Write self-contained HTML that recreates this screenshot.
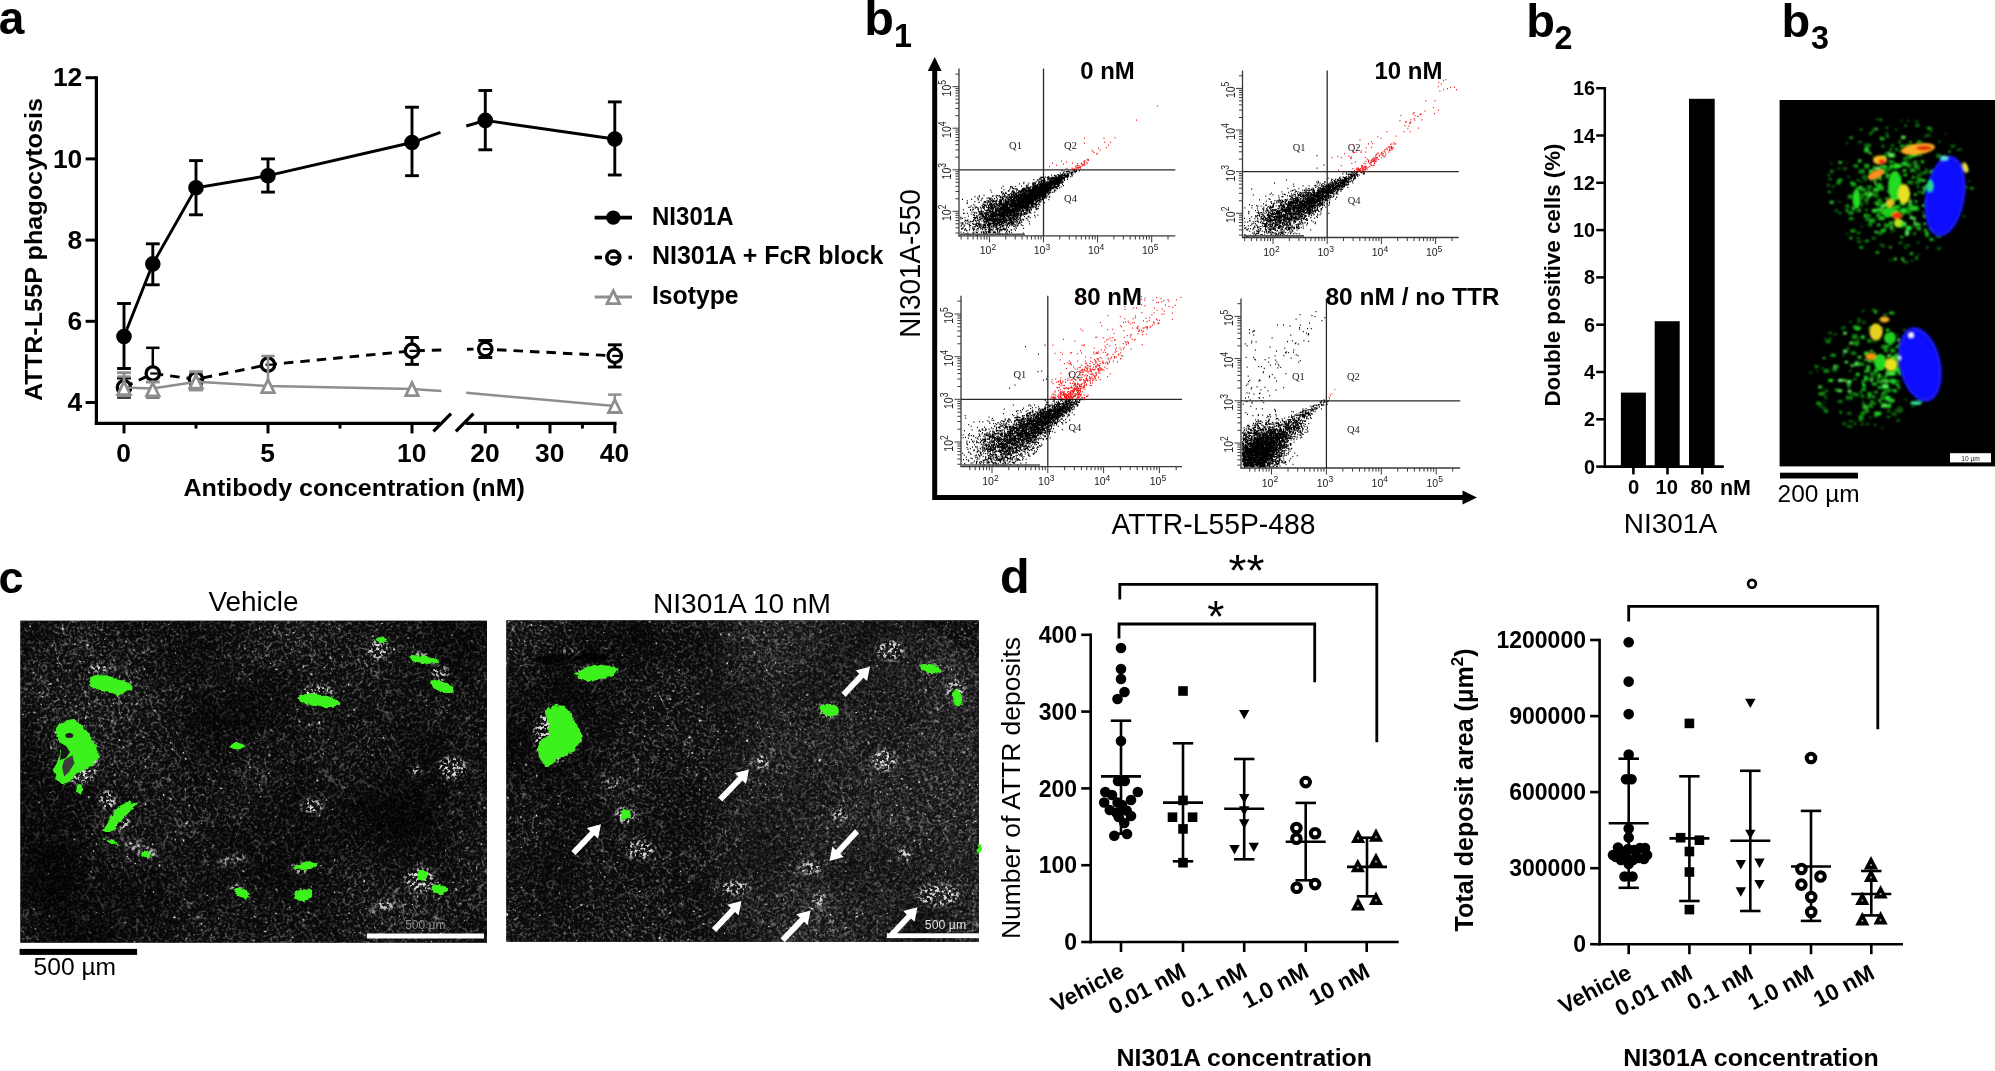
<!DOCTYPE html>
<html><head><meta charset="utf-8"><title>Figure</title>
<style>
html,body{margin:0;padding:0;background:#fff;}
body{width:1995px;height:1071px;overflow:hidden;}
svg{display:block;font-family:"Liberation Sans",sans-serif;}
</style></head><body>
<svg width="1995" height="1071" viewBox="0 0 1995 1071">
<rect width="1995" height="1071" fill="#fff"/>
<g id="panel-a">
<text x="-1.2" y="33.6" font-size="46" text-anchor="start" fill="#000" font-weight="bold" >a</text>
<line x1="96.4" y1="76.2" x2="96.4" y2="425" stroke="#000" stroke-width="3.2" />
<line x1="94.8" y1="423.4" x2="440" y2="423.4" stroke="#000" stroke-width="3.2" />
<line x1="465.6" y1="423.4" x2="616.5" y2="423.4" stroke="#000" stroke-width="3.2" />
<line x1="433.4" y1="431.3" x2="451" y2="413.7" stroke="#000" stroke-width="3.3" />
<line x1="455.9" y1="431.3" x2="473.4" y2="413.7" stroke="#000" stroke-width="3.3" />
<line x1="85.6" y1="402.5" x2="96.4" y2="402.5" stroke="#000" stroke-width="3" />
<text x="82.3" y="411.1" font-size="26.4" text-anchor="end" fill="#000" font-weight="bold" >4</text>
<line x1="85.6" y1="321.3" x2="96.4" y2="321.3" stroke="#000" stroke-width="3" />
<text x="82.3" y="329.9" font-size="26.4" text-anchor="end" fill="#000" font-weight="bold" >6</text>
<line x1="85.6" y1="240.1" x2="96.4" y2="240.1" stroke="#000" stroke-width="3" />
<text x="82.3" y="248.7" font-size="26.4" text-anchor="end" fill="#000" font-weight="bold" >8</text>
<line x1="85.6" y1="158.9" x2="96.4" y2="158.9" stroke="#000" stroke-width="3" />
<text x="82.3" y="167.5" font-size="26.4" text-anchor="end" fill="#000" font-weight="bold" >10</text>
<line x1="85.6" y1="77.7" x2="96.4" y2="77.7" stroke="#000" stroke-width="3" />
<text x="82.3" y="86.3" font-size="26.4" text-anchor="end" fill="#000" font-weight="bold" >12</text>
<line x1="124" y1="423.4" x2="124" y2="433.4" stroke="#000" stroke-width="3" />
<text x="123.7" y="461.9" font-size="26.4" text-anchor="middle" fill="#000" font-weight="bold" >0</text>
<line x1="268" y1="423.4" x2="268" y2="433.4" stroke="#000" stroke-width="3" />
<text x="267.7" y="461.9" font-size="26.4" text-anchor="middle" fill="#000" font-weight="bold" >5</text>
<line x1="412" y1="423.4" x2="412" y2="433.4" stroke="#000" stroke-width="3" />
<text x="411.7" y="461.9" font-size="26.4" text-anchor="middle" fill="#000" font-weight="bold" >10</text>
<line x1="485.3" y1="423.4" x2="485.3" y2="433.4" stroke="#000" stroke-width="3" />
<text x="485" y="461.9" font-size="26.4" text-anchor="middle" fill="#000" font-weight="bold" >20</text>
<line x1="550" y1="423.4" x2="550" y2="433.4" stroke="#000" stroke-width="3" />
<text x="549.8" y="461.9" font-size="26.4" text-anchor="middle" fill="#000" font-weight="bold" >30</text>
<line x1="614.8" y1="423.4" x2="614.8" y2="433.4" stroke="#000" stroke-width="3" />
<text x="614.5" y="461.9" font-size="26.4" text-anchor="middle" fill="#000" font-weight="bold" >40</text>
<line x1="196" y1="423.4" x2="196" y2="428.6" stroke="#000" stroke-width="3" />
<line x1="340" y1="423.4" x2="340" y2="428.6" stroke="#000" stroke-width="3" />
<line x1="517.7" y1="423.4" x2="517.7" y2="428.6" stroke="#000" stroke-width="3" />
<line x1="582.4" y1="423.4" x2="582.4" y2="428.6" stroke="#000" stroke-width="3" />
<text x="354.2" y="496.3" font-size="24.8" text-anchor="middle" fill="#000" font-weight="bold" textLength="341.5" lengthAdjust="spacingAndGlyphs" >Antibody concentration (nM)</text>
<text x="42" y="249.5" font-size="24.5" text-anchor="middle" fill="#000" font-weight="bold" transform="rotate(-90 42 249.5)" textLength="303" lengthAdjust="spacingAndGlyphs" >ATTR-L55P phagocytosis</text>
<polyline fill="none" stroke="#000" stroke-width="2.9" stroke-dasharray="9.5 7" points="124,387.4 152.8,373.5 196,379.3 268,364.7 412,350.9 447,349.8"/>
<polyline fill="none" stroke="#000" stroke-width="2.9" stroke-dasharray="9.5 7" stroke-dashoffset="3" points="467,349.2 485.4,349.1 614.3,355.9"/>
<line x1="124" y1="378" x2="124" y2="397.3" stroke="#000" stroke-width="2.9" />
<line x1="117.1" y1="378" x2="130.9" y2="378" stroke="#000" stroke-width="2.9" />
<line x1="117.1" y1="397.3" x2="130.9" y2="397.3" stroke="#000" stroke-width="2.9" />
<line x1="152.8" y1="347.8" x2="152.8" y2="366" stroke="#000" stroke-width="2.5" />
<line x1="146.1" y1="347.8" x2="159.5" y2="347.8" stroke="#000" stroke-width="2.5" />
<line x1="146.1" y1="397.3" x2="159.5" y2="397.3" stroke="#000" stroke-width="2.5" />
<line x1="196" y1="375" x2="196" y2="384" stroke="#333" stroke-width="2.9" />
<line x1="189.1" y1="375" x2="202.9" y2="375" stroke="#333" stroke-width="2.9" />
<line x1="189.1" y1="384" x2="202.9" y2="384" stroke="#333" stroke-width="2.9" />
<line x1="412" y1="337.5" x2="412" y2="364.4" stroke="#000" stroke-width="2.9" />
<line x1="405.1" y1="337.5" x2="418.9" y2="337.5" stroke="#000" stroke-width="2.9" />
<line x1="405.1" y1="364.4" x2="418.9" y2="364.4" stroke="#000" stroke-width="2.9" />
<line x1="485.3" y1="340.5" x2="485.3" y2="357.5" stroke="#000" stroke-width="2.9" />
<line x1="478.4" y1="340.5" x2="492.2" y2="340.5" stroke="#000" stroke-width="2.9" />
<line x1="478.4" y1="357.5" x2="492.2" y2="357.5" stroke="#000" stroke-width="2.9" />
<line x1="614.8" y1="344.8" x2="614.8" y2="367" stroke="#000" stroke-width="2.9" />
<line x1="607.9" y1="344.8" x2="621.7" y2="344.8" stroke="#000" stroke-width="2.9" />
<line x1="607.9" y1="367" x2="621.7" y2="367" stroke="#000" stroke-width="2.9" />
<circle cx="124" cy="387.4" r="6.7" fill="#fff" stroke="#000" stroke-width="3.3"/>
<line x1="121.5" y1="387.4" x2="129" y2="387.4" stroke="#000" stroke-width="2.2" />
<circle cx="152.8" cy="373.5" r="6.7" fill="#fff" stroke="#000" stroke-width="3.3"/>
<line x1="150.3" y1="373.5" x2="157.8" y2="373.5" stroke="#000" stroke-width="2.2" />
<circle cx="196" cy="379.3" r="6.7" fill="#fff" stroke="#000" stroke-width="3.3"/>
<line x1="193.5" y1="379.3" x2="201" y2="379.3" stroke="#000" stroke-width="2.2" />
<circle cx="268" cy="364.7" r="6.7" fill="#fff" stroke="#000" stroke-width="3.3"/>
<line x1="265.5" y1="364.7" x2="273" y2="364.7" stroke="#000" stroke-width="2.2" />
<circle cx="412" cy="350.9" r="6.7" fill="#fff" stroke="#000" stroke-width="3.3"/>
<line x1="409.5" y1="350.9" x2="417" y2="350.9" stroke="#000" stroke-width="2.2" />
<circle cx="485.3" cy="349.1" r="6.7" fill="#fff" stroke="#000" stroke-width="3.3"/>
<line x1="482.8" y1="349.1" x2="490.3" y2="349.1" stroke="#000" stroke-width="2.2" />
<circle cx="614.8" cy="355.9" r="6.7" fill="#fff" stroke="#000" stroke-width="3.3"/>
<line x1="612.3" y1="355.9" x2="619.8" y2="355.9" stroke="#000" stroke-width="2.2" />
<polyline fill="none" stroke="#8e8e8e" stroke-width="2.5" points="123.5,387.5 152.3,388.5 196.7,381.8 268.5,386 411.9,389 441.5,391"/>
<line x1="466.2" y1="392.8" x2="614.6" y2="405.9" stroke="#8e8e8e" stroke-width="2.5" />
<line x1="124" y1="372.7" x2="124" y2="396" stroke="#8e8e8e" stroke-width="2.9" />
<line x1="117.1" y1="372.7" x2="130.9" y2="372.7" stroke="#8e8e8e" stroke-width="2.9" />
<line x1="117.1" y1="396" x2="130.9" y2="396" stroke="#8e8e8e" stroke-width="2.9" />
<line x1="117.3" y1="376.6" x2="130.7" y2="376.6" stroke="#8e8e8e" stroke-width="2.5" />
<line x1="152.8" y1="382" x2="152.8" y2="396.5" stroke="#8e8e8e" stroke-width="2.9" />
<line x1="145.9" y1="382" x2="159.7" y2="382" stroke="#8e8e8e" stroke-width="2.9" />
<line x1="145.9" y1="396.5" x2="159.7" y2="396.5" stroke="#8e8e8e" stroke-width="2.9" />
<line x1="196" y1="371.7" x2="196" y2="390" stroke="#8e8e8e" stroke-width="2.9" />
<line x1="189.1" y1="371.7" x2="202.9" y2="371.7" stroke="#8e8e8e" stroke-width="2.9" />
<line x1="189.1" y1="390" x2="202.9" y2="390" stroke="#8e8e8e" stroke-width="2.9" />
<line x1="268" y1="356" x2="268" y2="388" stroke="#8e8e8e" stroke-width="2.5" />
<line x1="261.3" y1="356" x2="274.7" y2="356" stroke="#8e8e8e" stroke-width="2.5" />
<line x1="614.8" y1="394.6" x2="614.8" y2="400" stroke="#8e8e8e" stroke-width="2.5" />
<line x1="608.1" y1="394.6" x2="621.5" y2="394.6" stroke="#8e8e8e" stroke-width="2.5" />
<path d="M124 381.7L130.3 394.6L117.7 394.6Z" fill="#fff" stroke="#8e8e8e" stroke-width="2.8" stroke-linejoin="miter"/>
<path d="M152.8 383L159.1 395.9L146.5 395.9Z" fill="#fff" stroke="#8e8e8e" stroke-width="2.8" stroke-linejoin="miter"/>
<path d="M196 375.2L202.3 388.1L189.7 388.1Z" fill="#fff" stroke="#8e8e8e" stroke-width="2.8" stroke-linejoin="miter"/>
<path d="M268 379.7L274.3 392.6L261.7 392.6Z" fill="#fff" stroke="#8e8e8e" stroke-width="2.8" stroke-linejoin="miter"/>
<path d="M412 382.7L418.3 395.6L405.7 395.6Z" fill="#fff" stroke="#8e8e8e" stroke-width="2.8" stroke-linejoin="miter"/>
<path d="M614.8 399.6L621.1 412.5L608.5 412.5Z" fill="#fff" stroke="#8e8e8e" stroke-width="2.8" stroke-linejoin="miter"/>
<polyline fill="none" stroke="#000" stroke-width="2.9" points="124,336.5 152.8,263.9 196,187.8 268,175.7 412,142.5 440.5,132.4"/>
<polyline fill="none" stroke="#000" stroke-width="2.9" points="466.3,126 485.4,120.4 614.3,139"/>
<line x1="124" y1="303.5" x2="124" y2="368.5" stroke="#000" stroke-width="2.9" />
<line x1="117.1" y1="303.5" x2="130.9" y2="303.5" stroke="#000" stroke-width="2.9" />
<line x1="117.1" y1="368.5" x2="130.9" y2="368.5" stroke="#000" stroke-width="2.9" />
<circle cx="124" cy="336.5" r="7.8" fill="#000"/>
<line x1="152.8" y1="243.8" x2="152.8" y2="284.8" stroke="#000" stroke-width="2.9" />
<line x1="145.9" y1="243.8" x2="159.7" y2="243.8" stroke="#000" stroke-width="2.9" />
<line x1="145.9" y1="284.8" x2="159.7" y2="284.8" stroke="#000" stroke-width="2.9" />
<circle cx="152.8" cy="263.9" r="7.8" fill="#000"/>
<line x1="196" y1="160.6" x2="196" y2="214.8" stroke="#000" stroke-width="2.9" />
<line x1="189.1" y1="160.6" x2="202.9" y2="160.6" stroke="#000" stroke-width="2.9" />
<line x1="189.1" y1="214.8" x2="202.9" y2="214.8" stroke="#000" stroke-width="2.9" />
<circle cx="196" cy="187.8" r="7.8" fill="#000"/>
<line x1="268" y1="158.9" x2="268" y2="192.1" stroke="#000" stroke-width="2.9" />
<line x1="261.1" y1="158.9" x2="274.9" y2="158.9" stroke="#000" stroke-width="2.9" />
<line x1="261.1" y1="192.1" x2="274.9" y2="192.1" stroke="#000" stroke-width="2.9" />
<circle cx="268" cy="175.7" r="7.8" fill="#000"/>
<line x1="412" y1="107.2" x2="412" y2="175.7" stroke="#000" stroke-width="2.9" />
<line x1="405.1" y1="107.2" x2="418.9" y2="107.2" stroke="#000" stroke-width="2.9" />
<line x1="405.1" y1="175.7" x2="418.9" y2="175.7" stroke="#000" stroke-width="2.9" />
<circle cx="412" cy="142.5" r="7.8" fill="#000"/>
<line x1="485.3" y1="90.5" x2="485.3" y2="149.8" stroke="#000" stroke-width="2.9" />
<line x1="478.4" y1="90.5" x2="492.2" y2="90.5" stroke="#000" stroke-width="2.9" />
<line x1="478.4" y1="149.8" x2="492.2" y2="149.8" stroke="#000" stroke-width="2.9" />
<circle cx="485.3" cy="120.4" r="7.8" fill="#000"/>
<line x1="614.8" y1="101.9" x2="614.8" y2="175" stroke="#000" stroke-width="2.9" />
<line x1="607.9" y1="101.9" x2="621.7" y2="101.9" stroke="#000" stroke-width="2.9" />
<line x1="607.9" y1="175" x2="621.7" y2="175" stroke="#000" stroke-width="2.9" />
<circle cx="614.8" cy="139" r="7.8" fill="#000"/>
<line x1="594.6" y1="217.6" x2="632" y2="217.6" stroke="#000" stroke-width="3.6" />
<circle cx="613.3" cy="217.6" r="7.2" fill="#000"/>
<text x="652" y="224.6" font-size="25.7" text-anchor="start" fill="#000" font-weight="bold" textLength="81.5" lengthAdjust="spacingAndGlyphs" >NI301A</text>
<line x1="594.6" y1="257.5" x2="602" y2="257.5" stroke="#000" stroke-width="3.6" />
<line x1="628.5" y1="257.5" x2="632" y2="257.5" stroke="#000" stroke-width="3.6" />
<circle cx="613.3" cy="257.5" r="6.5" fill="#fff" stroke="#000" stroke-width="3.6"/>
<line x1="610.3" y1="257.5" x2="618.3" y2="257.5" stroke="#000" stroke-width="2.6" />
<text x="652" y="264.2" font-size="25.7" text-anchor="start" fill="#000" font-weight="bold" textLength="231.5" lengthAdjust="spacingAndGlyphs" >NI301A + FcR block</text>
<line x1="594.6" y1="297" x2="632" y2="297" stroke="#8e8e8e" stroke-width="3.2" />
<path d="M613.3 290.7L619.6 303.6L607 303.6Z" fill="#fff" stroke="#8e8e8e" stroke-width="2.8" stroke-linejoin="miter"/>
<text x="652" y="304.2" font-size="25.7" text-anchor="start" fill="#000" font-weight="bold" textLength="86.5" lengthAdjust="spacingAndGlyphs" >Isotype</text>
</g>
<g id="panel-b1">
<text x="864.3" y="35.3" font-size="48.5" text-anchor="start" fill="#000" font-weight="bold" >b</text>
<text x="894" y="47" font-size="32.3" text-anchor="start" fill="#000" font-weight="bold" >1</text>
<path d="M934.7 69V497.5H1464" fill="none" stroke="#000" stroke-width="5"/>
<path d="M934.7 57L941.6 71H927.8Z" fill="#000"/>
<path d="M1477 497.5L1462.5 490.6V504.4Z" fill="#000"/>
<text x="920" y="263.5" font-size="29.5" text-anchor="middle" fill="#000" transform="rotate(-90 920 263.5)" textLength="148.5" lengthAdjust="spacingAndGlyphs" >NI301A-550</text>
<text x="1213.5" y="534.2" font-size="28.6" text-anchor="middle" fill="#000" textLength="204" lengthAdjust="spacingAndGlyphs" >ATTR-L55P-488</text>
<line x1="959" y1="68.5" x2="959" y2="236.4" stroke="#3a3a3a" stroke-width="1.3" />
<line x1="958.5" y1="235.9" x2="1175.3" y2="235.9" stroke="#3a3a3a" stroke-width="1.3" />
<path d="M961.1 235.9v3.6M959 233h-3.6M967.9 235.9v3.6M959 227.8h-3.6M973.1 235.9v3.6M959 223.8h-3.6M977.4 235.9v3.6M959 220.5h-3.6M981 235.9v3.6M959 217.7h-3.6M984.2 235.9v3.6M959 215.3h-3.6M986.9 235.9v3.6M959 213.2h-3.6M989.4 235.9v6.5M959 211.3h-6.5M1005.7 235.9v3.6M959 198.8h-3.6M1015.2 235.9v3.6M959 191.5h-3.6M1022 235.9v3.6M959 186.3h-3.6M1027.2 235.9v3.6M959 182.3h-3.6M1031.5 235.9v3.6M959 179h-3.6M1035.1 235.9v3.6M959 176.2h-3.6M1038.3 235.9v3.6M959 173.8h-3.6M1041 235.9v3.6M959 171.7h-3.6M1043.5 235.9v6.5M959 169.8h-6.5M1059.8 235.9v3.6M959 157.2h-3.6M1069.3 235.9v3.6M959 149.9h-3.6M1076.1 235.9v3.6M959 144.7h-3.6M1081.3 235.9v3.6M959 140.7h-3.6M1085.6 235.9v3.6M959 137.4h-3.6M1089.2 235.9v3.6M959 134.6h-3.6M1092.4 235.9v3.6M959 132.2h-3.6M1095.1 235.9v3.6M959 130.1h-3.6M1097.6 235.9v6.5M959 128.2h-6.5M1113.9 235.9v3.6M959 115.7h-3.6M1123.4 235.9v3.6M959 108.4h-3.6M1130.2 235.9v3.6M959 103.2h-3.6M1135.4 235.9v3.6M959 99.2h-3.6M1139.7 235.9v3.6M959 95.9h-3.6M1143.3 235.9v3.6M959 93.1h-3.6M1146.5 235.9v3.6M959 90.7h-3.6M1149.2 235.9v3.6M959 88.6h-3.6M1151.7 235.9v6.5M959 86.7h-6.5M1168 235.9v3.6M959 74.1h-3.6" stroke="#3a3a3a" stroke-width="1" fill="none"/>
<text x="987.9" y="254.4" font-size="10.5" text-anchor="middle" fill="#222">10<tspan dy="-4.5" font-size="8.5">2</tspan></text>
<text font-size="10.5" text-anchor="middle" fill="#222" transform="translate(951.2 212.8) rotate(-90) scale(1 1.25)">10<tspan dy="-4.5" font-size="8.5">2</tspan></text>
<text x="1042" y="254.4" font-size="10.5" text-anchor="middle" fill="#222">10<tspan dy="-4.5" font-size="8.5">3</tspan></text>
<text font-size="10.5" text-anchor="middle" fill="#222" transform="translate(951.2 171.2) rotate(-90) scale(1 1.25)">10<tspan dy="-4.5" font-size="8.5">3</tspan></text>
<text x="1096.1" y="254.4" font-size="10.5" text-anchor="middle" fill="#222">10<tspan dy="-4.5" font-size="8.5">4</tspan></text>
<text font-size="10.5" text-anchor="middle" fill="#222" transform="translate(951.2 129.7) rotate(-90) scale(1 1.25)">10<tspan dy="-4.5" font-size="8.5">4</tspan></text>
<text x="1150.2" y="254.4" font-size="10.5" text-anchor="middle" fill="#222">10<tspan dy="-4.5" font-size="8.5">5</tspan></text>
<text font-size="10.5" text-anchor="middle" fill="#222" transform="translate(951.2 88.2) rotate(-90) scale(1 1.25)">10<tspan dy="-4.5" font-size="8.5">5</tspan></text>
<line x1="1043.5" y1="68.5" x2="1043.5" y2="235.9" stroke="#2a2a2a" stroke-width="1.3" />
<line x1="959" y1="169.8" x2="1175.3" y2="169.8" stroke="#2a2a2a" stroke-width="1.3" />
<text x="1015.5" y="148.8" font-size="10.5" text-anchor="middle" fill="#222" font-family="Liberation Serif,serif">Q1</text>
<text x="1070.5" y="148.8" font-size="10.5" text-anchor="middle" fill="#222" font-family="Liberation Serif,serif">Q2</text>
<text x="1070.5" y="201.8" font-size="10.5" text-anchor="middle" fill="#222" font-family="Liberation Serif,serif">Q4</text>
<g transform="translate(959 68.5)" fill="none" stroke-width="1.25">
<path stroke="#000" d="M70 129.7h1M67.8 134.1h1M39.2 140h1M67.3 141.3h1M76.9 117.9h1M30.5 154h1M28.6 145.8h1M67.7 126.6h1M24.3 164.1h1M33.7 160.3h1M51.1 138.1h1M77.7 124.1h1M60.9 134.9h1M71.2 129.5h1M46.2 131.6h1M84.9 122.3h1M37.9 140.1h1M69.4 135.2h1M38.5 137.1h1M83 120.6h1M59.9 135.9h1M30.5 147.4h1M105.8 107h1M56 136.4h1M90 118.4h1M46.6 141h1M77.2 127.1h1M67.1 118.8h1M55.3 139.3h1M91.1 114.9h1M59.3 145.1h1M41 151.9h1M87.1 121.6h1M88.3 122.2h1M60.6 138.8h1M57.3 132.3h1M33.6 157.6h1M88.4 116.9h1M29.4 129.1h1M91.8 115.6h1M75.4 136.1h1M57.4 148.5h1M28.7 155.7h1M50.3 120.6h1M66.7 136.1h1M65.4 119.7h1M58.7 133.9h1M56.4 144.4h1M37.7 148.4h1M52.1 150h1M68.8 148.1h1M67 141.5h1M67.3 125h1M44.3 156.8h1M84.4 125.8h1M95.3 115.7h1M91.5 114.1h1M92.2 109h1M41.8 142.9h1M58.2 129.4h1M96.1 112h1M69.3 130h1M76.9 133.1h1M102.6 108.4h1M83.8 128.7h1M61.1 128.9h1M95.3 118h1M55.3 134.6h1M84 123.1h1M33 148.4h1M98.1 111.9h1M70.3 123.1h1M64.7 132.6h1M60.3 141.4h1M55 145.3h1M30.8 162.7h1M71.8 121.4h1M86 125.2h1M85.7 121.2h1M99.8 116.7h1M80.2 122.2h1M99.6 110.2h1M95.8 109h1M39.2 140.4h1M56.9 130.3h1M46.6 134.7h1M38.1 137.7h1M65.7 134.9h1M105.3 107.4h1M83 120.9h1M47.2 153.1h1M82.6 120.1h1M34.9 135h1M46.3 164.6h1M84.8 109.7h1M51.3 140.7h1M52.1 135.5h1M24.8 155.5h1M43.6 117.8h1M65.2 129.9h1M49.8 136.1h1M66.6 133.8h1M34.6 150.1h1M82.8 125h1M72 140.6h1M44.5 150.5h1M81.6 108.6h1M89.5 119.9h1M82 114.6h1M45.9 141.5h1M54.4 132.7h1M28.6 139.2h1M40.1 154.2h1M84.5 124.7h1M49.6 131h1M75.9 129.2h1M40 156.5h1M115.3 103.4h1M12.1 130.8h1M47.2 139.1h1M41.6 160.6h1M28.1 156.1h1M62 135.9h1M49.1 128.6h1M33.4 154.1h1M81.5 120.3h1M65.7 131.3h1M29.2 144.6h1M76.3 117.6h1M33 127.5h1M65.8 128.6h1M57.7 127.4h1M61.4 128.1h1M79.2 123.8h1M91.4 122.1h1M42.9 141.4h1M81.5 121.9h1M27.4 147.9h1M85.2 123.8h1M36.6 147.6h1M30.6 165.8h1M28.7 140.2h1M55.2 141.3h1M53.2 126.2h1M68.9 132.5h1M59.9 129h1M37.7 142.7h1M70.3 142.8h1M70.7 130.6h1M45.5 135.3h1M75.7 124.1h1M39.7 151.9h1M87.2 120.1h1M62.3 128.9h1M70.7 124.7h1M30.5 130h1M44.9 146.7h1M95.6 112.8h1M20.8 150.3h1M75.7 126.1h1M67.4 116.8h1M79 126.4h1M72.1 137.9h1M41.9 151h1M75.5 124.7h1M31.3 156.4h1M57 122.4h1M76.3 130.9h1M92.1 115.8h1M69.4 114.5h1M68 141.2h1M57.1 138.6h1M60.7 137.6h1M46.6 142.1h1M68.3 122.7h1M87.2 122.6h1M59 142.3h1M94.9 117.9h1M69.6 133.3h1M64.6 130h1M60.5 129.7h1M60.4 142.3h1M91.4 118.7h1M68.6 122.8h1M58.9 137.4h1M35 137.8h1M53 135.9h1M68.7 135.1h1M32.3 137.6h1M48.2 138.6h1M44.3 133.8h1M60.9 134.7h1M98.2 109.6h1M48.1 143.7h1M54.2 142.7h1M103.2 114h1M23.4 135.5h1M50 130.8h1M79.4 120.3h1M42.3 161.7h1M47.2 164.6h1M79.2 121.6h1M72.3 123.1h1M68.6 133.6h1M85.7 125.1h1M67 130.3h1M47.9 148.2h1M73.5 130.5h1M71.1 124.6h1M83.6 122.1h1M43.9 140.6h1M52.6 126.1h1M67.8 130.8h1M43.8 147.2h1M35.5 151.7h1M58.5 137h1M88.4 117.9h1M53.3 155.6h1M46.5 143.3h1M34 149.4h1M41.6 146.5h1M52.2 125.5h1M67.5 134.6h1M35 154.3h1M55.5 143.6h1M52.7 135h1M88.4 120.8h1M100.1 114.2h1M81.9 125.8h1M27.3 146h1M98 111.4h1M82.1 127.2h1M79.7 123.1h1M98.3 108.9h1M32.9 130.5h1M101.5 109.1h1M97.5 114.7h1M51.2 130.2h1M80.6 125.3h1M58 129.3h1M58.1 140.7h1M78.3 116.1h1M50.1 151h1M31.3 131.5h1M31.2 164h1M47.2 136h1M91.5 117.3h1M74.4 126.6h1M44.9 147.2h1M109.4 104.6h1M21.7 163.3h1M67 131.9h1M65.2 120.1h1M54.8 133.3h1M61.3 148.2h1M81.1 126.9h1M96 118.2h1M60.1 128.6h1M58.1 141.4h1M100 108h1M83.7 120.9h1M43.3 147.8h1M90.3 117.1h1M85.3 125.7h1M83.6 124.2h1M95.1 112.1h1M57 144.4h1M46.5 137.6h1M80.7 130h1M114.6 102h1M98.7 112.9h1M46.4 142.3h1M84.1 118.6h1M42.8 143h1M37.4 150.2h1M38.6 154.1h1M21 145h1M77.9 120.3h1M68 131.9h1M57.1 137.6h1M50.1 141.1h1M93.9 112.5h1M45.1 141h1M104.1 109.2h1M56.3 132.1h1M49 158.9h1M63 121.9h1M53.3 133h1M78.1 123.5h1M99 109.9h1M67.3 135.6h1M88.6 115.7h1M67.9 126.6h1M64.5 141.8h1M41.6 139h1M43.2 146h1M67.8 126h1M76.1 138.5h1M45.3 138.2h1M43.7 134.5h1M42.1 151.3h1M63.9 130.9h1M77.1 127.5h1M35.8 148.2h1M42.2 141h1M17.9 139.4h1M57 135.9h1M37 128.8h1M47.5 144.2h1M52.8 139.9h1M53.9 149.8h1M66.4 136.2h1M61.3 151.2h1M100.3 112.2h1M29.9 149.7h1M67.9 119.2h1M84.7 119.3h1M69.1 134.6h1M88.3 110.9h1M60.9 123.9h1M78.8 118.4h1M52.9 134.8h1M46.5 133.2h1M91 112.5h1M52.2 134.3h1M68.6 121.8h1M39 146.7h1M84.9 116.9h1M89.3 115.5h1M70.9 125.8h1M52.2 156h1M44.1 141.1h1M108.4 106.7h1M65.7 135.1h1M97.8 114.8h1M83.7 116.7h1M34 145h1M76.2 123.1h1M73.5 121h1M79.6 125.9h1M72.8 131.7h1M59.8 137.2h1M76.6 123.8h1M86.5 125.3h1M30.6 142.9h1M83.3 124h1M103.9 104.4h1M51.9 146.7h1M70.6 130.2h1M100.4 111.1h1M54.7 150.4h1M25.7 145h1M42 135.1h1M64.1 159.8h1M55.7 136.6h1M90.2 116.5h1M59.6 137.2h1M53.7 149.6h1M58.2 136.3h1M80.8 117.4h1M55.1 146.2h1M55.7 129.3h1M46 131.9h1M76.9 121.2h1M90 117.5h1M28.9 133.7h1M64.7 133.3h1M94.9 106.9h1M42.4 147.1h1M50.3 155.1h1M45 143.5h1M88.3 116.4h1M50.3 144.5h1M47.8 143.9h1M54.7 133.3h1M77.5 128.4h1M69.2 135.4h1M90.2 119h1M36.5 133.1h1M49.6 135.4h1M67.6 132.5h1M86 114.9h1M67.2 134.8h1M82.1 120.6h1M50.6 149.8h1M67.6 121.6h1M27.4 138.8h1M63.8 126.6h1M63.1 132.5h1M19.9 158.4h1M35.4 156.6h1M38.7 151.7h1M73.5 116.5h1M99 110.4h1M60.7 133.6h1M40.2 134.6h1M73 133.3h1M89.2 118.5h1M47.9 130.3h1M69.7 122h1M97.9 113.2h1M82.5 119.9h1M61 128.2h1M74.9 120.9h1M36.1 137.9h1M41.9 133.9h1M59.7 145.2h1M47.1 153.3h1M76.7 130.1h1M48.2 143.3h1M37.4 152.9h1M51.1 143h1M57 124.8h1M37.9 139.7h1M42.5 156.4h1M77.7 123.9h1M79.8 118.2h1M72.8 128.5h1M35.1 145.8h1M91.2 121.3h1M51.8 134.4h1M52.9 123.2h1M60.5 139.5h1M27.6 152.7h1M48.9 155.2h1M27.6 131.9h1M65.8 131h1M97.2 113.9h1M46.7 142.3h1M53 137.1h1M62.2 134.4h1M41.5 161.1h1M42.8 139.3h1M26.2 133.9h1M24.5 126.8h1M40.4 136.4h1M60 138.5h1M67.2 137.1h1M37.5 153.7h1M22.7 137.2h1M21.4 145.9h1M59.5 132.2h1M7.8 144.9h1M65.8 130.2h1M43.3 136h1M94.5 112.9h1M37.8 147.4h1M91.9 113.4h1M75.6 130.4h1M113.6 101.2h1M69.3 126.7h1M74.2 114.9h1M74.6 125.1h1M65.1 120.6h1M75.7 123.9h1M40.3 158.8h1M61.2 127.1h1M108.9 108.1h1M91.1 113.5h1M51.9 137.1h1M103.2 108.3h1M37.9 140.5h1M62.6 141.5h1M44.3 152.2h1M52.9 155.1h1M66.5 141.3h1M54.7 131.7h1M88.6 118.3h1M72.6 129.7h1M63.4 157.1h1M76.8 117.9h1M35.8 149.4h1M84.1 113.1h1M40.5 131.3h1M63.6 130.1h1M64.5 122.8h1M65.2 129.5h1M25.4 155.6h1M68.7 131.4h1M66.3 127.7h1M31.6 140.9h1M70.8 120.6h1M96.9 111h1M65.1 131.3h1M53.6 123.5h1M102.5 114.5h1M68 129.8h1M41.7 154.3h1M47 146.2h1M83.4 121.3h1M31.3 139.7h1M25.5 159.9h1M56.9 150.3h1M38.7 142.4h1M43 129.9h1M75.8 135.4h1M84.4 120.6h1M60.3 140.9h1M78.6 125.5h1M94.8 115.4h1M45.1 145h1M73.1 119.8h1M32.1 147.9h1M88.1 117.5h1M87.9 114h1M51.5 143.2h1M43.2 145.3h1M72.2 132h1M66.5 138.2h1M33.3 140.4h1M46.9 136.3h1M57.9 128.2h1M51.4 142.1h1M82.5 122.4h1M67 138.2h1M78.4 127.7h1M65.2 126.8h1M27.6 146h1M18.2 148.3h1M46.9 128.5h1M84.6 122h1M49.3 134.1h1M51.8 147.7h1M74 133.1h1M57.5 127.7h1M41.6 132.1h1M45.4 145.4h1M88.2 115.3h1M61 147.3h1M50.1 138.8h1M25.9 160.6h1M55.8 141.1h1M50.3 149.1h1M103.1 107.2h1M11.7 137.4h1M60.7 130.6h1M76 123.1h1M79.2 135.2h1M48.3 134.9h1M93.6 113.4h1M63.6 128.3h1M108 109h1M94.3 111.3h1M89.2 121.4h1M34.2 158h1M74.7 118.2h1M63 120h1M64.2 137.2h1M75 123.9h1M50 136.2h1M41.4 146.6h1M87 113.7h1M88.5 122.7h1M86.8 119.8h1M37.2 132h1M54.2 145.7h1M113.3 101h1M46.4 160.5h1M20.2 156.3h1M29.8 157.9h1M42.8 144.8h1M38.3 146h1M53.9 126.7h1M68.9 125.2h1M43.9 131.9h1M72.5 122.7h1M18.3 150.1h1M27.9 149.3h1M58.9 137.8h1M98.9 115.8h1M83.9 119.5h1M52.1 163.9h1M54.3 120.4h1M37.9 140.2h1M61.3 138.1h1M58.3 156.2h1M32.5 141.8h1M80.4 122.1h1M33.2 139.1h1M108 110.8h1M47.7 140.9h1M79.3 112.6h1M59.2 135.3h1M54.5 131.1h1M42.9 144.8h1M106.6 107.1h1M50.7 141.2h1M62.4 143.2h1M65.3 133.4h1M93.8 112.4h1M42.6 148.5h1M47.2 134.8h1M47.7 147.8h1M74.3 126.8h1M93.4 112.2h1M58.8 132.7h1M33.3 149h1M67.4 140.6h1M88.9 116.1h1M77 125.5h1M69.7 130.3h1M81.7 116.1h1M47.9 137.8h1M56.1 136.2h1M34.5 138.3h1M67.8 129.8h1M46.4 123.9h1M33.6 145.8h1M73.9 115.9h1M78.6 118.6h1M91.8 114.7h1M99.4 112.8h1M25 153.1h1M70.6 143.9h1M89.8 124.5h1M18.4 140.8h1M50.1 152.4h1M69.5 147.5h1M34.9 163.4h1M39.6 155.3h1M55.8 138h1M79.9 124.2h1M71.2 125.9h1M58.5 127.3h1M54.4 141.8h1M65.1 128.4h1M29 138.7h1M58.8 135.5h1M41.8 143.9h1M29.2 137h1M103.8 110h1M20.7 144.6h1M47.9 142.5h1M60.6 131.8h1M32 135h1M42.1 136.3h1M52.8 136.1h1M50.6 152.3h1M32.7 151.5h1M54.5 151.9h1M90.1 116.6h1M81.8 120.9h1M68 142.7h1M34 155.3h1M103.4 110.9h1M56.3 147.5h1M58.6 134.3h1M23.8 163h1M63.7 125.6h1M47.1 141.9h1M84.7 127.2h1M16 152.3h1M36.3 148.4h1M78.8 131.9h1M87.4 119h1M34 136.2h1M74.8 128.7h1M97.9 112.9h1M47.4 136.8h1M44.7 127.4h1M80 126.7h1M65.8 125.8h1M107.5 103.4h1M55.2 136.6h1M66.7 138h1M31.7 138.8h1M51.1 153.7h1M64 143.1h1M25.9 145.7h1M71.3 125.8h1M59.6 150h1M83.3 126.2h1M70.3 134.1h1M101.9 106.3h1M82.6 118.4h1M27.9 156.4h1M68.6 122h1M55.2 155.7h1M95.8 107.8h1M51.8 152.4h1M25.7 146.9h1M67.2 127.6h1M34.5 137.8h1M32.5 138.3h1M84.1 113.9h1M80.8 121.1h1M59.3 144.7h1M79.6 125.7h1M56.1 137.1h1M51.9 127.3h1M35.7 144.7h1M35.6 152.1h1M60.7 141.2h1M30.9 155.2h1M66.4 133.2h1M62.3 123.3h1M68.6 127.5h1M47.3 146h1M107.6 105.2h1M76.8 119.3h1M35.7 158.4h1M58 135.4h1M51.8 133.1h1M101.2 111.4h1M27.8 156.6h1M60.5 152h1M60.9 142.5h1M52.4 142.7h1M69.9 131.3h1M53.1 136.1h1M34.5 153.5h1M40.3 135.1h1M40.2 143.8h1M44.6 148.9h1M86.6 123.7h1M83.3 121.5h1M81.5 122.1h1M24 152h1M39.9 150.6h1M90.4 116.7h1M64 127.4h1M58.8 140.2h1M107.3 106.5h1M86.9 128.5h1M85.9 116.6h1M50 136.3h1M19.7 128.4h1M94.2 114.1h1M75.5 116.9h1M111.6 105.1h1M26.3 142.1h1M58.3 153.3h1M76.6 128h1M71.7 130.2h1M89.2 119.7h1M59.1 141.3h1M67.3 118.7h1M64 137.4h1M62.4 128.2h1M73.6 130.4h1M74.3 131.7h1M103 116.2h1M44.1 144.9h1M61.6 124.2h1M22.1 150.1h1M76.8 121.3h1M80.1 122h1M60.5 132.3h1M88.4 118.1h1M85 112.1h1M86.5 117.3h1M57.5 153.2h1M48.9 148.1h1M35.3 155.6h1M79.1 125.2h1M60.7 148.6h1M77.2 120.7h1M50.6 156.3h1M80.6 124.1h1M75 123.3h1M75.9 119.1h1M41.1 136.5h1M75.2 127h1M51.8 136.7h1M61.3 128.2h1M80.7 117.9h1M72.9 132.3h1M41.5 144.9h1M78.2 117.7h1M52.9 132.3h1M71 133h1M51.2 144.2h1M85.3 115.9h1M59.5 139.8h1M79.4 125.6h1M83 124.7h1M68.7 129.6h1M78 123.5h1M77.7 117h1M19.9 150.9h1M88.2 124.5h1M99.4 111.6h1M97.9 111.4h1M72.7 120.9h1M72.6 127.3h1M87.5 118.4h1M90.3 118.1h1M81.3 126.2h1M79.8 128.5h1M89.5 110.2h1M97.1 115.2h1M39.2 139.9h1M72 132.9h1M60 125.8h1M32.5 146.2h1M77.2 117h1M57.8 143h1M95.4 111.7h1M59.4 131.8h1M57.5 140.8h1M18.4 151.7h1M72 121.7h1M96.3 121.8h1M99.6 116.8h1M49 154.4h1M41.6 153.4h1M66.1 139.1h1M57.6 128.3h1M53.1 136.4h1M66.8 128.5h1M88.6 118.7h1M80.2 130.3h1M30 161.9h1M56.5 131.9h1M76.8 118.5h1M59.7 123.2h1M44.7 143.3h1M45.1 139.4h1M90.4 119.2h1M47.1 141.6h1M49 130.3h1M48.9 144.7h1M68.5 139.2h1M42.2 124.4h1M95.3 115.8h1M45.5 138.9h1M73.8 127.6h1M68.3 126.3h1M51.4 137.5h1M64.4 135.1h1M69.8 127.4h1M63.2 132.5h1M89.8 128.9h1M27.8 142.4h1M105.5 105.5h1M71.4 128.5h1M26.8 151.9h1M60.9 131.9h1M19.6 143.1h1M74 135.4h1M69.4 131.1h1M108 103.4h1M67.3 130.9h1M56.6 134.6h1M55.4 149.8h1M43.4 157h1M86 124h1M18.9 141.4h1M62.3 136.5h1M41.2 147.6h1M42.9 146.7h1M65.7 130.3h1M44.6 159.7h1M67 122.8h1M64.8 130.1h1M67.8 122.3h1M89.4 131.2h1M69.6 121.3h1M35.5 143.4h1M26.4 147.2h1M90 119.3h1M43.4 137.5h1M97.5 115.2h1M19.2 139.6h1M106.4 107.1h1M38 151.3h1M55.9 136h1M108.1 105.7h1M61.4 131.3h1M85.1 122.4h1M54.6 122.9h1M63.6 146.5h1M76.9 136.2h1M36.3 153.7h1M51.1 118.1h1M36 148.6h1M32.7 139.5h1M42.6 143.7h1M31.9 137.4h1M53.7 142.3h1M57.5 152.2h1M81.2 119.2h1M67 135.4h1M26.4 151.1h1M71.2 127h1M73.7 126.9h1M40 151.2h1M80.9 120.4h1M38.3 151.6h1M94.5 113.9h1M31.6 143.5h1M62.6 151.4h1M85.3 120.2h1M61.8 135.1h1M66.8 130.5h1M79.9 124.9h1M35.8 138.5h1M62.5 134.8h1M74.4 123.1h1M63.9 122.3h1M73.4 116.3h1M50.8 142.9h1M68.9 126.4h1M35.8 155.3h1M49.9 131.4h1M57.5 141.5h1M48.7 133.4h1M54.8 134.9h1M70.7 130.9h1M83.7 119h1M71.2 130.5h1M20.1 165.5h1M45.5 144.8h1M92.8 110.3h1M51.9 145.4h1M49.3 126.5h1M52.1 151.5h1M63.4 126.9h1M31.6 138.4h1M51.3 143.9h1M85 116.5h1M61.6 134.9h1M68.6 132h1M77.5 120h1M77.9 111.5h1M58.8 134h1M87.6 116.3h1M24 138.2h1M30 152.3h1M97 119.6h1M58.8 139.7h1M83.1 122.5h1M69.8 133.5h1M71 129.2h1M103.1 106.9h1M77 120h1M47.5 148.2h1M60.2 137.2h1M69.5 139.1h1M18.1 129.5h1M29.6 141.3h1M55.1 138.5h1M43.9 128.2h1M90.8 119h1M43.9 155h1M43.9 125.2h1M46.9 138.9h1M77 140.7h1M44.8 143.2h1M72.7 122h1M56 128.6h1M47.2 139h1M49.8 127.8h1M90.5 123h1M57.9 127.6h1M62.8 127h1M85.6 120.5h1M85.2 121.1h1M40.5 143.1h1M84.6 124.6h1M32.1 147.6h1M112 104.2h1M31.4 149.7h1M62.7 127.1h1M58.5 130.9h1M68.8 126.9h1M87.8 118.2h1M47.8 164.6h1M46.9 125h1M84.5 117.4h1M46.5 152.1h1M47.2 153.3h1M71.5 118.1h1M84.6 121.1h1M22.7 143h1M95.4 107.3h1M46.7 144.3h1M107.7 107.9h1M52.8 132.8h1M75.5 123.9h1M90.1 116.8h1M79.8 132.8h1M38.9 160h1M63.9 131.3h1M53.3 118.7h1M90.2 124.1h1M85.8 123.7h1M27.4 149h1M23.6 136.1h1M72.8 119.7h1M63.5 131.8h1M66 123h1M43 130.1h1M32.8 152.1h1M72.6 125h1M40.4 146.1h1M45.8 134.5h1M82.2 113.4h1M99.2 108.6h1M84.9 110.8h1M65.7 132.2h1M58.9 141.7h1M45 143.7h1M93.7 119.9h1M80.4 117.8h1M46.5 149.9h1M71 128.3h1M99.9 113.6h1M58.4 129.1h1M91.6 118h1M96.6 110.8h1M33.9 157.1h1M73.9 136.3h1M45.7 127.5h1M52 152.9h1M68.8 132.2h1M84.6 112.2h1M59.6 130.7h1M74.4 122.5h1M66 143.8h1M98.2 116.6h1M75.5 115.7h1M38.4 146.4h1M75.8 127.7h1M41.8 138.4h1M45.2 152.3h1M86.5 118.8h1M43.9 136.8h1M98.1 120.2h1M49.9 139.3h1M61.3 123.1h1M67.2 131h1M92.1 116.4h1M76.3 134.2h1M50.9 137.3h1M70.4 130.7h1M56 134.2h1M81.2 128h1M31 140h1M44.4 152.1h1M70.3 125.7h1M29 138h1M66.8 136.7h1M83.3 121.9h1M25.6 136h1M62.3 134.1h1M39.2 154.6h1M46.6 139h1M105.4 108.9h1M48.2 133.5h1M37 151.5h1M32.7 149.6h1M65.2 132.2h1M62.1 133.4h1M98.5 110.2h1M70.6 135h1M70.1 127h1M34.5 152.1h1M24 152.2h1M74.9 134.9h1M16.4 144.2h1M83.4 122.5h1M67.7 132h1M95.3 122.3h1M95.9 117.6h1M41.3 133.6h1M88.4 122.1h1M77.1 122.2h1M42.5 138.6h1M32.6 148.3h1M87.6 120.7h1M75.7 132.4h1M51.4 140.8h1M67.2 139h1M60.9 136.3h1M40.7 140.6h1M27.8 135.5h1M60.6 137h1M45.8 161.4h1M77.3 123h1M84.1 120.8h1M70.8 122.5h1M55 138.2h1M95.8 110.3h1M49 141h1M80.4 136.5h1M31 136.2h1M63.5 130.5h1M25.9 147.7h1M83.1 117.1h1M72.9 129.7h1M59 137.1h1M50.9 136h1M51.3 149.2h1M91.2 115.2h1M68.1 122.2h1M107.3 107.9h1M71.3 124.7h1M25.1 149.4h1M54.6 144.5h1M89.7 116.1h1M41.9 132.5h1M67.9 134.7h1M50.3 147.1h1M85.7 125.5h1M67.6 131.2h1M48.7 152h1M50.4 145.9h1M46.9 152.4h1M37.8 161.6h1M79.6 124.2h1M32.2 123.5h1M68.8 126.8h1M15.5 149.2h1M56.4 129.4h1M35.7 147.7h1M95.8 109.5h1M53.2 155.4h1M40.9 127.8h1M75.5 123h1M54.5 130.1h1M45.9 130.5h1M37.4 144.9h1M51.7 149.9h1M100.6 109.1h1M90.3 114.7h1M65.1 133.1h1M83.8 121.5h1M37.2 155.2h1M41.1 153.5h1M74.1 120.6h1M29.8 159.4h1M36.8 158.3h1M77.7 125.9h1M84.5 119.4h1M100.1 108.8h1M67.9 126.5h1M36.4 142.6h1M69.9 126h1M87.4 119h1M92.1 110.9h1M65.1 134.4h1M94.3 115.4h1M69.1 127h1M57.9 139.3h1M51.9 136.9h1M66.2 130.8h1M78.9 114.7h1M44.6 140.8h1M43.6 137.2h1M70.9 135.2h1M24.3 158.7h1M79.3 121.5h1M33.1 144h1M83.4 114.3h1M98.6 112.1h1M43 129.7h1M41 158.8h1M85.2 114h1M66.4 140.4h1M84.8 120.6h1M77.5 131.5h1M73.7 135.5h1M52.1 132.1h1M54.5 137.6h1M50.1 141.5h1M75.4 121.7h1M61.3 135.1h1M68.1 142.1h1M75.8 126.4h1M36 140.8h1M80.2 110.4h1M87.3 121.4h1M99.6 117.2h1M81.8 124.2h1M40.6 150.4h1M70.1 127.9h1M91.3 113.1h1M60.2 149.2h1M72.4 122.9h1M80.9 128.6h1M91 113.9h1M52.1 137.2h1M81.7 128.7h1M44.6 144.9h1M31.5 143.2h1M71.5 135.6h1M34.3 133h1M71.2 128h1M62.6 139.4h1M47.3 140.6h1M63.2 145.5h1M63 133.4h1M36.5 145.3h1M35.5 145.2h1M73.2 133.4h1M91.5 116.7h1M53.6 144h1M64.7 135.7h1M48.6 142.8h1M70.3 123h1M32.2 150.8h1M53.4 146.4h1M49.1 149.7h1M39.3 150.3h1M65 139.8h1M51.9 125.6h1M29.9 136.7h1M81.1 117.8h1M83.8 121.3h1M57.6 136.7h1M39.1 141.5h1M65.2 128.1h1M70.3 125.5h1M46.5 147.2h1M57.9 131.3h1M24 147h1M98.9 107.6h1M26 137.2h1M59.6 132.1h1M63.7 126.1h1M50.6 130.7h1M80.2 126.3h1M90.4 118.9h1M64.1 125.2h1M32.3 137.1h1M71.7 121.5h1M37.4 156.8h1M21.1 138.7h1M42.7 151.2h1M41 145.6h1M41.6 153.9h1M77 122.1h1M43.6 142.1h1M77.9 132.1h1M49.8 142.4h1M79.4 121.5h1M52.4 132.6h1M75.9 122.6h1M24.1 164.8h1M72.7 126.8h1M53.5 135.8h1M85.9 126.3h1M54.2 124.9h1M49 151.8h1M25.8 144.3h1M75.5 129.3h1M79.7 128h1M78.9 119.5h1M61.1 131h1M63.7 127.2h1M45 144.7h1M65.8 138.6h1M75.6 119.2h1M59.6 134.9h1M61.8 122.7h1M65.5 140.1h1M75.3 143.8h1M62.2 156.3h1M58.5 139.2h1M69 133h1M72.9 135.3h1M76.1 130.1h1M41.2 149.9h1M57.8 135.6h1M101.6 112.1h1M63.3 138.6h1M70.2 132.1h1M78.1 136.1h1M61.5 127.3h1M91.5 120h1M59.6 140.7h1M92.9 116.1h1M38.5 159.7h1M71.4 124.9h1M26.9 138.4h1M84.9 117h1M99 114h1M39.7 136.9h1M63.4 141.7h1M108.7 106.7h1M94.9 109.7h1M58.5 138.3h1M111.8 104.7h1M27.8 141.8h1M84.5 124.1h1M102.9 109.6h1M72.1 134.5h1M28.4 157.4h1M63.3 130.4h1M64.3 131.7h1M63.6 137.2h1M90.6 120.2h1M97.6 114.1h1M54.3 140.8h1M64 120.9h1M39.5 147.2h1M61.9 153.3h1M75.6 119.1h1M81.3 116.8h1M61.8 140.4h1M26.6 165h1M60.4 133.2h1M54.1 140.4h1M62.2 133.4h1M70.2 122.3h1M68.9 122.7h1M39.9 154.1h1M77.2 123.9h1M54.4 132.1h1M69.5 141.8h1M62.3 133.5h1M55.4 136.5h1M43.6 130.4h1M71.6 135.1h1M96.4 111.5h1M67.1 130.7h1M93.2 123.8h1M26.5 158.5h1M51.3 137.1h1M79.6 119.7h1M47.5 133.3h1M94.8 119.1h1M82.4 117.2h1M50.5 128.6h1M37.7 129.8h1M73 133.9h1M71 127.7h1M58 150.7h1M78.8 127.2h1M33.9 154.4h1M84.2 115h1M43.6 143.7h1M89.5 115.2h1M38.4 153.9h1M29.6 151.7h1M103.9 109.7h1M59.1 129.8h1M93 109.7h1M98.4 110.5h1M23.3 146.4h1M59.1 145.7h1M64.8 123.6h1M50.5 150.3h1M38.2 151.4h1M99.9 111.8h1M84.2 127.8h1M75.9 132.4h1M99.2 112.7h1M88.4 122.8h1M54.3 127.3h1M52 133.2h1M29 157.9h1M105.1 111.9h1M43.5 140h1M58.1 139.8h1M59.1 128.3h1M55.6 150.7h1M94.6 119.3h1M25.9 162.5h1M75.1 124.5h1M37.7 156.6h1M36.5 132.1h1M54 147.3h1M30.7 147.2h1M63.2 120h1M83 121.1h1M66.6 120.8h1M38.9 142.5h1M96.7 112.6h1M74.1 126.7h1M41 141.9h1M50.5 137.1h1M44 145.2h1M74.3 126.1h1M65.5 146h1M43.4 150.5h1M56.4 142.3h1M41.7 144.1h1M91.3 113.6h1M62.7 134.6h1M48.5 135.7h1M65.3 135.3h1M80.7 118h1M34.5 137.5h1M46.1 142.6h1M34.6 157.2h1M59.3 146.6h1M31.9 154.9h1M53.6 124.6h1M55.5 140.1h1M103.6 113.4h1M88.4 122.9h1M82 126.1h1M85.7 124.7h1M10.6 138.6h1M30.6 150.2h1M63.3 136h1M104 117.2h1M16.1 149.1h1M89.4 125.7h1M45.9 136.6h1M21.6 145.7h1M77.4 129.9h1M46.6 137.1h1M23.2 137.7h1M68.5 124.4h1M32.7 149.4h1M100.4 107.9h1M88.5 117.6h1M72.8 135.9h1M67.9 128.4h1M45.1 154.4h1M56.9 130.5h1M52.3 144h1M51.9 136h1M48.4 141.4h1M27 154.7h1M76.1 127.6h1M51.3 147.1h1M77 129.5h1M103.3 105.4h1M61.3 134.6h1M90.8 117.9h1M79 119h1M92.6 110.3h1M66.6 134.9h1M35.1 152.5h1M63.3 122.7h1M70.5 123h1M47.4 145.4h1M61.4 128.1h1M72.2 121.9h1M34.9 147.1h1M67.4 125.8h1M50.9 137h1M58.5 141h1M83.2 124.8h1M36.9 135h1M57.8 137.4h1M23.9 157.3h1M93.1 119.1h1M51.3 127.9h1M66.7 117.3h1M84.2 120.4h1M40.5 160.7h1M80.9 125.5h1M74.3 131.1h1M50.5 152.8h1M40.5 150.7h1M43.5 142.1h1M54.8 139.3h1M72 123.1h1M58.8 131.3h1M15.1 148.5h1M98.1 115.6h1M35.2 153.2h1M73.6 125h1M54.9 129.7h1M63 137.2h1M85.8 123.2h1M94.5 113.4h1M92.3 116.1h1M63.1 138h1M43 158.1h1M37.4 143.8h1M64.2 129.1h1M102 112.6h1M32.3 136.1h1M50.5 129.2h1M59.2 133h1M61.1 128.4h1M80.1 126.5h1M72.8 123.4h1M68 140.6h1M50 139.9h1M29.1 143.5h1M84.9 115.7h1M71.7 130.1h1M49.6 145.1h1M50.8 150.4h1M63.2 137.5h1M24.8 148.8h1M69.6 129.4h1M69.9 121.6h1M29.4 147.3h1M76.4 122.8h1M63.2 140.1h1M64.2 129.7h1M61.3 134.1h1M46.7 142.6h1M86.9 118h1M36.3 165.1h1M86.1 117.8h1M76 128.8h1M69.9 126h1M66.2 140.1h1M24.1 143.1h1M48.7 139.6h1M33.6 150.8h1M53 140.7h1M36.2 142.8h1M81.9 119.1h1M22.8 148.2h1M60.8 141.7h1M67.5 140.2h1M26.9 143.5h1M27.9 134.6h1M47.5 143.4h1M55.1 141.1h1M49.6 150.8h1M58.9 142h1M60.3 122.9h1M36.3 151.6h1M40.6 147.9h1M59.4 137.6h1M65.9 127.9h1M58.6 131.8h1M27.3 141.9h1M61.8 139.1h1M75.6 131.8h1M37 144.6h1M49.5 131.8h1M63.7 133.4h1M55.6 134.1h1M79.9 118.7h1M57.6 137.5h1M51.8 126.8h1M69.6 133.9h1M76.8 128.6h1M51.9 131.9h1M89.1 119h1M52.5 149.7h1M78.3 120.7h1M66.3 121h1M45.5 149h1M26.3 151h1M36.3 141.6h1M57.6 144.4h1M59 133.2h1M41.8 155.2h1M45.7 142.4h1M45.9 133.3h1M99 117.3h1M69.1 139.2h1M63 134.4h1M46.3 139.2h1M81.2 116.7h1M103.4 110.5h1M53.5 156.2h1M59.6 135.6h1M63.7 139.2h1M67.6 134.7h1M45.2 144.1h1M48.8 134.6h1M81.2 116.6h1M38.1 154.3h1M62 139h1M47.9 151.7h1M51.6 145.6h1M40.2 131.3h1M42 155.3h1M72.1 128.1h1M87.1 119.3h1M27 164h1M39.3 140.4h1M43.3 142.9h1M76.2 121.4h1M37.8 155.8h1M60.8 127.2h1M66.6 124.4h1M64.7 125.3h1M54.1 135.3h1M39.1 164.8h1M72.8 133.2h1M70 143.7h1M54.2 131.3h1M90 109.8h1M34 148.8h1M74.6 123.5h1M66.1 128.8h1M29.5 140.3h1M30.7 141.8h1M41.6 141.9h1M52.8 136.5h1M70 128.8h1M55.3 134.1h1M40.2 153.5h1M62.4 135h1M34.1 143.6h1M75.7 127.4h1M84.1 120.7h1M40.1 137.8h1M46.2 164.6h1M53.5 136.5h1M48.3 142h1M39.8 155.5h1M85.3 127.8h1M66.6 145.3h1M41.4 165.6h1M74.6 126.8h1M49.5 144.6h1M74.7 122.9h1M54.8 152.5h1M83.5 119.3h1M91.8 116.9h1M54.6 129.8h1M95.3 114.4h1M41.2 144.7h1M61 138.7h1M42.9 157.5h1M57.9 145.4h1M78.7 111.1h1M70.7 125.6h1M26.3 152.2h1M80.4 131.8h1M89.1 123.3h1M54.7 143.6h1M101.7 111.5h1M70.7 137.8h1M19.7 154.1h1M68.7 129.1h1M85.1 110.2h1M61.7 135h1M19.3 143.1h1M69.3 122.6h1M14 140.8h1M69.5 134.1h1M77.1 129.4h1M58.7 154.8h1M104.3 104.4h1M87.1 117.5h1M34.2 150.7h1M71.9 123.4h1M83.6 116.8h1M89.4 120.3h1M51.5 140.7h1M55.3 145.9h1M47.2 142.4h1M28.8 132.9h1M72.7 133.8h1M80.8 121.9h1M69.2 138.2h1M44.5 121h1M69.5 125.6h1M73.3 121.9h1M97.2 115.1h1M75.8 119.9h1M46.1 149.6h1M68.7 136.9h1M86.7 129.5h1M60.4 137.1h1M31.6 147.9h1M86.3 121h1M80.7 123.8h1M73.8 133.2h1M54.7 160.3h1M90.8 112.6h1M72.2 122.3h1M40.4 161.8h1M86.5 122.4h1M32.7 133.5h1M54.1 141h1M56.6 130.5h1M87 120.9h1M53.7 139.5h1M76 134.8h1M68.7 129.9h1M78.5 124.7h1M34.9 148.2h1M39.4 149.7h1M36.3 140.7h1M83.4 116.7h1M58 137.7h1M41.6 156.4h1M30.1 142.9h1M29.3 147.5h1M34.9 156.4h1M41.6 140.3h1M70.5 134.1h1M50.7 134.9h1M53.4 133h1M45.1 141.3h1M58.2 132.7h1M52.8 146.4h1M59.9 115.3h1M44.1 146.4h1M74.1 122h1M51.2 137.8h1M49.7 141.5h1M34 147.3h1M59.5 134.5h1M59.2 132.2h1M90.5 120.1h1M85.7 114h1M76.3 125.3h1M76.9 126.2h1M58.7 145.2h1M91.6 109.8h1M56.8 140.9h1M95.2 112.9h1M57.5 138.4h1M71.5 132.4h1M104.6 103.2h1M97.2 113.6h1M68.4 136.3h1M58.2 132.1h1M80.4 118h1M56.8 159.9h1M23.6 146.2h1M78.4 127.6h1M21.8 143.8h1M64.9 134.4h1M73.8 123.3h1M73.6 120.1h1M47.2 143.3h1M59.5 132.6h1M95.2 113h1M100 109h1M75.7 125.4h1M76.2 123.8h1M57 146.3h1M101.9 110.9h1M31.6 145.9h1M104.3 109.4h1M73.6 124.6h1M78 128.1h1M27.8 159.3h1M34.6 156.4h1M45.5 131.3h1M76.3 126.8h1M15.2 146.8h1M85.5 123.5h1M82.1 120.3h1M50.5 136.4h1M65.3 119.5h1M80.8 125.8h1M105.7 108h1M42.8 141.2h1M55.3 158.1h1M73.7 117.3h1M77.4 126.2h1M47.1 143.5h1M99 111.5h1M38.3 154.5h1M23.5 147.8h1M38.3 142.7h1M61.5 130.9h1M52.8 149h1M68.7 116.3h1M56.9 134.4h1M69.4 132.6h1M72.8 129.9h1M44.2 157.7h1M96.9 113h1M34.6 138.9h1M107.9 107h1M66.5 135.6h1M76.8 133.1h1M33.8 166.2h1M95.9 113.7h1M69.1 118.7h1M60.6 129.3h1M62.4 145.7h1M86.5 129.5h1M47 137.2h1M57.2 154.4h1M60.7 135.7h1M70.4 132.1h1M31.3 134.6h1M80.3 113.3h1M103.7 106.7h1M59.9 133.3h1M78.9 140.1h1M57.4 145.9h1M40.2 136.3h1M79 126.1h1M41.5 134.2h1M30.6 155.1h1M45.6 137h1M74.4 130.2h1M84 125.3h1M49.3 154.3h1M96.2 114.4h1M49.1 149.3h1M42.6 123.3h1M69.5 143.3h1M43.1 136.5h1M87.7 118.8h1M59.3 131.9h1M40.5 140.1h1M86.4 119h1M73.1 121.3h1M38.2 146h1M37.1 142.5h1M82.7 119.9h1M45.2 125.5h1M73.2 125.7h1M90.9 109.6h1M51.5 145.2h1M90.8 113.2h1M81 122.8h1M89.4 108.6h1M40.2 154.4h1M51.5 125h1M47.3 154.4h1M60.7 138.6h1M29.3 132.2h1M97.6 119.9h1M74.9 127.4h1M66 133.4h1M81.3 123.8h1M76.8 133.9h1M52.2 123.5h1M56.6 125.6h1M105.1 111.6h1M77.7 118.4h1M61.9 137.6h1M85.1 118.5h1M75.1 146.9h1M56.6 138.6h1M44.5 147.8h1M30.3 136h1M69.4 123.4h1M95.4 107.1h1M79.4 119.6h1M33.9 131.8h1M85.6 126.8h1M56.2 133.6h1M42.4 143.7h1M46.7 156.8h1M60.9 126h1M70.1 133.4h1M101.7 118.4h1M72.9 137.9h1M70.1 120.6h1M58.6 134.3h1M45.2 138.1h1M93.1 119.6h1M47.1 139.4h1M56.2 139.1h1M93 115.9h1M50.3 143.1h1M72.5 131.9h1M41.7 142.2h1M61.3 136.7h1M69.8 120.7h1M74.3 132.6h1M55.5 132.4h1M53.3 131h1M56.7 142.1h1M82.3 116.7h1M94.8 111.6h1M47.5 140.3h1M60.5 124.4h1M49.2 139.3h1M64.7 135.3h1M40.2 148.2h1M83.4 127h1M80.9 113.4h1M46.8 139.9h1M68.4 151.7h1M41.4 136.4h1M72.2 130.5h1M99.4 109.5h1M28.6 141.3h1M66 134h1M67.8 127.7h1M55.1 126.7h1M60.5 135.6h1M84.7 113.2h1M57.9 136.3h1M45.6 131.4h1M62.1 146.6h1M93.9 118.5h1M78 125.9h1M57.4 137.2h1M35.3 146.9h1M82.4 131.2h1M72 133.4h1M70.8 134.5h1M111.2 108.1h1M61.9 140.4h1M57.9 131.4h1M70 144h1M47 137.3h1M64.1 124.6h1M72.2 138.9h1M40.3 155.8h1M63.2 130.1h1M83 130.2h1M52.8 133.9h1M75.6 138.5h1M73.3 125.7h1M87.3 118.6h1M67.2 130.4h1M56.3 141.5h1M40.7 132.5h1M47.2 147.4h1M96 118.6h1M100 109.6h1M56.4 137.4h1M71 122.2h1M58.7 136.5h1M65 148.2h1M61.5 130.3h1M81.3 122.2h1M32.4 132.1h1M44.9 148.2h1M19.8 127.3h1M60.7 137.3h1M95 116.7h1M82 125.5h1M108 107.3h1M25 156.7h1M84.4 118.3h1M16.8 161.7h1M57.7 142.8h1M72.6 123.6h1M62 129.4h1M36.4 143.3h1M65.3 122.1h1M64.2 141.9h1M83.8 120h1M54.4 153.9h1M91.7 112.1h1M77.7 119.6h1M52.9 128.4h1M14.3 136.1h1M67.6 128.4h1M19.9 145.6h1M40.2 141.6h1M81.1 122.1h1M84.7 129h1M100.4 109.9h1M77.7 139.8h1M78.6 120.5h1M46.9 145.7h1M88.9 110.9h1M39.9 146.3h1M50.1 157.3h1M77.8 130h1M57.5 136.5h1M71.4 132.1h1M36.2 164.4h1M87.1 120.2h1M98.2 114.7h1M54.6 140.5h1M57.3 139.8h1M64.6 138h1M72.9 126.9h1M19.2 142.8h1M49.5 145.7h1M67.8 126.8h1M55.2 128.7h1M39.4 151.1h1M44.4 141h1M78.2 123h1M60.2 135.9h1M44.1 152.7h1M67.9 128.9h1M85.2 127h1M82 121.9h1M51.7 138.7h1M38.8 145.1h1M85.2 111.3h1M82.8 116.9h1M104.5 109h1M17.8 160.2h1M63 125.2h1M72.7 131.6h1M19.8 143.9h1M60.5 135h1M23.2 145.6h1M61.8 140h1M43.3 138.9h1M95.3 110.9h1M96.4 112.1h1M58.9 143.2h1M85.3 120.5h1M82.8 122.1h1M101.6 110.2h1M80.5 111.2h1M41.6 148h1M77.5 125.3h1M15.7 139.7h1M73.5 134.2h1M98.4 112.9h1M31.7 145h1M80.6 116.6h1M83.5 126.4h1M33.3 142.1h1M86.1 114.4h1M81.8 122.6h1M69.7 136.3h1M82.6 120.5h1M32.5 142.8h1M38.5 149.2h1M25.2 150.1h1M33.5 151.8h1M27.9 144h1M45.7 137.5h1M64.7 130.4h1M87.6 123.3h1M53.9 144.2h1M62.2 136h1M87 116h1M64.1 128.6h1M100.4 107h1M32.3 132.2h1M27.8 149.6h1M76.3 116.8h1M62.8 131.3h1M63.9 131.6h1M44.6 150.4h1M40 136h1M45.7 134.9h1M101.3 114.6h1M15 144.7h1M55.6 129h1M73.1 128.8h1M79.8 114.1h1M99.4 112.8h1M87.8 121.2h1M34.8 146.6h1M63.6 150.5h1M40.3 151.6h1M73 136.7h1M82.3 119.8h1M83.9 116.6h1M74.4 121.7h1M70.8 119.2h1M82.8 121.4h1M36.3 149.9h1M84.3 122.7h1M74.9 125.3h1M76.1 123h1M61.7 129.8h1M58.7 135.8h1M65.7 120.7h1M82.9 127.3h1M88.8 117.1h1M61.1 131.2h1M91.1 114.5h1M93.6 110.5h1M74.9 121.8h1M74.3 130.9h1M62.7 123.7h1M42.9 126.4h1M103.5 110.9h1M99.3 106.4h1M33.5 134.7h1M71.9 128.5h1M57 127.9h1M71 121.9h1M70.7 124.6h1M73.9 127.6h1M82 116.6h1M67.1 133.4h1M61.6 135.2h1M51 141.3h1M84.6 115.8h1M99.9 106.8h1M44.7 138.3h1M73.2 131.6h1M28.9 146.4h1M86.7 120.5h1M85.2 124.3h1M100.2 112.6h1M17.2 156.7h1M50.9 136h1M102.9 109.3h1M83.5 127.4h1M57 138.2h1M55 150.7h1M74.9 121.9h1M105.1 110.6h1M92.9 115.4h1M76.7 123.3h1M85.4 118.1h1M58.7 130.8h1M86.8 120.6h1M47.4 138.5h1M94.9 118.1h1M88.2 124.2h1M40.2 136.1h1M20.7 145h1M94.8 118.9h1M64.2 129.4h1M56.2 146.2h1M86.5 123.4h1M28.3 141.6h1M20.2 148.6h1M44.5 139.8h1M47.3 129.5h1M48 152h1M100 119.4h1M73.8 127.1h1M46.3 142.2h1M52.2 161.5h1M91.9 117.2h1M55.8 132.7h1M56.7 130.8h1M66.7 150h1M77.1 126.9h1M76.8 126.5h1M59.1 132.6h1M67.2 135.1h1M106.4 108.3h1M39.8 153.2h1M47.7 136.7h1M50.5 147h1M59.8 135.7h1M108.8 106.2h1M26.2 144.6h1M86.9 115.9h1M50 140.2h1M69.6 131.8h1M82.7 115h1M15.4 149.2h1M91.1 116.6h1M25.9 133.1h1M57.5 129.7h1M66 125.4h1M60.3 127.4h1M58.1 138.9h1M53.6 126.2h1M86.8 119.1h1M71.9 122.7h1M37.6 131.3h1M29.8 155.2h1M38.5 137.6h1M56.6 132.1h1M53.6 131.6h1M61.3 128h1M67.1 140.7h1M82.8 120.8h1M48.8 154.2h1M66.4 136.8h1M56.9 144.5h1M41.9 123.4h1M59.8 125.6h1M64.8 126.8h1M16.9 163.8h1M34.2 156h1M31.9 136.3h1M87.2 116.1h1M90.5 113.4h1M80.9 130.2h1M47.9 132.7h1M27.7 149.8h1M86.5 118.3h1M65.4 129.3h1M52.8 154.8h1M105.8 106.3h1M48.9 142.5h1M68.7 131.9h1M37.2 132.9h1M40.3 142.8h1M69.9 133.7h1M26.7 137h1M53.8 151.7h1M48.2 144.4h1M44.4 140.2h1M62.4 132.6h1M27.6 153.1h1M29.8 155.9h1M33.2 140.8h1M66.1 145.7h1M47.2 133.7h1M44.6 137.1h1M49.9 138.8h1M53.6 140.4h1M45.6 156.1h1M82.7 127.7h1M71.2 129.9h1M75.7 135.6h1M58.5 148.4h1M53.2 129.1h1M68.2 140.1h1M63.2 138.2h1M47 143.3h1M35.5 143.9h1M60.5 133.5h1M80 121.5h1M30.9 138h1M75.2 121.9h1M39.1 143.3h1M99.5 114.9h1M64.3 121.8h1M61.8 128.5h1M46.1 141.6h1M94.1 110.8h1M97.7 115.8h1M64.8 130.3h1M64.4 139.7h1M106.8 103.1h1M40.3 138.2h1M71.7 128.9h1M90.9 114h1M86.2 126.3h1M72.4 136.7h1M74.7 127.1h1M53.5 122h1M67.3 130h1M66.8 122.2h1M93.8 115.6h1M43.9 157.6h1M41.5 148h1M60.4 137.2h1M92.9 114.6h1M69.6 127.1h1M54.3 128.4h1M81.1 123h1M67.9 142.6h1M93.8 117.3h1M76.1 131.5h1M72 122.5h1M58.7 136.7h1M74.8 130.4h1M60 141h1M82.3 113.1h1M47.5 136.6h1M95.6 110.3h1M40.6 162h1M13.4 139h1M49.2 131h1M57.6 131h1M36.7 147h1M64.3 137.6h1M67 145.4h1M82 125.3h1M67.5 138.1h1M83.8 121.5h1M70 124.7h1M89 116.3h1M64 124.9h1M92.5 116.2h1M42.4 141.1h1M85.6 127h1M36.7 151.4h1M70 127.1h1M35.6 136h1M43.5 138.3h1M53.4 144.5h1M70.7 139.4h1M53.3 153.1h1M40.4 134.8h1M71.3 121.6h1M42.2 151h1M57.1 127.2h1M62 144.2h1M39.9 153.7h1M56.8 128.9h1M90.2 127.8h1M29.9 162.4h1M85.3 129.3h1M86.4 117.8h1M85.9 119.5h1M55.6 156.6h1M66.2 130.4h1M72.9 118.3h1M50.2 139.7h1M87.8 116.7h1M42.2 148.8h1M47.1 128.8h1M61.8 134.4h1M80.5 125h1M55.3 142.8h1M82.7 125h1M51.2 129.5h1M39.5 155h1M48.9 155.2h1M83.6 123h1M35.2 156.1h1M72.4 129.7h1M83.4 123.2h1M43.4 137.6h1M83 121.6h1M71.4 122.3h1M41.6 135.7h1M58.8 136.4h1M62.2 127.8h1M35.9 151.3h1M102.4 106.6h1M89.4 117.4h1M87.9 114.3h1M49.1 141.3h1M94.7 121h1M45.2 153.1h1M16.9 152.6h1M72.4 129.3h1M92.8 112.8h1M81 122.4h1M46.3 150.8h1M14.4 143.5h1M47.7 127.5h1M33.1 146.1h1M80.2 127.8h1M20.7 146.7h1M36.9 155.7h1M74.4 126.7h1M72.9 125.8h1M49.9 146.8h1M79.9 131.5h1M41.4 146.3h1M66.2 126.5h1M61.6 125.1h1M66 137h1M78.9 115.1h1M79.8 133.3h1M72.7 124.1h1M60.6 134.7h1M84.3 129.9h1M52.6 140h1M71.1 118.9h1M69.6 132.8h1M24.5 148.2h1M94.9 109.3h1M49.7 144.2h1M39.5 142.3h1M35.3 135.2h1M81.6 109.7h1M85.8 108.3h1M76.8 122.9h1M59.2 132.1h1M84.1 115.6h1M72.1 131.9h1M48.9 155.7h1M54.6 120.2h1M59.6 122.4h1M55.7 124.6h1M54 132.9h1M101.5 111h1M70.5 127.9h1M45.2 143h1M62.7 138.4h1M65.4 130.4h1M65.5 134.8h1M62.1 143.2h1M69.6 126.2h1M82.6 124.4h1M51.4 142.2h1M56.9 149.1h1M73.1 124.8h1M52.5 129.1h1M54.4 137.7h1M57.7 136.3h1M71.6 130.4h1M74.9 126.5h1M50.7 134.5h1M67.9 137.8h1M74.1 125h1M35 163.8h1M40.8 132h1M84.4 129.2h1M91 110.9h1M63.8 131.4h1M54.9 138.5h1M62 138h1M93.3 116.9h1M61.4 131.4h1M25.2 156.5h1M41.1 158.3h1M98.5 111.4h1M90.5 121.8h1M59 133.2h1M39.3 156.8h1M45.7 148.3h1M81.6 122.6h1M56.8 138.3h1M54.2 128.6h1M75.7 119.4h1M64.4 141.4h1M24.8 133.4h1M36.1 139.4h1M90.6 109.7h1M51.2 128.9h1M60.3 129.4h1M44.7 149.5h1M53.8 124.3h1M52 135.7h1M54.7 135h1M75.8 116.5h1M40.3 145.4h1M15.4 137.7h1M56 128.1h1M97.2 109.6h1M73.8 128h1M85.8 115.2h1M68 134.9h1M34 132.2h1M64.1 127.7h1M70.6 149h1M72.4 135.7h1M57 142.9h1M89.5 116.7h1M77.8 125.4h1M60.8 139.1h1M37.1 145h1M58.9 142.9h1M56.2 140.4h1M71.8 131h1M104.5 107.2h1M43.7 145.7h1M89.4 117.6h1M57.6 135h1M43.4 151.1h1M92.6 112.7h1M84.5 119.4h1M38 146.9h1M82.6 122.3h1M46.2 140.6h1M91.4 118.8h1M45.8 153.2h1M58.3 127.1h1M64.8 132.2h1M56.2 125.4h1M88.4 113.4h1M27.1 152.8h1M67.9 139h1M41.2 152.9h1M67.5 127.7h1M38 162h1M80.4 124.1h1M101.5 106.1h1M34.2 153h1M53.5 146.5h1M68.7 127h1M40.8 156.2h1M72.8 125.3h1M46 146.8h1M89.8 113.1h1M64.4 137.1h1M47.9 157.2h1M32.2 146.4h1M66.7 143.6h1M55.6 129.1h1M55.7 127.6h1M75.3 120.9h1M42.2 136.5h1M70.1 124.9h1M30.9 138h1M86.3 119.3h1M27.8 144.7h1M82.6 108.8h1M64.1 128.2h1M55 144h1M81.4 132.8h1M62.5 133.5h1M85.6 123.6h1M39.1 142.2h1M73.7 128.6h1M44.1 157.5h1M62.4 132.7h1M84.9 113.3h1M49.7 145.6h1M91.3 124.1h1M86.5 121.7h1M95.8 108.5h1M66.8 134.9h1M65.5 135.6h1M62.4 131.2h1M47 133.2h1M98.7 113.8h1M31.7 146.8h1M92.2 111.2h1M60.4 141.2h1M41.7 131.8h1M29.6 133h1M84.1 121.5h1M63.7 129.7h1M44 147.2h1M46 149.6h1M33.2 145.3h1M68.8 130.6h1M74.7 135h1M98.3 116.3h1M39.4 149.5h1M73 125.5h1M37 136.2h1M85.9 123.4h1M46.1 138.7h1M57.4 135.7h1M85.8 121.4h1M61.1 132.8h1M63.4 127.3h1M43.4 139.7h1M90 115h1M81.2 116.4h1M61.1 135.5h1M62.3 129h1M27.6 129.7h1M91.5 118.1h1M59.7 132.3h1M76.2 123.3h1M74.3 111.1h1M78.1 131.3h1M75.5 118.2h1M65.9 132.7h1M27.4 141.8h1M65 127.2h1M57.1 134.3h1M39.4 133h1M57.4 139.7h1M69.6 121.5h1M54.6 137.8h1M54.8 130.2h1M52.1 130.7h1M64.1 122.5h1M64.3 115.1h1M52 143.5h1M86.4 119.3h1M63.1 121.5h1M64.5 128.7h1M66.6 137.2h1M47.8 161.2h1M76.4 125.5h1M73.5 139.4h1M93.8 109.4h1M68.3 131.4h1M47.3 134h1M58.9 127.1h1M74.7 123.1h1M28.8 153h1M77.5 123.6h1M31.6 135h1M65.2 138.8h1M80.7 128.5h1M77.5 125.3h1M57.9 133.2h1M96.7 118.1h1M94.3 109.1h1M40.3 132.4h1M77.5 117.9h1M51.5 151.9h1M87 125.3h1M15.7 152.1h1M55.1 146.5h1M43.6 149.3h1M82.5 126.3h1M40.2 165.4h1M51.7 135.7h1M43.5 146.6h1M75.7 148.7h1M77.5 125.9h1M81.4 121.4h1M41.5 146.6h1M34.7 152.3h1M29 148.3h1M18 151.8h1M55.5 125.8h1M70.6 122.7h1M77.8 116h1M98.8 115.7h1M105 111.2h1M82.8 115.2h1M57.5 121.9h1M42.7 140h1M19.2 152.6h1M18.8 146.6h1M23.6 158.8h1M75.7 126.8h1M37.4 155.2h1M62.6 136.2h1M98.9 115.1h1M64.9 129.7h1M76.6 127.3h1M51.9 140.6h1M68.4 125.8h1M30.6 143.2h1M60.9 144.8h1M102.3 111.6h1M88.6 119.1h1M31.6 140.7h1M48.2 149.6h1M26.1 155.4h1M73.5 114.2h1M24.8 151h1M63.8 164.7h1M57.3 120.4h1M91.9 112.8h1M58.9 139.8h1M100.2 111.9h1M78.1 123.7h1M69.3 128.6h1M51.4 128.6h1M66.9 128.7h1M62.4 132.2h1M64 143h1M96.4 115h1M39.1 145.9h1M35.5 143.5h1M62.1 134h1M40.1 142.1h1M62.8 137h1M53 140.1h1M101.5 108.4h1M56.6 156.7h1M62.3 139.1h1M71.2 131.3h1M35.4 153.5h1M53.2 148.5h1M38.5 152.5h1M113.5 103.3h1M31.2 121.5h1M93.9 111.9h1M59.7 137.3h1M59.9 132.4h1M26.7 153.1h1M111.9 105.7h1M99 111.3h1M59.2 145.5h1M98 112.7h1M40.3 145.2h1M37.1 142.4h1M76.6 133.8h1M23 150.2h1M69.4 130.4h1M86.2 117.5h1M50 126.2h1M75.9 126.2h1M88.8 118.9h1M42 119.7h1M113.4 103.8h1M75.4 128.6h1M50.2 140.4h1M79.3 121.9h1M100.3 110.5h1M77.8 117.6h1M62.9 136.5h1M54.8 135.5h1M62.7 134.6h1M81.9 119.8h1M39 154h1M105 110.1h1M57.1 139.9h1M58 136.1h1M54.6 123.8h1M62.3 136.6h1M42.9 130.8h1M33.3 153.8h1M48.1 156.4h1M39.5 150.4h1M52.3 136.9h1M63.4 129.8h1M101.1 112.4h1M68.5 130.6h1M31.5 137.5h1M53.9 136.2h1M24 151.6h1M27.3 152h1M50.5 137.7h1M55.2 124.2h1M36.1 153h1M78.5 117.3h1M81.7 111.6h1M80.9 119h1M84.9 122h1M55.1 126.7h1M69.6 122.1h1M70.3 139.3h1M46.7 131.6h1M66.9 135.6h1M38.2 152.6h1M83.6 120.7h1M91.2 121.3h1M45.2 149.3h1M24.9 139.2h1M54.2 146.9h1M60.7 137.2h1M96.8 118h1M72.8 137.9h1M112.8 107.4h1M75.2 128.3h1M46.5 144.9h1M97.5 113.3h1M58.9 131.5h1M58.8 129.9h1M89 115.5h1M25.3 133h1M43.6 146.3h1M39.9 135.2h1M48.3 144.7h1M78.4 129.6h1M38.1 163h1M46.8 149.5h1M69.3 125.7h1M27.4 153.8h1M73.1 123.8h1M69.8 119.4h1M30.8 130.9h1M42.5 134.9h1M24.4 151.5h1M60.5 127.4h1M66.9 133.3h1M62.1 145.2h1M46.9 137.2h1M74.7 121.6h1M90.2 120.3h1M66.6 138.2h1M38 155.4h1M83.1 128.3h1M56.9 132.1h1M42.6 135.8h1M78.2 129.9h1M62.2 142.9h1M58.6 136.2h1M61.8 121.4h1M43.7 154.7h1M29.6 144h1M58.7 139.8h1M73.4 132.9h1M99.5 111.9h1M22.9 144.6h1M109.1 102.6h1M60.7 128h1M42.1 143.4h1M91.5 114.6h1M80.5 116.2h1M86.2 120.4h1M38.6 147.1h1M51.4 119.3h1M94.8 116.2h1M53.8 133.7h1M34.6 147.9h1M47.3 142h1M67.6 126.7h1M50.4 143.2h1M63.3 141.1h1M87.7 115.5h1M49.9 143h1M41.3 129.5h1M58.3 148.9h1M108.5 103.2h1M80.4 123.8h1M64.4 113.8h1M64.2 134.6h1M10.4 154.3h1M59.5 147.2h1M80.4 116.1h1M53.4 151.4h1M32.3 149.6h1M41.7 151.4h1M69.6 127.1h1M48.5 133.1h1M47.1 140.8h1M75.6 125.5h1M52.7 153.6h1M30.8 133h1M84 120.3h1M30.8 147h1M40 145.6h1M68.3 144.6h1M52.2 128h1M30.1 159.5h1M83.9 119.9h1M76.5 123h1M47.3 151.3h1M59.2 151.1h1M75.2 130.5h1M113.5 105.5h1M27.1 146.3h1M82.4 125.9h1M61.6 134.3h1M78.4 117.2h1M96 115.2h1M75.7 121.6h1M39.5 146.5h1M57.4 135.3h1M40.9 133.3h1M67.4 130.4h1M61.1 150.2h1M41.2 132h1M79.7 135.8h1M83.5 116.6h1M80.7 115.2h1M40.6 128.8h1M61.4 138h1M72.5 121.2h1M56 153.4h1M71.6 136.4h1M59.7 139.2h1M67 126.8h1M89.4 114.2h1M102.4 109.5h1M53.5 137.3h1M63 125.8h1M23.9 148.5h1M48.3 138.8h1M32.5 138.4h1M82.8 118.8h1M51 152.1h1M66.9 130.2h1M84.3 125.4h1M95.4 116h1M44.2 148.2h1M41 148.3h1M79.3 115.6h1M44.9 144.8h1M84.3 118.9h1M67.9 129.6h1M29.9 149.4h1M52.3 137.4h1M81 124h1M48.8 122.6h1M54.2 128h1M29.6 144.5h1M85.4 123.9h1M74.4 124.4h1M50.3 147.8h1M55.3 131.2h1M102.6 102.1h1M74 130.1h1M61 134h1M49.6 132.4h1M47.3 129.2h1M69.6 128.3h1M102.2 106.5h1M81.5 121.8h1M58.1 157.7h1M61.8 125.6h1M32.9 139.5h1M40.8 148.9h1M60.9 131.5h1M56.9 126.6h1M71.7 134.1h1M54.8 139.4h1M56.7 130.6h1M55.2 130.7h1M46.6 147.2h1M63.9 135.6h1M70.1 128.4h1M78.1 130h1M30.1 158.5h1M78.7 122.5h1M89.1 122.8h1M64.6 127.6h1M71.8 122.9h1M112.9 103.5h1M63.2 145.6h1M53.3 122.9h1M45.9 144.4h1M70.1 142h1M63.9 135.5h1M64.3 136.7h1M42.8 139.3h1M58.3 133h1M88.4 121.1h1M61.8 133.7h1M44 124.5h1M36.2 133.7h1M49.6 140.4h1M74.1 126.9h1M89.1 120.9h1M52 141.7h1M32.8 132.7h1M22.3 152.6h1M71.5 127.1h1M68.9 130.8h1M53.3 141.4h1M88.4 112.4h1M55.6 144.3h1M88.3 125.1h1M32.2 152.1h1M65.5 126.1h1M36.9 139.5h1M34.1 150.7h1M78.3 126.5h1M76.6 126.3h1M71.1 133.4h1M66.9 134.3h1M66.3 131.7h1M55.3 137.3h1M87.4 116h1M44.3 159.6h1M31.3 151.4h1M26.8 133.7h1M114.7 101.9h1M74.7 116.7h1M68.6 138.2h1M71.9 137.2h1M54.3 140.5h1M62.4 143h1M36 145.4h1M36.7 157.2h1M75.7 124.6h1M71.2 140h1M40.4 147.6h1M43 145.5h1M49.9 147.1h1M81 117.8h1M22.5 147.2h1M55.3 129.5h1M85.9 112.5h1M62.1 132.2h1M89.5 117.3h1M76.3 127.7h1M31.9 137.7h1M61.8 124.4h1M65.3 144.4h1M88.4 116.9h1M34.6 138.2h1M40.6 141.8h1M27.7 150h1M83.7 131.2h1M29.7 154.7h1M72.1 131.6h1M69.2 130.9h1M33.8 141.1h1M64.7 144.2h1M53.4 142.6h1M30.1 163.3h1M59.1 123.8h1M36.4 146.5h1M55 141h1M48.4 144.9h1M115 101.1h1M55.5 132.6h1M72.8 119.2h1M68.3 129.3h1M49.4 139.1h1M69.1 129.7h1M83.7 118.3h1M72.7 125.5h1M54.1 142h1M30.4 150h1M45.8 144.8h1M51.5 161.1h1M42.4 155h1M55.1 147.8h1M58.2 131.3h1M60.3 129.5h1M46.5 152.2h1M107.4 108.5h1M68.9 120.1h1M96 114.4h1M44.3 143.4h1M60.9 134.7h1M42.5 149.8h1M27.1 143.5h1M36.3 146.3h1M36.1 153.1h1M74.2 129.9h1M18.9 130.5h1M56.9 140.6h1M43.4 149.3h1M84.8 120.3h1M90.3 117.2h1M63.6 138.4h1M37.6 147.8h1M73.4 128.5h1M98.1 112.4h1M40.9 144.8h1M69.8 129.2h1M88.1 122.1h1M60 128.4h1M70.8 127.7h1M44.6 134.3h1M61.2 146.3h1M68.1 123.9h1M23.7 155.9h1M54.2 151.2h1M76.4 121h1M83.3 120.2h1M55.5 143.8h1M67.9 133.9h1M63.8 133.6h1M58.8 130h1M89.1 110.7h1M97.3 111.9h1M103.6 110.5h1M88.6 116.1h1M57.8 124.1h1M55.6 135.3h1M51 138.5h1M40.4 148.9h1M72.7 125.4h1M20.6 148.3h1M45.1 126.5h1M101.5 107.1h1M45.1 161.3h1M37.6 158.3h1M48.9 145h1M67.8 127.9h1M55.1 143.2h1M87.1 121.4h1M48.5 130.5h1M81.5 118.2h1M63.7 122.7h1M28.3 150.3h1M75.9 119.1h1M70.7 130.6h1M59.1 122.4h1M58.1 147.9h1M58.9 144.5h1M49.3 122.2h1M66.5 136.1h1M63.1 136h1M98.2 115.1h1M58.8 125.5h1M43 154.2h1M42.2 128.7h1M56 141.2h1M100.3 113.5h1M72.2 125.1h1M63.5 125.4h1M56.9 145.9h1M23.2 157.4h1M100.9 104.6h1M46.9 151.6h1M21.6 139.8h1M49.9 130.5h1M88.2 113.8h1M39.8 133.3h1M23.8 135.9h1M29.4 150.3h1M42 131.7h1M61 133h1M72.1 121.7h1M67.6 139.2h1M59.2 126.2h1M76.6 122.8h1M45.2 141.5h1M30.3 156.1h1M51.4 153.5h1M63.1 139.4h1M75.8 115h1M62.7 122.8h1M61.6 127.2h1M64.3 144.6h1M64.9 138.1h1M30.7 148.2h1M39.7 145.1h1M91.9 116.7h1M34.7 146.5h1M34.8 143.8h1M62.4 126.1h1M30 141.8h1M90 115h1M76.2 130.5h1M42.3 152.3h1M40.8 153.8h1M77.3 120.8h1M53.2 137.8h1M45.3 127.1h1M32.6 158.9h1M82.3 120.4h1M36.8 134.6h1M40.8 140.7h1M50.9 151.2h1M66.6 132.5h1M43.9 139.8h1M38.1 152.8h1M45.2 153.9h1M60.8 139.2h1M95.4 110.8h1M66.9 132.3h1M55.3 140.1h1M62.4 153.8h1M26.9 151.3h1M112.2 105.1h1M63.4 124.8h1M48 147h1M47.4 152h1M80 125.1h1M46.9 142.5h1M46.7 142.1h1M62.7 130.4h1M54.7 139.6h1M83 120.8h1M61.6 137.6h1M59.8 154.6h1M95.2 116h1M83.8 118.9h1M74.1 119.1h1M53.5 120h1M37.6 146h1M63 130.8h1M29 156.3h1M38.4 142.4h1M47.6 146.9h1M82.2 120h1M70.1 127.3h1M45.1 146.3h1M40.9 133.4h1M80.3 118.1h1M76.7 121.1h1M68.9 139.6h1M96.1 119.4h1M26.7 164.5h1M46.1 141h1M100.3 109.9h1M80.8 123.5h1M57.2 129.4h1M30.9 161.2h1M44.9 127.4h1M95.3 110.2h1M58.1 128.4h1M56.2 117.8h1M76.4 127.5h1M72.9 115.4h1M74.6 119.4h1M44.5 136.5h1M61.4 151.5h1M69.9 129.4h1M24.3 158.9h1M90.5 115.5h1M76.2 116.8h1M81.4 123.9h1M62.5 141.6h1M80.5 126.6h1M103.3 113.7h1M58.2 142.8h1M29.7 150.6h1M50.3 137.6h1M42.2 162.2h1M39.4 140.2h1M101.3 109.5h1M97.7 109.9h1M65.2 132.7h1M57.2 134.9h1M39.8 135.1h1M44.3 136.1h1M68 125.9h1M61.3 139.5h1M79.1 121h1M45.4 139.8h1M35.9 150.8h1M47.9 144.1h1M38.8 139.1h1M81.6 131.4h1M65.1 145.3h1M41.2 147.1h1M33.6 132.8h1M59.7 141.3h1M83.4 123.1h1M46.4 135.8h1M52.2 155.5h1M84.4 119.8h1M82.9 122h1M93.1 115.4h1M41.1 152.3h1M102.7 112.1h1M76.9 133.3h1M74.5 125.9h1M85.9 125.3h1M61.8 138.4h1M75.4 127.1h1M62.9 133h1M58.6 156.9h1M42.9 137.2h1M76 123.4h1M71.7 121.6h1M76 123.6h1M79.1 121.2h1M63.1 139.6h1M59.1 135.7h1M32.7 152.7h1M66.1 128.4h1M88.4 109h1M81.7 123.8h1M64.3 129.1h1M98.3 106h1M62.4 138.3h1M47.8 147.6h1M50.1 138.6h1M83.4 112h1M64.5 138.8h1M80.1 126.7h1M83.9 118.4h1M65.2 134.5h1M46.6 144.9h1M16.4 138.8h1M80.4 118.1h1M20.5 150.5h1M70 155.3h1M103.5 112.8h1M56.2 146.7h1M73.2 127.1h1M41.1 134.3h1M36.5 141.5h1M46.8 139.7h1M57.7 135.9h1M56.7 127.2h1M115.6 104.2h1M70.9 123.4h1M56.7 132.2h1M37.6 142.8h1M95.5 113.8h1M94 112.3h1M78.1 121.5h1M89.5 118.2h1M92.7 120h1M52.4 150.5h1M46 136.7h1M39.7 142.1h1M49.2 134.2h1M53.5 146.6h1M42.6 143.4h1M36.2 149.6h1M71.2 126.3h1M56.8 135.5h1M77.2 113.3h1M47.7 162h1M94.3 115.1h1M74.1 136.3h1M25.8 145.6h1M31.2 137.1h1M86.5 118.1h1M65.2 126.2h1M60 133.6h1M96.4 107.6h1M65.9 136h1M115 102.7h1M62.3 121.9h1M90.1 111.9h1M49 154.1h1M29.4 149.8h1M80.4 123.7h1M89.6 118.4h1M95.1 111.4h1M54.4 144.2h1M75 128.6h1M64.7 120.9h1M27.2 150.1h1M95.3 110.8h1M59.2 126.7h1M77.4 141h1M63.8 134.2h1M62 143.9h1M54.5 146.4h1M68.6 124.9h1M97.5 115.2h1M82.2 119.9h1M69.5 127h1M80.9 119.5h1M41.2 146.4h1M66.8 124.8h1M71.1 128.2h1M43.8 141.8h1M74.6 125.2h1M36.2 140h1M80 125.4h1M54.1 135.7h1M101.9 106.2h1M119.9 102.1h1M94.2 113.9h1M70.1 120.9h1M80.5 123.3h1M54 136.9h1M33.1 147h1M86.1 116.1h1M63.9 131.4h1M58.1 135.5h1M62.1 117.7h1M64.2 129.8h1M50 164.3h1M92.1 114.5h1M87.2 118.4h1M91.9 116h1M72.4 121.2h1M42.5 144.6h1M39.7 140h1M84 123.8h1M57.4 126.1h1M96 113.5h1M67.3 133.1h1M39 135.3h1M48.5 141.5h1M69.8 135.4h1M62 129.4h1M53.5 134.5h1M83.4 122.2h1M84.3 115.2h1M68 134.9h1M103 106.9h1M81.4 115.4h1M37.5 160.2h1M39.7 143.8h1M77.4 119.4h1M99.5 116.7h1M101.6 106.5h1M34.2 150.8h1M39 145.6h1M73.2 130.4h1M80.7 125.2h1M76.9 127.4h1M41.8 131.4h1M69.4 130h1M69.9 129.8h1M72 130.3h1M37.2 147.5h1M77.4 118.5h1M41.3 145.4h1M56.5 151.8h1M102.3 108.8h1M63.2 131h1M80.1 130.3h1M94.6 112.9h1M94.1 119.2h1M83.9 116.4h1M60.4 135.3h1M24.9 136.6h1M92.6 119.5h1M79.3 125.9h1M53.5 154.3h1M56.2 120.4h1M84.1 121.6h1M56.6 134.7h1M45.5 132h1M33.8 164.6h1M77.1 140.8h1M91.5 120.6h1M83.9 123.7h1M82 123.1h1M47.8 128.7h1M64.3 135.8h1M53.5 133.2h1M39.6 145.4h1M78 128h1M52.7 127.5h1M41.5 131.4h1M72.5 123.3h1M96.4 112h1M76.2 127.5h1M85.5 116.7h1M58.7 129.1h1M75.4 123.7h1M77.3 124.5h1M89.5 117.8h1M45.4 152.1h1M74.3 125.5h1M97.4 113.8h1M98.8 117.9h1M34.9 150h1M78.4 146.7h1M48.3 132.9h1M61.3 139.1h1M56.7 135h1M45 140.6h1M70.6 128.5h1M26.6 148.3h1M80 120.1h1M45.5 136.7h1M79.8 122.1h1M68.2 129h1M57.6 138.9h1M21.1 159.2h1M66.7 123.8h1M96.9 109.3h1M82.6 112.3h1M74 123.5h1M79.3 123.1h1M53.5 148.5h1M69.6 126.6h1M50.7 142.1h1M19.2 156.1h1M58.8 132.6h1M28.9 141.9h1M53.7 145.6h1M55 127.9h1M79 127.2h1M88.8 120.7h1M32.8 143.4h1M76.5 123.1h1M72.9 131h1M50.4 145.5h1M67.1 141.9h1M83.8 122.6h1M60.5 123h1M60.6 133.7h1M67.6 136.7h1M82.9 123.3h1M57.9 139.8h1M48.6 139.2h1M55.8 137.1h1M72.3 123.4h1M55.1 130.6h1M65.5 130.7h1M91.6 114.6h1M62.3 136.3h1M54.9 141.9h1M60.8 133.8h1M97.8 112.4h1M102.2 111.3h1M50.8 146h1M38 139.3h1M56.3 147.5h1M64.6 128.4h1M41 138.8h1M61.6 136.3h1M23.5 149.6h1M60.4 132.9h1M18.8 160.3h1M46.7 132.4h1M76.9 136.9h1M45.4 145.7h1M108.9 105.5h1M50.7 131.9h1M73.9 127h1M65.3 133.9h1M80.6 118h1M63.1 125.7h1M43.9 130.1h1M83.8 114.7h1M94.4 118.2h1M38 160.6h1M88.9 125.9h1M53.1 141.1h1M90.1 116.6h1M61.3 147.7h1M47.5 144.5h1M72.9 135.1h1M47.9 147.1h1M63.8 132.3h1M49.8 145.8h1M102.9 107.4h1M57.7 146.2h1M57.6 135.6h1M20.9 158.8h1M100.1 109.8h1M28.4 141.4h1M58.1 132.7h1M24.4 158.8h1M57.4 135.8h1M44.6 145.3h1M30.5 148h1M39 145.2h1M90.9 111.9h1M65.1 124.2h1M93.3 114.1h1M57.8 134.4h1M22.6 159.4h1M48.1 146.6h1M92 114.2h1M57.2 138.4h1M54.2 150.3h1M68.7 135h1M72.1 126.7h1M75.9 123.5h1M96.6 116.1h1M36.4 155.2h1M61.8 135.7h1M30.1 156.8h1M58.7 132.3h1M36.5 150.4h1M42.9 138h1M26.1 149.4h1M98 117.5h1M41.8 146.2h1M45.7 133h1M85 125.7h1M80.6 109.7h1M62.8 135.1h1M112.4 106.3h1M95.7 113.1h1M33.1 149.3h1M67.7 139.9h1M94.5 114.3h1M63.2 131.1h1M82.8 126.8h1M72.5 122.5h1M58.5 142h1M45.8 140.6h1M88.3 117.7h1M71.8 123.5h1M69.4 123.1h1M73.4 126.2h1M92.5 108.7h1M91.2 116h1M4 144.9h1M36.8 152h1M67.1 127.1h1M53.7 135h1M37 139.6h1M64.3 119.7h1M95.6 118.1h1M92.3 114.2h1M29.1 143.7h1M40.5 152.1h1M28.9 154.7h1M62.1 133.4h1M82.1 115.9h1M86.7 114.9h1M44.6 141.1h1M77 131.5h1M73.2 135.5h1M116.5 103.1h1M46.8 128.8h1M108.8 107.7h1M82.4 119.5h1M25.3 144.8h1M72.4 122.6h1M52.4 136.4h1M67.7 117.8h1M79.9 122.4h1M50.3 130.5h1M71 128.1h1M59.6 137.5h1M62.5 128.5h1M110.6 104h1M79.3 125.9h1M72.7 130.7h1M61.9 156.3h1M71.7 126.1h1M31.1 151.1h1M78.3 129.7h1M83.5 119.8h1M52 129.8h1M93.9 114.9h1M69.5 136.9h1M85.7 123.6h1M90.7 116.3h1M69.6 139h1M63.4 137.4h1M66.6 130.9h1M30.5 146.1h1M65.4 130.4h1M71.7 126.2h1M88.9 116.9h1M43.3 140.1h1M41 148.1h1M41.6 140.3h1M73.3 138h1M82.4 119.2h1M77.4 120.5h1M95.7 115.9h1M79.3 130.1h1M57.1 135.2h1M88.6 117.7h1M66.9 128.5h1M81.3 133.7h1M30.9 144.4h1M54.8 139.2h1M20.5 156.2h1M20 152.6h1M66.9 131.5h1M85.2 127.9h1M86.1 128h1M71.1 125.8h1M21.5 132.2h1M46.2 134.5h1M75.5 131.3h1M63.4 134h1M64.2 151.7h1M83.1 116.1h1M86.5 117h1M78.2 120.8h1M105.6 105.1h1M52.8 128.3h1M67.5 133.6h1M68.3 126.7h1M56.2 133.9h1M81.5 113.6h1M79.4 134.3h1M50.4 136.9h1M50.7 135.6h1M57.8 124h1M82.3 111.3h1M74.7 122.5h1M80.9 130.9h1M60.9 129h1M52.7 134.4h1M29.2 148h1M63.1 131.6h1M86.1 122.9h1M30.4 162.8h1M55 136.7h1M89.5 118.9h1M79.1 138h1M58.4 147h1M67.4 149.5h1M63.3 142.7h1M58 145.7h1M60.1 153.4h1M66.3 132.8h1M54.2 131.7h1M55.9 134.5h1M60.6 139.7h1M72.4 124.9h1M46.6 142.4h1M55.2 144.8h1M44.9 144.3h1M49.4 142.4h1M86.3 118.4h1M75.6 124.5h1M30.9 135h1M32.1 158.1h1M51.5 137.3h1M53 131.8h1M54.8 126.5h1M47.5 155.6h1M112.3 104.5h1M29.9 160.3h1M109.3 106.7h1M69.7 124h1M23.2 129.6h1M83.2 119.3h1M62.2 137.4h1M74.7 123.9h1M47.8 140.3h1M89.2 114.8h1M64.9 134.6h1M92.2 116.6h1M70.4 128.1h1M54.8 141h1M72.6 136.8h1M44.1 144.7h1M85.8 118.9h1M57.4 142.6h1M54.2 131.7h1M92.1 106.6h1M47.8 134.9h1M48.6 139.1h1M57.2 152.3h1M49.3 132.4h1M75.9 129.5h1M104.4 108.9h1M82.8 120.8h1M68.7 148.4h1M92.3 115h1M43.6 147.7h1M84.5 126h1M43 153.1h1M52.5 157h1M66.6 120.6h1M61.4 127.9h1M51.7 133.1h1M57.5 149.5h1M22.1 146.2h1M72 134.6h1M69 122.6h1M65.4 127.7h1M28.7 146h1M49 154.2h1M40.7 139h1M44 145.6h1M57.3 124.5h1M48.6 147.1h1M92.8 116.2h1M45.2 152h1M96.6 110.8h1M74.1 123.2h1M70.9 129.5h1M54.1 129.9h1M66.6 137.6h1M83.6 123h1M36.5 127.6h1M38.7 145.7h1M88.5 109.9h1M68.9 133.4h1M57.5 134.5h1M71 127h1M64.1 135.2h1M68.4 130.5h1M71.4 144.7h1M70.5 131.9h1M39.1 143.3h1M64 128.1h1M37 151.4h1M35.6 135.6h1M36.7 157h1M77.8 133.1h1M63.6 122.9h1M26.3 149.4h1M36.7 152h1M78.3 123.5h1M80.2 129.7h1M62.9 132.9h1M76.5 122h1M77.2 128.3h1M24.5 144.5h1M69.3 134.3h1M42.3 147.7h1M39 137h1M49.6 122.4h1M87.6 109h1M55.2 135.2h1M84.7 122.7h1M90.5 114.6h1M88.4 111.4h1M102.4 114h1M40.9 150.6h1M51.2 143.1h1M85.5 117.2h1M27.5 145.4h1M49.6 128.9h1M25 137.7h1M49.2 147.4h1M65.2 127.9h1M32.5 143.1h1M43.6 155h1M17.6 157.3h1M53.6 134.9h1M54.9 143.8h1M60.3 143.1h1M89.4 116h1M72.5 127.4h1M83.5 115.6h1M57.5 127.8h1M28.5 133.5h1M88.1 120.1h1M75.4 127.2h1M75.7 125.5h1M19.6 133.8h1M25.1 141h1M74.4 130.7h1M68.8 133.4h1M74 124.2h1M26 150.6h1M52.2 138.1h1M83.2 115.9h1M38.4 147.6h1M94.8 116h1M88.1 113.8h1M78.1 117.9h1M35.2 132.5h1M72.7 132.6h1M14.2 146.5h1M83.2 119h1M49.3 131.9h1M88.3 117.9h1M72.2 133.4h1M72.9 128.3h1M77.1 121.7h1M61.8 127.3h1M73.2 131.8h1M72.1 126.5h1M34.2 148h1M52.9 139.1h1M44 155h1M82.6 124.2h1M55.1 128.3h1M40.8 128.7h1M83 131h1M58.6 136.4h1M67.2 145.4h1M91.7 117.6h1M46.7 159.8h1M81.9 127.1h1M112.5 107.4h1M60.1 137.4h1M31.6 149.9h1M49.6 126h1M30.2 149.2h1M84.9 117.5h1M91.9 120.3h1M90.1 114.2h1M47 162.9h1M44.1 141.4h1M56.8 131.7h1M115.7 102.5h1M59.8 142.1h1M56 128.2h1M101.2 111.1h1M63.2 131.8h1M71.9 125h1M15.1 160.3h1M77.1 122.1h1M30.3 151.3h1M82.9 129.1h1M56.7 141.8h1M75.6 118.4h1M35.7 147.6h1M69.3 128h1M47.1 141.6h1M26.4 149.3h1M45.2 148.6h1M60.8 146.6h1M69.8 130.3h1M61.9 135.8h1M56.7 145.3h1M73.3 131.1h1M49.1 144.9h1M65.8 129.2h1M42.3 147.5h1M78.4 124.1h1M67.9 119.8h1M58.9 124.2h1M72.2 126.5h1M21.9 144.1h1M67.2 131.7h1M51.7 143.1h1M47.3 158.7h1M67.2 132.7h1M83.6 120h1M78.1 121.2h1M37.2 147.7h1M101.3 113.3h1M48.3 139.1h1M89.7 121.7h1M67.7 131.4h1M25.4 145.7h1M80.5 119.1h1M60.4 122.3h1M32.6 151h1M55.9 148.1h1M51 142.8h1M56 161.8h1M68 128.4h1M59.5 140.3h1M44.1 138h1M35 151.1h1M67.3 138.6h1M89.6 118.9h1M71 127.4h1M41.8 154.8h1M42.9 145.2h1M84.8 120.4h1M104.9 106.2h1M40.4 145.4h1M49.5 139.3h1M84 120.7h1M95 113.9h1M93.4 112.5h1M65 135.2h1M64.2 131.2h1M57.7 139.7h1M56.5 126.1h1M50 146.1h1M63.8 128.5h1M74.7 117.7h1M69.8 132.8h1M59.6 130.3h1M97.6 110.7h1M77.8 125.3h1M64.4 133.7h1M89.6 120h1M77.6 127.2h1M32.2 131.9h1M38.2 150.7h1M66.9 138.1h1M49.6 143.1h1M40.6 147.1h1M31.6 152.6h1M67 131.7h1M58.8 136.3h1M27.6 150h1M33.1 137.3h1M62.4 137.4h1M56.3 139.5h1M43.5 128.1h1M46 124.7h1M45.8 146.7h1M59.3 126.1h1M43.2 154.7h1M86.8 123.8h1M29.8 137.1h1M50.2 128.5h1M63.1 121.1h1M48.1 145.8h1M48.6 139.7h1M76.1 122h1M29.7 157h1M61.1 128.3h1M44.2 147.6h1M66.9 130.8h1M84.9 134.1h1M52.8 131h1M83 119.9h1M50.8 132.8h1M76.5 129.4h1M46.5 140.7h1M33.6 127.3h1M69.1 119.1h1M60.2 137.9h1M21.7 157.5h1M67.3 144.5h1M50.1 154h1M53.7 136.8h1M89.7 113.4h1M42.6 143.8h1M100.9 109.9h1M41 148.5h1M110.3 103.1h1M93.2 115.6h1M47.4 141.3h1M94.7 114.4h1M67.5 136.3h1M67.1 127.9h1M55 149.5h1M76.4 139.4h1M72 128h1M69.1 121h1M77.6 119.9h1M52.5 147.7h1M46.1 140.3h1M33.5 151.3h1M20.1 148.8h1M37.6 148.6h1M103.8 110.4h1M62 132.2h1M71.5 129.3h1M38.3 152.1h1M30.4 147.2h1M75.2 114.8h1M82.4 125.1h1M49.6 133.5h1M40 133.9h1M73 121.8h1M48.5 136.4h1M41.6 153.2h1M50.9 149.8h1M64.8 126.7h1M78.9 129.7h1M88.6 118.7h1M73.5 120.1h1M86.7 127.7h1M34.5 155.5h1M42.9 157.1h1M61.6 137.5h1M35.8 141.3h1M43.7 132.4h1M73.1 129.5h1M88.7 108h1M65.2 125.1h1M22.1 164.1h1M43.8 160.9h1M48.1 134.9h1M57.5 126.5h1M73.4 120.8h1M108.1 106.8h1M51.2 125.1h1M43.3 152.9h1M97.8 114h1M63.6 129.4h1M56.7 136h1M23.9 146.6h1M67.6 140.3h1M64.1 123.9h1M25.7 146.9h1M44.9 136.3h1M65.1 137h1M49.9 141.7h1M49.3 154.1h1M75.5 137.1h1M51.7 118.2h1M62.6 130.9h1M54.1 135.5h1M21 151h1M69.4 132.4h1M76.8 129.4h1M80.2 118.5h1M34.4 146h1M64.3 125.7h1M59.9 140.4h1M54.5 139.5h1M70.3 125.2h1M73 122.5h1M67.6 135.6h1M48.7 143.9h1M80.5 120.9h1M66.2 124.1h1M86.9 125.3h1M53.4 140.7h1M35.6 141.9h1M19.9 145.4h1M69.8 129.6h1M93.7 114h1M69.2 122.1h1M83.7 124.9h1M40.7 146.6h1M77.9 118.8h1M91.5 115.7h1M45 149.6h1M40.3 145.1h1M75.1 120.7h1M65 135.4h1M53.7 142.5h1M29.1 161.5h1M61.4 130.4h1M75.7 124.3h1M65.6 134.4h1M62.4 139.9h1M39.3 153.9h1M50.4 141.4h1M58.8 136.6h1M103.1 105.3h1M47.2 154.5h1M66.4 133.2h1M98.3 109.9h1M37 147.2h1M68.4 127.4h1M15.2 150.7h1M44.5 138.6h1M64 132.9h1M37.2 146.5h1M66.8 142h1M70.9 140h1M49.8 150.2h1M19.4 134h1M94.3 110.5h1M76.5 120.1h1M91.9 112.7h1M31 151.5h1M47.7 136.1h1M65.1 128.7h1M49.3 135.1h1M61.8 156.3h1M76.9 117h1M40 137.4h1M21.5 148.7h1M69 141.3h1M29.6 129.8h1M85.2 111.2h1M81.9 117h1M28.7 155.2h1M79.4 126h1M60.6 154.7h1M65.9 138.2h1M75.6 113.7h1M79.3 127.8h1M78.2 125.9h1M79.7 113.1h1M71.6 132.5h1M47.6 141.8h1M41.8 131.4h1M75.5 136h1M65.9 137.3h1M61.1 135.5h1M85.3 123.9h1M73.8 134.4h1M71.3 131.6h1M83.6 118h1M65 145.9h1M70 141.1h1M52.8 146.4h1M53.8 141.6h1M60.4 130.2h1M66.2 130.5h1M57.9 120.6h1M72.3 125.2h1M71.4 127.9h1M60.8 139.7h1M66.1 128h1M41.4 144.5h1M48.5 137.3h1M47 151h1M82.4 126.1h1M52.9 143.7h1M81.2 117.3h1M43.9 159.9h1M62.7 139.5h1M59.9 140.2h1M64 127.8h1M37 137.6h1M73.8 133.6h1M40.2 163.6h1M60.5 129.5h1M61.8 140.3h1M69.2 133.9h1M33.6 140.6h1M61.3 137.3h1M58.7 145.6h1M25.3 135.9h1M52.7 138.8h1M59.6 141h1M33.3 143.1h1M72.5 127.3h1M35.9 133.7h1M47.1 142h1M37.8 141.3h1M69.1 128.5h1M96.8 107.3h1M70.3 135.1h1M48.2 144.7h1M65.2 126.5h1M32.7 145h1M53.5 153.3h1M48.7 140.1h1M74.4 131.4h1M76.8 138.2h1M112.2 103.7h1M94 109.8h1M67.7 134.2h1M64.3 127.6h1M47.2 147.9h1M74.3 118.3h1M41.3 156.4h1M30.2 155.8h1M76.7 134.5h1M66 122.5h1M71.4 132.1h1M74.2 138.2h1M88.2 127.3h1M97.7 109.1h1M49.5 155.2h1M68.5 126.8h1M79.9 116.5h1M75.5 122.8h1M57.3 129.2h1M96.5 114.2h1M47.7 134.2h1M68.8 130.5h1M116.9 102.8h1M89.2 123.7h1M70.9 127.1h1M77.9 125.9h1M71.6 132.3h1M82.5 129.6h1M71 138.8h1M62.2 122.1h1M69.1 128.9h1M50.8 146.6h1M87 120.8h1M53 119.2h1M51.7 146.3h1M61.1 123.5h1M53.8 131.5h1M74.4 122.8h1M96.4 110.1h1M69.2 125.4h1M46.6 143.5h1M29.2 161.1h1M50.5 144.9h1M16.4 155.3h1M64.9 129.2h1M20.4 155.1h1M75 129.3h1M50.6 151.7h1M28.9 163.8h1M64 135h1M101.2 110.1h1M85.3 120h1M80.4 120h1M68.7 132.2h1M54.3 137.8h1M66.8 129h1M48 136.9h1M94.6 123.3h1M36.4 155.4h1M34.4 136.6h1M20.2 158h1M48.4 143.1h1M77 129.4h1M89 118.7h1M67.9 128.6h1M37.8 142.4h1M56.5 158.3h1M41.5 158.4h1M26.4 145h1M38.4 145.7h1M79.4 129.6h1M71.7 141.8h1M83.8 117.3h1M84.8 123.2h1M58.7 129h1M88.1 120h1M94.1 111.6h1M83 117.3h1M64.6 132.3h1M56.6 129.9h1M63.5 122.6h1M78.4 133.2h1M79.8 119.2h1M55.8 141.9h1M79.2 128.9h1M37.9 135.7h1M70.9 130.6h1M51.5 147h1M30.1 134.6h1M56.9 129h1M69.4 131.8h1M77.2 116.8h1M92 116.8h1M87.4 118.1h1M63.1 131.8h1M65.1 125.5h1M63.3 137.7h1M82.1 115.8h1M75.6 136.1h1M117 101.8h1M55.7 142.9h1M79.7 124.4h1M34.7 146h1M80.9 124.8h1M32.3 154.9h1M82.4 123.4h1M53.2 122.8h1M61.2 126h1M71.8 130.6h1M91.9 112.8h1M63.5 134.3h1M61.8 129.1h1M61.3 144.3h1M48.5 126.1h1M101.7 112.1h1M21.8 141.6h1M49.8 140.2h1M35.9 147.2h1M24.5 134.1h1M77.1 134.3h1M99.9 110.5h1M81.2 121.4h1M36.2 148.4h1M68 128.4h1M64.5 131.6h1M94.8 114.5h1M41.7 140.5h1M61.4 146.2h1M52.6 141.7h1M67.9 133.1h1M34.1 153.1h1M91.9 113.3h1M53.9 126.3h1M24 139.5h1M35.2 137.1h1M43.8 142.9h1M49.9 154.5h1M97.7 114.9h1M54.4 143.8h1M40.7 142.6h1M83.3 121.8h1M81.3 133.3h1M34.2 140h1M89.5 115.8h1M40 127.1h1M62.3 133.5h1M60.7 126.5h1M55.5 135.4h1M100.9 112.8h1M72.4 132.5h1M44.8 160.5h1M63.9 146.3h1M43.2 129.1h1M37.5 126.8h1M70.3 125.3h1M35.1 155.8h1M69.2 130h1M105.2 107.2h1M83.4 108.9h1M47.3 139.5h1M60.7 128.9h1M66.9 124.9h1M57.2 132.5h1M93.6 108.9h1M45.8 154.4h1M66.8 120.3h1M54 157.5h1M92.5 118.5h1M46 137.5h1M24.6 140.2h1M42.3 156.7h1M35.8 156.7h1M90.8 113.7h1M37.9 136.1h1M57.8 145.2h1M33.4 152.2h1M54.6 149.5h1M21.6 155.9h1M75.4 126.4h1M30.1 150.3h1M47.7 128.7h1M44.5 145h1M29.1 151.6h1M85.7 121.4h1M35 153h1M26.9 149.1h1M76.3 136h1M69 128.3h1M86.9 116.9h1M76.5 140.6h1M65.1 145h1M45.4 128.9h1M80 120.4h1M11 141.2h1M41.1 142h1M34.3 162.8h1M55 139.8h1M103.3 108.6h1M69.6 153.1h1M50.5 145.6h1M93.7 118.4h1M28.2 136.1h1M54.7 134h1M49.8 144.8h1M55.4 148.6h1M78.2 121h1M63.9 135.8h1M97.3 108.7h1M65.4 133.1h1M83 118h1M94.8 112.4h1M82.3 120.6h1M31.8 129.6h1M42.1 143.9h1M111.7 105.1h1M76.1 114.8h1M53.7 134.9h1M33.1 137.4h1M42.6 154h1M73.6 125.8h1M84.4 121.2h1M59.5 131.1h1M53.8 137.6h1M68.5 135.7h1M32.2 137h1M90.2 114h1M53.6 136.2h1M66.2 141.8h1M73.9 124.7h1M22.2 130.5h1M60.3 136.5h1M30.4 157.4h1M48.4 131h1M78.9 125h1M44.1 136.4h1M75.3 120.5h1M45.4 151.4h1M87.8 119.5h1M67.4 137.6h1M24.8 153.8h1M35.8 138.2h1M60.9 125.8h1M43.6 139.9h1M98.9 113.1h1M68.2 130.1h1M71 121.5h1M22.8 147.3h1M100.1 115.1h1M32.1 160.8h1M30.2 131.2h1M97.4 118.4h1M64.8 125h1M21.3 160.7h1M33.1 136.3h1M66.4 138.9h1M51.8 155.1h1M51.8 154.2h1M82.2 118h1M82 113h1M70.7 133.3h1M55.1 146.8h1M40.6 134.6h1M93.2 113.1h1M43.5 125.4h1M88.7 120.3h1M48.2 155.7h1M94.7 114.8h1M93.6 114.1h1M18.1 157.9h1M4.4 157.7h1M33.4 139h1M23.1 161.2h1M29.5 159.1h1M30 139.2h1M2.7 154.5h1M18.6 141.4h1M7.9 132.3h1M42.3 155.4h1M38.3 153.6h1M18.8 131.3h1M45.1 142.7h1M32.1 145.5h1M13.6 153h1M6.5 152.2h1M29.2 159.3h1M39.4 143.7h1M20 156h1M2 160.5h1M36.7 150.6h1M30.6 147.5h1M17 138.7h1M1.4 150.4h1M25 150.4h1M17.4 154.1h1M34.7 144.4h1M7.7 152.3h1M37.9 155h1M5.3 156.6h1M11.2 157.1h1M14 160.4h1M34.7 152.2h1M4.7 157.5h1M45.4 160.9h1M8.6 155.6h1M25.2 164.7h1M22.7 159.7h1M13 160.1h1M33.9 152.6h1M3.7 159.1h1M7.5 162.4h1M2.5 160.6h1M14.7 161h1M42.2 148h1M17.3 155.1h1M42 145.3h1M19.3 156.7h1M1.5 163.6h1M29.9 151.4h1M1.6 149.4h1M35.5 155.3h1M36.6 161.2h1M6 151.8h1M32.4 162h1M32.5 141.8h1M14.4 163.7h1M34.7 139h1M14.6 158.2h1M26.6 163.1h1M11.1 152.8h1M6.2 161.2h1M14.2 151.8h1M24.7 157.1h1M38.7 127.3h1M42.7 143.3h1M32.3 146.3h1M19.9 128.1h1M8.5 151.4h1M11 141.9h1M49.1 154.5h1M44.1 151.3h1M43 165.3h1M31.9 151.8h1M17.1 165.9h1M40.2 161.1h1M38.5 164.2h1M17.4 148.6h1M10.2 160.8h1M27.5 165.4h1M29.4 162.5h1M15.4 133.2h1M49.6 162.8h1M17.3 144.6h1M1.7 157.5h1M39.2 150.6h1M33.7 164.2h1M10.2 157.2h1M12.9 141.4h1M3.9 141.4h1M22.1 142.7h1M18.1 166.4h1M25.6 162.3h1M30.8 142.5h1M38.3 161.2h1M28.9 145.9h1M46.1 142.3h1M4.6 144.8h1M35.8 163.6h1M14.4 146.3h1M17.9 164.1h1M23.5 160.4h1M39.4 149.6h1M3 149.9h1M15.3 158.7h1M54.1 155.1h1M53.5 143.6h1M13.3 164.3h1M37.3 141.1h1M20.4 157.9h1M36.4 159.1h1M26.1 158.8h1M28.6 153.4h1M19.6 166h1M24.6 156.9h1M54 148.7h1M13.7 152.5h1M7.7 154.6h1M50.1 147.1h1M24 163.8h1M28.7 150.6h1M18.6 162.4h1M50.7 154.1h1M25.7 158.3h1M16 150.1h1M35.1 150.3h1M31.3 156.3h1M5.5 149.1h1M26.2 156.9h1M34.1 153.1h1M17.2 147h1M27.2 141.9h1M13.2 155.1h1M1.9 156.7h1M18 157.4h1M33.3 161.4h1M46.4 135.6h1M27.4 146.9h1M29.8 160.5h1M28.3 141h1M2.4 160.2h1M3.3 154.1h1M28.9 153.4h1M2.3 165.9h1M3.3 159.9h1M1.4 154.4h1M8 151.9h1M18.3 166.4h1M38.6 142.2h1M23.7 158.4h1M19.7 158h1M34.4 158.7h1M31.8 140h1M34.3 153.5h1M17.9 160.4h1M16.9 157.2h1M40.7 157.8h1M24.4 153.2h1M19.7 156.6h1M9.9 156.2h1M7.3 162.4h1M50.2 147.2h1M44.3 143.4h1M10.2 158.7h1M35 130h1M42 143.2h1M29.6 164h1M1.3 148.9h1M47.7 137.2h1M34.7 153.8h1M7.4 134.4h1M26.8 144.7h1M3 130.9h1M18.9 159.7h1M13.5 155.2h1M17.6 149.8h1M23.1 139.1h1M28.3 151.9h1M33.7 149.5h1M18.5 155.1h1M25.1 148.3h1M39.5 151.1h1M25.5 159.1h1M32.5 156.5h1M20.4 158.7h1M40 150.9h1M22.4 159.4h1M10 161.3h1M11.7 145.7h1M9 165.9h1M39.8 155.1h1M6.7 165.2h1M19.4 154.7h1M33.7 146.7h1M31 159.6h1M21.8 144.9h1M20.7 142.8h1M43.5 135.9h1M26.7 161h1M21.5 156.7h1M4.3 164.1h1M9.3 153.3h1M9.3 138.8h1M12.5 143.6h1M16.6 156.1h1M7.9 134.9h1M25.4 160.4h1M16.9 148.6h1M33.9 153h1M39.7 162.6h1M14.4 165.1h1M3.6 155.6h1M5.8 160h1M16.6 163.5h1M56.3 150.9h1M44.6 151.7h1M50.8 150.2h1M57.1 147.1h1M20.9 144.6h1M10.6 166.3h1M29.5 156.8h1M32.6 147.3h1M29.8 159.5h1M26.5 166h1M33.4 143.5h1M47.3 158.1h1M33.6 154.4h1M44.4 141.5h1M36 152.8h1M53.7 144.8h1M50 162.9h1M6.9 162.2h1M33.1 137.4h1M5.2 152.5h1M14 151.3h1M30 163.7h1M32.9 145.5h1M8.5 165.3h1M34.6 154.1h1M37.6 165.5h1M8.4 164.7h1M31.1 159.6h1M14 161.8h1M40 165.7h1M35.4 155.6h1M32 149h1M13.3 158.7h1M33.2 154.8h1M44.8 149.4h1M35.9 151.3h1M42.3 139.4h1M39.1 151.9h1M40.8 139.9h1M30.3 152.4h1M26.1 157h1M28 150.8h1M33.1 138.1h1M36.3 145.2h1M43.9 141.9h1M39.4 141.7h1M34.6 132.6h1M28.5 163.2h1M44.3 153.6h1M49.4 140h1M53.2 141.7h1M12.5 153.1h1M15.3 155.9h1M19.9 143.8h1M25.5 165.6h1M15 149h1M13.7 146.3h1M16 157.7h1M31.8 166.1h1M27.7 151.5h1M14.1 155.8h1M16.8 166.3h1M18.7 141.2h1M45.6 151.4h1M8.9 147.7h1M41.2 153.3h1M44.7 144.8h1M33.7 155.2h1M43.3 160.7h1M38.6 151.1h1M6.1 154.7h1M33.6 144.3h1M5 161.7h1M36.7 159.4h1M15.5 128.1h1M40.6 148.8h1M25.8 153.7h1M40.8 145h1M23.7 163.2h1M2.8 155.4h1M14.1 149.1h1M32.9 149.3h1M117 102.4h1M119.9 102.3h1"/>
<path stroke="#f21616" d="M119.5 97.1h1M113.9 100.6h1M117.6 99.7h1M120.1 98.8h1M108.1 100.7h1M115.5 100.6h1M119.1 99.5h1M115.8 100.4h1M120.8 99.6h1M106.5 99.8h1M112.6 100.8h1M118.4 99.1h1M121.6 97.8h1M126.5 93.4h1M127.7 90.8h1M117.7 98.9h1M118.2 96.8h1M123.3 97.1h1M121.9 95.5h1M134.6 84.1h1M120.7 99.9h1M125.1 96.6h1M119.8 98.7h1M118.1 95.1h1M132.6 81.9h1M116.4 98h1M116.9 100.6h1M122.4 95h1M112.6 99.5h1M123.1 96.7h1M125.2 92.1h1M116.7 97.4h1M125.2 95.9h1M124.6 95.8h1M140.7 81.7h1M127.7 94.5h1M124.6 92.9h1M119.7 98.7h1M137.4 85.8h1M137.7 84.9h1M120.8 99.1h1M129 91.9h1M121.2 98.1h1M128.5 91.8h1M146.8 79.1h1M133.6 83.2h1M116.3 98.7h1M124 96.2h1M129.1 91h1M125 94.3h1M121.9 94.5h1M127.6 95.2h1M139.1 79.9h1M124.6 93.8h1M145.2 73.9h1M90 98h1M93 94.5h1M97 96.5h1M102 92.5h1M107 93.5h1M113 94.5h1M104 95.5h1M125 69.5h1M125 74.5h1M144.5 69.5h1M155.5 69h1M177 51.5h1M197.8 37.3h1M149 76.5h1M151 73.5h1"/>
</g>
<line x1="960" y1="234.3" x2="1025" y2="234.3" stroke="#555" stroke-width="1.6" />
<text x="1107.5" y="78.6" font-size="24.5" text-anchor="middle" fill="#000" font-weight="bold" textLength="54.5" lengthAdjust="spacingAndGlyphs" >0 nM</text>
<line x1="1242.5" y1="70.5" x2="1242.5" y2="238" stroke="#3a3a3a" stroke-width="1.3" />
<line x1="1242" y1="237.5" x2="1458.8" y2="237.5" stroke="#3a3a3a" stroke-width="1.3" />
<path d="M1244.7 237.5v3.6M1242.5 235.1h-3.6M1251.4 237.5v3.6M1242.5 229.9h-3.6M1256.7 237.5v3.6M1242.5 225.8h-3.6M1261 237.5v3.6M1242.5 222.5h-3.6M1264.6 237.5v3.6M1242.5 219.8h-3.6M1267.7 237.5v3.6M1242.5 217.3h-3.6M1270.5 237.5v3.6M1242.5 215.2h-3.6M1273 237.5v6.5M1242.5 213.3h-6.5M1289.3 237.5v3.6M1242.5 200.8h-3.6M1298.9 237.5v3.6M1242.5 193.4h-3.6M1305.6 237.5v3.6M1242.5 188.2h-3.6M1310.9 237.5v3.6M1242.5 184.2h-3.6M1315.2 237.5v3.6M1242.5 180.9h-3.6M1318.8 237.5v3.6M1242.5 178.1h-3.6M1321.9 237.5v3.6M1242.5 175.7h-3.6M1324.7 237.5v3.6M1242.5 173.6h-3.6M1327.2 237.5v6.5M1242.5 171.7h-6.5M1343.5 237.5v3.6M1242.5 159.1h-3.6M1353.1 237.5v3.6M1242.5 151.8h-3.6M1359.8 237.5v3.6M1242.5 146.6h-3.6M1365.1 237.5v3.6M1242.5 142.5h-3.6M1369.4 237.5v3.6M1242.5 139.2h-3.6M1373 237.5v3.6M1242.5 136.5h-3.6M1376.1 237.5v3.6M1242.5 134h-3.6M1378.9 237.5v3.6M1242.5 131.9h-3.6M1381.4 237.5v6.5M1242.5 130h-6.5M1397.7 237.5v3.6M1242.5 117.5h-3.6M1407.3 237.5v3.6M1242.5 110.1h-3.6M1414 237.5v3.6M1242.5 104.9h-3.6M1419.3 237.5v3.6M1242.5 100.9h-3.6M1423.6 237.5v3.6M1242.5 97.6h-3.6M1427.2 237.5v3.6M1242.5 94.8h-3.6M1430.3 237.5v3.6M1242.5 92.4h-3.6M1433.1 237.5v3.6M1242.5 90.3h-3.6M1435.6 237.5v6.5M1242.5 88.4h-6.5M1451.9 237.5v3.6M1242.5 75.8h-3.6" stroke="#3a3a3a" stroke-width="1" fill="none"/>
<text x="1271.5" y="256" font-size="10.5" text-anchor="middle" fill="#222">10<tspan dy="-4.5" font-size="8.5">2</tspan></text>
<text font-size="10.5" text-anchor="middle" fill="#222" transform="translate(1234.7 214.8) rotate(-90) scale(1 1.25)">10<tspan dy="-4.5" font-size="8.5">2</tspan></text>
<text x="1325.7" y="256" font-size="10.5" text-anchor="middle" fill="#222">10<tspan dy="-4.5" font-size="8.5">3</tspan></text>
<text font-size="10.5" text-anchor="middle" fill="#222" transform="translate(1234.7 173.2) rotate(-90) scale(1 1.25)">10<tspan dy="-4.5" font-size="8.5">3</tspan></text>
<text x="1379.9" y="256" font-size="10.5" text-anchor="middle" fill="#222">10<tspan dy="-4.5" font-size="8.5">4</tspan></text>
<text font-size="10.5" text-anchor="middle" fill="#222" transform="translate(1234.7 131.5) rotate(-90) scale(1 1.25)">10<tspan dy="-4.5" font-size="8.5">4</tspan></text>
<text x="1434.1" y="256" font-size="10.5" text-anchor="middle" fill="#222">10<tspan dy="-4.5" font-size="8.5">5</tspan></text>
<text font-size="10.5" text-anchor="middle" fill="#222" transform="translate(1234.7 89.9) rotate(-90) scale(1 1.25)">10<tspan dy="-4.5" font-size="8.5">5</tspan></text>
<line x1="1327.2" y1="70.5" x2="1327.2" y2="237.5" stroke="#2a2a2a" stroke-width="1.3" />
<line x1="1242.5" y1="171.7" x2="1458.8" y2="171.7" stroke="#2a2a2a" stroke-width="1.3" />
<text x="1299.2" y="150.7" font-size="10.5" text-anchor="middle" fill="#222" font-family="Liberation Serif,serif">Q1</text>
<text x="1354.2" y="150.7" font-size="10.5" text-anchor="middle" fill="#222" font-family="Liberation Serif,serif">Q2</text>
<text x="1354.2" y="203.7" font-size="10.5" text-anchor="middle" fill="#222" font-family="Liberation Serif,serif">Q4</text>
<g transform="translate(1242.5 70.5)" fill="none" stroke-width="1.25">
<path stroke="#000" d="M55.2 131.4h1M99.9 108.9h1M99 116.7h1M79.9 124.5h1M37.7 148.3h1M50.9 132h1M35.5 138.3h1M45.7 121.8h1M35.8 135h1M66.7 140.5h1M88.5 121.4h1M54.4 140.1h1M52.9 135.2h1M39.9 145.4h1M61.7 136.9h1M82.6 119.5h1M18.4 150.5h1M68.6 132.9h1M98.5 114.7h1M45.6 140.5h1M103 108.9h1M75.3 120.7h1M38.8 162.9h1M53.9 135.1h1M63.5 135.4h1M44.9 151.9h1M88 115.7h1M103.7 109.8h1M29.9 124.4h1M28.7 137.1h1M34.5 140h1M95 118.9h1M90.5 114.1h1M85 119.6h1M76.8 133h1M91.6 115.4h1M90.2 121.6h1M35.4 146.6h1M80.4 125h1M27.7 154.6h1M43.3 159h1M54 135.2h1M67.7 140h1M70.3 133.2h1M67.5 139.3h1M60.1 155.5h1M66.8 132.9h1M74.2 120.7h1M67 127.5h1M102.5 109h1M57.3 121.9h1M99.5 109.8h1M62.6 122.9h1M29.6 142.9h1M74.1 138.6h1M97.4 110.3h1M60.4 157.5h1M66.2 139h1M16.7 145.6h1M60 153.3h1M86.4 119.2h1M39.9 160.7h1M80.2 125.1h1M58.1 135.6h1M105.5 105.6h1M88.1 111.8h1M54.6 138.2h1M15.5 141.4h1M57.4 135.9h1M72.2 153h1M81.3 135h1M83 119.8h1M55.9 118.1h1M72.4 125.7h1M41.6 146.4h1M90.7 118.6h1M80.5 119.9h1M93.1 115.2h1M46.1 138h1M70.6 126.6h1M67.6 132.5h1M52.2 125.5h1M59.4 125h1M57.5 138.7h1M75.5 128.4h1M62.5 124.7h1M66.4 137.8h1M58 132.8h1M20.8 136.7h1M14 145.8h1M30.3 144.2h1M92.8 109.1h1M70.8 121.3h1M76.9 128.2h1M30.6 135.1h1M43.6 138.8h1M63.9 128.2h1M28.5 132.8h1M24.4 143.9h1M68.4 145h1M86 121.8h1M86.6 120.1h1M72.3 133.6h1M35.7 151.7h1M93.2 112.3h1M31.6 158.8h1M53 148.4h1M37.4 156.3h1M73.6 134.7h1M74 123.9h1M40.2 155.4h1M10.3 124.4h1M71.5 130.4h1M51.3 131.9h1M30.3 134.4h1M105.2 108.1h1M35.5 147h1M66.5 133.2h1M85.8 120.7h1M48 157h1M74.3 130.4h1M63.9 122.2h1M47.4 154.1h1M41.2 136.6h1M40.9 154.8h1M48.5 136.3h1M66.3 130.7h1M52.6 148.9h1M55.1 139h1M98 111.1h1M46.8 134.9h1M40.3 156.1h1M44.1 154.4h1M32 159.4h1M57.5 145.2h1M90.5 115.7h1M65.3 123h1M78.6 138h1M60.9 139.7h1M48.4 136.4h1M53.8 143.8h1M74.8 143.7h1M36.4 136.5h1M50.5 136.1h1M50.4 147.2h1M56.6 124.7h1M67.2 124.7h1M75.5 116.5h1M18.1 147.2h1M88.3 120.3h1M101.8 107.4h1M52.1 141.2h1M69.9 117.7h1M67.9 132.6h1M86.1 127.5h1M81.7 132.2h1M73.7 146.2h1M79.7 129.1h1M74.3 126h1M17.5 158.3h1M87.4 119.5h1M57.9 141.7h1M70.8 125.4h1M54.4 138.2h1M49.2 135.2h1M72 137.7h1M71.2 132h1M37.6 130.2h1M96.9 117.3h1M39.4 153h1M104.9 110.5h1M81.9 127.2h1M37.7 143.6h1M68.5 123.4h1M92.7 108.6h1M49.8 131.9h1M74.9 118.1h1M111.1 108.2h1M69.7 132.2h1M42.5 129.2h1M59.6 131.6h1M42 132.1h1M83.2 117.6h1M65.3 127.2h1M87.6 116.3h1M30.4 151.9h1M43.6 141.1h1M63.4 148h1M59.7 119.6h1M102.2 108.1h1M66.6 142.2h1M81 127.1h1M31.8 162.5h1M63.7 154.5h1M57.9 140.4h1M68.2 124.9h1M57.3 153.1h1M35.9 143.6h1M75.3 110.8h1M62.9 144.8h1M29.9 140.2h1M94.3 122h1M54.8 141.5h1M106.1 108.9h1M67 129h1M99.7 112.9h1M30.7 164.7h1M76.4 128.3h1M93.3 117.8h1M71.3 136.6h1M75.9 135.3h1M39.3 140.5h1M44.6 144.2h1M49.8 130.6h1M111 104.1h1M24.7 136.6h1M26.9 151.5h1M34.1 130.2h1M64.2 124.1h1M78.8 120.9h1M70.2 151.3h1M91.8 110.4h1M23.4 142.4h1M48.3 129h1M29.5 154.1h1M45.5 155h1M92.4 111.1h1M92.6 128.5h1M45.1 132.7h1M17.1 158.7h1M49.3 136.5h1M70.7 122.4h1M87.6 123h1M59.9 139h1M44.4 153.3h1M76.9 133.8h1M37.5 134.8h1M67.6 132.5h1M90.1 116.6h1M40.6 150.8h1M66.2 141.4h1M24.2 145.2h1M47.6 128.1h1M46 134.6h1M61.4 130.8h1M74.7 123.8h1M66.1 121.9h1M65.8 136.7h1M52.2 129.8h1M27.5 143.1h1M77.6 131.6h1M42.4 149.1h1M73.6 134.5h1M37.3 152.8h1M96.4 117.1h1M83.6 124.4h1M87.7 119.1h1M46.2 138.8h1M42.1 137.4h1M106.7 108.2h1M30.4 135.9h1M45.8 137.5h1M29.2 144.1h1M67.9 128.5h1M59.4 143.6h1M58.5 133.4h1M71.9 137h1M68.9 128.6h1M33.7 151.6h1M26.9 160.9h1M21.1 147.2h1M46.8 142.1h1M61.5 131.7h1M89.2 126.6h1M29.2 158.5h1M52.6 151.3h1M52.4 145.8h1M49.9 146h1M44.6 142.9h1M52.7 146.2h1M69.3 130.4h1M29.9 146.1h1M46.8 135.3h1M87.5 122.7h1M77.1 112.6h1M79.1 119.1h1M47.5 132.8h1M28.5 145.8h1M84.8 130h1M78.8 119.3h1M89.7 122.4h1M85.1 114h1M49.5 148.3h1M67.9 135.7h1M25.9 144.5h1M27.8 151.7h1M48.4 142.7h1M95.3 118.6h1M91.1 112h1M59.5 145.6h1M75.6 133.1h1M108.7 110.3h1M48.4 161.6h1M95.6 113.8h1M56.1 139.4h1M37.6 151.3h1M63.8 137.4h1M77.4 117.2h1M52.9 132.1h1M85.3 114.8h1M68.7 144.5h1M46 132.2h1M62.6 124.7h1M31.9 139.1h1M83.8 122.2h1M67.1 127.8h1M66.1 130.6h1M67.8 131.6h1M42.2 158.2h1M36.1 129h1M81.1 121.1h1M90 117.6h1M53.1 134.5h1M26.4 144.7h1M83.5 116.5h1M97.8 113.3h1M114.8 105.8h1M85.3 119.2h1M71.4 120.9h1M56.8 144.4h1M88.9 122.5h1M77.1 126.6h1M78.7 138.4h1M79.5 127.6h1M70.9 131.9h1M41.9 138.9h1M56.4 141.7h1M31.7 158.1h1M41.8 149.9h1M87.9 116.7h1M66.9 131.1h1M84.9 119.7h1M47.2 139.8h1M47.2 132.8h1M54.7 129.3h1M50.7 136.1h1M26.1 148.2h1M26.8 154.3h1M83.8 123.3h1M67.8 141.6h1M75 127.4h1M64.1 149.4h1M51.5 149.5h1M68.9 129.1h1M27.5 136.2h1M96.1 114.3h1M72.1 134h1M68.2 133.8h1M43.2 146.7h1M15.6 142.5h1M96.1 110.1h1M88.6 119.7h1M65.4 124.7h1M85.7 122.5h1M74.7 133.8h1M64.9 131.8h1M85 126.4h1M72.6 114.8h1M47.7 136.2h1M41.9 154h1M66.8 143h1M90.3 115.9h1M71.1 121.4h1M64 131.4h1M86.9 117.7h1M79.7 125.6h1M57.7 136.2h1M39.1 146.3h1M40.7 150h1M107.4 103.5h1M67.9 133.8h1M47.2 133.6h1M50.9 137.2h1M24.6 149.4h1M27.1 158.9h1M42.3 148.1h1M90.4 120.1h1M36.3 148.5h1M71.5 135.3h1M28.3 163.6h1M87.4 121h1M93.7 113.5h1M86.1 121.3h1M79.9 123.2h1M91.1 119.1h1M39.9 123.6h1M70.1 131.7h1M86.7 120.2h1M93.7 122.9h1M55.9 136.4h1M90.1 122h1M100.1 112.8h1M50.1 119.7h1M57.4 128.1h1M76.8 129.6h1M79.2 123.3h1M60.4 125.9h1M48 126.1h1M71.7 128.5h1M105.3 108.2h1M64.7 142.7h1M52.5 136.1h1M57.8 142.6h1M62.1 127.4h1M79 127.8h1M70.2 131h1M23.4 149.9h1M49.8 128.9h1M33.2 147.2h1M62.7 139.4h1M21 153.1h1M99.1 112.8h1M65.3 126.1h1M104.8 108.1h1M71.9 130h1M59.2 125.7h1M88.5 121.6h1M62.5 131.5h1M17.8 158.4h1M83.4 128.2h1M63.9 130.5h1M97.9 115.8h1M82.3 120h1M68.7 131.1h1M55.1 138.8h1M40.7 149.8h1M75.8 123.9h1M57.9 132h1M29.3 152.7h1M60.6 134.8h1M65.7 139.4h1M79.1 119.8h1M83.9 125.5h1M83.5 126.4h1M33.2 149.5h1M74.8 120h1M91.2 110.2h1M84.6 124h1M43.1 138.1h1M74.1 126.3h1M54.9 140.2h1M100.2 113.1h1M71.1 125.9h1M71.1 131.9h1M63 129.4h1M29.5 149.3h1M15.4 151.6h1M55.3 156.6h1M50.6 135h1M25.9 159h1M111.7 105.9h1M29 143.7h1M65 136.7h1M59.6 133.7h1M77.1 121h1M77.7 123h1M105.8 113.5h1M50.4 139.7h1M88.4 108.6h1M40.1 156.8h1M47.2 155h1M35 146.8h1M71.1 123.7h1M56.7 124.4h1M75.1 121.7h1M40.4 143.3h1M48.2 138h1M55.2 143h1M47.9 153.7h1M50.6 113.7h1M113 104.5h1M16.3 142.5h1M46.8 149.4h1M79.1 134.2h1M82.4 116.4h1M76.7 125.1h1M82.8 115.9h1M49.8 156.3h1M36.5 148.4h1M81.4 118.1h1M68.3 119.7h1M48.9 133.9h1M87.2 117.7h1M50.5 148.2h1M35.8 131.9h1M44.1 138.9h1M58.4 144.1h1M59 136h1M92.1 119.7h1M75.2 131h1M40 163.1h1M105.4 109.6h1M80.4 118.7h1M44.7 147.3h1M69.7 137.8h1M94.1 120.7h1M61.7 134.8h1M55.4 140h1M87.6 118.1h1M74.1 130.5h1M39.5 158.9h1M64 130.6h1M69.8 120.2h1M31.9 143.8h1M78.8 133.7h1M77.1 144.3h1M63.2 136.3h1M82.5 122h1M81 119.6h1M22.8 156.2h1M56.4 143.8h1M69.8 119h1M54.1 143.1h1M45.7 133.4h1M35.5 130.4h1M23.4 153.6h1M109.4 106.1h1M83.3 119.5h1M82.3 120h1M52.2 138.4h1M28.1 151.5h1M55.1 141.1h1M52.5 151.6h1M101.6 107.2h1M70.3 129.4h1M71.5 131.3h1M64.4 140h1M36.8 135.7h1M97.5 114.1h1M42.6 144.9h1M79.2 127.1h1M48.1 141h1M33.7 147.4h1M90.8 117.8h1M58.4 131.9h1M84.3 119.8h1M92 113.9h1M100.1 117.2h1M109 106.9h1M32.5 150.5h1M56 141.1h1M69 127h1M94.7 119.8h1M78.2 139.5h1M55.3 125.5h1M79.3 127.2h1M54.4 137.7h1M54.4 128.8h1M50.7 130.7h1M64.9 131.2h1M26.6 156.1h1M56.3 151.5h1M89.1 122.6h1M76.9 127.5h1M77.1 129.5h1M68.1 122.5h1M25.2 149.2h1M35.4 149.2h1M43.6 133.5h1M47.1 141.9h1M46.7 141.5h1M79.7 115.3h1M79.6 136.9h1M83.7 121h1M58.8 141h1M25.4 145.3h1M59.6 132.3h1M57.7 123.8h1M24.6 155.6h1M67.2 127.7h1M85.2 117.6h1M71.1 126.6h1M15.5 160.9h1M75.8 127.6h1M60.1 130.6h1M95.8 108.7h1M43.1 141.2h1M18.5 148.2h1M35.6 164.7h1M90.3 113.9h1M50.7 151.5h1M68.4 127.6h1M95.8 109h1M34.6 142.4h1M53 135.9h1M32.8 164.2h1M83.2 116.8h1M74.6 146.9h1M53.5 137h1M38.3 144.6h1M47.3 155.1h1M64.2 127.5h1M47.2 162.4h1M108.5 104.1h1M67.6 132.4h1M101.6 112.4h1M28.3 122.7h1M31 143.7h1M104.1 107.9h1M61.7 143.7h1M97.2 113h1M96.6 115.2h1M98.9 116.8h1M31.6 132.7h1M50 157.3h1M65.6 129.9h1M71.4 125h1M94.3 113.5h1M36 142.2h1M29.2 136.5h1M54.6 156.7h1M72.9 116.6h1M89.9 113.4h1M51 157.8h1M81.6 111.2h1M63.4 131.7h1M94.8 116.6h1M59.9 122.6h1M50.3 139h1M54.9 138.7h1M41.7 136.3h1M67 125.5h1M85.9 116.9h1M56.4 138.2h1M106.9 106.1h1M65.2 139.2h1M78.1 127.4h1M18.5 146.2h1M84.7 121.2h1M59.6 144h1M75.8 134.4h1M62.8 135.1h1M37.1 145.9h1M74 127.4h1M66.3 132.7h1M29.8 136.3h1M14.9 135.6h1M56.3 140.9h1M79.8 133.4h1M85.4 119.8h1M64.4 119.9h1M37.2 129.9h1M31.2 148.3h1M60.1 135.2h1M87.8 121.4h1M101.5 116.2h1M92.4 115.8h1M64.5 133.3h1M63.6 133.1h1M84.7 118.6h1M48.5 123.4h1M111.5 103.9h1M87 119.7h1M54.1 145h1M66.4 133.7h1M75.2 129.5h1M73.5 126.5h1M60.3 128h1M98 110.7h1M77.5 135.2h1M91.5 121h1M53.9 149.4h1M40.5 134h1M29.2 139.2h1M80.2 122.6h1M79.5 130h1M57.7 124h1M66.3 132.8h1M94.5 109.1h1M79.4 126.7h1M76 123.3h1M70.4 128.4h1M53 134.2h1M60 129.6h1M64.7 125.4h1M79.1 121h1M48.3 127.3h1M79.5 122.8h1M27.7 147h1M100.1 114.2h1M58.8 136.2h1M57.7 148.7h1M83.4 129.4h1M94.8 109.9h1M55.2 137h1M39 158.3h1M70.2 142.9h1M86.5 115.1h1M24 138.5h1M58.4 126.2h1M85.8 114.4h1M87.4 118.3h1M64 139.5h1M38.8 147.6h1M62 132.1h1M34.9 143.9h1M80.6 128.1h1M69.8 128.8h1M94.2 116.5h1M71.5 135.3h1M62.5 139.3h1M45.1 133.2h1M37.5 150.9h1M90.6 116.9h1M97.1 106.7h1M90 119.4h1M33.5 142.9h1M56.7 136.8h1M48.9 146.2h1M32.4 150.7h1M74.2 113.3h1M80.6 128.2h1M93.1 115.2h1M72.8 123.5h1M68.9 127.7h1M61.8 133.3h1M51.3 156.6h1M44.7 146.4h1M60.7 137h1M82.1 120.5h1M89.2 115.1h1M98.4 118.3h1M39.5 144.6h1M59.4 135.2h1M54.8 131h1M39.7 163.1h1M46.8 133.5h1M71.5 138h1M70.8 119.7h1M46.1 151.3h1M44.4 136h1M47.7 154.1h1M74.9 125.2h1M37.9 155h1M75.7 118.9h1M88.4 113.5h1M45.7 147.8h1M101.5 107.5h1M71.8 129.8h1M46.9 140.4h1M50.5 142.5h1M48.7 144h1M94.9 117.8h1M85.6 116.7h1M67.8 140.9h1M36.3 130.6h1M101.5 115.2h1M65.9 143.1h1M48.9 159.3h1M37.5 150.2h1M60 115.3h1M110.1 105h1M25.2 143.8h1M40.9 135.3h1M74.1 138.3h1M81 133.8h1M84.8 120.4h1M64.4 130h1M111.5 107.9h1M32.5 139.9h1M62.1 148.9h1M108.2 106.7h1M66.5 118.4h1M94.3 113.7h1M86.5 121.8h1M38.6 143.4h1M93.2 115.3h1M50.9 133.4h1M74.5 123.7h1M43.8 145.3h1M46.5 152.8h1M80.3 116.8h1M19.4 148.3h1M65.3 134.4h1M66.5 132.4h1M72.6 125.7h1M83 116.3h1M52.7 136.4h1M44.5 125.4h1M63.8 148h1M62.1 127.2h1M37.6 146.7h1M45.2 149h1M89.8 116.7h1M73.7 130.5h1M39.8 131.3h1M75.9 124h1M60.4 138.1h1M27.9 160.2h1M89.4 112.4h1M36.2 141.3h1M94.8 119.9h1M91.7 112.6h1M33.1 138.9h1M31 147.2h1M91.5 110.8h1M45.7 142.8h1M65.7 126.7h1M57.3 132.4h1M102.3 107.8h1M79.7 130.2h1M97.8 108.6h1M58.4 131.1h1M51.3 130.3h1M56.5 141.8h1M46.2 153.4h1M87.9 119.4h1M36.7 154.6h1M76.6 127.8h1M60.3 129.6h1M63.6 124.1h1M76.2 134.5h1M81.4 125.8h1M67.7 147.4h1M47 156.9h1M55.8 143.7h1M97.1 118.6h1M82.6 129.5h1M27.1 128.8h1M70.9 120.4h1M48.9 133.1h1M62.8 121.9h1M75 121.7h1M63.3 138.1h1M75.2 126.4h1M84 133.2h1M104 107.8h1M83.3 126.6h1M67.4 137h1M50.8 144.6h1M40.9 148.3h1M54.5 140.7h1M82.8 136.7h1M56.8 132.9h1M52.4 128h1M76.9 117h1M101.6 111.5h1M70.8 125h1M78.4 126h1M32.2 154.9h1M49.4 120h1M22.4 157.9h1M48.7 147.9h1M76.7 127.4h1M72 132.1h1M105 114.1h1M107.8 107.2h1M61.9 152.4h1M63.3 129h1M100.8 112h1M100.9 111.8h1M70 127.2h1M69 128.2h1M102 114.3h1M51.5 139.3h1M71.7 129h1M88 114.6h1M69.8 129.5h1M66.2 129.3h1M44.5 139.4h1M97.7 111.9h1M63.7 149.8h1M67.2 129.3h1M41.9 149.5h1M40.8 145.3h1M103.1 114.7h1M51.6 141.6h1M60.1 124.9h1M51.6 141h1M102.6 106.8h1M75.3 140.2h1M82.2 122.6h1M66.9 136.8h1M38.8 136.1h1M105.6 109.1h1M84.5 118h1M57.6 135.6h1M71.4 123.7h1M108.6 105.4h1M63.4 119.4h1M55.9 140.5h1M85.1 113.5h1M43.6 140.8h1M36.3 148.7h1M93.6 112h1M37.3 145h1M100.2 113.3h1M77.3 126.5h1M58.9 127.6h1M111.3 101.9h1M59.4 129.5h1M28.6 150.1h1M61.6 135.4h1M45 148.6h1M71.2 132.3h1M43 154.7h1M85.6 123.7h1M72 124.7h1M91.5 117.8h1M95.5 113.4h1M83 119.5h1M79.6 121.1h1M68.5 125.1h1M32 155.7h1M52.7 128.8h1M27.6 149.9h1M75.7 130.4h1M26.8 156h1M60.5 133.1h1M44.7 138.7h1M76.1 128.7h1M76.1 123.5h1M41.3 143.8h1M43.6 140.4h1M93.6 126.6h1M64.5 140.4h1M32.4 158.5h1M91.6 117.4h1M57.2 144.6h1M30.2 157.4h1M72.2 133.7h1M69.9 138.1h1M47.7 143.4h1M90.6 118.6h1M43.1 142.8h1M82.7 126.4h1M53.6 147.6h1M35.8 156.8h1M50.9 132.3h1M61.5 124.5h1M35.5 156.2h1M65.8 133.8h1M85.9 134.9h1M69.4 123.9h1M74.2 126h1M57 132.6h1M94.8 116.2h1M44.5 134.3h1M57.5 139.1h1M54 146.7h1M42.9 157h1M27.4 137h1M92.5 111h1M44.2 143.2h1M56.6 124.9h1M65.6 128.5h1M64.3 138.2h1M74.2 122.1h1M63.5 131.2h1M54.7 129.5h1M99.7 111.7h1M75.4 112h1M68.2 133.6h1M41.8 149.3h1M68.2 128.7h1M35 149.5h1M85.6 123.3h1M86.1 115.4h1M35.7 156.3h1M52.8 137.4h1M102 111.4h1M31.8 149.7h1M46.2 137.4h1M64.3 136.1h1M33.9 145.9h1M74.5 126.5h1M60 134.6h1M34.7 141.5h1M77.4 126.4h1M110.1 105.4h1M72.7 127.2h1M59.7 135.3h1M68.2 129.3h1M64.8 130.6h1M50.4 140.9h1M53.6 155.9h1M39 149.1h1M105.1 103.9h1M40.3 135.7h1M54.6 122.9h1M27.2 152.7h1M76.7 114.6h1M79.3 119.8h1M23.4 134.5h1M63.2 136.2h1M59.6 133.5h1M102.3 112.6h1M64.7 139.2h1M64.5 127.1h1M50.1 146.2h1M43.5 137h1M41.2 152.3h1M85.1 114h1M78.9 115.6h1M59 144.6h1M29.7 153.6h1M40.3 145h1M96.4 114.5h1M74.8 129.6h1M70.4 131.6h1M65.9 124.4h1M50.4 146.9h1M92.9 116.3h1M44.8 137.4h1M71.6 147.7h1M55.8 148.8h1M42.2 124h1M88.3 114.4h1M53.3 140.4h1M29.4 141.3h1M54.8 140.9h1M105 111.2h1M80 118.9h1M65.9 135.3h1M90.1 122.8h1M43 146.8h1M28 131.7h1M101.6 108.1h1M77.5 127.1h1M56.5 135.7h1M67.7 159.3h1M58.8 134.6h1M83.8 115.3h1M63.9 128h1M99.9 111.6h1M76.4 126.1h1M60.4 133.4h1M66.4 134.1h1M61.7 131.4h1M52.9 146.8h1M69.3 137.1h1M91 117.3h1M63.4 132.5h1M62 131.7h1M40.7 144.7h1M40.9 150.4h1M99.7 113.4h1M114.1 101.6h1M53.3 133h1M100.3 111h1M48.5 132.7h1M65.2 121.9h1M52.3 133.8h1M77.2 132.8h1M83.8 116.9h1M81.6 125.1h1M70.3 136h1M45.2 134.7h1M31.8 153.6h1M34.2 146.6h1M100.2 111.4h1M72.9 126.4h1M62.6 132.7h1M99 112.3h1M47 153.9h1M96 114.9h1M61.3 130.3h1M40.8 144.1h1M64.3 128.9h1M47.2 148.3h1M75.9 126.9h1M89.5 122.4h1M83.9 115.2h1M27.6 150.7h1M35.9 146.5h1M80 131.1h1M111.3 107.3h1M95.3 119h1M53.1 128.4h1M26.3 148.3h1M71.6 139.8h1M49.8 146.6h1M111.5 104.2h1M61.5 137.9h1M63.2 127.9h1M99.7 118.9h1M113.5 101.5h1M14.8 150.4h1M95.2 119h1M37.8 163.4h1M75.1 128.2h1M44 140.2h1M38.1 145.2h1M28.7 143.8h1M53.1 126.5h1M68.6 135.8h1M19.3 160.7h1M44.2 140.8h1M47.2 138.6h1M27.1 123.8h1M62.1 134h1M24.2 152.8h1M98.5 110.1h1M79.4 113.3h1M40.3 136.4h1M33.2 163h1M46.2 159.7h1M64.2 130.6h1M62.7 125h1M46.7 146.8h1M105.9 101.7h1M70.9 144.3h1M79.2 129.7h1M53.7 138.9h1M68.2 133.6h1M93.4 112.8h1M83.7 117h1M38.3 134.1h1M36.7 145.1h1M71.1 125.8h1M78.4 134.3h1M56 134.4h1M49.3 146.3h1M32.4 159.6h1M35 138.1h1M77.3 121.1h1M41.2 151.4h1M36.4 144.3h1M92.2 112.5h1M109.8 112.4h1M70.4 129.3h1M50.6 129.1h1M61 138.1h1M39 137.8h1M41.6 164.3h1M85.7 123.5h1M76.4 125.8h1M102.2 107.6h1M79.5 132.9h1M34.5 153.4h1M90 117.1h1M82.1 111.9h1M98 109.3h1M70.2 126h1M57.6 139.7h1M70.3 126.8h1M94 113.7h1M76 134.8h1M63.6 135.2h1M40.3 144.7h1M91.6 118.1h1M36.9 147.6h1M81.5 127.2h1M54.6 134.2h1M84.6 120h1M43.9 140.5h1M42.8 140h1M66.2 137.7h1M59.6 136.6h1M55.7 137.7h1M74.6 138.9h1M74.3 132.6h1M99.9 112h1M57.5 132.2h1M53.3 129.1h1M60.8 141.1h1M39.7 131.8h1M85.1 126.4h1M83.3 129.1h1M82 126.9h1M62.5 129.2h1M97 108h1M104.4 107.8h1M99.9 109.6h1M28.8 148.4h1M53.2 137.4h1M64 137.9h1M71.4 128.9h1M36.2 142.8h1M114.1 101.8h1M90.3 114.8h1M92.4 113.9h1M69.3 135.8h1M87.3 122h1M25.2 146.8h1M84 120.9h1M77.1 141h1M82.2 127h1M88 115.3h1M42.4 140.1h1M59.8 129.8h1M81.8 117.3h1M72.1 135.1h1M45.4 136.7h1M40.1 155.6h1M79.5 123.8h1M46.5 144.4h1M76.4 126.8h1M32.8 165.5h1M25.6 151.4h1M45.5 139.1h1M42.7 140.6h1M32.2 145.8h1M74.7 119.6h1M57.4 146.3h1M73.7 132.7h1M90.6 115.9h1M45.4 132.4h1M23.5 138.6h1M65.2 131.6h1M76.9 127.5h1M87.9 123.2h1M79.4 119.6h1M84.8 119.7h1M101.3 110.7h1M87.2 117.2h1M39.7 139.6h1M71.4 122.6h1M58.3 157h1M76.8 119.5h1M76.4 122.9h1M75 129.5h1M61.1 136.9h1M67.4 125.6h1M65.4 129.8h1M66.1 135.9h1M55.6 125.2h1M53.5 156.8h1M33.9 132.5h1M60.6 133.1h1M52.5 120.6h1M85.7 126.3h1M70.4 121.9h1M66 145.8h1M86.6 122.4h1M76.7 136h1M58.2 139.5h1M39.6 154.1h1M58.2 150.8h1M64.7 139.1h1M27.1 151h1M20.7 139.9h1M28.6 137.3h1M86.1 117.7h1M29.6 139h1M67.9 143h1M71.8 136.2h1M86.7 133.2h1M96.6 115.9h1M45.7 150.8h1M71.5 129.5h1M26.3 142.2h1M48.2 148.7h1M39 129.6h1M94.1 119.2h1M87.8 116.7h1M63.8 141.1h1M38.2 139.1h1M68.1 137.4h1M90.3 116h1M78.4 133.2h1M86.6 117.7h1M74.8 127.5h1M46.1 149h1M22.6 154.8h1M58.3 145.9h1M88.9 119.2h1M46.5 125.3h1M52 137.5h1M46.7 133.2h1M90.1 117.4h1M95.7 118h1M56.3 137.2h1M58.6 136.4h1M29.3 162.3h1M58.1 148.5h1M51.4 151.5h1M45.9 135.4h1M54.5 128.1h1M25.1 140.2h1M62.6 136h1M71.1 143.8h1M60.3 129.2h1M58.5 138.5h1M64.2 135h1M61.4 132.8h1M57.5 133.5h1M31.8 158.4h1M70.6 134.9h1M67.2 131.6h1M70.1 134.9h1M82.4 126.7h1M66.1 115.3h1M77.3 128.2h1M42.6 149h1M62.2 146.7h1M38 137.6h1M65.9 132.7h1M83.3 115h1M26 128.3h1M98 108.9h1M60.7 124.2h1M68.4 127.5h1M51.2 150.7h1M59.5 131.8h1M73.3 135.3h1M76.4 128.4h1M54.9 138.8h1M95.4 119.3h1M45.6 158.2h1M47 139.4h1M24 138.2h1M47.8 143.8h1M110.7 105h1M104.4 112.1h1M32.9 162.7h1M38.3 149.8h1M31.4 149.7h1M76 124.9h1M90.8 119.4h1M49.8 160.9h1M55.6 129.8h1M82.5 125h1M46.9 132.2h1M25.2 144.2h1M114.2 101.4h1M86.5 117.5h1M58.8 146h1M83.9 119.2h1M65.6 137.4h1M46.8 154.1h1M37.2 145.8h1M47.6 131.9h1M49.2 155.2h1M54.8 148.2h1M62.9 124h1M80.2 120.7h1M51.6 135.9h1M62.7 121.3h1M113.4 103.7h1M64.1 139.7h1M67.6 119.6h1M36.3 144.6h1M67.8 128.3h1M47.2 139.9h1M49.4 127.6h1M56.8 141.1h1M77.2 118.4h1M86.7 116h1M73.9 111.3h1M49.1 137h1M65 138.7h1M87.1 120.3h1M71.2 128.2h1M55.9 137.8h1M64.6 152.3h1M44.1 155h1M79.6 123.1h1M44.6 159.6h1M64.9 131.5h1M90.9 117.9h1M38.9 140.5h1M78.9 128.6h1M78.9 122h1M44.7 137h1M62.3 138.5h1M97.9 113h1M108.4 105.3h1M70.6 131h1M86.7 120.3h1M84.8 123.3h1M45.2 156.6h1M47.4 153.3h1M55.4 129.2h1M26 141.7h1M67.7 125.8h1M98.5 115.1h1M65.6 123.2h1M48.6 134.8h1M15.4 159.1h1M92.6 116.6h1M43.1 140h1M67.1 123.2h1M86.1 120.1h1M66 128.5h1M85.3 117.8h1M87.6 118.2h1M41 154.9h1M33 154.8h1M71 126.1h1M71 122h1M71.2 128.2h1M57.1 145.9h1M41.2 145.7h1M75.7 129.7h1M54.3 140.6h1M42.5 150.9h1M38.3 143.1h1M100.1 115.3h1M100.3 109.8h1M84.6 121.1h1M30.1 136h1M68.5 118.7h1M63.8 125.2h1M12.3 150.9h1M51.9 147.4h1M53.9 131.2h1M87.1 120.8h1M83.2 124.2h1M51.9 131.4h1M53.9 157.7h1M28.4 136.5h1M83.3 119.4h1M36.5 140.1h1M98.9 111.8h1M55.1 149.3h1M90.6 116.7h1M41.5 139.8h1M63.8 137.7h1M24.6 139.7h1M51.7 140.6h1M92.4 118.7h1M103.8 111.7h1M55.7 140.4h1M105.6 109.7h1M54.2 130.9h1M52.1 122.2h1M47.3 149.4h1M45.7 135.8h1M84 125.2h1M59.1 124.2h1M85.1 120.5h1M53.4 120.9h1M65.9 131.3h1M34.6 151.6h1M88.2 121.6h1M107.8 107.8h1M33.6 149.4h1M50.7 151.1h1M29.1 146.1h1M101.8 114.7h1M31.8 150h1M70.2 125.6h1M8.7 118.6h1M40.2 161.8h1M89.8 114.5h1M82.3 120.3h1M47.6 133.5h1M72.3 134.8h1M39.1 136h1M51.4 135.5h1M69.9 139.9h1M27.9 153.8h1M45.3 135.9h1M85.8 142.9h1M37.6 143.5h1M92.1 117h1M83.2 121.6h1M49.2 126.8h1M62.6 145.4h1M96.8 116.7h1M36.8 150.6h1M89.7 118.8h1M55.8 145.1h1M56.2 143.3h1M104.9 116.9h1M63.1 142.2h1M85.4 125.4h1M47.2 142.5h1M49.2 132h1M65.8 141.5h1M45.7 143.3h1M50.1 140.7h1M80.6 118.8h1M61.4 147.6h1M69.3 126.8h1M90.3 114.3h1M49.2 142.8h1M75.7 126.6h1M35.2 147.4h1M54.9 157.4h1M54.8 143.6h1M71.4 120.1h1M101.8 112.1h1M53.1 154.2h1M46.6 158.2h1M65.8 123.1h1M50.1 149.7h1M83.2 126.6h1M103 111.2h1M79.6 121.8h1M99.7 108.8h1M70 125h1M67.9 140.4h1M65.4 138.4h1M46.5 148.9h1M98.8 116.7h1M71.5 124.1h1M58.9 143.2h1M71.9 140.1h1M70.4 123.3h1M52.9 133h1M77.3 129.8h1M65.7 137.7h1M81.4 119.3h1M53.1 130.3h1M77.6 124.8h1M100.9 101.3h1M77.3 123.5h1M45.3 151.5h1M97.2 109.5h1M79.5 133.1h1M47.2 152.5h1M59.5 129.7h1M87.6 117.3h1M82.9 122.4h1M61.1 142h1M71 137h1M89.8 109h1M74.5 128.7h1M21.5 146h1M27.3 155.4h1M63.1 134.5h1M37.2 141.9h1M72.9 140.7h1M33.8 154.9h1M78.9 125.4h1M75.5 122.8h1M64.5 149.9h1M66.5 137.8h1M85.8 115.4h1M56 157.8h1M55.6 153.7h1M58.2 143.3h1M92.1 120.2h1M44.5 148.6h1M19.8 145.5h1M68.7 150h1M28.8 158.7h1M37.6 134.3h1M51.7 136.1h1M79.5 119.2h1M18.4 142.1h1M43.1 130.3h1M93.2 116.5h1M80.6 119.9h1M38.5 147.3h1M41 144.9h1M54.1 141.4h1M68.1 134.5h1M77.1 120.2h1M63 149.2h1M114.8 103.8h1M44.6 149.2h1M66.8 143.3h1M47.6 146.2h1M85.7 123.2h1M67.4 140h1M43.1 144h1M46.9 129.2h1M106.6 106.8h1M20.5 148.2h1M86.4 119.7h1M111.4 100.9h1M25.1 157.1h1M74 125.4h1M66.7 126h1M56.3 132h1M57.8 128.5h1M50 125.7h1M69.5 127.9h1M58.4 148.9h1M69.4 132.9h1M67.7 135.8h1M39.5 130.8h1M76.5 131.4h1M61.1 139.9h1M49.8 144.8h1M61.4 121.8h1M85.2 107.7h1M62.6 136.1h1M50 140.5h1M97.3 113.4h1M44.2 148.2h1M60.9 133.9h1M68.2 132.5h1M73.2 130.7h1M84.1 129.8h1M69.8 135.6h1M32.6 159.8h1M81.9 114.1h1M61 121.5h1M85.5 127.6h1M77.7 130.9h1M76.3 132.6h1M89.5 121.8h1M47.9 131.3h1M39.9 126.1h1M75.2 123.3h1M78.4 114.4h1M58.6 147.7h1M42.3 132.3h1M85.1 121.1h1M75.7 124.5h1M38.5 150.4h1M58.9 137.9h1M93.5 118.6h1M103.6 106.1h1M87.4 126.9h1M39 139.6h1M42.7 133.3h1M55.2 130.7h1M99.8 111.5h1M102 107.9h1M92.9 115.3h1M80.4 118.3h1M57.5 131.9h1M93.7 112.4h1M45 147.7h1M55.8 124h1M59.7 129.8h1M60.4 143.8h1M62.3 119.6h1M90.2 116.8h1M53.1 136h1M105 111.7h1M91.3 121.2h1M81.9 122.6h1M71.1 125.1h1M67.1 131.5h1M56 156h1M75.3 123.2h1M81 122.4h1M113.2 104.1h1M34.1 145.9h1M86.1 113.6h1M75.4 130h1M39.5 144.9h1M59.6 140.6h1M64.2 123.8h1M53.5 140.5h1M44.7 135.3h1M94.7 113.3h1M53.9 135.5h1M66.5 120h1M33.4 149.2h1M57.5 146h1M100.2 111.1h1M54.4 135.1h1M109.5 104.7h1M77 122.4h1M55.4 138h1M54.5 133.4h1M89.1 121.2h1M67.3 139.3h1M76.7 131.2h1M76.8 117.9h1M58.8 143.7h1M87 112.9h1M61.2 146.8h1M76.4 130.8h1M55.4 158.1h1M57.5 139.5h1M83.7 124.7h1M25.3 136h1M74.7 139.3h1M25.6 144.7h1M54.4 148.7h1M56.6 136.1h1M30.6 139.8h1M86.5 121h1M62.9 134.6h1M92.5 117.3h1M47.5 135.2h1M33 146.6h1M97.1 118.7h1M14.8 139.7h1M49.7 145.9h1M83.2 129.5h1M81.7 132h1M64.9 122.5h1M81.7 121.2h1M97.9 120.8h1M21.1 150.7h1M77.7 121h1M63.8 130.8h1M49.9 134.5h1M61.7 135.6h1M100.8 112.4h1M78.7 115.9h1M102.8 110.6h1M97.7 115.2h1M34.6 140.6h1M100.7 111.9h1M31.5 146.5h1M69 130.5h1M78.1 128.6h1M66 140h1M51.6 157.8h1M34.9 143.4h1M64.6 149.6h1M65.5 129h1M34.1 139.9h1M62.2 142.8h1M96.9 119.1h1M71.6 122.2h1M55.4 146.7h1M73.2 129.4h1M78.1 130.3h1M39.9 137.6h1M85.9 127.7h1M73.9 129.3h1M54.2 137.1h1M59.7 152.3h1M68.7 125.2h1M60.4 136.4h1M89.3 120.5h1M56.9 134.6h1M72.9 125.8h1M71.7 133h1M42.7 143h1M67.9 130.7h1M51 136h1M8.9 137.4h1M60.2 140.3h1M65.4 138.3h1M43.5 130.5h1M38.3 146h1M69.2 142.6h1M27.2 148.7h1M57.7 138.9h1M87.7 116.8h1M40.6 150.8h1M100.1 113.1h1M16.4 144.9h1M32.5 151.7h1M61.7 128.3h1M56.2 130.7h1M45.1 134.5h1M45.7 122.2h1M49.7 145.8h1M70.4 135h1M59.3 134h1M88.3 121.1h1M36.6 155.4h1M85.1 128.2h1M47.9 120.7h1M31.6 139.7h1M71.6 131.9h1M61.6 126.1h1M101.3 114.9h1M67.8 132.9h1M73.7 122.9h1M93.1 111.2h1M57.5 126.2h1M57.3 133.4h1M48.2 158.3h1M45 145.4h1M119 102.4h1M24.9 144.9h1M47.5 139.4h1M28 156h1M25.3 141h1M49 144.2h1M102.4 109.2h1M42.4 131.3h1M90.7 118.2h1M14.4 137.7h1M82.5 128.9h1M42.4 145h1M38 146.7h1M81.2 118.6h1M83.1 119.7h1M45.5 134.9h1M107.4 111h1M54.8 137.1h1M108.1 103.3h1M58.9 130.5h1M64.8 125.8h1M70.8 124.2h1M63.2 125.8h1M39.2 146h1M92 113h1M54.7 127.6h1M85.8 120h1M68.2 124.4h1M63.1 123.7h1M22 149.2h1M80.1 116.3h1M66.1 134h1M50.8 136.5h1M72.6 116.9h1M55.1 128.1h1M99.8 103.4h1M63.3 145.5h1M72.5 131.5h1M46.4 138.3h1M70.1 120h1M94.4 115.2h1M47 125.5h1M59 138.5h1M49.7 160h1M33.3 153.2h1M73 122.2h1M82.4 119.5h1M47.3 137.3h1M98.2 111.2h1M53 137.3h1M70.1 127.4h1M71.1 122.3h1M83.1 115.3h1M70.4 122.1h1M40.2 139.8h1M69.4 140.3h1M24.7 150.7h1M98.1 110.8h1M77.6 127.3h1M46.8 138.6h1M41.9 147.2h1M68.9 136.7h1M61.7 134.2h1M37.2 132.3h1M79.8 131.1h1M41.9 129.7h1M78.6 132.3h1M56.9 131h1M23.4 154.7h1M57.7 128.9h1M39.8 135.4h1M45.2 140.5h1M64.1 134.1h1M37 150.8h1M46.1 142.5h1M58.9 149.8h1M67.6 124.4h1M80.2 117.9h1M25.2 157.4h1M28.3 131.2h1M61.1 124.7h1M62.4 136.1h1M30.2 133.7h1M87.8 119.7h1M109.4 110.5h1M33.8 131.3h1M59.5 139.4h1M107.6 103.8h1M70.4 131.5h1M52.2 133.2h1M69.7 124.5h1M35.1 165.8h1M98.1 116.1h1M72.2 124h1M102.2 113.3h1M30.5 142.8h1M84 115.8h1M60.5 131h1M70.8 131.6h1M74.3 123.3h1M75.6 130.7h1M74.3 135.4h1M41.4 137.2h1M39.1 141.6h1M56.4 143.2h1M79.9 130.7h1M37.1 164.3h1M95.6 110.2h1M84.5 124.1h1M37.8 150.4h1M53.5 141.4h1M68.9 129.3h1M48 138.2h1M85.6 124.8h1M56.7 153.6h1M60.4 141.9h1M85.2 126.8h1M63 117.7h1M95.5 110h1M83.1 120.3h1M82.2 123.3h1M63.3 134.8h1M65.8 131.6h1M49.9 137.8h1M98.6 112.4h1M71 137h1M36.1 162.5h1M51.5 138.5h1M101 109.6h1M112.4 107.1h1M82 115.9h1M32.2 148.8h1M83.3 121h1M69.7 125h1M97.7 112.1h1M62.7 138.7h1M55.5 135.1h1M59.3 141.4h1M60.5 127.6h1M65.4 118.1h1M70.7 140.8h1M22.5 153.5h1M41.4 123.9h1M36.5 142.6h1M24.1 162.8h1M93.5 117.9h1M93.2 117h1M72.9 131.1h1M74.7 125.3h1M43.6 133.3h1M65.7 124.6h1M18.2 146.3h1M75.7 122.6h1M69.2 135.2h1M55.5 139.1h1M47.5 141.6h1M62.8 131h1M71.1 131.9h1M43.2 130.3h1M39 146.5h1M56.8 122.6h1M65.4 133.7h1M69.5 121.5h1M56 138h1M57.2 132.7h1M55.6 142.1h1M75.4 120.3h1M51.6 132.2h1M40.7 131.1h1M72.7 126.7h1M44 128.5h1M54.6 143.5h1M46.2 131.9h1M28.4 149.4h1M95.1 116.4h1M88 121.7h1M66.1 138.3h1M51.2 138.6h1M57.8 132.8h1M81.1 129.1h1M61 122.3h1M68.4 130.7h1M36.9 145.1h1M112.3 108.2h1M30.3 162h1M56.8 136.5h1M61.4 119.9h1M69.4 124.4h1M62.6 142.2h1M22.3 153.2h1M45.7 135.7h1M79 128.6h1M44.9 146.7h1M62 151.9h1M79.6 135.1h1M70 131.8h1M57.8 136.2h1M67.2 141.6h1M41.8 147.3h1M22.9 140.8h1M71.8 115.2h1M23.6 148.3h1M92.5 113.9h1M54 143.7h1M42.5 141.4h1M79.4 117.7h1M74.2 124h1M28.3 145.6h1M55.3 139h1M93.1 123.4h1M44.4 151.7h1M50.3 134.6h1M58.3 139.9h1M71.8 128.6h1M53.7 127.7h1M63.7 130h1M47.8 157.5h1M89.3 111.3h1M55.9 138.9h1M20.5 148h1M80.1 121.5h1M64.9 129.1h1M77.7 120.5h1M79.3 132h1M66.5 132.8h1M19.7 138.4h1M67.6 136.7h1M110.7 108.3h1M99.2 112.6h1M36.2 147h1M63.2 138.5h1M56.2 147.8h1M95.8 116.2h1M63.7 131.8h1M37.6 164.1h1M46.2 149.7h1M69.3 133h1M101.3 109.7h1M35.2 151.3h1M90.8 117.5h1M89.2 120.9h1M23.6 161.6h1M56 133.6h1M63.1 139.1h1M14.1 150.6h1M33.3 148.6h1M67.9 147h1M65.7 132.6h1M93.7 122.9h1M77.4 122.9h1M69.4 137.9h1M65.7 120.1h1M48.4 145h1M66.5 144.2h1M90.1 112.5h1M69.1 134.1h1M84 125.7h1M75.2 127h1M76.6 127.2h1M78.8 118.8h1M40.9 146.8h1M58.3 138.4h1M47.6 163.1h1M58.7 135.4h1M89.9 118.9h1M78.6 118.9h1M85.3 119.4h1M80.6 115.4h1M36.2 127.3h1M23.6 159.3h1M31.6 142h1M88.9 122.3h1M70.6 125.8h1M25.7 142.8h1M86.9 125.8h1M94.1 121.6h1M101.2 112.6h1M95.2 120.4h1M57.8 131.9h1M70.3 130.3h1M52.1 146.8h1M81.7 116.6h1M37.1 155.9h1M66.3 139.4h1M91 117.8h1M61.2 129.8h1M108.7 101.9h1M41.6 161.3h1M26 146.8h1M39.3 135.1h1M74.9 134.5h1M94.4 112.9h1M84.4 121.2h1M29.7 135.4h1M70.4 132.6h1M79.7 122.2h1M43 151.5h1M34.8 150.4h1M50.5 130.2h1M31.2 141.6h1M68.4 132.3h1M63.9 136.4h1M89 117.1h1M104.2 114.5h1M56.3 148.3h1M53.6 137.1h1M51 140h1M110.5 109.1h1M56.1 127.1h1M28 159.3h1M43.5 130.2h1M112.6 102.6h1M80.4 123.7h1M46.9 137.4h1M60.2 135.1h1M52.4 128.6h1M65.4 139.8h1M67.1 131h1M30.6 149.4h1M70.1 141.3h1M40.4 139.5h1M47.2 145.5h1M89.2 113.2h1M70.6 118.3h1M69.1 131.5h1M50.4 143.9h1M51 153.1h1M77.9 138.3h1M59.6 138.8h1M65.1 139.8h1M47.1 146h1M67 135.6h1M98.5 111.9h1M77.2 124.7h1M100.1 106.4h1M65.5 124.4h1M91.9 110.2h1M40 140.9h1M99.1 115.8h1M88.4 110.2h1M30.3 149.9h1M57.7 130.1h1M73 128.5h1M66.9 130.3h1M65.2 128.4h1M100.5 113.8h1M80.2 126h1M68.3 141.7h1M67.2 128.9h1M73.2 131.2h1M60.7 131.2h1M58 142.4h1M20.3 141.6h1M72 126.4h1M77.1 128.1h1M87 128.5h1M74.2 123.6h1M50.1 141.3h1M82.2 118.7h1M44.9 117.9h1M49.5 142.5h1M55.9 142.9h1M69.6 129h1M67.1 141.9h1M88.1 125.4h1M58.5 133h1M34.5 159.8h1M64.7 139.5h1M23.3 130.6h1M56.9 133h1M65.2 134h1M83.2 116.5h1M22 153.4h1M79.8 125.4h1M40.7 151.3h1M80.4 119.6h1M49.7 132.9h1M35.8 135.8h1M50.2 142.2h1M62.6 122.9h1M23.5 152.1h1M51.9 132.1h1M51.5 123.9h1M69.4 136.6h1M83.2 116.6h1M74.9 137.1h1M62.1 124.7h1M48.4 145.7h1M38.7 143.8h1M70.8 134.7h1M23 160.1h1M72.5 129.3h1M64 128.8h1M94.8 112.9h1M42.4 148.5h1M46.5 144.4h1M47.1 130.9h1M43.5 130.3h1M45.9 142.6h1M5.7 140.8h1M61.6 141.1h1M25 151h1M87 112.7h1M75.2 131h1M44.8 129.5h1M79.7 123h1M70.6 125.7h1M75.9 121.4h1M59.6 135.6h1M45.8 139.8h1M70.7 131.9h1M64.6 140.7h1M72.8 122.9h1M100.2 113.3h1M61.3 132.2h1M29.7 135.5h1M91 120.9h1M42.2 139.7h1M70.9 135.9h1M88.5 119.4h1M65.8 122.9h1M64.1 142.6h1M50 127.9h1M29.2 156.5h1M60.1 133.8h1M55 134.4h1M52.2 134.7h1M111.2 106.9h1M23.7 156.1h1M34.9 147.4h1M51.4 144.2h1M36.4 143.5h1M68.5 127.9h1M78.3 118.1h1M51.9 137.8h1M64.4 153h1M62.7 134.4h1M91.9 109.9h1M54.9 124.4h1M50.9 115.8h1M97.4 113.2h1M22.3 146.9h1M22.5 134.6h1M85 122.3h1M96 114.9h1M49.5 131.5h1M77.5 129.6h1M104.8 108.1h1M76.6 120.7h1M64.2 136.3h1M66.5 131.5h1M55.2 121.3h1M86.6 121h1M39.7 149.4h1M84.9 115.5h1M93.7 115h1M63.7 141.8h1M103.5 113.7h1M83.2 122.6h1M109.6 102.4h1M33.3 153.8h1M79.4 128.1h1M112.3 105.8h1M91 114.9h1M62.5 127.3h1M39 156.5h1M70.7 121.4h1M54.4 126.9h1M58.2 122.5h1M89.1 116.7h1M44.2 165.3h1M54.4 131.2h1M76 125.3h1M46 136.8h1M48.2 138.4h1M79.3 130.1h1M74.8 122.8h1M92.4 120.2h1M98.2 112.6h1M101.4 110.3h1M63.8 136.5h1M78.1 118.6h1M92.2 117.3h1M45.1 149h1M40.6 147h1M86.2 118.7h1M70.7 130h1M61.7 135.2h1M44.8 140h1M99.3 114.5h1M67.7 127.9h1M56.1 129.3h1M80.7 123.8h1M39.5 152.1h1M35.3 150.7h1M36.6 145.5h1M72.7 139.7h1M73.3 132h1M48 141.2h1M51.5 157.2h1M44.4 136.5h1M53.8 154.7h1M58.3 136.8h1M21.4 155.9h1M48.3 135.9h1M69.2 129.5h1M68.4 123.9h1M53.8 163h1M59.9 131.1h1M47.2 140.4h1M79.8 132.2h1M47.3 139h1M44.5 136.6h1M39.9 138.5h1M74.6 144.6h1M92.1 119.2h1M108.5 107.7h1M21.3 161h1M105.6 109.1h1M19.9 144h1M54.6 137.9h1M58.1 138h1M40.5 135h1M47.9 144h1M94.5 109.3h1M52.4 142.3h1M87.9 126.5h1M38.4 142h1M36.1 138.2h1M54.1 129.8h1M63 129.6h1M39.2 149.3h1M77.5 133h1M100.5 115.8h1M36.2 135.5h1M80 129.1h1M45.5 131h1M56.7 146.4h1M57.8 123.5h1M79.4 127.5h1M75.7 120.2h1M84.7 121.8h1M58.3 149.6h1M76.7 120.7h1M51.4 136.1h1M43.5 141.4h1M53.7 148h1M80.2 122.8h1M66.7 137.6h1M35.9 151.6h1M43.7 147.9h1M67.9 130.4h1M52 137.1h1M69 128.8h1M60.5 133.7h1M50.6 128.6h1M101.7 108.5h1M55.1 136.4h1M102.4 108.8h1M43.6 147.4h1M100.7 113.5h1M60.9 130.2h1M59.7 140.1h1M53.9 131.9h1M54 159.6h1M74.7 134.3h1M57.5 125.2h1M110.5 109.5h1M64.1 141.7h1M35.3 141.9h1M103.9 111.6h1M52.8 150.7h1M78.9 122h1M72.1 141h1M47.7 140.4h1M97.6 109h1M37 154.6h1M41.6 145.5h1M88.7 113.7h1M51.9 146.4h1M27.3 145.6h1M86.9 121.2h1M65.9 132.5h1M62.5 128.9h1M85.1 126.9h1M41 159.4h1M81.1 129.1h1M47.3 138.6h1M44.8 143.3h1M66.3 138.4h1M85.6 121.7h1M61.8 132h1M55.3 141h1M95.6 110h1M43.5 150.4h1M80 121.3h1M53.5 140.3h1M39 126.1h1M38.8 151.8h1M68.4 139.4h1M84.9 120h1M58.3 134.1h1M51.6 150.2h1M57.7 135.7h1M20.8 138.3h1M60.1 135.9h1M42.7 129h1M53.3 129.2h1M33.1 143.1h1M80.5 128.4h1M71.9 133.6h1M103.7 109h1M37.5 152.5h1M51.9 119.2h1M55.7 130h1M49 130.6h1M64 135.2h1M35.4 145.3h1M45.1 142.8h1M78.1 121.4h1M72.4 141.8h1M50.8 135.2h1M105.9 104.2h1M57.8 124.1h1M70.6 126.6h1M85.1 123.8h1M88.8 121.6h1M36.2 158h1M36.8 140.2h1M47.1 160.9h1M56.5 133.2h1M52 162.6h1M45.2 162.4h1M103.8 108.9h1M101.2 109.7h1M51.4 143.2h1M55.5 154.4h1M62.8 129.6h1M101.9 110.5h1M91.6 115.3h1M50.3 163.3h1M90.9 125.4h1M33.1 140.6h1M67 138.6h1M65.5 141.5h1M82.3 129.1h1M31.5 112.6h1M113 103.8h1M69.4 139.6h1M58.5 143.9h1M92.7 112.5h1M85.7 122.6h1M31.4 143.9h1M43.6 134.1h1M99.5 112.2h1M51.6 132h1M64.2 132.5h1M68 125.6h1M82.6 128.1h1M72.6 151.8h1M45.2 141.2h1M99.2 116.5h1M56.4 136.1h1M51.3 137.8h1M48.1 134.4h1M74.3 131.2h1M57.3 140h1M41 150.4h1M38.7 134.8h1M53.9 146.3h1M53.1 131.5h1M86.8 118.7h1M54.8 127.9h1M87.3 113.6h1M53.6 143.4h1M46.9 141.9h1M76.7 131h1M40.7 146.6h1M31.4 155.7h1M24.4 149.4h1M40.1 153.1h1M44.8 138.4h1M72.8 129h1M59 135.4h1M75.1 124h1M74 135.9h1M53.1 128.7h1M51 158.3h1M58.9 138.9h1M48.5 143.7h1M91 117h1M83.8 121.9h1M36.1 152.8h1M94.4 119.3h1M40.6 140.7h1M34.5 154.8h1M29.5 142.5h1M116.2 104.5h1M73.4 131.6h1M51.4 128.2h1M67.5 130.2h1M74.1 115.6h1M95.7 110.2h1M95.5 115.1h1M56.1 138.5h1M65.9 127.3h1M49.7 124.7h1M37.7 133.2h1M70.1 128.6h1M55.7 137.6h1M107.9 108.6h1M81.7 118.5h1M50.6 137.4h1M71.9 128.1h1M39.3 139.2h1M71 128.5h1M98.6 118.6h1M108.6 108.1h1M37.1 148.7h1M49.8 139.2h1M101.1 113.7h1M63.7 136.5h1M86.7 130.5h1M54.3 140.4h1M35.5 147.4h1M35.7 125.4h1M102 109.4h1M79.9 122.8h1M52.4 148.7h1M87.4 114h1M82.4 120.8h1M90.5 126.2h1M30.2 137.1h1M66.3 136.2h1M77.6 127.7h1M67.8 139.9h1M50.9 130.2h1M45.3 154.9h1M65.9 126.6h1M83.9 118.1h1M98.1 119.4h1M80.4 125.5h1M91.1 114.9h1M39.7 130.2h1M44.2 139.4h1M65.8 135.8h1M64.4 138.2h1M84 123.6h1M62.1 139.7h1M94.1 115.6h1M74.3 132.1h1M80.5 125.3h1M61.1 133.2h1M76.6 125h1M62.2 145.1h1M59.1 131.2h1M78.2 128.3h1M44.1 145h1M65.8 144.1h1M71.6 131.9h1M28.3 153.8h1M48.5 131.9h1M27.3 155.5h1M98.9 110.2h1M84.3 120.4h1M51.3 147h1M78.5 126.9h1M69.2 135.8h1M31.9 130h1M71.7 137.8h1M50.1 139.7h1M22.5 148h1M43.9 142.7h1M77.6 123.4h1M95.5 114.7h1M63.6 148.4h1M60.5 148.5h1M66.7 134.6h1M47.5 143.7h1M76.2 121.5h1M46.3 143.6h1M79.7 122.2h1M57.3 137h1M74.2 137.3h1M37.4 139.7h1M31.4 147.6h1M89.4 122.5h1M62.5 134.7h1M61.1 140.2h1M70 128.7h1M40.1 152.3h1M72.4 132.4h1M90 114.4h1M88.8 122.9h1M77.3 134.5h1M74.3 137.5h1M82.9 128.1h1M93.1 121.7h1M60.1 126.7h1M23.5 160.9h1M81.8 125h1M96.7 111.9h1M34.9 141h1M86.3 120.1h1M85 118.2h1M96.2 114.8h1M83.2 122.3h1M99.8 110.9h1M22.4 157.9h1M41.4 147.1h1M102.7 108.5h1M51.5 137.4h1M86.3 121.8h1M62 136.3h1M83.3 114.5h1M41.1 138.5h1M78 127.6h1M59.6 134.6h1M36.5 140.9h1M60.5 131.1h1M42.9 139.1h1M45.8 142.1h1M66.5 133.8h1M63.7 142.4h1M20.1 151.9h1M80.4 121.8h1M62.4 127.1h1M47.1 134.2h1M45.7 139.5h1M90.6 115.8h1M63.2 121h1M65.7 141.8h1M25.4 144.8h1M38.4 131.5h1M37 157.1h1M36.5 148.8h1M49.7 135.2h1M28.1 153.9h1M100.3 107.1h1M39.7 156.6h1M111.7 104.7h1M41.6 153.1h1M78.3 122h1M82.3 126.3h1M85.4 120.2h1M59.7 135.2h1M41.7 153.5h1M82 130.7h1M56.4 134.8h1M54.3 132.4h1M81.9 119.1h1M65.2 142.6h1M52.3 148h1M62.7 125.5h1M31.2 147.3h1M86.4 132.2h1M47.1 150.6h1M79.9 118.5h1M60.8 138.2h1M91.2 119.2h1M94.3 110.8h1M56.2 146.6h1M52.5 124.4h1M37 152.2h1M33.5 141.9h1M75.4 122.5h1M58.2 139.7h1M56.2 132.4h1M67.9 138.1h1M50.8 132.8h1M46.4 139h1M25.4 160.9h1M87.3 125.2h1M78.8 124.3h1M41.8 153.9h1M74.4 126.4h1M105.2 112.3h1M78.6 127.4h1M78.5 139h1M14.3 156.2h1M57.1 137.6h1M64.5 128.6h1M48.6 146.6h1M46.8 131.7h1M47.8 165.6h1M40.7 145.9h1M75.8 129.8h1M73.9 135.7h1M50.1 132.8h1M51.2 136.2h1M69.6 140.5h1M59.3 124.8h1M42.9 148.6h1M82.6 121.1h1M70.9 133.5h1M33.7 140.8h1M50.5 132h1M22.8 125.7h1M45.2 147.4h1M25.7 161.4h1M89.6 116.2h1M41.8 150h1M62.4 136.8h1M39.8 134.9h1M52.1 140.8h1M44.4 138.7h1M58.2 138h1M64.8 124.3h1M53.9 143.8h1M105.9 111.5h1M75.4 121.5h1M84.8 117.3h1M57.1 136.7h1M103.5 103.7h1M50.6 143.9h1M65.6 122.1h1M73.3 125h1M94.6 116.2h1M21.6 154.4h1M24.5 144.9h1M33 146.9h1M73.1 132.2h1M63.9 125.3h1M99.7 112.9h1M103 107.6h1M50.9 132.3h1M58.9 132.9h1M61.7 126.6h1M77.5 127.4h1M74.7 139.9h1M35.3 137.9h1M61.7 133.2h1M58 137.6h1M93.6 116.9h1M47.7 144.3h1M86.8 124.9h1M90.6 114.7h1M42.9 142.3h1M57.2 135.2h1M67.3 122.2h1M32.9 156h1M78.1 142.9h1M58.3 136.7h1M30.4 158.9h1M28.2 144.2h1M37.3 148.5h1M43.2 152.5h1M57.5 125.2h1M28.4 149h1M61.7 133.5h1M38.2 137.1h1M33.1 135.4h1M85.3 118.4h1M78.5 124.2h1M95.2 114.7h1M27.1 135.3h1M57.2 142.1h1M67 134.9h1M47.7 140h1M47.5 148.7h1M43.7 154.7h1M80.2 120.9h1M56.6 147.1h1M89.2 117.5h1M90.2 124.2h1M62.6 124.7h1M35.1 140.7h1M71.9 129.4h1M99.9 109.8h1M49 138.8h1M65.7 132.5h1M61.3 126.2h1M72 124.6h1M25.7 142.2h1M57.7 129.6h1M69.2 139h1M41.1 154.4h1M46.5 140.6h1M84.8 119.3h1M64 139.9h1M79.3 133.8h1M93.8 126.8h1M55.6 144.1h1M26.6 147.9h1M88.2 115.8h1M40.1 136.7h1M65.9 145.6h1M43.7 141h1M39.1 138.3h1M78.6 119.6h1M103.7 102.4h1M56.9 136.6h1M53.2 142.3h1M53.6 138.2h1M67 127h1M63.9 130.1h1M36.5 145.4h1M32.8 147.6h1M46.6 137.2h1M63 142.2h1M78.4 118.6h1M32.6 151h1M41 149.1h1M52.2 139.1h1M52.8 126.8h1M95.7 112.3h1M48.2 125.3h1M83.4 119.5h1M107 110.7h1M64 130.7h1M51.2 144.1h1M56.1 147.9h1M42.6 144.6h1M21 144.7h1M38.9 121.3h1M106.7 103.6h1M52 141.4h1M64.2 132.9h1M48.9 143.9h1M107.8 105.1h1M81 113.1h1M58.8 122.3h1M37.6 146h1M84 133.3h1M71.7 130.1h1M58.9 151.5h1M59.3 147.6h1M33.7 147.4h1M52.3 147.5h1M52.1 143.5h1M50.7 129.3h1M47.2 151.3h1M37.5 130.6h1M39.9 161.5h1M60.6 130.3h1M73.3 139.7h1M104.2 111h1M91.3 123.4h1M39.6 138.3h1M33 156.9h1M55.8 136.9h1M68.3 126.6h1M90.6 116.4h1M103 110.1h1M59.6 140.9h1M75.7 140.8h1M89.9 116.4h1M18.8 164.2h1M58.1 131.3h1M81.4 122.4h1M66.2 133.6h1M87.7 114h1M110.2 103.6h1M43.2 157.4h1M72.7 124.8h1M51 143.1h1M60.6 137.6h1M95.8 111.6h1M66.8 129h1M70.8 126.6h1M69.8 135.9h1M98 112h1M35.1 142.5h1M51 123.8h1M52.4 143.1h1M61.2 145.4h1M41.6 140.9h1M104 110.1h1M96.6 107.1h1M55.4 154.9h1M53.8 154.6h1M72.5 137.1h1M70.6 133.2h1M82.1 129.8h1M42.1 141.9h1M56.3 163.3h1M33.9 143.4h1M30 146.8h1M22.3 155.9h1M39 133.1h1M58.1 153.7h1M105.3 107h1M62.1 131.7h1M95.7 113.5h1M33.4 145.9h1M40.5 146h1M94.9 123.9h1M7.3 164.9h1M38.5 131.9h1M31 139.1h1M5.9 141.6h1M11.7 156h1M29.5 158.6h1M24.2 147.3h1M32.3 142.8h1M6.7 150.4h1M35.8 147.9h1M38 159h1M14.2 163.1h1M35.6 157.8h1M46.4 148.5h1M38.1 156h1M16.2 143.4h1M27.4 145h1M26.8 158.1h1M32.1 149.2h1M45.5 157.3h1M32.4 158.9h1M1.2 165.7h1M8.6 153.7h1M37.5 141.9h1M25 157.7h1M34.1 149.4h1M19.6 154.5h1M36 153.5h1M44.5 153.6h1M50.6 137.8h1M34.2 130.1h1M48.1 146.2h1M15.4 163h1M36.2 156.7h1M56.5 151.3h1M32.3 146h1M23.7 165.9h1M17.6 152.1h1M5.7 143h1M28.6 140h1M14.2 142h1M4.8 151.5h1M12.6 153.3h1M28.8 149.4h1M38 142.9h1M2.5 164.5h1M27.3 139.7h1M56.3 157.8h1M13.7 154.8h1M16 157.3h1M42.2 141.8h1M25.7 144.8h1M33.7 165.1h1M32.7 153.9h1M32.9 144.5h1M8.7 146.3h1M12.5 145.3h1M29.8 145.2h1M13.6 135h1M13.9 154.7h1M11 165.8h1M60 147.5h1M47.4 153.5h1M26.6 146.8h1M28 149.1h1M43.8 153.1h1M35.5 157.8h1M20.1 147.7h1M22.9 155.8h1M42.6 162.2h1M14.7 160.9h1M31 158.1h1M1.8 158.2h1M10.8 165.4h1M25.9 145.5h1M44.2 156.6h1M35.6 162.9h1M20 138.6h1M35.1 164.1h1M11.8 148.1h1M22 142.5h1M38.8 161.6h1M21.6 164.3h1M17.8 158h1M31.9 165.7h1M33.6 151.6h1M30.7 133.9h1M43.1 152.5h1M25.7 162.1h1M26.9 160.4h1M24.1 151.2h1M31.4 157.4h1M14.1 145h1M20.7 148.2h1M50.7 165.3h1M21.9 149.7h1M5 165.9h1M10.4 157.4h1M34.3 154.7h1M44.1 156.6h1M14.7 150.9h1M34.2 141.8h1M11.7 155.3h1M34.3 147.6h1M48.7 150.3h1M27.5 148.3h1M45.6 158.8h1M13.5 160.3h1M41.4 144.4h1M46.3 159.6h1M11.4 165.9h1M11.3 163h1M27.9 163.5h1M1.6 147.9h1M48.2 147.4h1M27 156.4h1M9.7 162.6h1M28 157.7h1M26.5 150.4h1M19.4 148.8h1M15.9 156h1M48.6 130.6h1M19.6 152.8h1M19.5 164.6h1M46.3 159.6h1M12.9 146.6h1M41.6 134.5h1M19.1 152.7h1M16.6 144.7h1M28 141.1h1M40.7 148.3h1M28.2 143.1h1M26.4 153.5h1M18.3 148.1h1M30.4 133.2h1M26.2 162.1h1M44.7 145.4h1M31.9 150.1h1M9.3 153.4h1M9.1 135.1h1M46.8 147.7h1M23.8 153.2h1M16.5 129.3h1M40.2 164h1M51.6 139h1M43.6 152.9h1M42.2 133h1M17.9 156.2h1M20.9 145.3h1M19.9 152.9h1M4.7 159.6h1M5.3 158.1h1M3.8 166h1M3.8 159h1M15 144.9h1M10.8 152.6h1M18.1 135.6h1M42.1 146.2h1M6.7 160.8h1M25.5 154.6h1M2.1 151.5h1M37.1 146.7h1M23.2 159.3h1M50.8 157.7h1M57.7 137.3h1M21.4 155.9h1M35.1 147.5h1M7.8 155.2h1M1.5 164.4h1M43.7 156.5h1M3.1 157.4h1M27.4 142.5h1M26.6 137.2h1M61.3 147.5h1M32 152.5h1M36.7 146.6h1M28.8 164.4h1M19.9 142.5h1M18.8 144.1h1M11.2 161.5h1M44.6 151.5h1M30.7 152.9h1M30.1 158.3h1M14.5 160.6h1M51.7 148.2h1M34.9 157.3h1M17.6 142.3h1M33.6 163.9h1M60.5 148h1M48.4 143.1h1M17.8 148.7h1M39.1 153.2h1M26.4 150.5h1M24 148h1M31 148.9h1M44.3 164.6h1M14.5 157.3h1M7.5 158h1M15.2 162.7h1M20.5 149.6h1M12.6 153.1h1M33 152h1M36.9 141.1h1M38.4 142.5h1M27.5 150.9h1M37.8 161.9h1M20.4 133.3h1M29.6 155.2h1M42.5 144.2h1M46.5 156.8h1M1.6 155h1M22.1 154.6h1M35.9 141h1M12.5 140.2h1M26.6 149.8h1M17.1 160.2h1M56.4 137.7h1M32.3 150.1h1M38.4 147.3h1M22.4 159h1M27 145.2h1M47.6 149.6h1M29.8 139.8h1M43.7 148.7h1M31.2 146h1M36.2 150.1h1M38 160.3h1M51.7 140.8h1M41.6 136h1M35.3 154.3h1M27.7 162h1M22.7 154.4h1M26.5 137.6h1M31 156.7h1M9.9 159.2h1M39.8 164.8h1M53.9 165.5h1M36.4 157.9h1M13.5 162.9h1M15.2 161.2h1M36 140.4h1M11.9 156.9h1M14.7 147.5h1M20.1 156h1M12.6 163.8h1M32.9 163h1M25.6 150.5h1M24.4 140h1M27.4 145.2h1M24.9 147.2h1M25.2 153.9h1M26.4 145.3h1M34.7 144.5h1M58 151.5h1M6.7 148h1M52.7 144.5h1M28.8 155.5h1M10.3 164.6h1M26.7 145.5h1M15.8 162h1M7.2 150.2h1M48.6 148.8h1M45 149.4h1M23.1 140.1h1M26.3 150.1h1M59.2 146h1M14.8 148.7h1M35.2 145.6h1M22.4 156.9h1M29.4 153h1M36.5 156.4h1M50.2 137.2h1M1.9 137.4h1M6.5 134h1M51.8 150.6h1M21.7 162.2h1M17.3 151.6h1M45.2 158h1M27.6 138.7h1M13.5 163.2h1M29.1 161.4h1M26.1 158.8h1M28.1 145.6h1M17.6 164.4h1M49.8 161.1h1M44 156.7h1M5.3 155.3h1M10.2 151.2h1M23 149.6h1M10.7 158h1M29.4 150.5h1M38.1 158.3h1M43.3 158.3h1M33.9 160.5h1M42.2 154.1h1M27.4 159.5h1M48.5 146.3h1M36.1 161.6h1M54.7 153.6h1M16.2 160.5h1M46.9 144.1h1M46.5 158.8h1M2.1 157.5h1M48.5 156.4h1M116.5 100.9h1M114.2 103.8h1M119.6 100.9h1M121.1 101.9h1M113.8 103.3h1M120.6 103.7h1M110.9 102.8h1M120.7 102.4h1M114.3 105.2h1M118.4 101.7h1M121.4 103.2h1M117.9 101.9h1M74 85h1M74 97.5h1M81 94.5h1M43.5 109.5h1"/>
<path stroke="#f21616" d="M118.8 100.5h1M117.4 100.2h1M117.6 98.2h1M119.4 100.6h1M117.3 100.8h1M114.6 99.9h1M115.3 100.6h1M118.4 100.7h1M136.2 84.5h1M109.8 98h1M135.7 88.8h1M124 100.8h1M130.7 89.9h1M119.2 95.3h1M127.9 92.4h1M128.5 90.7h1M139 83.3h1M138.1 84.1h1M115.8 98.6h1M140.3 83.4h1M141.1 86.6h1M138.5 87.4h1M131.7 89.2h1M142.7 85.3h1M136.4 85.6h1M121.4 98.9h1M125.8 89.6h1M122.7 97h1M113.8 97.7h1M131.6 92.4h1M148.9 77.3h1M120 97.1h1M139.8 85.1h1M133.8 87.2h1M149.7 78.3h1M142.8 83.3h1M146.5 78.9h1M115.3 97.5h1M131 90.5h1M134 88.6h1M148.5 76.5h1M126.8 96.2h1M116.7 98.8h1M111.5 100.1h1M135 82.4h1M130 88.3h1M128.7 89.9h1M132.5 91.1h1M118.7 94.9h1M123.5 96.4h1M128.8 90.7h1M131 86.9h1M121.9 95.5h1M141.4 80.3h1M125.5 90.3h1M120.9 99.8h1M122.3 98h1M138.1 83.5h1M119.1 95.9h1M134.4 87.1h1M115.4 99.5h1M119.4 98.8h1M125.7 91h1M127.8 92h1M117.5 99.9h1M143.9 77.7h1M123 90.8h1M129.9 95.1h1M116.8 100h1M145.7 81.5h1M132.6 88h1M128.6 94.8h1M138.7 82.2h1M122.7 99.3h1M148.5 77.9h1M120.7 99.5h1M131 88.3h1M118.3 96.5h1M132.5 88h1M131.2 89.7h1M133.1 84.1h1M150.4 76.9h1M128.4 92.2h1M149 78.5h1M135.1 82.6h1M147.8 79.7h1M120.4 98.5h1M124.3 98.7h1M117.6 100.2h1M132.7 86.6h1M122.8 96.4h1M125.7 91.7h1M115.9 99.6h1M132.1 90h1M133.9 83.3h1M122.7 93.1h1M131.5 93.2h1M113.5 99.1h1M132.9 85.2h1M128 90.5h1M114.7 97.8h1M148.6 76.1h1M146.7 80.2h1M126.8 93.1h1M130.9 94.5h1M129 88.9h1M121.2 96.6h1M131.6 90.4h1M133.6 90.7h1M147.9 76.4h1M114.7 98.4h1M119.4 97.9h1M139.9 81.4h1M123 97.9h1M124.3 88.7h1M133.8 88.6h1M129.8 90.8h1M119.4 96.1h1M121 92.9h1M122.3 96.6h1M119.6 95.7h1M125.5 91.6h1M130.2 90.6h1M132.9 86.5h1M127.8 94h1M125.1 96.9h1M142.1 81.5h1M148.8 77h1M167.8 51.7h1M172 45.1h1M151.2 73.6h1M196.9 20.6h1M182 40.7h1M163.5 51.4h1M162.6 51.7h1M190.3 37.2h1M200.5 19.2h1M175 45.8h1M200.6 9.9h1M195.2 16.2h1M202.9 9.1h1M147.7 73.8h1M171 48.2h1M166.6 52.3h1M166 55.6h1M146.3 76.2h1M174.5 45.8h1M148.9 73.3h1M171.9 49.7h1M161.1 61.1h1M152.8 73.3h1M177.8 43.4h1M178.9 49.4h1M171 42h1M170.8 42.3h1M151.1 72.1h1M178.1 43.9h1M164.9 58.3h1M198.2 13.6h1M144.2 79.1h1M167.2 52.9h1M145.4 76.7h1M167.1 61.1h1M182.8 30.3h1M153.2 65.5h1M147.1 77.3h1M195.7 11.8h1M167.7 49.3h1M177.1 44h1M141 85.5h1M161.8 55.2h1M144.1 78.9h1M142.2 78.8h1M122.9 81.7h1M89.1 86.9h1M113.2 81.7h1M125.5 73.3h1M117 69h1M129.8 73.1h1M98.3 87.1h1M123.1 77.3h1M118 81.8h1M108.2 88.1h1M128.4 71h1M109.8 74h1M111.2 82.2h1M134.7 66.2h1M138.1 67.9h1M112.4 91.6h1M107.5 87.2h1M101.4 83.2h1M118.3 80.4h1M108.4 86.3h1M128.7 76.9h1M122.3 86.8h1M110.1 81.5h1M94.7 85.8h1M108.8 92.8h1M114.6 77.4h1M143.9 61.1h1M95.5 99.7h1M105.9 85.6h1M98.3 95.1h1M204.5 18h1M207.5 17h1M211.5 16.5h1M213.5 19h1M192 30h1M191.5 43h1M195.5 39.5h1M158 45h1M157 50h1M170 43.5h1M175.5 57.5h1"/>
</g>
<line x1="1244" y1="235.9" x2="1304" y2="235.9" stroke="#555" stroke-width="1.6" />
<text x="1408.5" y="78.6" font-size="24.5" text-anchor="middle" fill="#000" font-weight="bold" textLength="68" lengthAdjust="spacingAndGlyphs" >10 nM</text>
<line x1="961" y1="295.7" x2="961" y2="467.1" stroke="#3a3a3a" stroke-width="1.3" />
<line x1="960.5" y1="466.6" x2="1182" y2="466.6" stroke="#3a3a3a" stroke-width="1.3" />
<path d="M961 464.3h-3.6M969.8 466.6v3.6M961 459h-3.6M975.2 466.6v3.6M961 454.8h-3.6M979.6 466.6v3.6M961 451.5h-3.6M983.4 466.6v3.6M961 448.6h-3.6M986.6 466.6v3.6M961 446.1h-3.6M989.4 466.6v3.6M961 444h-3.6M992 466.6v6.5M961 442h-6.5M1008.8 466.6v3.6M961 429.2h-3.6M1018.6 466.6v3.6M961 421.6h-3.6M1025.6 466.6v3.6M961 416.3h-3.6M1031 466.6v3.6M961 412.2h-3.6M1035.4 466.6v3.6M961 408.8h-3.6M1039.2 466.6v3.6M961 405.9h-3.6M1042.4 466.6v3.6M961 403.5h-3.6M1045.2 466.6v3.6M961 401.3h-3.6M1047.8 466.6v6.5M961 399.3h-6.5M1064.6 466.6v3.6M961 386.5h-3.6M1074.4 466.6v3.6M961 379h-3.6M1081.4 466.6v3.6M961 373.6h-3.6M1086.8 466.6v3.6M961 369.5h-3.6M1091.2 466.6v3.6M961 366.1h-3.6M1095 466.6v3.6M961 363.3h-3.6M1098.2 466.6v3.6M961 360.8h-3.6M1101 466.6v3.6M961 358.6h-3.6M1103.6 466.6v6.5M961 356.7h-6.5M1120.4 466.6v3.6M961 343.8h-3.6M1130.2 466.6v3.6M961 336.3h-3.6M1137.2 466.6v3.6M961 331h-3.6M1142.6 466.6v3.6M961 326.8h-3.6M1147 466.6v3.6M961 323.5h-3.6M1150.8 466.6v3.6M961 320.6h-3.6M1154 466.6v3.6M961 318.1h-3.6M1156.8 466.6v3.6M961 315.9h-3.6M1159.4 466.6v6.5M961 314h-6.5M1176.2 466.6v3.6M961 301.1h-3.6" stroke="#3a3a3a" stroke-width="1" fill="none"/>
<text x="990.5" y="485.1" font-size="10.5" text-anchor="middle" fill="#222">10<tspan dy="-4.5" font-size="8.5">2</tspan></text>
<text font-size="10.5" text-anchor="middle" fill="#222" transform="translate(953.2 443.5) rotate(-90) scale(1 1.25)">10<tspan dy="-4.5" font-size="8.5">2</tspan></text>
<text x="1046.3" y="485.1" font-size="10.5" text-anchor="middle" fill="#222">10<tspan dy="-4.5" font-size="8.5">3</tspan></text>
<text font-size="10.5" text-anchor="middle" fill="#222" transform="translate(953.2 400.8) rotate(-90) scale(1 1.25)">10<tspan dy="-4.5" font-size="8.5">3</tspan></text>
<text x="1102.1" y="485.1" font-size="10.5" text-anchor="middle" fill="#222">10<tspan dy="-4.5" font-size="8.5">4</tspan></text>
<text font-size="10.5" text-anchor="middle" fill="#222" transform="translate(953.2 358.2) rotate(-90) scale(1 1.25)">10<tspan dy="-4.5" font-size="8.5">4</tspan></text>
<text x="1157.9" y="485.1" font-size="10.5" text-anchor="middle" fill="#222">10<tspan dy="-4.5" font-size="8.5">5</tspan></text>
<text font-size="10.5" text-anchor="middle" fill="#222" transform="translate(953.2 315.5) rotate(-90) scale(1 1.25)">10<tspan dy="-4.5" font-size="8.5">5</tspan></text>
<line x1="1047.8" y1="295.7" x2="1047.8" y2="466.6" stroke="#2a2a2a" stroke-width="1.3" />
<line x1="961" y1="399.3" x2="1182" y2="399.3" stroke="#2a2a2a" stroke-width="1.3" />
<text x="1019.8" y="378.3" font-size="10.5" text-anchor="middle" fill="#222" font-family="Liberation Serif,serif">Q1</text>
<text x="1074.8" y="378.3" font-size="10.5" text-anchor="middle" fill="#222" font-family="Liberation Serif,serif">Q2</text>
<text x="1074.8" y="431.3" font-size="10.5" text-anchor="middle" fill="#222" font-family="Liberation Serif,serif">Q4</text>
<g transform="translate(961 295.7)" fill="none" stroke-width="1.25">
<path stroke="#000" d="M94.2 115.2h1M92.1 119.4h1M79.8 129.6h1M79.3 114.9h1M43.4 138h1M74.4 144.2h1M84.5 128.2h1M44.9 161.6h1M52.7 128.9h1M70.2 142h1M33.5 156.4h1M78.5 122.1h1M54.9 115.3h1M77 128.8h1M81.3 123.4h1M21.6 149.4h1M87.2 115.4h1M63.3 149.3h1M93.4 118.7h1M71.8 119.1h1M22.2 165.7h1M79.2 126.5h1M40.7 137.2h1M35.1 147.9h1M51.2 156.7h1M93.6 115.1h1M47.7 143.2h1M78.6 134h1M43.7 130.4h1M60.8 143.8h1M68.5 147.9h1M67.5 132.2h1M34 166.6h1M86.6 116.5h1M62.8 131.6h1M96.6 110.5h1M74.1 128.4h1M97.7 108.8h1M92.6 118.6h1M50.9 166.6h1M23.9 145.5h1M108.1 114.7h1M71.6 125.4h1M60.4 134.3h1M60.5 129.5h1M62.7 142.4h1M104.3 108.5h1M47.7 166.3h1M79.8 115.6h1M68 140.8h1M105.3 104.9h1M51.7 148.8h1M45.8 165h1M85.3 118.9h1M62.1 135.9h1M70.8 154.3h1M66.9 130.3h1M81.6 142.8h1M57.2 138h1M113.3 106.4h1M46 143h1M100.4 119.3h1M73 137.5h1M61.2 146.4h1M95.5 119.7h1M84.2 117.8h1M41.6 148.9h1M42.9 145.1h1M98.6 115.7h1M80.6 121h1M82 143.9h1M31.2 160.1h1M93.9 116.7h1M79.6 136.3h1M27.3 138.8h1M92.5 120.6h1M92.1 132.8h1M88.9 117.3h1M88.8 118.3h1M65.9 120.2h1M53.1 140.9h1M96.4 119.6h1M84.1 122h1M82.3 123h1M56.6 134.4h1M99.8 114h1M66.8 159.3h1M70.1 137.5h1M87.4 121.7h1M76.8 133.1h1M106 113.1h1M65.2 121.1h1M82.1 121.8h1M42.2 168.2h1M49.5 140.2h1M61.6 155.4h1M48.2 147.5h1M74.3 129.2h1M34.9 162h1M53.9 147.9h1M101.2 112h1M69.7 119.6h1M115.4 107.7h1M51.8 166.9h1M67.2 109.8h1M102 112.1h1M88.3 121.9h1M41.3 160.7h1M72.4 137.3h1M24.9 152.9h1M24.1 133h1M92.4 116.4h1M60.2 140.8h1M61.2 131.3h1M31.4 135.5h1M47.6 145.6h1M32.3 158.6h1M69.3 125.4h1M46.5 167.7h1M36.8 140.3h1M61.7 131.5h1M35.6 150.1h1M80.5 138.5h1M77.6 136.1h1M60.8 131.4h1M63.3 125.6h1M92.6 115.2h1M71.4 133.6h1M47.9 137.9h1M69.9 129.1h1M31.9 138.6h1M77.1 123.8h1M44.1 155.9h1M60.1 132.1h1M76 117.8h1M36 143.8h1M96.8 111.9h1M41.5 154.5h1M60.9 149.7h1M83.2 129.9h1M74.3 130.3h1M74.9 148.9h1M63.5 137h1M95 128.3h1M45.3 149.9h1M112 107h1M53.6 136.3h1M49.2 135.6h1M105.1 106.1h1M47.8 140.9h1M49.3 147.6h1M32.9 143.5h1M72.9 125.1h1M52.7 143.6h1M62.1 135.8h1M42.5 156h1M68.2 118h1M40.6 161.9h1M74 122.2h1M86.5 124.1h1M30.8 145.5h1M95 110.7h1M83 134.2h1M82.2 127.9h1M86 128.9h1M52.9 145.3h1M36 163.1h1M53.4 145.4h1M92.6 122.3h1M51.9 154.9h1M48.5 142.4h1M59.5 132.2h1M115.8 110.5h1M104.3 111.5h1M50.5 152.1h1M88.8 123.3h1M66.7 117.5h1M71.9 132h1M27.5 139h1M89 114.6h1M54 131.7h1M74.1 147h1M41.6 133.8h1M107.6 113.6h1M17.5 155.2h1M61.7 123h1M75.5 119.3h1M75.3 140.3h1M94.1 116.7h1M84.5 127h1M72.2 134.6h1M57.8 146.8h1M38.2 163.3h1M93.9 111.2h1M108.7 107.1h1M64.4 135.1h1M82 125.7h1M95.9 110.8h1M65.7 141.1h1M47.8 149.3h1M74.5 118.1h1M100.9 119h1M38.5 164.4h1M85.8 142.6h1M58.7 149.9h1M65 128.8h1M74.1 130.8h1M20.6 138.1h1M38.8 149h1M43.5 142.9h1M58.3 129.6h1M48.8 147.7h1M104.1 116.1h1M45.9 140.1h1M40.4 150.1h1M104.3 126.4h1M31.2 135.5h1M107.7 107.4h1M76.7 130h1M43.1 148.5h1M66.2 127.3h1M95.7 120.9h1M48.1 140.5h1M22.3 140.4h1M100.9 107.6h1M81.5 125.7h1M51 118.9h1M78.8 121.9h1M85.3 121.7h1M41.6 152.1h1M83.3 112.5h1M88 114.8h1M95.8 108.1h1M18.1 125.8h1M93.3 124.8h1M33.5 142.4h1M65.1 136.3h1M27.6 126.2h1M87.3 127h1M57.8 151.5h1M48.3 154.2h1M76.9 131.8h1M59.5 149.2h1M83.9 122.7h1M93.7 124.1h1M103.7 117.4h1M110.6 111.6h1M70.8 140.9h1M72.9 133.7h1M84.7 120.9h1M95.8 120.8h1M38.9 126.5h1M49 151.1h1M64.5 167h1M37.4 151.5h1M39.9 137.4h1M103.9 114.2h1M83.2 122.7h1M27.6 137.1h1M70.1 122.4h1M74.2 127.8h1M111.5 108h1M103.4 110.5h1M84.9 122.7h1M104.2 115.8h1M47.6 126.4h1M104.3 107.9h1M47.2 135.7h1M54.6 133.3h1M71.4 122.8h1M74.5 132.5h1M54 140.9h1M83.8 126.4h1M55.8 154.5h1M31.3 155.8h1M71.2 152.7h1M87.1 140.5h1M43.3 141h1M90.7 111.8h1M44.7 127.2h1M50.8 147h1M70.6 132.3h1M104.9 112.2h1M92.5 111h1M115.5 109.1h1M83.3 116h1M46.9 152.6h1M100.1 108.1h1M34.6 142.2h1M68.9 141.9h1M80.8 116.6h1M21.9 157.5h1M108.1 115.4h1M77.5 136.6h1M55.2 134.4h1M78.1 137.8h1M65.2 140h1M67.5 126.5h1M28.1 140.8h1M92.9 116.6h1M44.5 151.2h1M70.2 131.5h1M68.1 140.1h1M76.8 147h1M57.1 146.1h1M66.2 119.7h1M46.9 154.1h1M77.5 127.2h1M54.4 152.6h1M87.3 127.5h1M38.5 155.7h1M67.3 137.8h1M118.4 104.1h1M48.1 143.1h1M100.6 117.5h1M78 133.6h1M97.8 119.3h1M90.7 127.1h1M37.4 134.7h1M10 139.9h1M41.5 146.3h1M47.9 142.3h1M67.3 149.4h1M95.5 123.3h1M40.5 150.6h1M30.4 146.4h1M74 125.1h1M67.9 145.5h1M50.3 141.6h1M83.8 124.7h1M50.8 142.2h1M23 131.4h1M56.3 138.8h1M88.3 129.1h1M33 141.4h1M87.6 122.2h1M67.3 135.3h1M54.5 133.5h1M81.5 114.9h1M60.8 136.6h1M85.7 126.5h1M47.7 123.7h1M100 114.8h1M33.5 142.2h1M72.1 146.5h1M97.4 120.4h1M76 133.8h1M111.4 106.7h1M66.9 146.5h1M81.6 122.4h1M81.7 120.7h1M65.8 151.3h1M79 129.6h1M85.1 118.9h1M73.3 131.3h1M83.3 130h1M83.5 136.6h1M29.8 146.2h1M62 142.8h1M106 113h1M91.1 114.9h1M46.4 154.1h1M113.3 107.2h1M76.9 122.9h1M104.8 108.7h1M86.5 125.3h1M90.5 122h1M62.8 150.9h1M72.7 127.7h1M46.7 146.3h1M84 132.1h1M77.5 127.4h1M96.6 115.8h1M38.8 166.1h1M86.6 115.9h1M64 136.3h1M58.2 142.6h1M32.7 137.8h1M65.6 132.8h1M70.9 111.8h1M81.3 120.8h1M46.2 137.5h1M34 144.2h1M64.3 131.3h1M85.2 128.1h1M65.9 125.8h1M102.2 125h1M28.3 150.9h1M70.8 152.4h1M46.5 145.7h1M101.8 108.1h1M40 147.1h1M83.6 119.6h1M65.7 140.5h1M61.3 123.9h1M59.2 153.3h1M101.7 111.6h1M40.8 143.6h1M31 160h1M83.2 120.9h1M23.9 148.5h1M77 124.5h1M81.7 120.6h1M56.7 140.8h1M94.3 116.7h1M53.8 149.6h1M91.1 115.3h1M87.7 131.5h1M87.1 115.5h1M62.4 143.7h1M59.6 151.2h1M82.8 137.1h1M82.4 117.4h1M79.4 126.8h1M69.4 154.1h1M80.3 119h1M37.7 149.6h1M29.1 151.8h1M52.4 119.8h1M30.8 143.1h1M41.9 118h1M66.3 144.7h1M60.3 127.3h1M76.8 123h1M75.6 125.6h1M74.4 142h1M76.2 134h1M97.8 113.7h1M59.3 151.5h1M93.4 118.1h1M36.9 163.7h1M22.8 143.9h1M118 104.9h1M93.4 112.5h1M41 138.4h1M63.2 155.7h1M30.7 166.7h1M88.5 112.9h1M36.3 126.8h1M63.5 143.1h1M103 111.7h1M73.5 123.5h1M27.9 149.2h1M46.1 157.6h1M68.8 131.4h1M67 127.4h1M48.5 130.7h1M42.3 150.3h1M38.8 156.8h1M45.9 150.1h1M55 139.7h1M40.4 149.8h1M57.5 131.7h1M28.5 140.6h1M36.5 149.8h1M54.9 161.5h1M56 149h1M46.7 157.8h1M60.5 139.3h1M62.4 122.2h1M80.2 124.7h1M83.7 136.9h1M69.9 144.8h1M74.5 133.7h1M60.8 130.5h1M43.7 166.9h1M85.3 122.8h1M79.4 128.6h1M44.2 152.7h1M67.1 127.6h1M62.7 133.7h1M82.3 114.4h1M83.2 122h1M53.2 144.2h1M33 146.7h1M77.9 132.5h1M24.6 163.8h1M75.9 122.8h1M47.7 138.8h1M59.9 160.4h1M107.8 112.4h1M89.8 117.2h1M73.1 136.3h1M48.6 124.3h1M66.7 153.7h1M55 155.5h1M93.8 117.9h1M112.3 113.7h1M40.8 135.1h1M52.9 131.8h1M72.6 147.1h1M78.1 136.2h1M89.8 132.8h1M59.1 127.1h1M69 139.8h1M57.5 132.7h1M65.5 145.9h1M98.5 115.2h1M85.3 127.3h1M64.8 133.8h1M30.4 153.5h1M116.2 109.1h1M64.9 145.5h1M54.3 122.1h1M43.6 157.7h1M31.8 139.1h1M95.2 129.1h1M72.4 123.6h1M99.4 114h1M51.8 161.3h1M82.8 116.2h1M70.5 119.8h1M38.7 163.5h1M100.1 110.2h1M72.7 135.1h1M107.3 120h1M64 138h1M45.5 133.3h1M17.3 147.1h1M35.2 134.6h1M112.3 106.6h1M57.5 134h1M86.3 127.7h1M94 113.7h1M60.5 158.5h1M45.2 139.8h1M39.6 156.1h1M88 136.3h1M41.9 125.8h1M62.5 134.8h1M91.3 120.4h1M88.8 116.3h1M26.9 162h1M89.8 121h1M47.2 140.3h1M63.3 141.6h1M96.9 117.8h1M74.3 139.3h1M89.1 124.8h1M63.6 134.5h1M73 128.9h1M53.9 146.8h1M60.7 141.8h1M96.8 107.4h1M113.6 108.4h1M62.9 125.9h1M59.9 154.7h1M99.2 105.4h1M72.9 141.3h1M42.6 141h1M96.9 113.7h1M45.2 138.8h1M72.7 130.2h1M40 146.9h1M30.8 138.2h1M91 120.8h1M98.9 111.7h1M63.3 132.4h1M27.6 137.3h1M102.1 119.1h1M65.7 140.6h1M53.3 142.5h1M77.9 116.9h1M76.3 137.9h1M53.4 135.7h1M87.9 113.6h1M100.8 134h1M63.7 138h1M72.6 124.3h1M63.8 141.2h1M52.8 146.2h1M81.6 131.4h1M70.5 136.7h1M88.7 127.5h1M104.5 114.6h1M75.9 153.9h1M79.5 128.4h1M57.2 137.9h1M24 163.1h1M73.8 124.1h1M84.4 132.3h1M52.7 147.3h1M91.5 122.8h1M54.6 154.3h1M59 138.6h1M78.5 118.6h1M72.6 139.2h1M83.4 124.3h1M88.4 124.2h1M56.3 131.2h1M97.5 118.1h1M106.7 111.6h1M114.3 108.9h1M91 127.3h1M31.6 132.9h1M96.5 113.7h1M58.6 128.5h1M86.5 120h1M18 139.3h1M84.2 127.5h1M38.6 161.4h1M84.7 122.2h1M42.3 151.2h1M82 121.1h1M65.6 140.6h1M94.4 112.1h1M61.8 148.3h1M115.7 105.1h1M49.3 159.5h1M73.4 131.8h1M76 116.5h1M66.5 157.1h1M71.3 118.3h1M66.4 114.6h1M76.9 111h1M59.5 144.7h1M62.3 124.2h1M105.1 116.4h1M33.1 152.7h1M59.1 140.1h1M72 124.9h1M95.6 116.5h1M88.1 127h1M92.2 125h1M61 140.1h1M54.6 157.1h1M68.9 134.9h1M24.2 160.9h1M55.7 133.6h1M87.1 120.6h1M52.3 160.9h1M96.9 130.6h1M102.4 110.9h1M109.8 108.7h1M59.4 135.9h1M72 139.8h1M96.4 117.4h1M51.8 143.9h1M103.1 116.6h1M63.1 151.2h1M67.7 133.3h1M99.8 104.6h1M42 144.8h1M86.9 130.4h1M57.5 131.1h1M73.5 128.7h1M47.1 157.1h1M61.3 149h1M19.6 145.5h1M31.8 169.1h1M59.5 135.7h1M60.3 139.1h1M74.9 146.2h1M81.6 122.3h1M55.5 122.2h1M59.8 130.7h1M47.4 152.2h1M107.7 111.4h1M70.4 130.8h1M96.1 119.4h1M26.1 152.1h1M90.8 128.6h1M55.4 125h1M70.8 146.3h1M85.4 117.8h1M98.9 108.4h1M47.2 156.9h1M75.1 121.5h1M92 122.4h1M64.3 132.7h1M41.8 150.5h1M37.1 147.4h1M33.4 155.9h1M84.1 123.9h1M83 133.2h1M71.9 126.3h1M84.2 121h1M66.7 141.1h1M63.4 130.8h1M69.2 112.9h1M81.2 113.7h1M44.2 167.6h1M67.7 139.5h1M87.1 128h1M98.6 116h1M81.2 136.2h1M92.1 120.6h1M68.3 135.7h1M87.8 120.4h1M53.2 127.4h1M58.7 147.4h1M83.4 139.9h1M88.8 114.6h1M96.7 116.4h1M61.7 135.1h1M45.2 169.1h1M73.8 135.8h1M52.6 148.5h1M79.6 128.9h1M96.9 106.3h1M44.7 152.2h1M77.9 113.1h1M96.3 117.8h1M42.3 142.5h1M55.2 115.9h1M62 133.7h1M103.1 112.9h1M75.6 127.6h1M38.1 151.5h1M50.8 135.7h1M80.8 113.5h1M77.1 139.3h1M44.5 161h1M52.5 161.1h1M90.6 122.2h1M88.4 114.2h1M64.9 127.3h1M77.7 124h1M50.6 145.1h1M82.8 132.4h1M79.6 127.4h1M61.3 142.5h1M100.3 123h1M43.6 124.4h1M62.8 132.2h1M106.5 109.4h1M64 153.9h1M107.3 112h1M67.4 128.3h1M79.5 137.5h1M56.2 163.2h1M50.2 143.6h1M58.6 130h1M92.5 117.1h1M44.7 144.1h1M41.1 149.9h1M71.1 141.7h1M65.4 129.1h1M26.3 125h1M61.8 146.4h1M61.2 128.7h1M68.9 145.5h1M75.6 123.7h1M71 116.5h1M76 139.2h1M84.4 122.3h1M87.4 123.5h1M44.8 140.7h1M75.4 123.2h1M89.7 123.6h1M94.6 116h1M93 118.8h1M80 125.7h1M98.5 114.9h1M102.9 119.9h1M58.4 159.1h1M48.8 144h1M75.9 119.1h1M77.5 119.6h1M73.6 148h1M56.9 144.9h1M75.6 126.1h1M89.3 127.5h1M99.8 112.8h1M25.1 150.6h1M105.7 113.9h1M92.2 119.7h1M90.3 130.2h1M32.3 167.6h1M41.5 149.9h1M32.2 146.4h1M69.9 137.8h1M69 131.8h1M68 131.7h1M96.9 115.9h1M46.9 158.9h1M49.3 144.1h1M80.4 123.5h1M103.4 110.9h1M60.4 158.6h1M43.7 140.2h1M48.5 133.2h1M60.8 137.8h1M74.6 136h1M87.5 118.2h1M78 129.5h1M50.3 159.5h1M43 151.8h1M70.9 128.9h1M64.6 168.6h1M61 150.3h1M87.7 121.5h1M86.3 127.7h1M61.6 163h1M58.3 151.9h1M60.8 134.9h1M56.3 151.2h1M73 125.4h1M63.8 125.6h1M75.4 116.7h1M102.8 116.1h1M55.5 150.4h1M66.5 140.4h1M64.6 132.7h1M59 143.7h1M94.9 122.4h1M54.3 136.1h1M71.7 128.9h1M66.9 144.9h1M72.4 144.9h1M93.8 116.4h1M78.8 138.6h1M93.1 116.2h1M64.1 149.8h1M78.5 134.9h1M77.1 151.4h1M58.9 136.8h1M59.1 149.7h1M58.8 150.1h1M77.1 120h1M21.4 150.3h1M83.8 119.3h1M89 116.8h1M88.3 126.5h1M77.9 128.5h1M54.9 152h1M29.4 161.4h1M105.8 116.4h1M43.6 123.2h1M60.2 140.7h1M79.6 135.8h1M54.6 145.2h1M75.9 146.6h1M56.6 141.2h1M83.7 118.9h1M53.8 125.3h1M45.8 163.4h1M78.6 123.3h1M64 138.4h1M108.9 107.1h1M25.8 158h1M52.1 141.1h1M40.3 160.5h1M85.1 122.5h1M87.5 125.8h1M64.4 133.2h1M80.5 131.4h1M61.2 121.1h1M63.1 134.8h1M67.3 136.7h1M66.9 159.3h1M43.6 147.4h1M49.3 152.8h1M76.7 125h1M37.5 155h1M61.7 121.5h1M72.6 124.5h1M79 115.6h1M64.2 129.9h1M40.4 148h1M89.5 122.2h1M69.8 134.9h1M101.2 111.5h1M81.9 121.5h1M48.4 155.8h1M21.9 144h1M59.1 115h1M49.3 131.8h1M96.2 121h1M46.1 124.8h1M32.2 142h1M73.5 146.6h1M65.3 124.9h1M77.6 112.6h1M59.7 129.7h1M38.6 156.5h1M53.6 137.8h1M84.5 117.8h1M79 125h1M86 125h1M51.8 155.8h1M92.2 116.9h1M46.3 152.9h1M40.2 130.3h1M70.2 144.4h1M33.4 159.4h1M82.5 127.6h1M33.3 130.1h1M71.2 130.8h1M38.7 151h1M77.1 146.9h1M33.6 153.8h1M74.8 131.5h1M102.5 111.1h1M105.3 107.9h1M35.7 155.5h1M85 131.4h1M86.8 132h1M102.4 114.8h1M75.6 127.4h1M101.5 104.1h1M83.6 141h1M98.1 109.2h1M94.5 114.6h1M49.6 135.5h1M61.3 141.9h1M69.3 110.3h1M37.8 145.6h1M46.3 135.9h1M91.1 124.7h1M81.8 116.2h1M83.8 123.3h1M83.6 117.5h1M68.4 138h1M70.7 138h1M64.2 123.4h1M100.3 115.7h1M77 128.6h1M92.2 114.3h1M75 132.5h1M84.6 115.6h1M102.9 120.1h1M35.2 135.8h1M72.7 132.3h1M59.1 131.3h1M80.5 126h1M32.8 154h1M102.6 119.3h1M83.7 127.5h1M50.9 152h1M95.8 107.7h1M55 152.6h1M86.1 126.9h1M41.9 164.1h1M101.1 107.6h1M81 136.4h1M74.3 122.5h1M70.5 143.7h1M100.4 118.2h1M60.8 122.9h1M67.2 136.7h1M104.6 127h1M29.3 140h1M49 137.1h1M73.2 131.3h1M44.3 140.2h1M81.8 122.6h1M72.7 152.2h1M73.4 118h1M51.6 129.9h1M29.5 154.5h1M52.5 142.2h1M65.4 143.6h1M56.5 138.1h1M38.4 130.9h1M79.6 116.3h1M56 146.9h1M68.8 117.8h1M64.2 132.5h1M59.9 130.2h1M56.4 120.8h1M101.1 105.7h1M72.8 120.3h1M58.9 137.3h1M82.3 116.9h1M61 131h1M79.6 131h1M52.1 132.3h1M83.6 125h1M71.3 130.1h1M97.5 116.1h1M70.1 126.5h1M73.5 138h1M94.6 120.9h1M74.8 122.5h1M48.3 145.5h1M52.8 135.5h1M55.4 149.5h1M104.1 123.7h1M64.5 131.2h1M36.2 141.9h1M75.8 120.2h1M52.3 157.4h1M42.6 162.3h1M24.4 133.5h1M96.9 117.6h1M51.1 149.4h1M92.2 121.6h1M59.7 132.1h1M83.9 134.8h1M69.5 121.3h1M94.2 127.6h1M76.6 127.5h1M79.4 131.9h1M74.3 136.2h1M53.4 121.8h1M55.3 131.1h1M58.7 140.9h1M61 138.6h1M50.1 132.8h1M59.1 142.7h1M72.8 124.4h1M19.1 135.7h1M97.6 107.7h1M58.5 164.7h1M112.8 112.2h1M103.5 105.7h1M92 117.4h1M74.2 129.3h1M57.4 143.4h1M105.3 115.2h1M85.4 115.8h1M50.6 147.7h1M85.4 122.9h1M68 154.6h1M44.6 147.2h1M37.9 141.9h1M59.7 136.9h1M97.1 115.9h1M92.7 121.3h1M85.6 108.7h1M58.9 131.3h1M25.3 153.7h1M78.3 129.6h1M79 114.6h1M54.2 145.4h1M72.2 122.5h1M70.8 129.1h1M87.5 110.2h1M82.4 128.2h1M33.5 139.4h1M49.2 138.9h1M110 113.1h1M43.2 145.6h1M72.2 134.1h1M46.7 147h1M84.6 121.5h1M56.3 145.4h1M69.9 144.4h1M51.5 139.1h1M46.4 155.6h1M74 130.6h1M31.8 148.4h1M73.3 130.3h1M77.6 122.1h1M75 130.5h1M93.9 108.6h1M55.8 140.5h1M83.8 104.6h1M82.9 128.2h1M55.8 142.3h1M42.3 127.9h1M77.8 122.7h1M73 140h1M57.2 138.4h1M111.7 109.9h1M66.4 140.1h1M76.3 139h1M39.8 138.9h1M54.1 131.8h1M67.5 135.1h1M73 130.6h1M41.3 154h1M68 140.1h1M82.3 133.1h1M42.8 163.9h1M72.4 130.7h1M65.5 136.7h1M52.4 145.4h1M68.6 118.4h1M64.9 138.2h1M24.4 140h1M49.7 163.3h1M56.5 138.6h1M80.2 129.2h1M31.4 148.6h1M80 120.7h1M84.4 126h1M22.6 153.1h1M103.5 109.2h1M92.8 117.9h1M89.4 119.2h1M52.8 133.6h1M73.3 137.9h1M85.8 130.9h1M64.8 141.1h1M61 130.1h1M83.3 119.9h1M59.4 134.4h1M84.8 143.4h1M51.8 128.5h1M85 119.7h1M71.1 115.5h1M84.5 125.8h1M48.9 157.2h1M59.7 137.9h1M53.1 149.3h1M115.3 108.1h1M70.4 128.4h1M21 155.5h1M110.4 109.7h1M98.1 112.3h1M53.7 136.3h1M47.7 146.5h1M64.4 137.7h1M50.2 151.9h1M94.2 122.3h1M68.6 127.4h1M52.9 143.4h1M85.7 128h1M34.5 160.7h1M56.8 143.1h1M33.8 151h1M87.2 123.2h1M76.7 131.5h1M33.7 164.6h1M89.1 126.7h1M106 108.4h1M102 109.6h1M87.8 116.6h1M91.6 121.9h1M100.9 127.2h1M85.5 132.5h1M68.2 137.6h1M75.1 121.2h1M88.5 110.7h1M100.6 119.6h1M57 163.4h1M76.9 133.4h1M72.3 131.4h1M50.9 155.4h1M54.1 144h1M71.2 127.9h1M85.4 120.3h1M79.2 129.6h1M79.8 136.5h1M100.7 112h1M31.2 141.6h1M82.5 115.4h1M103 115.8h1M35.4 149.1h1M57.6 152.6h1M50.6 134.7h1M68.5 140.9h1M64.3 129.9h1M65.2 144.4h1M45.5 155.7h1M88.1 125.2h1M80.2 127.7h1M57.6 148.6h1M67.3 123.3h1M88.6 116.9h1M65.5 147.4h1M82 127.6h1M77.4 133.5h1M73.6 141.4h1M77.7 123.9h1M69.3 122.1h1M117.2 106.6h1M93.1 106.5h1M108.2 106.5h1M50.7 131.3h1M61.6 135.3h1M71.7 120.8h1M77.6 123.8h1M70 135.7h1M61.4 139.2h1M97.6 115.1h1M47.7 157.7h1M83 129.4h1M57.8 145.9h1M85.6 124.8h1M56.8 126.6h1M99.6 115h1M89.4 121.6h1M62.4 130.3h1M85.4 125.3h1M74.9 144.2h1M76.1 135.9h1M37.4 149.3h1M91.1 119.2h1M47.9 142.3h1M60.1 145.5h1M97.1 109.3h1M72.2 139.7h1M50 160h1M91.8 118.9h1M107.3 118.4h1M104.7 117.4h1M86.9 124.3h1M67 139.3h1M93.4 108.1h1M65.6 152.8h1M57.3 129.5h1M70.6 140.8h1M97.6 116.4h1M46.3 126h1M77.4 127h1M57.1 139.7h1M90.3 116.1h1M70.6 131.6h1M61.6 127.7h1M72 127.5h1M88.6 113.5h1M66.8 143h1M102.8 114.3h1M35.6 149.4h1M56.1 169.7h1M96.9 116.4h1M72.8 119.8h1M106.8 113.8h1M61.9 137.7h1M101 111.7h1M87.7 121h1M53.6 163.5h1M66.8 146h1M40.6 138.8h1M51.3 134h1M38.3 128.5h1M104.9 117.8h1M77.4 133.4h1M75.6 131.4h1M84 127.5h1M91.2 114.6h1M73.3 149.1h1M53.5 152.6h1M29.7 141.6h1M60.3 130.8h1M97.7 112.9h1M40.4 162.7h1M81.6 126.6h1M84.4 111.8h1M107.9 119.4h1M74 135h1M95.8 127h1M61.1 161.3h1M84.3 118.8h1M98.6 125.8h1M52.5 138h1M97.8 115.5h1M72.7 134.5h1M92.6 117.4h1M68.7 144.1h1M30 132.2h1M88.7 122.7h1M90.5 113.4h1M57.5 133h1M71.5 146.7h1M71.3 134.5h1M75.6 126.8h1M81.9 119.7h1M79.6 125.5h1M95.4 123.5h1M57.1 124.3h1M55.7 151.4h1M80.9 128.2h1M115.9 110.2h1M76.6 136.7h1M98.5 113.5h1M78.3 134.1h1M85.3 120.5h1M85.7 125.6h1M73.4 142.3h1M97.1 109.8h1M66.7 150.8h1M94.1 119.4h1M65.2 130h1M33.9 153.1h1M69.4 139.6h1M43.7 160.3h1M36.8 131.7h1M60.5 138.9h1M48 130.9h1M47.7 130.7h1M85.2 117.5h1M63.3 138.7h1M62.7 129h1M28.4 138.1h1M86.7 118.2h1M87.9 124.8h1M106.6 109.8h1M49.2 151.4h1M77.2 134.7h1M75.9 124.3h1M77.1 118.3h1M81.4 133.4h1M51.1 131h1M67.1 124.6h1M89.2 119.4h1M69.1 145.7h1M105.3 110.5h1M85.6 125.9h1M80.7 130.8h1M33.9 138.2h1M43.8 151.9h1M95.3 118.3h1M38.2 145.5h1M54.6 142.6h1M81.1 129.3h1M43 132.1h1M80 142.3h1M38 163.4h1M54.9 132.6h1M54 147.8h1M74.4 132.6h1M101.8 109.1h1M69.2 143.5h1M69.4 132.9h1M118.1 106.7h1M62 144.6h1M48.2 135.3h1M108.3 109.3h1M96.2 125.9h1M93.1 112.8h1M56.1 143.4h1M43.1 129.6h1M64.5 148.1h1M86.8 122.3h1M71.2 114.4h1M3 134.9h1M25.6 137h1M97.2 114.8h1M44.8 149.1h1M51.6 141.2h1M103.1 111.2h1M45.2 145.7h1M58.3 127h1M65.5 133.5h1M45.2 143.9h1M91.7 113.1h1M67.4 160h1M59.3 134.8h1M67.7 138h1M48.3 147.1h1M46.9 139.7h1M53.8 125h1M93.3 127.6h1M17.9 134.3h1M51.4 147.3h1M42.7 144.6h1M59.1 128.6h1M69.4 136.3h1M86.7 129.7h1M66.4 131h1M47.4 128.8h1M68.8 125.2h1M99.5 119.1h1M63.2 130.7h1M76.8 134.6h1M30.4 152.3h1M100.3 127h1M37.3 143h1M97.8 121.7h1M96.8 117.3h1M60.6 159.6h1M42.2 147.9h1M13 154.3h1M102.1 114.6h1M59.6 127.4h1M29.9 149.3h1M31.7 168h1M86.7 120.3h1M44.7 138.4h1M55.2 127.3h1M53.3 142.5h1M38.7 128.9h1M95.1 123.1h1M54.9 136.7h1M26.7 139.6h1M93.6 120.3h1M63.6 129.2h1M109.9 110h1M38.7 163.8h1M64.7 127.8h1M71 139.3h1M65.3 141.9h1M102.6 112.6h1M57.1 144.3h1M67.2 144.7h1M77.7 115.4h1M54.4 156.6h1M83.5 132.1h1M81.1 122.5h1M78.5 126.6h1M27.9 155.9h1M73.8 134.1h1M77.6 129h1M93.1 111.2h1M48.7 158.3h1M84.6 128.6h1M79.5 129.8h1M71.3 134.4h1M48.4 153.1h1M82.1 134.4h1M80.7 132.2h1M32.7 154h1M76.5 128.3h1M36.1 162.3h1M95.6 116.8h1M92.5 129.9h1M70.1 121.6h1M40.2 140.1h1M53.1 141.2h1M62.9 138.1h1M102.5 109h1M85.3 122.4h1M56.4 146.5h1M74.8 131.9h1M47.6 154.4h1M69 142.7h1M60.6 145h1M47.4 136.5h1M84.7 131.2h1M61 119.9h1M44.2 153.7h1M98.7 108h1M83.1 119.3h1M78.2 129.1h1M76 132.7h1M69.6 128.5h1M56.4 117.8h1M96.7 121.4h1M62.2 133h1M21.1 144.4h1M101.2 115.5h1M85.4 126.2h1M65.2 150.4h1M107.4 106.2h1M71.7 129.1h1M70.2 124.5h1M84.3 125.6h1M89.9 122.7h1M96 116h1M88.7 133.8h1M90.7 121h1M69 134.8h1M72.1 142.1h1M98.9 114.9h1M87 109.5h1M62.3 128.1h1M57.8 135h1M67 136.6h1M115.3 106.6h1M89.2 115.5h1M52.5 140h1M51.9 148.2h1M96.5 122.1h1M51.6 132.5h1M104.7 106.5h1M66 122.4h1M46.2 143.1h1M42.8 152.9h1M43 152.7h1M42.9 136h1M40.1 137.7h1M66.8 126.5h1M100.9 115.5h1M40.4 140.8h1M31.1 151.3h1M89.6 109.3h1M31.3 136.4h1M77.7 132h1M66.3 126.4h1M80.9 125.3h1M67.2 138.7h1M93.9 123h1M45.7 141.2h1M84.2 140.6h1M102.8 120h1M68.4 160.6h1M62 144.4h1M25.6 138.2h1M76.1 125.6h1M84 132.5h1M71.1 134.7h1M88.1 115.3h1M67.4 146.3h1M81.5 119.1h1M104 112.8h1M82.6 121.8h1M49.4 134.5h1M79.3 118h1M80.2 136.3h1M76.3 132.2h1M70.4 134.8h1M82 118.3h1M41.2 140.3h1M59.4 123.3h1M39.3 139.7h1M73.3 136.3h1M12 140.1h1M22.6 145.4h1M36 134.8h1M108.2 124.4h1M99.8 112.1h1M77 144.2h1M83.4 137.6h1M59.6 125.5h1M107.1 108.5h1M93 120.4h1M97.7 107h1M48.4 134h1M70.5 143.5h1M47.8 155.6h1M78.4 135.9h1M63.1 137.3h1M23.3 149.7h1M105.5 106.1h1M70.8 128.2h1M105.7 111.5h1M57.8 140.2h1M70 136.3h1M75.7 127.3h1M89.3 121.7h1M102.5 115.9h1M90.8 120.5h1M74.7 121.2h1M56.8 139.5h1M86.1 115.3h1M68.2 143h1M40.9 149.2h1M96.6 114.6h1M76.9 127.4h1M66.7 120.8h1M73.8 124.8h1M68.5 125.6h1M89.3 123.3h1M34.6 155.8h1M97.5 108.7h1M22.2 140.4h1M27.3 148.9h1M45.1 140.6h1M96.8 125.7h1M30.6 149.3h1M77.4 128.8h1M60.5 154.2h1M61.9 112.3h1M23 138.5h1M82.9 129.5h1M88.3 130.2h1M94.9 112.8h1M69 131.1h1M60.8 131.9h1M91.8 115.7h1M85 127.2h1M75.2 133.2h1M80.6 126.7h1M38.9 138.2h1M47.9 136.9h1M15 159.4h1M37.9 132.1h1M90.4 113.3h1M55.6 123.6h1M36.7 151.1h1M71.5 126.5h1M99.1 117.8h1M55.1 146.8h1M57.2 150.6h1M101.6 112.7h1M20.5 133.5h1M104.7 110.6h1M103.7 108.8h1M91.5 125h1M99.1 118h1M26.9 159.9h1M76.9 113.9h1M64.7 136.9h1M67.2 120.2h1M56.7 140.5h1M61.8 142.6h1M91.9 124.2h1M107.5 112.8h1M82.1 133.2h1M41.1 160.9h1M53.2 124.9h1M80.1 129.4h1M56.3 143h1M92.8 110.8h1M34.5 134.2h1M82.5 125.4h1M94.9 114.4h1M86.3 135h1M70.4 138h1M74.4 131.9h1M64.8 143h1M84.5 135.5h1M33.9 141.9h1M97 114h1M73.1 130.8h1M71.3 134.9h1M72 141.2h1M92.6 128.5h1M72.8 158h1M28.8 156h1M33.3 144.7h1M85.2 118.6h1M92.2 113.8h1M56.5 124.9h1M45.5 147h1M106.6 114.5h1M36.9 155.3h1M82 118.4h1M59.6 140.1h1M52.8 161h1M90 131.1h1M30.5 151.3h1M110.7 113.4h1M48.7 152.4h1M54.8 144.6h1M58.2 130.2h1M78.9 122.3h1M23.4 145.6h1M92.4 120.5h1M87.2 124.2h1M55.7 159.7h1M65.4 141h1M59.3 129.1h1M86.9 116.9h1M98.2 116.5h1M96.7 114.4h1M119.4 103.5h1M62.5 160.9h1M65.9 137.8h1M76.6 125.7h1M47.3 123h1M93.3 110.2h1M97.6 109.2h1M83.6 120.7h1M89.1 129.5h1M114.7 107.9h1M15.6 165.9h1M108.2 113.7h1M29 162.6h1M66.6 141.2h1M58.2 137.6h1M84.2 115.7h1M80 123.3h1M47.5 163h1M36 140.6h1M37.2 149.5h1M66.1 156.7h1M83.1 120.1h1M80.8 126.8h1M61.2 139.2h1M49.4 145.5h1M103.2 109.8h1M49.3 144.7h1M75.7 136.7h1M73.3 131.3h1M79.3 124.8h1M35.9 151.1h1M74.3 131.8h1M88.4 118.2h1M78.1 125.7h1M51 139.1h1M102.8 107.1h1M91.9 124.7h1M71.4 128.6h1M39.6 148.8h1M68.9 139h1M92 120.3h1M47.8 153h1M77.1 117.7h1M82.6 120.7h1M69.4 123.5h1M85.3 129h1M40.4 143.8h1M40.8 130.2h1M76.1 127.6h1M14 151.2h1M46.2 163.5h1M48.9 165.5h1M62 126.7h1M79.3 124.4h1M74 139.5h1M97.4 118.2h1M36.9 143.7h1M64.3 144h1M28.5 136h1M86 118.9h1M66.4 154.5h1M100.3 120.2h1M106.2 111h1M104.8 106.3h1M50.6 161.9h1M88.5 133.5h1M90.5 113.3h1M87.1 130.3h1M84 130h1M61.5 149.8h1M40.1 160.3h1M71.6 127.3h1M88.8 142.1h1M79.8 116.6h1M68.5 116.6h1M79.5 122.4h1M37.3 136.3h1M90.6 108.4h1M64.4 143.1h1M34.6 154.6h1M50.2 151.1h1M69.4 146.7h1M100.5 117.2h1M69.8 135.9h1M81.7 127.3h1M96.1 119.7h1M78.8 120.6h1M78.7 124.1h1M39.7 164.1h1M45.9 154.8h1M77 126.2h1M86.9 123.6h1M63.7 156.6h1M100.5 113.8h1M96.1 119.1h1M57.2 149.9h1M57.7 126h1M98.2 111.1h1M100.9 115h1M77.5 142.3h1M57.5 144h1M28.2 159.1h1M80.2 119.1h1M63.5 145.4h1M53.4 144.2h1M61.9 123.3h1M26.4 152.2h1M78.7 134.9h1M61.6 130.8h1M45.4 155h1M71.7 150.9h1M54.8 129.7h1M54.6 157.3h1M72.6 131.9h1M68.2 140.8h1M82.2 126.2h1M78 128.1h1M113 107.8h1M68 138.9h1M80 120.9h1M89.4 121.5h1M58.6 121.6h1M78 129.6h1M84.8 120.5h1M56.5 147.1h1M42.2 147.4h1M97.2 119.3h1M88.1 109.9h1M109.6 108.9h1M111.4 111.2h1M28.8 155.4h1M89.5 127.1h1M73 129.3h1M67.4 133.6h1M70.3 141.6h1M108.3 105.6h1M84.6 122h1M51.4 157.4h1M54.5 132.1h1M82 117.6h1M49.5 130.5h1M40.4 150.1h1M70 154h1M37.8 154.6h1M65.7 129.5h1M87.6 126.3h1M68.4 109h1M108.8 114.5h1M65.6 128.9h1M46.9 156.7h1M60.9 134.8h1M83.7 119.8h1M72.2 125.3h1M68.5 128.2h1M108.9 104.5h1M64.8 137.2h1M103.8 111.5h1M48.4 153.5h1M95.4 117.2h1M78 131.6h1M81.4 132.3h1M50.3 146.1h1M42.6 137.5h1M50.6 148.3h1M70.2 139.6h1M62.2 128.6h1M41.5 160.2h1M74.3 115.9h1M83.2 141h1M70.4 136h1M66.8 124.3h1M100.8 123.3h1M58.4 144.4h1M65 119.7h1M98.5 113.7h1M30.3 150.3h1M71.4 141.2h1M18.2 160.1h1M66.6 123.5h1M55.4 148.6h1M83.5 111.2h1M72.2 152.6h1M53.7 137.4h1M69 143.4h1M35 132.9h1M73.1 140.3h1M61.4 138.4h1M83.4 118.3h1M73 155.1h1M69.5 116.3h1M100.6 110.8h1M74.3 130.7h1M49.5 135.8h1M61.2 133.6h1M57.9 123.8h1M82.1 130.3h1M47.6 139.7h1M38.7 151.3h1M69.7 128.5h1M55.2 128.5h1M58.5 133h1M71.2 129.3h1M43.5 139.9h1M27.2 167.5h1M67.5 121.8h1M51.2 148.5h1M56.2 138h1M95.8 111.2h1M100.6 118.2h1M42.9 125.9h1M49.4 139.6h1M28.1 162.9h1M67.3 138.7h1M95.1 118.8h1M36.3 145.2h1M79.2 127h1M39.4 135.9h1M80.9 125.4h1M65.4 142.9h1M103.5 111.6h1M88 135.7h1M33.4 143.7h1M70.1 135.8h1M82.2 129.3h1M90.1 125.7h1M94.6 120.5h1M74.6 136.5h1M32 154.4h1M57.3 135.1h1M75 120.2h1M78.3 119h1M80.9 121.4h1M28.1 147.2h1M47.7 143.7h1M84 119.5h1M72.4 144h1M30.9 122.7h1M71.2 115.3h1M64.5 131.2h1M69.8 128.3h1M88.6 121.8h1M54.9 132.9h1M44.4 130.5h1M103 112.4h1M79.3 122.4h1M89.3 121.4h1M73.4 118.6h1M73 137.5h1M82.8 128.3h1M76.8 122.7h1M69.1 123.9h1M48.7 163.1h1M76.6 135.9h1M40.8 154.1h1M46 145.5h1M58.6 153.8h1M73.8 142.7h1M46.7 163.2h1M86.3 111.8h1M73.2 144.8h1M54.1 144.8h1M47.6 149.7h1M81.8 139.6h1M92.6 120.8h1M40.2 139.4h1M84.9 142.9h1M73.4 124.6h1M97.5 116.6h1M27.5 133.4h1M20.6 152.2h1M75.4 122.4h1M79.4 118.6h1M79.9 134.2h1M36.5 150.8h1M96.2 115.4h1M106.2 107.7h1M84.3 120.8h1M33.4 143.3h1M42.9 136.3h1M100.9 112h1M52.1 154.2h1M57.5 139.3h1M99.1 116.4h1M37.7 155.8h1M25.6 143.5h1M36.5 151.3h1M62.2 144.6h1M106.6 107.6h1M67.5 139.8h1M85.5 128.5h1M70.6 145.3h1M74.1 131.8h1M45.9 140.4h1M96.1 125.4h1M48 147.2h1M38 144.1h1M48.3 151.7h1M24.7 134.1h1M93.5 126.6h1M83.4 119.1h1M50.4 154.5h1M43.2 132.3h1M59.7 148.9h1M45.9 132.4h1M43.1 134.4h1M102.2 107.7h1M53 147.9h1M89.4 119.9h1M79.1 127.4h1M66.5 144.5h1M42.8 155.8h1M75.6 130.2h1M69.7 133.6h1M72.8 137.9h1M94.1 116.5h1M95.8 124.4h1M64 140.5h1M81.1 130.7h1M76 134.9h1M64.8 152.8h1M88.9 123.5h1M35.4 144.4h1M85 128.7h1M89.7 119.3h1M31.5 156.9h1M88.3 116.6h1M70.7 134.3h1M86.7 116.2h1M90.6 111.2h1M107 105.2h1M92.2 114.5h1M55.8 143.4h1M31.6 151.3h1M45.3 140.8h1M98.7 116.7h1M91.4 119.7h1M37.3 148.2h1M114.3 103.8h1M51.5 135h1M49 146.4h1M60.3 149.8h1M108.1 111.3h1M52.1 149.3h1M84.3 123.5h1M99 119.8h1M58.3 136.3h1M34.1 150.2h1M81.3 127.9h1M90.9 123.7h1M81.9 114.2h1M87.3 118.3h1M62.4 136.2h1M39.6 146.6h1M57.7 126.6h1M94.4 125.9h1M114.9 106.7h1M64.8 145.9h1M77.2 122.9h1M66.9 119.9h1M73.3 124h1M56.2 137.5h1M66.4 129.1h1M75.5 129.3h1M69.8 144h1M72.8 118.4h1M52.6 131h1M66.9 133.6h1M53 132.5h1M87.5 125h1M51.2 139.5h1M78 126h1M77 147.8h1M66 147.4h1M101.5 121h1M68.8 130.2h1M59.2 141.1h1M96.7 106.1h1M75.2 141.9h1M43.1 138.6h1M39.3 130.1h1M83.1 120.3h1M38.7 148.3h1M98.4 117h1M71.6 158.1h1M37.2 149.6h1M66.1 139.5h1M92.2 125.8h1M81.6 134.4h1M69.6 122.5h1M91.9 121.7h1M82.8 137.4h1M86.2 135.4h1M93.8 124.1h1M64.5 123.6h1M91.8 125.1h1M99.6 114.9h1M29.7 152.5h1M55.6 139.6h1M69.6 123.5h1M80.4 137.1h1M105.5 112.1h1M95.9 118.3h1M72.5 130.3h1M86.2 119.4h1M55.2 138.1h1M79.2 122.5h1M70.8 125.2h1M103.1 111.3h1M41.4 125.4h1M23.7 134.9h1M50 126.5h1M31.7 149.6h1M40.2 125.2h1M61.5 149.4h1M14.7 159.5h1M84.6 120.9h1M90.5 120h1M83.8 129.2h1M45.3 150.3h1M20.2 158.8h1M84.1 109.4h1M55.3 149.1h1M109.4 109.7h1M87.3 119.4h1M39.1 165.4h1M49.7 142.6h1M54 149.5h1M79.7 122.8h1M86.3 106.9h1M74.1 140.5h1M36.7 164.8h1M73.2 129.1h1M92.9 127.5h1M108.7 115.6h1M62.4 135h1M101.8 116.9h1M82.2 114.7h1M66 126.2h1M31.5 162.4h1M37.2 160.7h1M44 144.4h1M65.7 148h1M98 108.2h1M88 126.1h1M44.1 161.6h1M56.7 121.9h1M68.6 120.5h1M83.7 119.8h1M48.7 131.9h1M102.9 109.9h1M75.3 123.4h1M51.8 143.3h1M42.4 142.5h1M31.8 153.1h1M74.3 112h1M37.6 155.5h1M87.3 118.2h1M85.4 123h1M68.5 139.9h1M56.2 146.3h1M45.6 140h1M88.8 125.4h1M104.7 114.2h1M81.4 134.5h1M75.9 126.4h1M46.8 124.5h1M78.6 136.8h1M25.6 149.9h1M60.7 144.2h1M51.1 137h1M45.2 128.1h1M93.1 121.1h1M37 144h1M94.6 121.2h1M37.6 137.8h1M46.7 126.2h1M61.4 119.8h1M104.4 109h1M107.7 115.5h1M98.6 115.3h1M68.5 140h1M37.3 151.2h1M61.7 131.4h1M89.8 118h1M80.2 126.1h1M59.6 126.3h1M51.3 146.9h1M66.9 133.2h1M76.8 143.6h1M96.5 114.1h1M28.1 141.5h1M73.7 135.8h1M74.1 133.8h1M60.4 124.3h1M27.7 142.6h1M58.1 138.6h1M60.2 136.1h1M28.7 139.2h1M28.5 135.4h1M93.7 113.4h1M93.8 120.6h1M87.7 115.7h1M61.8 139.5h1M26.7 166h1M86.9 127h1M57.2 143.7h1M50.2 154.7h1M92.6 120.5h1M62.8 122.3h1M88.4 109.7h1M79.9 134.1h1M82 127.1h1M102 115.5h1M52.4 144.3h1M62.8 136.4h1M70.4 129.1h1M71.8 135.7h1M110.1 106.4h1M84.7 126.2h1M72.4 132.4h1M76.7 121.3h1M78.6 132.1h1M106.4 112.1h1M56.6 121.8h1M65.3 118.4h1M84 113.1h1M86.2 114.8h1M54.5 165.2h1M101.5 111.8h1M29 157.9h1M17.5 156h1M98.8 111.7h1M51 135.7h1M34.9 161.5h1M56 146.1h1M42.7 113.5h1M100.1 118.6h1M54 132.1h1M68.9 125.5h1M83.9 120.6h1M70.1 141.6h1M69.4 122.5h1M35.4 160.2h1M53.5 144.3h1M58.1 140.5h1M94.4 121.7h1M87 124.4h1M98 115.3h1M49.5 147.7h1M90.1 119.9h1M81.9 118.9h1M67.4 158.5h1M87.9 137.8h1M95 110h1M54.7 134.8h1M102.9 110.8h1M40.7 168.3h1M70.7 126.1h1M88.5 118.1h1M86.1 113.8h1M48 155h1M108.2 116h1M36.2 142.7h1M74.8 131.2h1M59 158.5h1M56.8 141.4h1M65.9 136.8h1M48.6 152.9h1M74.9 137.5h1M41.2 140.4h1M64.6 128.9h1M53.7 132.5h1M53.1 151.5h1M89.8 113.8h1M84.5 126.2h1M62.8 120h1M98.7 110.7h1M46.6 136.2h1M98 118h1M46.4 162.5h1M28.4 146h1M91.4 121.5h1M63.5 128.4h1M44.2 155.7h1M55.1 153.8h1M59.6 148.6h1M59.4 151.7h1M73.5 146.5h1M82.6 124.7h1M103.4 117.2h1M81.1 127.9h1M60 140.1h1M83.6 129h1M55.2 137.1h1M115.9 105.9h1M76.2 136.3h1M96.6 121.2h1M52.3 143.5h1M83.4 121.7h1M63.9 129.1h1M39.8 169.3h1M89.7 130.6h1M75.4 130.4h1M44.6 131h1M45.4 158.9h1M41.1 153.1h1M36.8 164.2h1M56.6 129.1h1M68.1 128.3h1M89.7 132.3h1M87 119.7h1M48.1 133.4h1M49 162h1M86.7 127.8h1M84.4 115.1h1M21.7 146.6h1M89.5 126.7h1M12.6 145.4h1M75.5 136.2h1M24.8 153.3h1M86.9 133.6h1M45.7 142.5h1M63.4 134.4h1M71.3 127.8h1M39.1 158.6h1M41.3 160.6h1M71.3 125.4h1M40.9 148.2h1M36.9 150.5h1M21.7 148.5h1M69.9 122.4h1M50.9 142.1h1M43.6 147.8h1M65.7 147.2h1M85.8 130.5h1M57 146h1M65.5 146.2h1M61.1 132.3h1M32.3 145.4h1M39 144.2h1M68.5 151.6h1M48.9 139.7h1M65.7 122.5h1M53 126h1M28.3 154.2h1M32.5 164.1h1M87.1 121.7h1M55.1 146.1h1M53.6 136.3h1M72.2 123.7h1M67.3 127.3h1M46.5 151.2h1M101.5 118.7h1M65.4 132.6h1M78.6 126.2h1M43.7 142.4h1M26.9 166.6h1M63.2 143.7h1M81 132.8h1M60.3 131h1M84.3 118.8h1M105.7 109.6h1M74.5 126.5h1M72.4 123h1M95.1 116.9h1M45.5 150.8h1M50.6 132.3h1M56.9 136.6h1M108.4 109h1M31.4 154.4h1M62.2 132.8h1M67.4 137.3h1M65.1 125.1h1M62.9 127.4h1M48.3 151.9h1M35.6 137.9h1M79.9 127.4h1M101.3 116.4h1M78.3 116.6h1M40.2 154.8h1M38.6 132.5h1M30 144.4h1M54.7 129.4h1M48.7 162.1h1M93.8 123.7h1M61.1 147.6h1M93.2 112.9h1M48.1 136.7h1M47.6 151.5h1M61.5 125.9h1M54.2 142.3h1M43.1 166.3h1M41.5 129.2h1M95.3 110.6h1M79.9 134.3h1M66.5 146.9h1M108 104.8h1M79.4 124.1h1M86.2 116h1M88.1 120.4h1M91 111.3h1M93.1 109.4h1M74.2 133.5h1M65.1 133.3h1M70.8 131.3h1M57.9 121.9h1M69.5 137.3h1M61 125.8h1M68.9 124.7h1M79.9 127.4h1M45.8 147.7h1M96.4 111.6h1M83.4 130.1h1M81.2 126.8h1M76.7 126.6h1M68.1 142.8h1M74.5 137.3h1M68.5 147.9h1M52.5 149.6h1M44.1 131.7h1M112.6 119h1M44.3 138.8h1M67.5 143.1h1M77.3 137.1h1M61.6 144.3h1M94.9 109.1h1M81.9 115.4h1M89.5 117.8h1M94.6 121.1h1M46.6 138.6h1M85.9 134.4h1M50.2 136.2h1M61.5 141.3h1M88.7 117.7h1M74.7 131.4h1M78.6 123.7h1M35.9 143.2h1M60.3 136.4h1M42.7 141.5h1M60.9 135.2h1M64.9 138.9h1M56.2 124.1h1M83.2 119.1h1M37.9 153.4h1M81.6 125h1M57.7 164.1h1M88.5 118.7h1M72.3 133.7h1M54.8 123.8h1M60.3 136.9h1M86.3 130h1M39.4 148.1h1M78.3 126.1h1M85.8 120.9h1M67.8 151h1M58.9 137.2h1M37.4 147.4h1M71.8 141.1h1M111.3 103.9h1M76.7 129.2h1M108.8 111.3h1M59.7 146.5h1M39.4 145.8h1M110.7 114.1h1M56.5 132.8h1M64.3 129.5h1M52.1 132.8h1M85.3 122.9h1M60.1 143.9h1M69.3 136.8h1M45.1 139h1M46.1 135.6h1M95 106.5h1M84.9 121.4h1M101 119.5h1M57.4 138.2h1M55.4 147.1h1M65 143.5h1M120 103.9h1M59.4 134.4h1M32.4 162.2h1M97.8 117.1h1M89.6 121.8h1M45.9 137.4h1M67.9 129.1h1M65.3 134.5h1M31.8 150.3h1M59 139.9h1M93.6 119h1M78.7 143h1M46.4 152.8h1M47.8 138.9h1M92.5 115.2h1M84.6 126.9h1M64.5 136.5h1M63.5 139.5h1M87.9 135.2h1M51.3 151.2h1M111.3 107h1M43.7 157.9h1M32.5 143h1M73.8 134.4h1M74.9 134.1h1M39.7 150.6h1M65.7 147.7h1M80 128.4h1M53.2 152.9h1M45.7 148.8h1M61 136.2h1M79.4 117.5h1M68 126h1M28.9 151h1M74.5 137.8h1M56.8 137h1M77.1 130.5h1M83.5 121.7h1M106.4 119.1h1M82.3 114.2h1M47.5 147.7h1M103.1 115.8h1M82.8 128.5h1M70 134.7h1M106 112.2h1M87.6 111.2h1M79.3 134.7h1M90.9 114.9h1M84.5 126.9h1M79.5 121h1M63.5 154h1M39.4 142.8h1M62.6 133.6h1M54 141.2h1M27.8 150.2h1M32.2 152h1M70.9 142.5h1M69.6 134.4h1M71.7 116.1h1M67.8 117.3h1M76 120.9h1M112.7 110.6h1M78.3 116.6h1M85.2 133.4h1M116.6 109.2h1M35 145.7h1M73.1 109.5h1M86.6 126.9h1M45.7 147.1h1M56.1 146h1M60.9 140.8h1M61.3 129.7h1M79.3 138.2h1M64.8 134.8h1M108.7 110.8h1M67.1 135.2h1M111.8 109.2h1M58.4 141.6h1M80.2 137.1h1M83.7 116.3h1M43.2 143.9h1M71.8 127.1h1M97.9 124.4h1M26.7 166.9h1M75.1 131.4h1M87.5 122.5h1M83.9 127.9h1M69.2 121.8h1M96 116h1M60 138.8h1M84.9 123.3h1M59.8 124.6h1M89.4 118.1h1M47 152.7h1M76.7 124.1h1M114.1 104.4h1M45.4 149.2h1M82.5 122.7h1M80.2 133.4h1M101.9 107.1h1M31.4 156.3h1M66.3 137.5h1M86.1 120h1M66.3 124.9h1M29.4 141.2h1M92.7 109.5h1M86.5 123.2h1M59.6 132.3h1M96.6 111.6h1M57.7 138.6h1M94.8 120.5h1M98.8 120.9h1M49.4 138.2h1M49.1 135h1M95.7 114.9h1M75.8 128.9h1M69.9 127.4h1M85.6 117.7h1M78.9 119.7h1M73.6 127.9h1M64.4 134.3h1M99.3 112.7h1M50 140.2h1M66.1 138.3h1M68.6 145.8h1M83.2 127.4h1M38.2 164.7h1M46.2 154.7h1M80.1 129.3h1M65.1 136.5h1M84.3 122.3h1M96.8 105.5h1M58.2 155.7h1M56.9 136.1h1M35.4 142.9h1M62.5 153.4h1M96.6 123.6h1M91 117.9h1M94.7 121.6h1M34.3 151.1h1M64.2 149.7h1M39.6 153.3h1M71.8 129.6h1M36.7 137.5h1M87 118.9h1M70.8 129.3h1M98.9 116.4h1M39.4 146.2h1M53.1 132.4h1M89.5 119.1h1M80.2 148.3h1M87.1 123.8h1M37.5 131.9h1M77.1 121.1h1M56.4 138h1M58.4 121.7h1M33.5 159.3h1M57.3 139.3h1M99.3 111.2h1M110.8 108.8h1M32.2 139.3h1M61.6 130.9h1M106.7 113.8h1M55.9 136.7h1M43.6 152.3h1M51.3 143.6h1M94.2 113.7h1M82.7 113.2h1M98 118.1h1M74.6 124.8h1M66.1 117.9h1M93.2 113.7h1M95.5 114h1M75.6 119.8h1M32.9 157h1M51.2 144h1M59.7 140.3h1M67.9 125h1M81.6 121.6h1M89.5 121.7h1M33.1 130.9h1M57.7 123.8h1M99.6 113.1h1M59.3 141.8h1M85 106.3h1M107.6 107.2h1M92.6 120.5h1M42.9 149.4h1M58.7 159.5h1M80.5 136.6h1M87.9 116.6h1M94.4 126.3h1M25.1 138.9h1M107.5 113.3h1M40.5 160.5h1M114.3 105.7h1M102.2 111h1M53.7 166h1M77.3 125.8h1M51.8 109.3h1M53.6 140.9h1M68.4 123.2h1M97.2 120.2h1M79.9 119.4h1M65 140.5h1M59.4 134.6h1M97.4 115.1h1M22.5 166.7h1M77 126.5h1M44.2 155.7h1M81.6 136.5h1M35 143.1h1M23.6 153.7h1M66.8 145.1h1M97.9 114.5h1M65.7 132h1M85.2 124.9h1M92.1 125.5h1M28 143.6h1M45 154.3h1M62 150.4h1M93.7 114.2h1M81.6 132.5h1M74.5 134.1h1M90.8 119.8h1M37.1 147h1M62.5 140.5h1M80.9 127.2h1M27.3 151.2h1M101.1 109h1M44.5 156.6h1M57.9 155.3h1M38.4 148h1M89.1 135.5h1M88.3 128.8h1M73.3 119.5h1M70.9 124.5h1M48.4 147.6h1M115.1 107.4h1M98.6 117.6h1M43.6 160.6h1M72.6 134.4h1M37.6 164.5h1M21.4 126.1h1M53.7 143.5h1M55 135.2h1M94.4 120.6h1M109.2 108.5h1M73.5 144h1M40.7 148.8h1M110.1 105.8h1M84.7 136.5h1M65.6 134.3h1M74.4 141.5h1M40.6 152.5h1M65.6 133.7h1M96.5 123h1M61 133h1M51.7 139.4h1M101.6 120.8h1M66.1 152.2h1M25.9 149.3h1M32 146.3h1M60.3 131.2h1M40.2 127.9h1M106.2 114.2h1M59.4 131.3h1M58.8 125.2h1M23 164.5h1M84.3 123.6h1M20 166.1h1M60.5 149h1M56.5 150.7h1M62 134.6h1M32 151.3h1M34 158.2h1M80.8 114.5h1M71.9 119.5h1M74.1 121.2h1M100.6 112.7h1M24 146h1M37.5 163.2h1M73.9 135.4h1M85.1 108.6h1M64.7 131.2h1M30.8 139.1h1M42.9 143.5h1M89.7 115.6h1M94 127.1h1M84.4 116.1h1M53.7 132.7h1M68.2 145.3h1M92.6 104.9h1M117.1 106.6h1M55.4 120.2h1M54 151.6h1M35.1 128.8h1M100.7 113.2h1M87.6 126.1h1M58 142.8h1M85.3 117.8h1M58.4 131.2h1M100.9 112.8h1M50.7 139h1M67.6 147.9h1M41.3 155.7h1M48.8 124.8h1M78.2 142.5h1M96.1 112.5h1M43.6 132.4h1M49.6 133.6h1M54.2 155.6h1M67.5 131.2h1M51.5 149.4h1M93.7 111.6h1M90.2 122.3h1M74.9 127.9h1M59.7 157.4h1M43.8 147.3h1M65.1 135.9h1M63.4 138.6h1M35.9 137.9h1M105.2 107.8h1M73.5 120h1M65 142.3h1M41 151.6h1M40.8 144.2h1M86.9 116.5h1M83.4 120.9h1M36.5 137.4h1M44.1 151.4h1M62.7 155.5h1M69.6 124.7h1M62.7 143.1h1M37.5 141.3h1M113.9 105.1h1M96.2 115.3h1M62.2 152.5h1M81.1 126.3h1M78.9 129.4h1M44.8 131.7h1M104.6 107.1h1M61.1 149.5h1M60.9 125.5h1M48.6 155.8h1M54.7 122h1M109 112.5h1M60.7 129.4h1M60.7 136.9h1M95.9 123.2h1M67.3 122.8h1M36.2 146.7h1M92 119.9h1M101.9 115.5h1M43.5 148.7h1M60.3 134.3h1M28.9 147.5h1M90.6 126.3h1M50.7 145.7h1M78.1 149.9h1M34.2 128h1M56.3 146.6h1M84.2 113.5h1M68.8 124h1M92.7 124.4h1M52.4 141.8h1M28.4 160.2h1M66.4 127.9h1M78.7 140.4h1M65.1 119.4h1M47.6 144.7h1M116.5 105.9h1M44.7 139.1h1M49.9 137.7h1M51.4 138.1h1M87 120.7h1M56.6 154.8h1M59.4 131.3h1M72.6 131.6h1M90.8 135.9h1M96.6 108.9h1M47 144.2h1M82.9 126.8h1M8 137.8h1M48.3 131.8h1M101.3 128.3h1M96.5 116.5h1M49.7 148.7h1M56 147h1M79.9 126.4h1M55.3 154.4h1M77 122.5h1M69.6 149.9h1M85 116.2h1M96.6 112.3h1M83.7 113.6h1M65.5 130.9h1M55 131.6h1M75.5 130.7h1M75 133.7h1M88.7 123.3h1M67.2 142.1h1M86 117.5h1M75.8 129.8h1M97.8 110.6h1M58.2 127.2h1M94.2 119.2h1M36.3 146.9h1M69.7 132.7h1M44.8 156.8h1M85.6 131.5h1M14.3 141.9h1M72.6 130.2h1M27.7 141.2h1M82.9 121.8h1M81.3 131.3h1M68.3 129.5h1M32.2 140.8h1M40.3 148.9h1M76.6 136.2h1M8.9 152.9h1M114.4 105.1h1M44 144.6h1M73.3 130.6h1M74.5 122.2h1M76.9 121.3h1M79.7 135.1h1M44.3 137.3h1M97.5 119.6h1M46.6 148h1M74.8 130.7h1M66.8 153.3h1M85.2 138.4h1M89.5 121.4h1M63.7 151h1M57.2 128.8h1M19.1 143.3h1M38.9 154.8h1M64.4 139.4h1M64.5 132.6h1M40.2 150.3h1M68.5 131.4h1M80.8 113.4h1M68.7 133.4h1M71.1 145.4h1M47.3 146.1h1M31.4 155.5h1M60.6 147.3h1M89.9 114.9h1M72.6 121.9h1M90.6 119.9h1M42.7 140.4h1M73.8 146.4h1M49 141.7h1M42.4 152.7h1M62.1 134.1h1M93.4 111h1M90.6 119.4h1M55.1 139.9h1M38.1 142.6h1M39.3 159.5h1M39 139h1M44.6 151.1h1M76.8 118.5h1M62.4 128.1h1M65.7 125.2h1M97.3 114.4h1M62.9 135.2h1M81 134.7h1M60 127.3h1M98.9 120.4h1M70.2 144.9h1M67.7 127.3h1M27.9 140.6h1M69.4 131.4h1M19.1 146.9h1M46.3 157.6h1M44.1 148.3h1M101.6 110.2h1M102.7 120h1M63.9 129.4h1M56 134.2h1M87.1 136.2h1M88.6 114.4h1M25.7 163.4h1M22.9 155.4h1M87.3 114.7h1M31.3 141.3h1M77.1 121.2h1M68.2 118.7h1M94.8 121.7h1M92.6 120.2h1M63.7 152.7h1M48.9 140h1M56.5 114.8h1M37 145.9h1M87.9 133.4h1M63.2 136h1M62.6 124.6h1M96.1 119.5h1M71.2 137h1M57.4 145.7h1M44.8 141.7h1M38.4 156.5h1M84 118.3h1M108 113.7h1M91.9 126.5h1M81.5 125.4h1M97.4 109.5h1M61.6 149.1h1M104.3 105.5h1M43.6 165.2h1M54.6 148.3h1M75.7 142.9h1M88.4 119.6h1M48.3 145h1M60 127.9h1M56.8 146.9h1M56 134.8h1M59.4 132.3h1M30.4 160.4h1M39.1 134.8h1M61.1 164.1h1M80.1 117.6h1M91 110.1h1M82.8 123.7h1M52.8 156.2h1M53.1 136.5h1M59.7 135.7h1M99 117.1h1M87.4 117.8h1M63.9 122.8h1M59.8 123.7h1M64.8 143.3h1M62.7 126.5h1M85.2 122.7h1M66.5 126.4h1M56.3 136.8h1M51.9 131.1h1M51.1 153.5h1M65.3 128.4h1M98.8 118h1M77.3 125.4h1M46.1 146h1M49.6 168.7h1M77.9 122.2h1M84.5 136.7h1M49.9 149.1h1M61.4 145.6h1M62.4 134.3h1M81.4 126h1M65.8 123.4h1M42.3 150h1M98.4 114h1M86.7 125.9h1M75.4 132.4h1M87.7 120.5h1M69.9 136.4h1M62.8 138.1h1M85.8 126.5h1M88 138.4h1M52.8 145.6h1M59.6 139.8h1M95.1 122h1M39.8 142.7h1M51.1 134.7h1M53.1 137.4h1M32.3 124.7h1M91.6 110.1h1M52.7 134.5h1M78.9 150.6h1M102.1 113.1h1M50.9 135.7h1M69.7 150.1h1M94.2 117.8h1M81.5 134h1M39.1 139.1h1M93 117.6h1M97.7 112.9h1M42.2 158.2h1M61.6 123.4h1M96.1 121.2h1M75.3 126.6h1M61.1 113.9h1M47.3 137.8h1M60.1 125.6h1M53.8 139.8h1M38.2 142.2h1M32 148.6h1M57.7 125h1M100.9 114h1M53.9 129.3h1M104.9 112.5h1M60.2 137.5h1M72.4 139.2h1M71.6 138.3h1M102.5 115.3h1M64.3 133h1M42.6 140.2h1M26.4 149.5h1M53.3 156.8h1M78.5 118.5h1M106 109.2h1M50.4 152.9h1M73.3 131.2h1M19 168.1h1M80.3 149.9h1M30.5 154.6h1M75 126.6h1M22.5 145.3h1M60.8 133.8h1M108.1 116.3h1M72.7 144h1M97.6 114.6h1M41.4 143.7h1M22.5 146.1h1M44.9 148.6h1M57.3 128.5h1M76.5 139.9h1M108 110.1h1M65.9 144.5h1M84.8 127.6h1M83.8 137.5h1M80.5 134.2h1M17.3 135.4h1M31.6 154.9h1M104.4 105.5h1M35.1 159h1M110.7 116.9h1M109.8 108.5h1M57.5 154.7h1M48.8 154.5h1M104.8 110.4h1M30.5 140.7h1M105.6 108.1h1M75.5 152.3h1M93.1 121.8h1M45.7 145.1h1M64.3 134.4h1M97.8 115.9h1M62.9 146.9h1M77.1 125.7h1M72.7 157.2h1M41.5 162.8h1M25.7 139.6h1M55.2 142.9h1M64.8 132.8h1M62.4 129.7h1M74.3 135.4h1M75.2 127.3h1M55.1 156.3h1M31.9 136.4h1M21.5 134.7h1M79.8 123.9h1M81.6 143.8h1M98.6 121.2h1M101.7 114.3h1M72.2 126.7h1M98.3 117.6h1M80.2 116.9h1M85.7 122.2h1M51.1 157.5h1M77.8 124.1h1M89.2 124.4h1M74.8 140.7h1M96.2 110.6h1M48.1 156.1h1M74.5 130.2h1M57.8 139.7h1M80.9 120.3h1M55.7 133h1M69.7 121.8h1M41.8 131.3h1M79.1 116.5h1M76.4 122.3h1M50.9 138h1M60.5 138.2h1M46.4 152.4h1M92.2 124.6h1M46.5 134.1h1M50 149.1h1M70.5 124.5h1M83.2 135.2h1M76 151.3h1M88 120.9h1M23.6 142.2h1M96.9 122.4h1M47.9 137.7h1M85 126.5h1M64.9 128.1h1M72 158.5h1M83.9 128.9h1M38.4 135.1h1M88.8 119.6h1M70.2 143.6h1M61.6 141.4h1M110.1 112h1M37.3 169h1M87.3 122.4h1M95.8 111.6h1M60 141.3h1M58.7 141.1h1M56.3 150.8h1M96.3 122.2h1M96.1 114.1h1M45.2 143.6h1M50.5 144.8h1M83.4 129.2h1M70 132h1M59.8 135.8h1M58.3 131.6h1M103.5 110.8h1M61.6 135h1M81.5 117.7h1M87.2 131.4h1M56.1 155.2h1M92.4 126.3h1M44.9 150.3h1M98.8 112.3h1M13.5 160.2h1M68.1 139.4h1M109.5 109h1M56.1 121.7h1M36.2 169.5h1M60.3 132.2h1M91.9 120h1M49.5 139.7h1M41.3 129.7h1M107.3 115.1h1M109.6 106.8h1M65.9 127.2h1M44.6 155.3h1M42.8 156.8h1M57.7 134.2h1M45.9 131.2h1M81.7 134.4h1M54.9 128.1h1M84.8 122.9h1M52 144.6h1M103.7 104.6h1M71 140.8h1M70.5 130h1M58.5 138.8h1M43.8 155.7h1M37.4 148.5h1M109.6 107.2h1M32.9 137.4h1M48.9 137.8h1M82.6 126.2h1M63.4 137.7h1M48.7 140.3h1M62.6 123.8h1M4.2 122.5h1M76.7 134.4h1M39.7 147.9h1M47.7 141.9h1M101.1 120.8h1M103.9 106.6h1M75.1 124.8h1M74.9 134.1h1M57.6 131.8h1M55.6 163.6h1M51.8 152.7h1M79.5 113.7h1M55.5 153.5h1M88.6 112.6h1M64.3 128.2h1M102.2 116.4h1M77.6 115.1h1M43.8 159.1h1M30 148.6h1M106.6 112.3h1M64.1 130.9h1M90.2 122.7h1M27.2 147.2h1M80.4 132.9h1M88.2 135.7h1M98.7 112.4h1M74 128.2h1M28.8 161.1h1M77.3 127.1h1M44.5 140.8h1M34.3 151.5h1M72.5 136.9h1M36.7 127.2h1M99.8 117.4h1M101.7 112.2h1M41.4 162.2h1M72.3 119.1h1M75.1 155.9h1M50.9 136h1M69.4 126.3h1M49.4 143.3h1M97.6 110h1M16 146.4h1M97.2 109.7h1M93.5 115.7h1M91.6 105.7h1M80.5 123.8h1M76.7 118.5h1M65.1 145.2h1M95 127.6h1M49.4 151.5h1M28.4 127.6h1M93 122.4h1M54 143h1M91.7 112.6h1M68.7 142.6h1M79.5 120.2h1M58.9 139.3h1M26.5 154.2h1M61.4 139.8h1M45.4 159h1M66.8 139.6h1M73.6 128.8h1M44.4 139.8h1M62.8 147.2h1M64.8 115.7h1M23.9 143.9h1M67.9 142.4h1M53.1 167.3h1M32.4 149.9h1M62.3 147.1h1M90 129.3h1M97 110.4h1M34.9 168h1M104.2 107.5h1M76.6 137.8h1M44.1 152.6h1M70.9 137.5h1M70.7 148.5h1M81.9 127.3h1M27.9 166.7h1M75.3 126h1M57.1 129.1h1M88.7 121.3h1M50.7 164.5h1M42.5 154.5h1M47.7 145.3h1M106 114.2h1M70.2 133h1M85.9 122.3h1M49 133.7h1M77.4 137.7h1M49.6 168.7h1M86.6 113.9h1M81 117.8h1M38.2 131.6h1M56.7 139.9h1M45.9 149.9h1M89.3 122.5h1M64.9 118.9h1M70.3 126h1M34.7 138.2h1M105.8 121.1h1M27.7 153.9h1M66.4 128.2h1M73.8 126.3h1M99.2 119.1h1M49.3 144.7h1M49 158h1M99.3 123.7h1M80.5 130.4h1M81.7 118.6h1M23.1 152.3h1M79.5 133.5h1M56.3 142.6h1M57.3 152.3h1M58.1 155.7h1M74.3 156.4h1M87.5 120.8h1M78.4 137.9h1M45.8 142.2h1M71.6 140h1M69.4 133.3h1M41.4 147.5h1M65.8 127.6h1M99.4 118.7h1M16.2 153.3h1M43.8 168.3h1M71.8 132.5h1M102.3 112.9h1M67.9 123.5h1M42.4 152.5h1M90.5 123.5h1M46.3 152.6h1M44 142.9h1M68.4 141.8h1M98.6 116h1M93.3 115.4h1M71.2 132h1M80.3 130h1M39.7 134.4h1M82.5 127.4h1M58.4 148.3h1M44 147.5h1M108.9 108.9h1M41.1 154.1h1M89.5 117.9h1M63.3 150.8h1M72.1 125.3h1M77.2 134.1h1M62.4 131.6h1M50.1 155.1h1M57.8 146.1h1M105.7 109h1M42.4 143.9h1M75.7 123h1M51.1 163.1h1M56.3 151h1M72.6 140h1M44.1 128.7h1M67.6 139.4h1M67.1 128.9h1M88.2 117.5h1M50 142.7h1M93.4 136.6h1M92.3 120.2h1M76.7 117.5h1M52.5 134.2h1M72.6 129h1M69.5 127.1h1M39.9 163h1M108.2 110.8h1M45 130.3h1M34.9 131.6h1M71.3 125.1h1M49.4 163h1M79.4 122h1M72.2 137h1M66.4 142.5h1M66.6 138h1M80.7 121.3h1M89.1 114.2h1M43.4 152.3h1M95.7 109.2h1M60.5 130h1M92.5 111.9h1M59.6 116.6h1M104.4 112.9h1M63.8 158.1h1M98.3 119.6h1M48.5 133h1M21.1 133.3h1M12.9 165.5h1M16.6 143.4h1M46.2 153.8h1M21.4 152.4h1M26 143.1h1M12.3 154.8h1M28.7 152.8h1M25 139.3h1M44.6 141h1M26.2 155h1M24.7 164.1h1M22.4 147.5h1M3.7 119.9h1M40.9 150.3h1M15.2 167.7h1M32.1 167.9h1M45.8 161.4h1M28.5 142.3h1M33 147.8h1M43.3 150.5h1M43.1 152.2h1M34.7 162h1M34.2 168.3h1M5.3 148.1h1M31.9 144.9h1M19 153.1h1M49.6 135.5h1M32.8 136.2h1M14.9 147h1M18.4 167.7h1M26.2 164.7h1M43.1 161.8h1M57 158.4h1M21.8 160.6h1M24.7 164.3h1M29.1 153.7h1M28.5 147.4h1M23.5 155.1h1M50.8 151.5h1M11.7 147h1M40.5 151.5h1M59.1 152.9h1M28.5 145.1h1M27 163.1h1M26.7 155.9h1M15.9 142.3h1M36 143.4h1M30.2 163.2h1M48.8 154.7h1M35.4 161.4h1M51.9 148.3h1M39.4 154.7h1M55.9 164.3h1M45.9 159.4h1M45 146.6h1M4 141.7h1M26.4 153.5h1M15.9 156.3h1M43.4 157.8h1M23.8 158h1M46.7 146.3h1M15 145.3h1M18.2 166.4h1M24.3 138.3h1M40 144.5h1M38.4 145.1h1M55.2 163.2h1M18.4 161.2h1M25.6 167.4h1M30.9 142.1h1M19.7 148.6h1M25.4 166.4h1M24.9 148.6h1M31.8 141.6h1M33.7 138h1M45.7 165.2h1M40.3 155h1M6.9 139.1h1M49 142.1h1M41.3 150.6h1M26 155.5h1M57.7 152.2h1M31.5 159.9h1M15.4 151.9h1M20.6 151.3h1M26.3 140.5h1M30.6 124.3h1M14.2 161.9h1M7.2 129h1M27.4 153.3h1M3.2 168.3h1M34.5 148.7h1M7.1 165.4h1M42.8 158.5h1M11.4 167.2h1M44.5 154.7h1M52.2 167.3h1M27 150.8h1M15 167h1M57.1 142.8h1M2 163.8h1M38.3 165.1h1M27.4 161.5h1M15.5 161.5h1M38.1 149.2h1M34.3 167.3h1M1.6 139.1h1M28.8 153.1h1M9.5 162.5h1M44.9 159.3h1M38.6 143.8h1M43.5 142.7h1M34.5 156h1M9.7 130.5h1M5.2 163.9h1M39.7 151.9h1M51.2 142.6h1M26.5 154.9h1M39.9 148.8h1M37.9 155.6h1M48.1 149.8h1M24.3 161.7h1M19 157.9h1M30.5 165.4h1M5.5 147.2h1M31.3 146.6h1M20.4 167h1M61.1 149.4h1M64.6 163.7h1M21.5 169.8h1M17 158.8h1M58.3 159.9h1M56.3 128.8h1M23.7 148.2h1M42.7 157h1M65.1 151.3h1M12.3 154.4h1M15.5 163.9h1M8 146.3h1M19.4 157.3h1M33.3 144.9h1M53.5 163.4h1M29.8 149.6h1M1.2 157.7h1M51.4 157.4h1M23.5 141.3h1M15.3 165.6h1M18.9 146.6h1M27.3 166.4h1M10.6 134.1h1M21.1 136.8h1M26.6 159.6h1M6.9 142.3h1M15.5 156.4h1M30.1 163.2h1M49 141.6h1M23.2 168.8h1M32.1 127.9h1M34.4 151.6h1M11.2 145.7h1M29.1 164h1M17.6 138.1h1M27.5 121.3h1M27.7 169.1h1M28.8 157.7h1M46.6 152.4h1M11 151.4h1M24.3 144.9h1M21.6 164.7h1M33.2 147.7h1M37.4 138.4h1M42.3 157.5h1M40.2 150.5h1M55 150.5h1M32.3 161.3h1M45 157.3h1M50.7 151.1h1M13.1 149.1h1M16.2 162.4h1M19.4 165.6h1M5.5 152h1M33.6 152.4h1M19.8 148.7h1M29.2 154h1M41.4 158.4h1M28.3 169.3h1M50.2 144.1h1M37 145.8h1M35.4 163.2h1M9.5 158.6h1M48.4 166h1M7.5 156.2h1M40 157.1h1M41.6 152.8h1M17.9 159.9h1M4.8 161.4h1M31.4 169.7h1M32.7 149.3h1M44.4 140.4h1M51.9 145.2h1M15.6 150.9h1M26.8 143.7h1M62.6 145.1h1M48.3 169h1M8.9 157.6h1M7.6 139.9h1M41.5 162.1h1M10.7 162.8h1M1.7 141.8h1M12.4 140.3h1M59.3 167.5h1M20 144.9h1M38.9 167h1M6.1 149.2h1M44.3 149.4h1M17.5 163.4h1M38.3 147.9h1M36.9 146.7h1M42.8 152.6h1M28.4 153.5h1M37.5 151.7h1M24.3 163.9h1M3.2 167.7h1M42.3 169.8h1M32.8 149.2h1M31.5 167.2h1M42.8 148.6h1M54.3 154.5h1M9.9 143.9h1M38.9 141.6h1M36.3 152.1h1M29.7 165.9h1M47.8 158.9h1M22 168.2h1M5.4 145.5h1M17.2 140.8h1M30.2 159h1M7.2 164.3h1M51.9 160.8h1M32.8 142.2h1M33.2 152.1h1M28.9 158.9h1M50.3 158.5h1M45.2 141.8h1M31.3 158.3h1M15.9 131.7h1M52.6 156.6h1M35.4 165h1M7.2 156.7h1M40.5 157.8h1M44.2 155.7h1M30.3 164.4h1M23.2 139h1M30.4 146.1h1M24.6 150.2h1M18.6 152.3h1M41.1 145.8h1M24.7 151.4h1M16.2 155.1h1M9.6 167.5h1M19.6 159.4h1M40.4 163h1M47.7 158h1M32.8 166.9h1M64.3 143.1h1M24.1 143.7h1M21.3 153.9h1M12.4 126.3h1M19.6 156.8h1M19 156.4h1M45.7 162.1h1M21.9 164.6h1M48.7 155.5h1M40.1 158.8h1M40.4 164.2h1M41.6 167.3h1M47.6 131.6h1M38.1 164.4h1M23.8 144.7h1M25.8 146.5h1M34 162h1M15.1 166.1h1M18.9 135.4h1M23.5 143.2h1M22.5 151.6h1M21.6 154.9h1M41.8 165.5h1M54.5 159.8h1M26.7 157h1M45.2 169.4h1M6.5 153.6h1M46.1 144h1M21.4 143.1h1M35 169.5h1M18.8 140.4h1M52.2 166.6h1M50.4 145.8h1M33.9 159.3h1M48.9 160.4h1M36.7 167.7h1M31.4 169h1M43.9 145.6h1M37.3 144.4h1M31.1 140.2h1M61.5 149.2h1M55.9 156.9h1M54.2 143.2h1M2.8 159.4h1M24.6 149.8h1M54.3 145.2h1M56.7 164.2h1M31.9 151.5h1M35.5 140.7h1M34.9 163.6h1M104.7 103.5h1M80.2 75.4h1M107.9 104.1h1M111.2 105.2h1M105.8 103.5h1M108.4 106.2h1M106.6 105.9h1M106.7 104.9h1M108.6 103.4h1M106.6 105.6h1M107.4 105.5h1M110.3 103.5h1M108.4 103.7h1M105.1 103.9h1M109.3 104.4h1M108 103.4h1M121 103.7h1M98.5 103.4h1M92.6 103.5h1M99.4 104h1M100 103.7h1M92.9 103.8h1M120.3 103.8h1M102.1 103.6h1M123 103.8h1M118.3 104.8h1M64 50.8h1M83.5 49.3h1M77 58.3h1M76.5 75.8h1M48 92.3h1M53.5 89.3h1M82 84.3h1M85 83.3h1"/>
<path stroke="#f21616" d="M125 100.7h1M115.4 99.1h1M115.5 102.6h1M116 96.7h1M123 101.8h1M121.5 102h1M111.8 101.7h1M117.4 97.7h1M110.9 99h1M117.4 101.6h1M109.8 101.6h1M104.8 103.2h1M119.7 99.2h1M111.2 101.7h1M117 101.3h1M113.4 100.6h1M119.6 98.4h1M123.1 103.1h1M116.9 102.2h1M116.4 100.5h1M110.7 92.2h1M116.2 92.9h1M112 82.2h1M120.4 81.6h1M135.6 62.8h1M124.9 83.8h1M109 97.5h1M125 89.3h1M124.1 86h1M106 92.6h1M109 87.5h1M126.6 77h1M109.4 95.4h1M118.8 71.5h1M121.9 76.3h1M122.2 92.1h1M111.8 97h1M108 98.1h1M105.1 92.2h1M102.7 97.6h1M107.4 98.4h1M105 98.8h1M111.1 103h1M118.2 89.7h1M110.9 87.7h1M109 100.6h1M128.4 75.2h1M133.7 82.1h1M140.7 73.7h1M128.2 82.5h1M103.9 92.4h1M106 96.3h1M107.5 101.5h1M128 70.4h1M124.4 75.2h1M113.4 93.7h1M117 94.6h1M116 90.9h1M104.1 98.2h1M115.8 57.8h1M124.1 67.8h1M118 90.9h1M93.6 57.6h1M128.6 72.6h1M103.6 101.8h1M104.5 98.6h1M123.2 80.2h1M112.9 88.8h1M105.2 98.4h1M134.5 71.7h1M115.9 97.4h1M120.5 88.1h1M139.8 72.7h1M120.1 88.7h1M110.4 101h1M133.7 73.5h1M112.8 95.3h1M112 81.5h1M125.6 69.3h1M109.6 99.1h1M120.9 96.1h1M123.5 93.7h1M108.6 84.3h1M117.5 72h1M117.1 97.4h1M101 58.3h1M121.2 75.2h1M108.5 100.5h1M133.8 64.8h1M110.7 83.7h1M133 81.3h1M107.4 92.6h1M117.2 92.5h1M125.2 72.6h1M113.3 99.6h1M134.2 77.5h1M107.1 97.8h1M118.9 96.2h1M114.9 91.9h1M118.4 83.5h1M123.6 71.3h1M126 80h1M109.1 98.2h1M109.8 94.8h1M138.4 74.2h1M108.5 98.2h1M104.1 102.9h1M135.6 57.6h1M96.9 85.8h1M103.1 100.7h1M116.9 97.4h1M113.2 94.4h1M134.4 80.3h1M112.6 87.4h1M105.3 102.5h1M117.6 89.4h1M131.6 82.7h1M134.2 77.5h1M113.9 89.4h1M97.9 91.6h1M106.6 82.8h1M126.3 84.8h1M132.2 79.8h1M118.5 93h1M120.3 91h1M138.4 77.5h1M121.8 91.8h1M99.3 87.1h1M123.2 89.1h1M113.3 97.9h1M126 72.4h1M107.3 78h1M107 102.1h1M101.6 90h1M136.4 73.2h1M109.9 92.2h1M115.7 95.1h1M128.9 83h1M113.3 93.2h1M110.9 96.1h1M100.7 95.4h1M109.1 98.6h1M112.4 94.8h1M136.8 63.2h1M100.1 97.1h1M102.9 67.8h1M104.2 100.1h1M115.8 88.9h1M130.2 76.1h1M113.5 45.5h1M126.1 85.5h1M131 87.2h1M107 92.3h1M135 78.8h1M115.8 93.4h1M104.5 101.5h1M108.8 99.7h1M131.4 78.7h1M134.1 70.5h1M116.5 98.4h1M108.9 91.9h1M137.2 77.2h1M120.8 76.7h1M124 65.4h1M116.8 88.1h1M103 100.5h1M119.4 91.3h1M120.2 57.3h1M107.1 101.5h1M113.2 100.7h1M120.3 69.7h1M114.7 93.7h1M128.7 89.7h1M113.7 87.5h1M109 57.5h1M109.8 100.6h1M124 86.4h1M126.4 70.2h1M119.1 91h1M112.1 96h1M125.8 84.7h1M108.5 100.3h1M99.5 82.4h1M103.7 102.3h1M121.9 90.4h1M110.9 98.3h1M114.8 95.2h1M142.4 74.5h1M104.8 100.5h1M90.3 86.1h1M116.1 94.4h1M112.6 88.2h1M111.7 96.3h1M116.1 65.3h1M132.3 68.6h1M117.4 100.4h1M99.1 97.5h1M135.6 70.2h1M107.2 93.4h1M103 89.8h1M105.4 102.2h1M114.5 84.4h1M120.1 88.8h1M99.9 98.1h1M108.2 96.5h1M99.8 87.6h1M105.7 102.7h1M112.1 96.4h1M119.3 33.4h1M112.3 92.7h1M99.3 77.7h1M125.1 81.5h1M130.5 78.9h1M124.2 71.3h1M118.6 88.8h1M112.5 82.1h1M123.3 91.5h1M128.6 84.8h1M108.4 101.3h1M117.1 95.8h1M116 87.4h1M118.2 84.6h1M126.5 84.3h1M112.1 90.1h1M112.1 85.6h1M106.3 84.6h1M115.5 92.3h1M131 73.3h1M113.6 73.5h1M101.4 85.4h1M116.5 82.9h1M134.3 66.9h1M105.4 99.2h1M137.5 74.4h1M102.2 97.2h1M128.6 78.4h1M121.5 79h1M116 81.2h1M114.1 88.5h1M103.9 102.7h1M120.6 87.6h1M130.5 83.2h1M102.5 95.6h1M137 81.7h1M118.1 97.2h1M129.1 70.6h1M99 84.7h1M112.2 100h1M120 74.7h1M109.6 96.8h1M109.4 95.8h1M102.3 92.7h1M118.6 89.4h1M113.7 92.9h1M131.4 78.1h1M95.1 86.6h1M110.6 98.1h1M104.2 86.7h1M113.8 93.3h1M111.3 94.3h1M141.4 65.3h1M123 87.5h1M104.9 100.6h1M122.8 87.5h1M102.7 93h1M109.3 103.1h1M115.2 90.4h1M109 68.1h1M116.2 92.4h1M107.3 101.4h1M104.1 86.7h1M107 95.9h1M94.2 83.3h1M122.9 90.5h1M123.6 84.8h1M113.4 91.9h1M101.9 98.4h1M110.9 95h1M114.4 99h1M99.1 86h1M107.9 81.3h1M129.1 87.6h1M114 83.8h1M120.7 73.4h1M113.7 98.2h1M99.5 89.8h1M111.2 98.3h1M97.3 88.7h1M105 72.8h1M107.1 99.6h1M122.4 50.1h1M96.3 92.1h1M118.8 94.4h1M110.3 84.1h1M128.9 82.8h1M120.6 79.2h1M112.1 101h1M112.8 89.1h1M133.4 80.4h1M104 98.7h1M97.1 94.9h1M112.3 82.7h1M105.4 99.6h1M107.7 101.3h1M134.7 79.5h1M128.6 81.9h1M117.7 95h1M114 90.3h1M143.2 71.3h1M98.8 64.1h1M141.3 67.5h1M104.8 103.1h1M130.3 81.1h1M122.8 48.9h1M120.6 93h1M108.8 87.4h1M105.4 100.9h1M109.3 66.9h1M117.2 93.1h1M102 43.6h1M141.1 74.1h1M91.5 87.9h1M124.8 89.2h1M97.8 89h1M100.3 88.1h1M102.5 97.2h1M126.5 72.2h1M114.9 77h1M119.1 84.3h1M112.2 93.5h1M98.7 93.8h1M109.8 90.6h1M118.4 89.5h1M90.7 84h1M103.2 101.3h1M91.9 101.2h1M98.3 97.2h1M103.5 100.8h1M119.1 93.1h1M99.4 102.5h1M122.9 99.3h1M98.6 100.6h1M91.4 98.7h1M114.4 98.5h1M102.9 98.6h1M102.9 101.6h1M93.4 101.5h1M115.8 101.6h1M91.4 101.3h1M109.3 102.4h1M92.1 102.8h1M102.7 92.7h1M97.4 85.4h1M99.8 101.3h1M104.4 101.7h1M92.6 101.9h1M90.7 102.2h1M91.4 101.8h1M105.6 100.2h1M99.1 100.3h1M94.3 99.5h1M117.7 101.2h1M119.1 95.6h1M92.6 99.2h1M102.5 98.4h1M108.5 98.1h1M96.1 100.6h1M93.7 101.5h1M97.1 99.1h1M99.2 98.8h1M96.5 100.7h1M104 103.3h1M126 100.7h1M106.9 100.9h1M119.3 100.3h1M98.5 101.6h1M89.8 100.5h1M120.4 101.8h1M101.4 96.8h1M92.3 102h1M97.4 99.4h1M106.5 99.6h1M99.1 102.1h1M91.6 102.3h1M103.8 83.8h1M104.3 102h1M118.2 98.8h1M94.3 102.6h1M126.6 99.4h1M89.4 102.4h1M99.6 98.2h1M118.6 79.3h1M109.7 96.7h1M99.1 96h1M102.2 99.6h1M91.7 98.1h1M93.9 102.1h1M98.7 101.1h1M117.5 102.2h1M119.1 98.9h1M104.7 98.3h1M117.2 98.6h1M113.9 99.8h1M95.4 91.7h1M101.2 86.4h1M97 102h1M101.6 98.9h1M102.7 96.2h1M103.8 92.9h1M93.6 95.2h1M100.5 99.6h1M100.9 102.9h1M93.4 96.5h1M102.9 99.8h1M128.1 81.2h1M192.9 12.5h1M173.5 44h1M188.3 21.9h1M153.9 53.8h1M180.7 49h1M185.9 31h1M146.6 68.2h1M179.9 34.3h1M178 34.7h1M182 25.1h1M106.4 66.9h1M160 59.8h1M196.5 27.7h1M189.3 30.4h1M166.7 25.4h1M173.8 20.2h1M180.2 3.6h1M185.7 32h1M175 12.1h1M136.5 57.7h1M126.6 75.5h1M185.7 25.9h1M131.2 84.8h1M129.2 65.6h1M215.1 4.2h1M197.9 24.6h1M156 66.1h1M183.3 10.2h1M146.6 58.1h1M124.6 82.8h1M153 44.7h1M171.2 32.4h1M200.4 18.6h1M133.7 65.2h1M122.3 83.7h1M191.2 29.3h1M172.6 1.8h1M121.6 74.1h1M191.9 26.1h1M148.5 50.1h1M185 31.3h1M138.3 65.7h1M157.4 58.2h1M132.4 58.4h1M129.7 75.5h1M134.8 70.6h1M195.4 14.7h1M142.1 67.1h1M206.5 3.8h1M159.7 54.1h1M207.3 5.5h1M146.4 19.8h1M134.2 41.6h1M195.3 7h1M128.8 83.3h1M170.7 43.3h1M169.2 39.5h1M136.6 64.5h1M149.2 62.6h1M153.5 61.2h1M138.6 68h1M167.5 27h1M151.8 65.5h1M183.1 4.4h1M132.2 84.2h1M213.6 9.7h1M202.7 15.5h1M152.8 60.8h1M162.7 41.9h1M197 6.7h1M151.4 41.8h1M144.3 52.2h1M192.5 26.8h1M182.1 35.5h1M147.4 63.3h1M219.5 1.6h1M164.2 26.5h1M108.2 65.2h1M158.8 21h1M177.1 35.6h1M110.1 57h1M163.6 13.7h1M192.7 28h1M132.7 52.5h1M147.8 65.4h1M133.1 64h1M130.8 66.6h1M177.6 35.2h1M123.2 74.7h1M143.1 54.1h1M171.3 27.2h1M164.1 7.5h1M133.7 83.2h1M121.2 35h1M131.9 71.4h1M162.1 26.6h1M134.7 66h1M123 73.4h1M109.8 69.1h1M138.1 71.4h1M99.4 56.6h1M210.8 17.5h1M134.1 77.5h1M140.8 66.6h1M171.8 12.5h1M140.2 62.3h1M150.4 45.1h1M124.6 79.1h1M167.1 46.7h1M138.4 71.8h1M136.9 73h1M153.7 44h1M138.6 61.6h1M200.2 6.2h1M138.2 69.7h1M137.4 75.7h1M145.5 67h1M122.7 86.4h1M107.8 68.2h1M128.5 67.8h1M129.9 78.3h1M175.8 32h1M152.5 38h1M145.8 59.1h1M144 56.6h1M180.4 16.9h1M125 82.8h1M172.9 27h1M161.4 60.4h1M120.6 49.3h1M158.8 30h1M176.6 37.8h1M171.6 23h1M166.8 47.9h1M145.4 59.6h1M146.3 62.3h1M197.6 27.1h1M176.4 33.4h1M192.5 17.1h1M134.4 67.3h1M180.1 9.2h1M136.8 56.1h1M179.8 34.7h1M132.2 56.5h1M185.2 38.5h1M143.4 46.2h1M182.7 32.1h1M125.3 84.5h1M162.7 51.7h1M145.6 72.9h1M91.4 49.3h1M141.6 56.6h1M181.1 36.1h1M138.9 27h1M184.5 22.6h1M162.5 35h1M169.6 53.5h1M128.8 75.3h1M146.6 43.5h1M174.1 22h1M210.9 23.6h1M149.9 61.6h1M134.6 84.6h1M151.6 58.6h1M175.3 32.3h1M146.1 33.8h1M152.9 62.3h1M191.6 4.7h1M176.4 31h1M195.2 1.8h1M136.7 69.2h1M128.8 85.6h1M162.1 53.2h1M145.6 66.2h1M164.9 48.9h1M145.7 48.6h1M169.7 38.8h1M135.2 77.2h1M138.6 83.9h1M164.5 47.2h1M118.6 75.3h1M116.2 73.6h1M196.7 28.2h1M196.1 24.5h1M154.1 49.2h1M142.1 67.5h1M165.8 45.8h1M188.7 31.7h1M159.6 62.8h1M146.1 80.8h1M122.5 84.9h1M145.2 44.5h1M132.1 73.9h1M190.4 19.5h1M137.4 74.2h1M138.7 72.7h1M203.9 9.2h1M181.7 32.4h1M185.6 33.1h1M159.1 57.1h1M158.5 52.4h1M187.8 24.7h1M154.9 61.4h1M125.4 83.8h1M129.8 89.7h1M169.2 28.5h1M124.1 61.2h1M125.1 67.5h1M139.4 74.5h1M134.4 57.7h1M112.1 71.1h1M202.6 18.2h1M159 62.8h1M179.8 0.8h1M117.2 4.6h1M146 67.9h1M125.3 75.5h1M163.4 23.1h1M165.8 40h1M163.4 10.8h1M137.2 70h1M202.3 4.8h1M136.3 74.2h1M195 23.3h1M184.4 31.3h1M143.5 50.5h1M128.6 85.9h1M181.1 38.9h1M157.1 59.3h1M154.8 52.3h1M120 83.7h1M144 67.3h1M147.9 66.4h1M139.7 54.1h1M200.7 13.3h1M118.9 54.8h1M128.5 82.8h1M125 88.5h1M135.2 56.6h1M124.3 71.1h1M211.2 11.6h1M141.7 42.2h1M199.5 2.9h1M168.8 41.4h1M155.3 55.6h1M128.6 74.2h1M136 68.4h1M119.3 76.5h1M129.6 73.9h1M161.8 47.9h1M183.7 2.4h1M148.8 42.5h1M172.9 44.2h1M176.7 30.4h1M125.8 74h1M146.4 58.4h1M160.1 30.9h1M163.7 46h1M129.4 61.8h1M133.1 73.8h1M207.6 10.7h1M177.6 4.8h1M151.2 33.6h1M148.8 78.1h1M156.1 5.8h1M135.5 41.5h1M153.7 56.3h1M140.3 30.2h1M132.6 68.9h1"/>
</g>
<line x1="962" y1="465" x2="1040" y2="465" stroke="#555" stroke-width="1.6" />
<text x="1108" y="304.6" font-size="24.5" text-anchor="middle" fill="#000" font-weight="bold" textLength="68" lengthAdjust="spacingAndGlyphs" >80 nM</text>
<line x1="1241" y1="298.6" x2="1241" y2="468.5" stroke="#3a3a3a" stroke-width="1.3" />
<line x1="1240.5" y1="468" x2="1460.2" y2="468" stroke="#3a3a3a" stroke-width="1.3" />
<path d="M1241 465.1h-3.6M1249.7 468v3.6M1241 459.8h-3.6M1255 468v3.6M1241 455.7h-3.6M1259.3 468v3.6M1241 452.4h-3.6M1263 468v3.6M1241 449.5h-3.6M1266.2 468v3.6M1241 447.1h-3.6M1269 468v3.6M1241 444.9h-3.6M1271.5 468v6.5M1241 443h-6.5M1288 468v3.6M1241 430.3h-3.6M1297.7 468v3.6M1241 422.9h-3.6M1304.6 468v3.6M1241 417.6h-3.6M1309.9 468v3.6M1241 413.5h-3.6M1314.2 468v3.6M1241 410.2h-3.6M1317.9 468v3.6M1241 407.3h-3.6M1321.1 468v3.6M1241 404.9h-3.6M1323.9 468v3.6M1241 402.7h-3.6M1326.4 468v6.5M1241 400.8h-6.5M1342.9 468v3.6M1241 388.1h-3.6M1352.6 468v3.6M1241 380.7h-3.6M1359.5 468v3.6M1241 375.4h-3.6M1364.8 468v3.6M1241 371.3h-3.6M1369.1 468v3.6M1241 368h-3.6M1372.8 468v3.6M1241 365.1h-3.6M1376 468v3.6M1241 362.7h-3.6M1378.8 468v3.6M1241 360.5h-3.6M1381.3 468v6.5M1241 358.6h-6.5M1397.8 468v3.6M1241 345.9h-3.6M1407.5 468v3.6M1241 338.5h-3.6M1414.4 468v3.6M1241 333.2h-3.6M1419.7 468v3.6M1241 329.1h-3.6M1424 468v3.6M1241 325.8h-3.6M1427.7 468v3.6M1241 322.9h-3.6M1430.9 468v3.6M1241 320.5h-3.6M1433.7 468v3.6M1241 318.3h-3.6M1436.2 468v6.5M1241 316.4h-6.5M1452.7 468v3.6M1241 303.7h-3.6" stroke="#3a3a3a" stroke-width="1" fill="none"/>
<text x="1270" y="486.5" font-size="10.5" text-anchor="middle" fill="#222">10<tspan dy="-4.5" font-size="8.5">2</tspan></text>
<text font-size="10.5" text-anchor="middle" fill="#222" transform="translate(1233.2 444.5) rotate(-90) scale(1 1.25)">10<tspan dy="-4.5" font-size="8.5">2</tspan></text>
<text x="1324.9" y="486.5" font-size="10.5" text-anchor="middle" fill="#222">10<tspan dy="-4.5" font-size="8.5">3</tspan></text>
<text font-size="10.5" text-anchor="middle" fill="#222" transform="translate(1233.2 402.3) rotate(-90) scale(1 1.25)">10<tspan dy="-4.5" font-size="8.5">3</tspan></text>
<text x="1379.8" y="486.5" font-size="10.5" text-anchor="middle" fill="#222">10<tspan dy="-4.5" font-size="8.5">4</tspan></text>
<text font-size="10.5" text-anchor="middle" fill="#222" transform="translate(1233.2 360.1) rotate(-90) scale(1 1.25)">10<tspan dy="-4.5" font-size="8.5">4</tspan></text>
<text x="1434.7" y="486.5" font-size="10.5" text-anchor="middle" fill="#222">10<tspan dy="-4.5" font-size="8.5">5</tspan></text>
<text font-size="10.5" text-anchor="middle" fill="#222" transform="translate(1233.2 317.9) rotate(-90) scale(1 1.25)">10<tspan dy="-4.5" font-size="8.5">5</tspan></text>
<line x1="1326.4" y1="298.6" x2="1326.4" y2="468" stroke="#2a2a2a" stroke-width="1.3" />
<line x1="1241" y1="400.8" x2="1460.2" y2="400.8" stroke="#2a2a2a" stroke-width="1.3" />
<text x="1298.4" y="379.8" font-size="10.5" text-anchor="middle" fill="#222" font-family="Liberation Serif,serif">Q1</text>
<text x="1353.4" y="379.8" font-size="10.5" text-anchor="middle" fill="#222" font-family="Liberation Serif,serif">Q2</text>
<text x="1353.4" y="432.8" font-size="10.5" text-anchor="middle" fill="#222" font-family="Liberation Serif,serif">Q4</text>
<text x="1302.4" y="432.8" font-size="10.5" text-anchor="middle" fill="#222" font-family="Liberation Serif,serif">Q3</text>
<g transform="translate(1241 298.6)" fill="none" stroke-width="1.25">
<path stroke="#000" d="M41.2 137h1M16.2 146.4h1M11.7 146.2h1M42.6 146.4h1M51.7 133.8h1M27.4 151.9h1M30.8 161.3h1M30.4 143.2h1M33.3 149.4h1M25 156.7h1M26.8 132.9h1M15.2 142h1M3 161.3h1M9.1 163.8h1M28.6 151.3h1M27.6 149.4h1M18.1 159.4h1M26.6 160.2h1M63.4 117h1M34.9 149.8h1M14.5 159.5h1M4 157.7h1M23.8 158.8h1M23.5 166.9h1M23.6 146.2h1M24.4 161.4h1M26.7 144.1h1M25.3 143.2h1M26.8 142.4h1M56.5 126h1M14.8 165.6h1M1.6 165.9h1M45.7 143.6h1M36.3 143h1M7.3 162.2h1M16.8 160.5h1M2.5 166.8h1M7.2 158.9h1M11.7 163.8h1M17.4 142.9h1M16 129.4h1M49.6 150.3h1M21.9 143.7h1M31.1 158.1h1M25.5 149.5h1M38.5 155.5h1M17.8 154.3h1M34.5 134.6h1M10.5 150.3h1M45.8 130.6h1M3.3 140.9h1M33.7 149h1M9.5 142.5h1M31.2 141.9h1M12.1 151.9h1M11.3 167.6h1M29.3 141.7h1M9 155.4h1M5.4 159.4h1M26.4 160.7h1M33.6 147h1M18.8 156.7h1M48.8 130h1M8.9 153h1M30.2 147.7h1M16.3 155.7h1M13.3 153.7h1M28.7 165.5h1M26.7 150.9h1M37.4 140.9h1M19.3 142.2h1M23.8 141.3h1M22.4 141.7h1M4.8 148.4h1M10.5 167.5h1M37.6 127.4h1M11 158.6h1M7.6 159.9h1M15.2 158.9h1M17 147.3h1M18.6 155h1M54 134.6h1M27.6 148.6h1M26.5 167.6h1M23.6 155.2h1M13.1 161.6h1M21.7 157.6h1M25.2 124.1h1M8.5 164.6h1M17.4 145h1M17.3 150.5h1M13.4 144.9h1M15 155.5h1M42.5 154.3h1M15.8 161h1M6.1 152.3h1M19.1 161.8h1M27.1 145.4h1M19.1 150.7h1M37.9 148.9h1M7.5 167h1M14.3 140.1h1M43.7 146h1M15.4 149.6h1M46.4 132.5h1M41.6 148h1M1.2 143h1M2.4 157.2h1M18.1 152.6h1M20.1 143.2h1M23.7 166.3h1M40.9 133.4h1M41.7 151.9h1M61.5 118.3h1M43.5 130.6h1M28.2 156.3h1M24.8 160h1M14.9 154.5h1M3.7 152.1h1M29.3 148.7h1M19.4 156h1M4.6 136.6h1M2.7 149h1M34.4 136h1M19 158.9h1M28.2 149.5h1M22.2 152.7h1M7.1 140.3h1M28.8 156h1M25 160.7h1M28.5 164.1h1M27.5 139.1h1M19.8 167.3h1M25.6 153.9h1M16.9 160.2h1M15.6 150.1h1M14.7 155.7h1M18.7 139.4h1M1.2 144.4h1M31.3 148.9h1M7.4 154h1M38.9 128.4h1M8.7 165.5h1M18.7 146.2h1M44.5 129h1M52.4 141h1M27.5 157.3h1M4.2 155.8h1M30.8 161h1M34.5 149.3h1M23.3 136.8h1M34.4 130.6h1M25 138.7h1M18.3 158.2h1M27.7 149.4h1M22.9 161.2h1M31.6 139.6h1M11.1 154.7h1M18.5 136.4h1M18.6 153.1h1M29.7 156.9h1M23.7 159.2h1M10.6 161.1h1M21.3 152.3h1M7.6 161.2h1M56.4 127.2h1M53.7 132.2h1M22.7 158.6h1M5.6 148.6h1M21.9 141.6h1M9.5 144.7h1M54 134.1h1M25.2 146h1M26 159.4h1M41.5 140.8h1M25.4 144.1h1M6.1 156.5h1M43.5 135h1M46.4 148h1M37.3 156.2h1M9.8 167.6h1M45.2 146.1h1M32.7 128.2h1M24.9 154.3h1M47.1 121.3h1M22.9 139.1h1M27.8 155.1h1M24.5 155.8h1M47.7 127.6h1M17.6 157.1h1M13.5 153.5h1M25.7 167h1M32.9 157.4h1M9.4 146.1h1M19.5 153.6h1M12.4 161.4h1M16.3 154.4h1M21 142.5h1M29.6 140.1h1M21.9 136.8h1M27.8 148.4h1M45 127.5h1M34.3 163.2h1M69 116.8h1M7.4 162.2h1M32.9 166.2h1M35.2 136.5h1M33.6 151.7h1M4 149.1h1M42.7 133.8h1M43.4 127.8h1M8.5 164.7h1M41.3 136.3h1M10.3 167.3h1M37 151.9h1M23 156h1M21.4 130h1M20.5 163.4h1M49.3 145.3h1M7.7 160.4h1M46.2 136.3h1M19.4 166.4h1M21.6 154h1M3.8 143.6h1M14.5 156.2h1M40.9 147.8h1M25.8 148.8h1M27.5 162.6h1M28.6 131.1h1M22 161h1M17.7 165.1h1M11.8 166.6h1M35.8 167.7h1M52.3 134.5h1M29.5 133.9h1M19 156.9h1M14.1 148.9h1M9.7 165.4h1M8.7 161.4h1M29.6 129.1h1M10.5 141.2h1M21.3 154.3h1M10.4 168.3h1M12.2 163.5h1M25.1 149.2h1M52.2 133.5h1M18.1 152.6h1M3.9 163.8h1M26.9 156.5h1M29 137h1M15.3 166.3h1M25.9 147.7h1M38 150.4h1M15.7 161.3h1M30.6 155.3h1M25.7 164.5h1M20.1 166h1M9.8 166.1h1M10.9 154.5h1M19.3 158.5h1M5.5 163.7h1M9.5 163.6h1M49.8 145.4h1M23.5 160.8h1M26.9 160.7h1M32.8 147.4h1M16.9 144.5h1M28 136.6h1M15 157.3h1M19.6 143.9h1M22 167.6h1M29.5 151.6h1M35.2 154.5h1M32.4 139.7h1M9.5 152.2h1M35.2 147.1h1M4.1 158.3h1M12.8 142.8h1M53.2 130.9h1M20.1 134h1M32.8 143.9h1M38.4 129.7h1M59.6 125.6h1M20.4 152.7h1M17.8 150h1M26.4 140.9h1M20.7 160.6h1M10.4 159.7h1M44.8 147.8h1M10 161.4h1M42.2 135.3h1M54.7 121.5h1M3.6 161.3h1M28.6 135.2h1M4.4 154.4h1M39.5 145.7h1M21.2 141.6h1M38 134.6h1M36.9 144.7h1M22 156.1h1M22.3 164.1h1M39.1 145.1h1M35.6 162.6h1M25.5 150.7h1M21.2 150.4h1M7.4 152.8h1M19.3 154.9h1M39 148.5h1M13.5 160.4h1M45.1 127h1M52.2 127.7h1M15.5 162h1M14.8 152.3h1M19.3 137.5h1M37.3 156.4h1M17.2 162.1h1M27 137.5h1M28 140.1h1M15.2 136.1h1M46.6 129.6h1M46.5 136.1h1M33.5 138.3h1M10.1 164.1h1M12.8 146.3h1M24.9 154.3h1M30.3 164.4h1M22.1 150.4h1M7.5 161.4h1M20.5 140.8h1M31.8 146.8h1M44.8 127.1h1M7.1 154.1h1M22.9 157.3h1M12 158.3h1M1 151.4h1M16.5 158.5h1M34.5 150.1h1M44 140.5h1M24 143h1M37.9 147.7h1M26 150.2h1M21.8 152.8h1M21.4 139.1h1M17 152.8h1M10.6 148.4h1M27.4 132.2h1M22.6 154.2h1M47 137.2h1M23.1 148.9h1M20.5 151.4h1M11.1 163.7h1M21.5 159.6h1M35.5 135.5h1M26.7 137.5h1M14.7 159.3h1M15.1 143.9h1M27.2 134.5h1M5.3 135.7h1M4.3 155h1M42.1 133.2h1M16.4 138.1h1M42.7 127.9h1M10.4 166.5h1M21.8 155.5h1M25.8 142.8h1M44.2 163h1M44.5 129.9h1M25.7 136.1h1M26.8 155.3h1M15.3 156.8h1M46.5 125h1M2.9 163.8h1M29.1 144.4h1M9.1 154.9h1M8.5 159.3h1M21.2 161.5h1M47.2 130.7h1M20.6 150.8h1M20.2 152.1h1M42.3 157.5h1M10.1 153.9h1M44.1 133.9h1M11.8 140.3h1M19.7 156.4h1M28.5 138.6h1M31.9 137.5h1M25.6 147.7h1M42.9 144.4h1M8.4 145.2h1M48.5 139.3h1M26 143.4h1M38.9 126.8h1M37.5 145.3h1M35.2 147.1h1M25.8 158.5h1M45.7 149.7h1M37.6 137.9h1M38 157h1M17.3 166.3h1M22 135.3h1M43.3 156.6h1M16.4 142.7h1M30.6 133.7h1M35.3 136.2h1M36.9 149.6h1M6.7 143.2h1M22.8 140.6h1M8.1 135.1h1M32.9 137.1h1M10.1 159.2h1M11.5 142.4h1M32.2 145.2h1M32.9 152.9h1M44.3 131.6h1M32.9 155.6h1M34.1 136.9h1M10 161.4h1M63.3 122.7h1M2.6 146.2h1M22.3 141.4h1M31.6 144.9h1M9.2 150.7h1M35.4 147.1h1M34.6 142.4h1M29 140.4h1M42.9 137.1h1M19.2 147.7h1M16.1 147.9h1M4.7 166.3h1M17.1 137.2h1M23.1 150.7h1M25.6 149.4h1M31.2 141.4h1M44.7 156.7h1M25.9 148.3h1M8.2 166.5h1M5.1 138.2h1M10.6 158.9h1M30.4 157.2h1M24.4 135.5h1M4.1 162h1M44.2 143h1M19.6 150.6h1M21.8 168h1M36.8 141.3h1M37.5 158.3h1M35.3 130.2h1M36.5 137.7h1M38.6 153.8h1M16.7 164.6h1M35.7 162h1M21 151.9h1M41.8 130.7h1M16.2 144.2h1M12.4 150.8h1M29 158.3h1M33.6 144.2h1M29 151h1M7.2 154.9h1M21.9 145.4h1M12.9 160.8h1M18.8 150.2h1M21.5 155.8h1M58.8 124.7h1M16.5 161.4h1M44.3 151.4h1M43.6 140.6h1M8.2 152.1h1M7 152.7h1M24.9 141h1M26.5 161.1h1M16.6 135.4h1M44.3 129.2h1M10.3 133.4h1M40.7 133.7h1M3.9 165.4h1M46.9 155.5h1M4.9 154.2h1M14.6 150.3h1M7.5 162.4h1M62.3 125.1h1M3.7 149.2h1M25 146.1h1M8.8 147.1h1M20.7 144.7h1M49.6 141.6h1M30.2 153.1h1M23.3 164.9h1M4.6 148.3h1M8.8 144.1h1M18.3 146.7h1M27.2 163.8h1M9.1 136.9h1M44.3 131.6h1M10 152.8h1M23.1 163h1M29.2 151.4h1M26.6 133.6h1M1.4 158h1M41.3 141.3h1M22 158.9h1M31.3 146.7h1M21.3 159.3h1M20.4 156.5h1M12.8 155.2h1M55.8 125.1h1M4.9 164.1h1M26.1 154.8h1M32.5 151h1M35.7 131.1h1M40.3 139.7h1M43.1 136.7h1M16.5 131.8h1M41.6 139.4h1M9.2 152.2h1M49.5 133.6h1M2.3 159.8h1M60.9 114.1h1M26.7 165.2h1M9 161.9h1M8.1 157h1M26 166.3h1M18.3 163.2h1M15.2 154h1M30.8 128.2h1M17.3 134.2h1M7.1 151.9h1M11.6 157.8h1M35.2 139.6h1M9.2 158.5h1M38.7 148.8h1M16.5 148.4h1M4.6 167h1M24.5 163h1M9.5 157.2h1M16 135.1h1M53 119.8h1M10 145.5h1M18.3 155.8h1M18.9 148.9h1M5.5 167.8h1M3.2 162.3h1M43 128.2h1M9 162.1h1M15.9 149.2h1M4.8 149.6h1M26.1 160.3h1M16.1 161.5h1M31.1 165.2h1M22.9 155.5h1M20.1 149.3h1M37.9 139.5h1M6.4 149.2h1M31.4 144.9h1M25.8 144.9h1M59.9 121.4h1M8 161h1M37.9 140.4h1M33.2 145.8h1M31.5 142.5h1M17.3 146.1h1M64.2 116.2h1M41.5 138.6h1M27.1 156.3h1M12.4 159.8h1M29.1 148.2h1M68.9 119h1M14.8 135.5h1M16.1 158h1M57.4 130.5h1M56.8 121.8h1M26.5 149.2h1M22.3 156.6h1M39.2 134.7h1M12.3 165.5h1M21.9 127.2h1M9 167.6h1M25.2 155.1h1M18.4 150.3h1M37.9 136.7h1M15.8 150.2h1M40.2 139.7h1M10.3 151.5h1M8.6 160.5h1M46.2 134.3h1M18.3 148.6h1M33.3 140.2h1M35.4 146.5h1M34 163.9h1M18.2 146h1M10.6 140.6h1M20 164h1M20.2 139.9h1M3.2 167.1h1M26.7 148.5h1M9 161.4h1M4.2 167.2h1M27.8 155.1h1M29.9 143.1h1M44.9 136.2h1M24.1 160.7h1M41.4 138.2h1M28.1 128.9h1M61.8 130.3h1M12.4 167.7h1M24.3 163.4h1M26.4 164.8h1M39.8 130.6h1M33.3 133.5h1M21.2 138h1M17.3 168.2h1M35.9 138.8h1M36.5 157h1M32.8 133.2h1M20.9 131h1M31.2 151.8h1M48.7 130.1h1M42.8 132.9h1M40 146h1M55.5 117.1h1M43.2 142h1M37.3 153.1h1M12.2 163.7h1M43 149.4h1M35.4 148.6h1M15.7 136.2h1M11.4 145.5h1M25.4 149.3h1M25.9 154.7h1M29.7 141.8h1M23.3 161.7h1M1.8 151.1h1M21.3 151.4h1M20.3 159.5h1M2.4 152.7h1M35.2 143.3h1M30.6 131.7h1M13.8 149.3h1M9.5 160.5h1M18.1 138.8h1M20.1 160.2h1M38.6 146.9h1M35.2 153.8h1M25.9 158h1M35.1 154.3h1M49.3 137.2h1M2.7 164.3h1M1.8 140.3h1M16.7 152.3h1M7 150.5h1M23.8 137h1M12.6 149.7h1M58.7 116.1h1M50.9 134.9h1M12.1 124.7h1M18.6 154.5h1M34.6 141.6h1M8.5 148.1h1M7.5 163h1M68 114.9h1M24.3 146h1M6.2 164.3h1M5.3 165.4h1M19.1 148.6h1M6 164.9h1M31.8 144.6h1M22.3 136.9h1M30.7 156.9h1M21.4 144.9h1M5.6 148h1M38 142.5h1M9.2 164.3h1M30.9 149.4h1M37.8 163.3h1M19 159.7h1M49.5 138.2h1M10.7 162.1h1M10.8 152.3h1M22 160.5h1M33.4 131.3h1M28.6 134.9h1M22.8 165.8h1M8.1 156.7h1M45.7 130h1M44.3 138.6h1M31.1 145.1h1M8.2 154.8h1M61.4 122h1M12.8 144.1h1M6.8 156.1h1M10.2 166h1M36 154.2h1M42.8 144.7h1M45.2 139.8h1M22.7 143.4h1M28.4 141.4h1M18.3 141.6h1M23.9 145h1M7.2 158.3h1M11.4 144.9h1M25.4 148.5h1M27.6 140.5h1M16.5 166.4h1M51.3 158.1h1M41.6 134.1h1M23 149.8h1M12.3 152h1M34 135.4h1M28.5 142.5h1M33.5 127.8h1M53.1 137.5h1M17.2 149.7h1M52 127.5h1M27.1 134.5h1M13.8 141.3h1M20 139.8h1M5.1 166.9h1M26.8 142.3h1M35.7 135.6h1M51.6 124.6h1M10.4 165.7h1M25.4 148.2h1M10 162.1h1M38.8 139.4h1M26.5 148.3h1M36.8 134.5h1M3.2 148.4h1M13.5 146.4h1M44.9 146h1M5.1 153.2h1M23.2 134.7h1M13.9 149.9h1M41 138.1h1M47.3 127.7h1M32.4 142.4h1M29.4 160.5h1M8.5 153.4h1M11.1 166.2h1M18.6 156.3h1M49.6 134.1h1M12 134.9h1M47.1 149.8h1M33.7 140.1h1M9.9 146.9h1M27.1 143h1M29.9 160.3h1M21.7 145.8h1M12.6 143.9h1M28.3 139.3h1M27.9 156.7h1M16.1 165.5h1M47.9 140h1M27.8 165.1h1M24.9 162.9h1M34 152.4h1M16.1 142.4h1M35.2 145.1h1M29 141.7h1M38.9 134.6h1M18.9 158.9h1M30 157.3h1M18.3 157.1h1M43.5 126.1h1M25.8 135h1M13.1 152.8h1M2.9 155h1M25.6 161.7h1M22.9 154.8h1M37.5 164.4h1M28.3 140.4h1M48.1 128.8h1M36.1 143.1h1M15.2 151.1h1M46 143.1h1M5.8 137.7h1M17.4 150.5h1M27 130.5h1M5.3 165h1M29.6 159.6h1M15.5 150.6h1M16.8 140.2h1M23.3 153.5h1M24.2 154h1M60.9 115.6h1M35 150.1h1M47.7 136.7h1M27.3 150.9h1M25 134.4h1M41.9 127.8h1M10.3 155.7h1M15.9 151.9h1M30.6 165.1h1M16.2 154h1M23.9 139.3h1M16.5 138.9h1M37.1 137.9h1M4.3 148.1h1M6 141.4h1M9.5 148.7h1M28.7 150.7h1M39.3 146.7h1M31.4 168.1h1M40.4 125.4h1M30.2 147.2h1M19.6 154.6h1M19.1 165.3h1M43.9 136.4h1M17.8 160.7h1M17.8 135.3h1M35.2 142.3h1M28.7 140.8h1M23.8 155.2h1M41.8 135.6h1M16.8 150.3h1M13 149.7h1M19.9 155.9h1M31.7 143.3h1M22.1 157.7h1M8 163.8h1M39.1 138.8h1M26.6 143.9h1M18 134.8h1M23 142.3h1M15 163.3h1M12 159.5h1M12.6 160.9h1M8.9 140.9h1M12.5 160.8h1M31.9 142.6h1M24.9 151.1h1M3.1 152.7h1M23 153.6h1M44.6 125.8h1M13.6 160.4h1M6.8 165.4h1M2 158.6h1M18 141.8h1M10.8 154.8h1M57.9 120.2h1M26.4 166.7h1M19.4 154.2h1M43.1 146.2h1M62.7 119.4h1M41.2 162.8h1M55.7 132.3h1M31.1 159.7h1M55.8 138.4h1M20.4 162.1h1M31.5 129.3h1M5.6 152h1M15.2 158.3h1M24.3 139.6h1M16.9 139.8h1M40 144.5h1M47.3 129h1M29.2 157.5h1M23.9 168.4h1M52.9 130.7h1M45 127.6h1M15.1 155.2h1M51.3 128.5h1M45.1 124.6h1M17 142.1h1M37.6 161.4h1M33.1 155.6h1M20.4 158.6h1M30 147.1h1M1.5 162.8h1M6.1 161h1M8.1 151.4h1M26 146.9h1M38.7 146.2h1M37.4 125h1M9.6 155.2h1M9.1 144h1M4.1 137.1h1M2 158.2h1M10.2 166.4h1M48.1 122.7h1M28.5 143h1M32.5 153.9h1M19.7 156.3h1M7.2 145.1h1M24.6 132.9h1M23 156.4h1M35.5 152.1h1M32.2 132.1h1M65.1 120h1M41.7 133.5h1M7.1 158h1M33.4 146.7h1M18.1 162.1h1M38.9 149.5h1M30.4 158.8h1M40.9 163.9h1M19.9 144.5h1M3.1 167.2h1M17.2 152h1M19.4 153.1h1M47.7 132.7h1M24.3 150.8h1M26 156.2h1M13.3 145.3h1M16.2 162.7h1M42 136.9h1M26.3 151.1h1M26.5 161.9h1M55.8 129.9h1M21.9 147.7h1M36.1 154.2h1M30.5 144.4h1M25.3 149.5h1M5.4 151.4h1M11.5 152.8h1M63.9 125.7h1M24.7 145.6h1M38.7 130.2h1M5.6 162.3h1M14.2 158.2h1M36.8 125.5h1M16.3 151.5h1M10.5 163h1M25.8 133.5h1M14.9 145.9h1M23.7 135.3h1M43.4 135.5h1M2.2 135.1h1M38.5 142.2h1M24.7 147.3h1M16 151.8h1M7 165.1h1M37.6 161.1h1M25.5 142.4h1M30.7 152h1M49.8 132.8h1M15.9 164.6h1M55 122.2h1M15.1 135.4h1M19.9 163h1M11.7 150.2h1M3.7 158.9h1M18.5 144.3h1M10.2 159h1M34.3 130.5h1M14.1 147.3h1M34.5 144.3h1M25.3 138.5h1M24.6 137.1h1M33.5 166.4h1M50.2 128.9h1M13.9 136.6h1M19.3 145.1h1M37.5 136h1M12.7 152.7h1M7 153.8h1M5 159.7h1M10.1 144.5h1M1.8 159.3h1M43.4 133.2h1M1.8 157.5h1M18.5 159.8h1M10.3 137.6h1M49.5 140.1h1M13.3 150.9h1M30.6 149.8h1M14.4 141.8h1M33.8 143.4h1M20.6 158h1M50.2 149.8h1M49.7 130.6h1M12.9 155.4h1M5.1 161.9h1M26.7 142.7h1M9 166.1h1M24.2 151h1M2.2 133.6h1M21.8 140.9h1M5 151.7h1M33 147.4h1M57.2 131.3h1M15.5 153.4h1M24.7 155.6h1M38.7 129.2h1M29.3 133.2h1M23 162.2h1M6 151.6h1M2.3 161.8h1M37 124.3h1M31.5 141.6h1M28.4 155.2h1M2.3 145.5h1M7.8 149.7h1M21.6 161.8h1M2.8 163.3h1M20.8 148.6h1M58.3 136.3h1M11.8 161.2h1M30.8 133.3h1M15 151.6h1M13.8 144.1h1M10.4 162.4h1M28.4 145.2h1M21.3 143.8h1M60.3 134.9h1M31.2 145.1h1M59.6 126.7h1M29.9 151.8h1M32.3 146.8h1M21.4 160.2h1M60.3 138.8h1M9.3 149.3h1M24.2 153.8h1M21 138.9h1M44.1 140.1h1M11.5 159.9h1M7.8 142.1h1M29.2 156.8h1M36.4 139.5h1M11.2 168.1h1M22.3 162.1h1M6.4 154.9h1M45.5 143.2h1M3.2 140.6h1M19.1 159.5h1M24 156.5h1M11.1 158.6h1M52 129.5h1M18.6 153.8h1M11.6 145.2h1M39.7 147.1h1M8.4 145.9h1M20.4 157.8h1M27.7 152.7h1M32.2 167.5h1M17.8 167.6h1M38.9 142.9h1M32.6 149h1M19.5 141.3h1M6.5 154h1M15.6 160.8h1M28 140.8h1M51.8 124.8h1M37.4 159.6h1M11.5 146.4h1M31.4 148h1M22.1 141.5h1M46.2 128.4h1M18.8 145.4h1M40.7 146.2h1M3.4 162.3h1M7 155.1h1M34.1 131.5h1M2.8 154.4h1M24.8 157h1M30.2 164.8h1M28 154.9h1M48.4 132.6h1M43.2 163.4h1M34.3 137.9h1M45.6 126.8h1M29.2 144.6h1M14.7 151.4h1M29.7 151.5h1M22.7 128.6h1M41.9 131.6h1M13.5 153.5h1M4.7 165h1M30 158.5h1M3.9 146.8h1M25.6 148.1h1M14.9 163h1M39.9 142h1M7.5 163.6h1M29.6 145.1h1M45 130.4h1M15.4 137h1M33.6 140.4h1M37.9 141.7h1M16.3 162h1M17.1 156.4h1M28.7 139.6h1M25.8 134.9h1M18 153.5h1M12.7 139.2h1M29.2 146.5h1M29.5 150.3h1M42.8 142.9h1M54.4 128.5h1M8.1 167.5h1M19.4 152.8h1M15.4 140.2h1M19.5 166.7h1M22.6 152.1h1M18.7 152.7h1M11.3 149.4h1M16.6 166.2h1M39.9 153.6h1M24.5 143.3h1M25.9 137.3h1M8.7 142h1M36.1 135.9h1M26.9 145.5h1M32.6 151h1M13.6 157.7h1M31.3 141h1M10.7 158.4h1M13.5 155.6h1M42.6 137.7h1M20.2 163.4h1M28.4 166.3h1M27.9 155.2h1M25.2 146.2h1M24.8 143h1M67 116.5h1M3.6 147.2h1M27.7 144.5h1M34.4 143.8h1M34.7 154.8h1M33.1 153.6h1M30.1 160.4h1M29.4 163.3h1M38.6 147.3h1M27.4 131.5h1M21.1 160.3h1M10.3 152.3h1M48 162.3h1M59.3 113.4h1M44.5 123.1h1M41.7 149.6h1M12.8 154.7h1M6.7 160.8h1M21 136.7h1M43.4 125.3h1M16.9 150.2h1M5.6 165.4h1M12.6 135.2h1M9.3 162.1h1M22 150.6h1M26.4 144.4h1M31.7 165h1M24.7 153.1h1M26.2 167.3h1M5.2 164.1h1M34.2 135.8h1M12.4 162.5h1M24.8 164h1M47.8 131.5h1M22.3 141h1M8.7 147.6h1M8.8 156.7h1M16.3 147.7h1M20.8 164.8h1M10.4 152.2h1M31.4 150.3h1M14.3 149.5h1M11.2 163.4h1M25.4 138.9h1M16.3 147.4h1M23.9 144.2h1M32.5 142.2h1M17.2 165.5h1M36.1 141.6h1M38.5 135.3h1M43.8 139.4h1M5.6 128.2h1M31.5 142.5h1M39.6 161.8h1M7 154.2h1M21.9 163.4h1M28.1 134.6h1M17.2 153.6h1M24.3 148.1h1M14.3 158.8h1M14 158.1h1M8.1 162.1h1M30.7 151.5h1M47 130h1M6.5 149.6h1M43.2 141.5h1M15.2 159.7h1M40.5 141h1M35.9 164.9h1M14.2 160.5h1M20.6 153.5h1M25.2 157.7h1M23.2 167.6h1M22.3 158.6h1M4.2 154.1h1M47 123.4h1M9.6 149h1M21.2 134.6h1M44.5 122.7h1M47.3 125.4h1M24.2 124.2h1M25.9 140.6h1M1.8 166.2h1M26 150.3h1M19 139.3h1M44 133.8h1M1.1 155.5h1M18.6 154.3h1M39.6 138.5h1M23.8 148.8h1M24.6 156.7h1M12.3 149h1M21.7 167.4h1M7 163.3h1M42.4 137.3h1M37.5 165.5h1M63 116.7h1M31.5 154.6h1M12.1 163.1h1M34.8 127h1M29.5 134.4h1M8.8 147.6h1M19.2 168.2h1M21.4 152.3h1M21.5 154.7h1M17.6 145h1M15.3 164.3h1M8.6 160.1h1M8.6 166.6h1M10.4 141h1M6.8 156.8h1M64.2 122.4h1M43.3 145.1h1M6.4 144.9h1M23.6 145.8h1M31.7 140.6h1M28.7 145.5h1M1.8 145.8h1M30.2 136.1h1M13.2 160.1h1M2.5 157.6h1M27.7 132.1h1M16.4 144.9h1M26.1 157.7h1M37.9 132.4h1M11.3 153.5h1M38.5 145.2h1M34.9 168h1M12.2 131.3h1M44.5 131.6h1M36.4 141.6h1M9.3 144h1M12.9 139h1M12.1 166.9h1M38.1 138.9h1M49.5 132.4h1M30.5 164.2h1M13.8 163.9h1M39.7 145.8h1M28.1 148.8h1M15.4 156.6h1M30.3 143.7h1M1.1 153.7h1M25.9 146.3h1M56.5 125.6h1M15.9 154h1M16.3 139h1M8.7 140.5h1M41.4 142h1M15.7 155.6h1M8.2 145.1h1M43 154.4h1M19.4 167.8h1M46 131.8h1M34.6 144.7h1M39.3 154.2h1M37.3 162.5h1M18.9 167h1M35.1 164.6h1M29.5 147.7h1M24.5 157.2h1M8.8 152h1M34.5 163.9h1M8.5 152.9h1M39.3 132.9h1M22 159h1M40 151.3h1M37.8 139.7h1M2.3 136.4h1M26.1 165.6h1M20.8 147.4h1M12.7 152.4h1M8.9 161.2h1M41.7 143.2h1M16.3 133.1h1M18.5 145.3h1M15.2 159.1h1M20.1 146.1h1M30.5 145h1M17.4 146h1M12.6 154.8h1M19.1 147.1h1M15.8 145.8h1M23.1 155.7h1M9.1 145.6h1M9.2 149h1M13.6 155.6h1M47.1 146.4h1M49.1 129.7h1M16.6 151.6h1M28.8 147.4h1M43.6 146.1h1M31.7 150.1h1M25.6 140h1M4.5 141.3h1M24.1 156.1h1M21 143.3h1M16.3 166.2h1M24 155.2h1M29.6 154.5h1M20.4 154h1M33.3 145.5h1M16 143.7h1M59.1 133.6h1M59.1 131.9h1M31.5 144.7h1M50 131h1M10.9 160.5h1M28.5 130.6h1M9.4 151.4h1M17.1 162.6h1M44.6 149.3h1M38.8 136.8h1M5.7 141.3h1M17.9 163.6h1M33.9 145.1h1M27.4 144.1h1M23.4 164.1h1M29.9 150.7h1M17.5 163.1h1M23.1 144.3h1M3.3 136.2h1M40.1 133.6h1M37.3 140.9h1M9.3 163.4h1M20.7 156.7h1M53.5 131.3h1M50.3 126.6h1M18.8 144.9h1M66.3 114.5h1M10.3 145.5h1M19.2 140.3h1M12.8 141.4h1M10.5 154.7h1M32.7 143.2h1M24.2 152.7h1M10.6 152.6h1M29.5 148.8h1M39 131.5h1M8.7 151.7h1M16.5 158.4h1M17.6 144.7h1M27.5 151.3h1M22.4 166.7h1M31.8 134.8h1M10.4 159.1h1M1.2 157.1h1M28.4 165.7h1M4.1 168.1h1M1.4 160.6h1M12.7 152h1M5.2 165.1h1M41.3 135.8h1M29.7 142.5h1M16.5 153.4h1M19.4 141.2h1M28 168h1M30.7 148h1M36 132.1h1M28.1 143.6h1M6.9 153.1h1M12.3 149.8h1M13.2 163.8h1M39.9 132.4h1M11.9 150.6h1M55.8 125.8h1M27.4 136.8h1M23.8 148.6h1M24.7 148.9h1M25.6 149h1M11.8 145.5h1M54.4 127.2h1M3.3 157h1M30.6 161.4h1M18.1 154h1M4.2 141.5h1M10.4 164.1h1M31.8 142.2h1M14.4 152.7h1M29.8 148.1h1M15.6 137.2h1M41.9 135.7h1M13.7 146.1h1M21.6 161.5h1M23.8 139.4h1M40.3 132.6h1M15.2 166.5h1M81.8 104h1M6.1 144.3h1M39.2 132.4h1M30.5 148.3h1M11.3 157.9h1M51.8 127.1h1M21 146.3h1M12.3 153.7h1M2.3 152h1M3.7 158.8h1M32.2 152.5h1M1.4 147.7h1M37.2 134.5h1M13.3 146.6h1M37.5 149.3h1M9.1 157.2h1M14.3 154.3h1M39.2 136.2h1M19.2 139.9h1M19.9 151h1M35.2 130h1M43.1 134.5h1M62.7 122.2h1M8.9 147.2h1M57.9 129.2h1M2 156.1h1M38.3 139.1h1M1.3 162.5h1M3.6 143.4h1M36.3 153.7h1M33.4 143.3h1M7.7 156.2h1M1.8 155.7h1M34.6 136.5h1M48.5 134.3h1M59.1 124.5h1M19 161.1h1M17.9 137.7h1M32.8 133.3h1M33.3 138.7h1M1.8 149.3h1M40.7 120.3h1M41.6 142.8h1M14.8 160h1M26.2 148.7h1M36.4 120h1M37.2 139.2h1M13.1 161.2h1M8.2 158.7h1M30.1 133.6h1M35.1 134.9h1M53 122.9h1M5.8 151.5h1M19.7 161h1M15 156.9h1M19.1 167.4h1M40.1 157.3h1M31.8 148.8h1M13 159.3h1M32.5 146h1M35.7 151h1M29 142.9h1M7 154.8h1M9.2 149.1h1M16.8 150.1h1M48.2 134.7h1M32.1 157.4h1M18.2 147.5h1M17.8 166.9h1M16.5 153.3h1M29.6 159h1M34.1 134.7h1M13.1 154.3h1M12.8 163.4h1M16.2 162.4h1M9.6 162.1h1M56.7 126h1M31.4 141.5h1M49.2 126.9h1M12.9 147.6h1M24.5 158.5h1M33.1 152.7h1M18 144.4h1M15.7 162.8h1M6.4 157.6h1M26.7 139.2h1M28 135.8h1M8.5 152.8h1M11.5 150.9h1M21.8 143.2h1M27.5 145.9h1M33.9 149.7h1M25.5 157h1M31.6 141.3h1M34.9 136.7h1M45 141.6h1M52.7 122.7h1M18.2 162.3h1M40.5 142.6h1M15.3 150.1h1M15.2 155.2h1M7.5 157.5h1M60.4 128.3h1M29.1 152.4h1M57.8 128h1M30.6 153.4h1M18.4 145.8h1M23.9 139.3h1M50.8 120.6h1M19.7 151.4h1M58.7 117.7h1M28.5 133.9h1M50.1 129.7h1M24.8 160h1M15.3 150.3h1M10.7 153.3h1M63.8 122.6h1M25.3 163.1h1M12.5 150.6h1M35.9 136.5h1M4.5 140.7h1M31.6 160.9h1M19.5 149.8h1M6.2 147.9h1M6.6 154.3h1M47.7 150.5h1M28.9 162.7h1M47.6 125.3h1M20.6 152.4h1M30.6 141.2h1M12.2 145.9h1M38.5 153.8h1M13.8 158.9h1M12.8 156.4h1M25.6 133.4h1M2.8 136.9h1M10.9 157h1M22.4 154.3h1M26.1 151.4h1M4.6 161.2h1M26.4 147.7h1M8.3 152.5h1M42.3 148.4h1M9.6 152.5h1M20.8 157.2h1M32.4 136.7h1M15.9 145.7h1M1.9 158.3h1M29.6 141.9h1M6.2 151.6h1M21.1 144.9h1M35 148.8h1M9.6 134.7h1M21.6 155.7h1M40.5 142.5h1M23.3 154.5h1M14.6 141h1M20.6 142h1M6.6 149.5h1M39.3 136.5h1M10.8 157.9h1M25.8 151.6h1M58.9 139.6h1M43 122.9h1M12 165.5h1M54 128.4h1M12.2 160.1h1M13.2 150.9h1M31 135.3h1M39.9 136.9h1M6.4 164h1M52.8 130h1M30.1 148h1M35.3 127.4h1M16.9 158.3h1M35.4 137.9h1M5.5 143.6h1M53.9 125.2h1M22.5 132.6h1M20.1 144.5h1M52.6 128.2h1M24.4 140.2h1M61.7 117.4h1M24.1 146.9h1M18.2 165.5h1M3.4 150.3h1M15.2 163.4h1M3.5 165.1h1M24.9 139.4h1M44.6 137.4h1M10.7 157.1h1M21.9 157.6h1M17.1 129.8h1M38 161.8h1M36.7 133.8h1M33.2 146.3h1M23.1 154.8h1M4.7 139.2h1M16.9 161.9h1M36.1 153.8h1M5.9 157.6h1M18.6 168.3h1M19.7 159.8h1M33.3 132.9h1M45.1 139.2h1M9.5 148.4h1M37.5 138.4h1M27.4 149.5h1M15.6 141.7h1M16.9 132.2h1M37.3 126.2h1M15 145.2h1M33.5 158h1M15.2 165.6h1M25.7 164.3h1M34.4 149.7h1M13.8 151.6h1M17 144.9h1M59.1 125.5h1M10.5 159.1h1M40.9 143.5h1M8.2 140.1h1M10.9 154.5h1M14.1 166.1h1M47.1 153.7h1M36.5 154.2h1M45.5 140.9h1M34.7 152.7h1M22.2 154h1M29.5 143.8h1M29.2 131.9h1M36.9 135.9h1M44.7 144h1M35 165.5h1M16.6 141.3h1M28.4 149h1M6.1 163.6h1M50.4 136.3h1M7.5 153.7h1M35.3 145.2h1M15.2 164.6h1M31.4 126h1M26.2 137.9h1M53.3 129.6h1M22.5 158h1M48.8 138h1M21.1 160.2h1M32.4 157h1M13.8 153.8h1M16.5 161.5h1M20.5 142.6h1M32.4 132.1h1M29.5 155.7h1M5 142.8h1M42 127.5h1M16.3 163.1h1M9 151.6h1M8 167.5h1M9.5 165.1h1M42.1 134.4h1M28.8 157.6h1M24.5 162.5h1M6.5 133.3h1M49.6 125.4h1M23.2 162.4h1M5.8 153.1h1M27.4 145.1h1M17 135.4h1M24.7 153.3h1M14.7 161.3h1M19.6 151.1h1M14.9 160.8h1M22.9 166.1h1M38.9 138.1h1M47.3 124.2h1M17.1 158.4h1M46.3 143.5h1M30.4 134.5h1M41.7 136.5h1M8.5 163.3h1M20.2 146.9h1M34.5 151h1M34.2 147.3h1M55.1 119.1h1M9.8 160.7h1M10.2 152h1M37.4 146.3h1M9.7 154.3h1M4.7 152.3h1M21.5 159.2h1M7.1 164.7h1M42.5 163.9h1M9.7 143.6h1M32 143.9h1M60.6 116.9h1M8.1 158h1M11.5 161h1M31.2 164.2h1M34.5 139.3h1M18.4 145.7h1M17.7 164.5h1M9.8 145.2h1M49.7 136.1h1M20.7 168h1M21.2 165.7h1M16.8 149.8h1M27.9 140.7h1M32.8 143.9h1M55 130.3h1M7.3 130.3h1M53.6 122.3h1M28.7 148.7h1M6.1 157.3h1M6.4 164.8h1M14.5 152.9h1M24.6 154h1M25.1 135.5h1M24.3 125.9h1M24.2 160.6h1M26.4 151.8h1M33.4 134.4h1M19.2 161.4h1M25.4 155.8h1M32.9 130.9h1M33.7 145.7h1M12.9 147.7h1M29.8 151.8h1M13.8 146.5h1M32.7 146.9h1M22.3 151.6h1M31.2 155.6h1M18.6 163.7h1M31.5 142.7h1M25.4 163.9h1M15.3 155.5h1M16 151.7h1M20.2 156.3h1M30 149.5h1M21.1 157.5h1M31.8 142.1h1M21.6 157.7h1M26.2 143.3h1M31.1 163.1h1M31.4 147.4h1M5.5 155.7h1M35.8 143.6h1M20.6 156h1M19.8 151.8h1M9.7 152.3h1M3.7 157.6h1M2.6 146.3h1M6.4 152.9h1M36.6 142.7h1M5.6 152.7h1M17 153.8h1M34.6 132.2h1M28.4 149h1M19.8 151.7h1M37 153.6h1M39.2 129.9h1M31.4 140.2h1M35.3 141.8h1M29.2 148.3h1M27.3 131.6h1M41.7 137.8h1M5 153.4h1M15.6 158.8h1M31.2 141h1M46.2 139.9h1M38.8 144.9h1M37.6 139.8h1M42 130.2h1M8.7 151.8h1M20.9 140h1M31 152.8h1M25.9 145.5h1M19.1 154.3h1M18.1 153.8h1M2.2 153.3h1M20.9 151.3h1M15.5 162h1M40.6 139.4h1M25.4 153.5h1M26.3 133.5h1M18.8 167.7h1M24.3 147.4h1M10.8 157.5h1M27.1 141.2h1M45.7 134h1M62.2 117.5h1M41.6 148h1M15.7 158.7h1M25.9 154.3h1M18.8 160.5h1M27.1 159.7h1M10.2 150.7h1M30.5 139h1M14.5 159.8h1M16.3 147.1h1M46.9 124.7h1M50.3 118h1M12.9 167.7h1M23.5 167.2h1M14.4 144.8h1M18.1 154.8h1M17.6 155.1h1M35.1 153.5h1M20.3 154.4h1M20.3 152.5h1M52.6 143.4h1M43.3 148.4h1M49.5 128.5h1M56.2 135.9h1M52.2 121.7h1M32.1 144.7h1M14.4 156.9h1M49 146.5h1M16.5 151.6h1M40.7 141.8h1M16.1 155.6h1M29.2 150.3h1M14.4 151.7h1M43.9 148.4h1M21 155.2h1M22.3 146.3h1M22.1 166.7h1M35.1 146.7h1M3 156.8h1M40.9 152.6h1M21 144.2h1M6.6 146.9h1M28.5 166.2h1M12.2 143h1M16.4 141.4h1M32.8 158.7h1M61 124.3h1M22.8 136.7h1M10.4 155.9h1M22.6 150.7h1M21 152.8h1M41.9 147h1M12.5 152.8h1M38.3 138.5h1M5.3 151.1h1M36.8 149.5h1M11.5 152.4h1M14.4 133.8h1M46.5 136.3h1M12.9 134.4h1M26.7 146.6h1M11.5 143.3h1M66.8 120.2h1M19.1 153.5h1M40.5 148.7h1M32 160.9h1M25.1 145.2h1M12.2 147.9h1M22.8 159.7h1M9.1 154.6h1M5.2 164.1h1M8.9 153.4h1M16.3 144h1M3.7 147.5h1M40.9 149.7h1M5.5 167.8h1M21.3 159.7h1M14 162.2h1M72 111.3h1M37.6 132.9h1M48.6 152.5h1M7.9 157.8h1M31.7 142.2h1M41.8 145.6h1M7.2 161.5h1M34.8 145h1M15.2 157h1M11.7 152.9h1M22.9 139h1M21.1 144.3h1M29 149.8h1M23.5 143.8h1M2.4 157.4h1M26 152.4h1M5.2 164.6h1M23.2 153.2h1M13.6 150.9h1M18.4 159.5h1M25.8 141.8h1M37.9 152.3h1M44.6 139.4h1M34.2 140h1M28.3 143.5h1M12.2 148.9h1M25.1 152.8h1M40.6 135.3h1M5.7 158.5h1M30.4 146.9h1M3.7 160.1h1M29.1 147.4h1M32.3 133.2h1M13.9 166.5h1M7.3 163.2h1M29.7 134.3h1M25 141.5h1M3.7 162.1h1M27.8 147.2h1M45.1 134.2h1M35.9 146.3h1M18.1 153.3h1M47.4 139.5h1M37.5 135.1h1M30 133.5h1M20.9 150.6h1M4.3 137.1h1M33.1 142.1h1M31.3 155.8h1M25.5 153.5h1M3 153.3h1M22.9 157.9h1M34.1 147.2h1M54.4 128.8h1M1.3 154.4h1M26.1 157.2h1M48.2 133.8h1M49.1 160h1M20.1 154.9h1M26.3 147.5h1M26.4 160.2h1M43.8 132.8h1M65.7 117.8h1M38.1 132.7h1M10.5 156.9h1M51.7 132.3h1M57.5 124h1M18.4 164.8h1M26.9 145.4h1M21.8 165h1M12.1 130.7h1M27.4 146.6h1M25.5 155.9h1M34 137h1M34.9 152.8h1M20.5 135.8h1M12.8 152.6h1M20.4 162.3h1M43.2 146.9h1M22.4 162.5h1M50.1 129.1h1M20 148.5h1M20.3 148.3h1M41.8 138.9h1M14.1 150.4h1M29 159.9h1M48.9 127.6h1M40.5 156.7h1M15.4 143.2h1M39.5 139.7h1M14.9 152.4h1M42.3 132.5h1M36.5 156.1h1M35.3 158.7h1M17.9 161.9h1M37.3 137.7h1M21.9 166h1M16.4 154.8h1M23.8 143.3h1M35.8 135.6h1M15.7 162.9h1M9.8 155.5h1M10.6 132.1h1M53 131.5h1M60.1 127.6h1M3.9 153.3h1M40.2 148.1h1M53.5 128.9h1M22.8 137.5h1M22.1 155.5h1M55.7 124.8h1M20.8 149.4h1M27.2 144.2h1M2.1 146.1h1M9.3 157.3h1M22.8 153.5h1M12.5 151.1h1M41.9 132.4h1M50.2 113.1h1M34.4 149.6h1M44.2 125.9h1M16.3 163.6h1M15.6 164.3h1M28.5 134.9h1M57.6 119h1M13.9 160.1h1M47.4 136.6h1M33.4 149.1h1M23.9 137.7h1M35.8 148.7h1M35.1 137.3h1M36 165.9h1M13.3 153.5h1M12.8 140.4h1M28 165.2h1M20.1 150.5h1M33.3 146.4h1M23.5 144h1M13.4 149h1M4.3 150.3h1M24.9 151.1h1M24.7 157.9h1M38.4 142.7h1M17.8 148.2h1M10.6 138.9h1M19.9 156.3h1M21.9 161.6h1M31.1 160h1M28.3 142.6h1M5.7 159.9h1M20.8 166.9h1M5.3 158h1M8.1 160.1h1M8.1 154.1h1M17.7 153.7h1M31.8 137.1h1M17.9 155.4h1M18.8 157.1h1M16.5 155.9h1M19.5 139h1M8.1 159.2h1M36.8 163.5h1M28.5 116.2h1M20.7 136.8h1M27 143.5h1M24.5 141.8h1M10.8 146.8h1M23.1 135h1M20.3 146.5h1M6.6 155.4h1M58.9 136.6h1M6.6 155.9h1M29.9 151h1M24.1 152.7h1M29.5 157h1M20.9 148.9h1M21.4 153.9h1M27.4 131.3h1M26.4 150.4h1M17.8 128.8h1M31 129.6h1M25.9 139.3h1M16.7 140.6h1M12.3 134.1h1M42.4 142.4h1M18.6 150.8h1M51.2 125.4h1M15.4 141.9h1M30.1 138.4h1M31.8 138.4h1M6.1 153.9h1M31.5 146.8h1M48.6 123.3h1M18 150.5h1M61.6 135.8h1M47 141.9h1M23.9 143.2h1M25.3 146.6h1M1.6 138.9h1M27.4 137.9h1M24.5 163.1h1M44.4 125.2h1M2.5 157.1h1M12.5 162.4h1M29 150h1M23.8 145h1M41.7 123.2h1M34.5 154.2h1M33 130.5h1M22.5 148.9h1M51.1 124.3h1M11.4 165.1h1M24.7 164h1M16.1 149.4h1M42.1 141.7h1M35 145.7h1M18.7 151h1M30.3 142.8h1M41 154.9h1M23.3 150.1h1M9.9 150h1M27.7 167.4h1M54.8 126.2h1M26.4 151.8h1M42.5 164.8h1M31.7 145.6h1M10.7 145h1M13.2 163.2h1M24.7 145.5h1M8.9 149.9h1M6.1 145.5h1M30.1 145.6h1M19.4 165.8h1M1.7 155.7h1M31.7 156.1h1M2.5 153.4h1M9.1 150.2h1M22.4 167.8h1M29 157.5h1M8.3 144.9h1M11.1 161.7h1M7.8 162.4h1M23 153.9h1M13.9 153.7h1M34.5 143.1h1M49.6 123.4h1M27.2 146.2h1M26.3 161.3h1M47.6 136.9h1M21.8 156.5h1M8.6 163.6h1M32.5 134.5h1M33.7 138.4h1M54.9 122h1M24.6 138.2h1M34.8 148.1h1M29.3 134.5h1M32.9 139.6h1M29.1 148.9h1M38.8 160.4h1M56.1 129.7h1M36.5 143h1M28.1 146.8h1M35.4 124.5h1M27 154.1h1M53.9 135.2h1M28.1 160h1M25.3 159.3h1M3.8 158.5h1M44 137.8h1M10.5 152.4h1M29.2 162.3h1M11.3 147.3h1M37.1 138.7h1M37.9 131.3h1M18.8 138.6h1M25.4 138.1h1M65.2 119.1h1M31.5 125.3h1M27.3 151.5h1M30.4 143.5h1M31.1 155h1M12.3 144.5h1M6.6 166.7h1M51.3 134h1M36.9 141.3h1M47.2 124.3h1M11 153.4h1M18.9 148.4h1M45.8 142h1M38.1 154.6h1M15.9 167.7h1M15.5 155.8h1M24.1 152.1h1M59.5 121.8h1M26.6 139.9h1M29.8 142.7h1M9.2 146.1h1M33.4 132.8h1M8.7 166.3h1M27.2 132h1M60.2 125.1h1M11.9 147.9h1M43.9 147.7h1M23.7 130.1h1M4.4 167.3h1M40.2 139h1M19.6 159.3h1M2.9 156.8h1M18.2 148.6h1M16 150.2h1M38.8 135.4h1M4.6 160.7h1M29.3 144.2h1M33.6 155.6h1M10.2 161.6h1M17.8 134.4h1M1.1 162.8h1M36.4 154.5h1M53.5 130.7h1M3.6 166.9h1M34.7 165.3h1M11.2 166.1h1M37.1 140.6h1M6.5 156.9h1M24.2 158.7h1M6.6 165.1h1M14.7 142.7h1M28.4 151.5h1M33.9 149.7h1M3.6 165.1h1M38.8 138.5h1M40.3 135.8h1M2.8 159.4h1M3.8 160.4h1M67.3 124.9h1M7.2 141.8h1M15.7 148.2h1M37.8 156.2h1M11.8 164.6h1M53.7 127.4h1M11.3 156.7h1M49.2 159.9h1M20.9 167.4h1M25.8 143.6h1M7.5 159.8h1M1.6 165.2h1M41.4 135.2h1M30.6 142.3h1M30.5 161.8h1M5 155.9h1M12 156.8h1M29.5 133.8h1M3.7 165.4h1M13.9 127.7h1M25.9 148.3h1M19.9 153.8h1M57.2 123.7h1M39.3 146.5h1M62.2 115.9h1M13.3 155.7h1M63 118.8h1M42.9 152h1M50 129.6h1M25 138.5h1M7.2 152.1h1M16.3 160.9h1M38.7 149.7h1M58.5 124.9h1M33.5 147.5h1M4.9 157.4h1M13.9 147.4h1M4.7 161.8h1M27 143.6h1M35.7 131.1h1M29.9 158.2h1M6.3 148h1M40.8 147.5h1M39 142.4h1M29.3 165.2h1M26 153.2h1M37.9 158.4h1M36.1 132.5h1M17.1 141.3h1M19.4 150.6h1M25.5 155.1h1M6.3 139.3h1M30.7 152.9h1M29.1 159.7h1M57.7 120.3h1M24.8 161h1M7.3 154.8h1M6.6 161.8h1M4 164.3h1M52.8 135.4h1M12.8 158.8h1M15.1 156.7h1M53.6 124.3h1M28.5 142.8h1M27.2 165.7h1M3.9 166.1h1M4.9 160.5h1M26.7 153.5h1M8.8 154.5h1M57.4 132.4h1M26.2 160.6h1M27.5 146.5h1M31.1 145.3h1M20.2 160.4h1M43 135.8h1M30.8 133.4h1M45.6 135.5h1M1.5 156.8h1M33.8 150.3h1M15.7 140.8h1M3.7 133.7h1M4.1 145.6h1M22.3 161.2h1M29.5 132.1h1M25.9 156.5h1M29.6 157.5h1M41.8 133.8h1M37 158.2h1M36.2 147.5h1M42.7 138.1h1M15.2 158.3h1M12 167.4h1M38.6 135.7h1M14 163.5h1M22.2 157.9h1M12.6 140.9h1M16.9 154.4h1M39.3 144.6h1M29.4 144.5h1M18.9 148.4h1M9.8 146.2h1M32.8 146.4h1M55 123.8h1M47.5 129.4h1M30.8 152.3h1M51.4 132.9h1M16.7 166h1M5.9 133.5h1M14.9 155h1M26.8 139.2h1M37.4 137.7h1M20.6 166h1M45.9 146.5h1M29.6 156.3h1M19.9 133.8h1M7.7 160.2h1M33.3 137.8h1M34.9 152.4h1M11.8 129.3h1M16.7 151.6h1M5.8 138.1h1M35.1 156.3h1M20 150h1M33.3 139.4h1M42.4 132.4h1M19.8 151.3h1M25 148.9h1M24.5 138.5h1M33.1 138.9h1M41.5 122.8h1M32.1 155h1M21.8 140.6h1M10.1 140.9h1M28.1 159.4h1M57.2 130.7h1M20.8 139.1h1M11.9 142.1h1M41.2 140.8h1M1 144.7h1M44.6 152.1h1M45.1 124.6h1M19.1 163.3h1M3.8 159.9h1M2.7 162.8h1M19.7 167.5h1M28 164.3h1M8.4 151h1M25 124.4h1M25.2 134.6h1M4.2 145.5h1M20.5 153.4h1M38.4 157.9h1M5.9 150.4h1M57.5 116.7h1M29.6 168.2h1M22.9 148.3h1M24.7 139h1M22.8 155.6h1M32.4 139h1M27.8 156.6h1M38.8 143.1h1M2 148.6h1M16.5 163.3h1M25.4 152.1h1M28.6 144.8h1M34.5 162.9h1M35.1 140.5h1M11.7 156.7h1M5.5 149.8h1M13.3 153.8h1M30.6 139.9h1M18.8 165.7h1M23.3 148.9h1M36.8 165h1M48.2 130.6h1M24.7 159.7h1M40.4 153.2h1M2.6 140.7h1M17.2 148.6h1M29.3 153.1h1M21.6 149h1M4.1 145.4h1M41.6 125.7h1M57.2 129.1h1M40.1 133.3h1M22.2 157h1M16 161.9h1M8.8 159.7h1M7.2 138.8h1M33.7 131.7h1M33.9 133.5h1M14.4 141.7h1M6.8 166.1h1M35.1 141.9h1M50.7 138.3h1M26.6 149.4h1M13.5 133.9h1M21.2 139.9h1M17.8 161.9h1M11.1 145.8h1M35.2 159.4h1M8.8 144.8h1M31.6 130.9h1M24.5 159.3h1M48.9 145.1h1M47.1 139h1M14.5 164.7h1M43.2 139.1h1M19.9 150.2h1M20.9 153.2h1M30 135.7h1M14.2 161.8h1M42.4 155.2h1M36.4 134.4h1M16.3 140.3h1M44.4 123.2h1M21 150.7h1M4.2 161.2h1M25.2 166.9h1M18.4 155h1M38.8 136.9h1M38.5 150.1h1M40.6 142.3h1M7 160h1M30.1 148.2h1M39.3 132.7h1M9.7 161.6h1M48.4 134.8h1M21.4 135.5h1M8.1 127.7h1M24.7 158h1M14.5 144.8h1M27.8 167h1M27.5 162.1h1M24.9 155.5h1M2.9 155.5h1M19.3 160.2h1M36.6 139.1h1M10 152.2h1M31.9 153.3h1M43.3 144.2h1M16.5 162.9h1M47.3 118.4h1M12.2 162.9h1M28.2 167.8h1M11.9 167.1h1M30.7 141.1h1M32.3 151.7h1M2.4 165.8h1M14.3 142.6h1M38.6 149.3h1M39.6 136.2h1M2.9 135.1h1M24 161.6h1M50.2 136.1h1M33.4 155.4h1M44.3 143.8h1M24.7 154.3h1M62.4 127.1h1M30.6 141.3h1M27.6 134.7h1M38.2 126.2h1M28.9 139.6h1M29.3 159.6h1M24.3 162.5h1M7.3 166.6h1M38 143.6h1M15 167h1M41.2 140.7h1M45.8 125.5h1M48.9 139.8h1M40.2 135h1M18.2 140.1h1M30.4 152.7h1M30.4 152.6h1M16.8 151.9h1M53.2 154.5h1M35.3 148.5h1M16.7 140.8h1M25.5 150.7h1M9.9 138.4h1M15.8 150.3h1M3.8 157.2h1M12.9 161.6h1M28.8 132.4h1M45.6 130.9h1M6.8 166.8h1M26 139.8h1M20.6 157.9h1M26.8 160.9h1M26.9 155.1h1M4.9 146.7h1M14.2 149.3h1M12.8 152h1M15.1 157.3h1M8 145.2h1M37.4 140.4h1M19.7 152.9h1M8.5 166.3h1M1.1 157h1M39.3 132.8h1M56.6 126.7h1M24.6 149.1h1M9.9 160.2h1M15.2 144.5h1M5.6 147.9h1M19.1 164.7h1M14.7 150.7h1M24.8 148.4h1M25.6 158.9h1M15.6 150.8h1M33 143.4h1M8.8 166.1h1M20.6 153.7h1M48 123h1M24.3 151.9h1M12.8 134.2h1M23.3 154.8h1M18.4 164.1h1M23 162.5h1M18.6 154.5h1M26.2 150.2h1M13.3 140.8h1M28.9 136.3h1M39.8 135.7h1M10.4 164.3h1M69.4 111.4h1M8.8 145.3h1M14.8 160.4h1M43.7 136.6h1M46.2 140.4h1M15 145.8h1M27.6 152.3h1M32.4 147h1M34.8 130.6h1M13.5 162.3h1M45.3 128.9h1M14.9 144.3h1M33.5 137h1M35.6 148.5h1M2.7 161.6h1M27.3 150h1M18.2 136.9h1M11.2 147.6h1M28.2 152.1h1M52.3 138h1M37.4 146.4h1M26.6 141.3h1M39.7 149.2h1M11 154.6h1M38 140.5h1M18.3 143.6h1M17.9 146.9h1M17 158.2h1M15 144.4h1M34.6 166.1h1M25.7 136.8h1M20 141.4h1M29.9 155.7h1M12.8 154.9h1M20 151.5h1M33.4 141.9h1M11.5 157.1h1M31.1 146.7h1M9.4 130.4h1M42.5 149.1h1M1.5 154.7h1M51.5 131h1M48.1 133.2h1M41 133.2h1M25.5 167h1M44.4 127.8h1M5.3 149.2h1M21.1 150.1h1M33.2 144.3h1M24 157.8h1M26 142.9h1M22.5 158.3h1M38.4 128.7h1M7.3 164.6h1M15.7 144.7h1M27.9 144.9h1M6.4 168.3h1M22.5 140.5h1M38.9 149.6h1M11.1 167.5h1M70.2 112.3h1M5.8 146.3h1M45.5 155h1M52.5 140.1h1M14.5 145h1M4.2 166.8h1M10 139.5h1M28.4 146.5h1M22.2 151.4h1M16.1 158.9h1M41.8 149.4h1M21.4 149.4h1M33.7 162.5h1M38.8 131.1h1M19.6 144.5h1M21.4 147h1M31.9 149.5h1M11.9 156.1h1M32.2 143.1h1M51.8 130.6h1M58.5 130.1h1M6.2 143.7h1M3.4 141.4h1M38.8 146.3h1M9.9 147.5h1M13.5 150.3h1M16.4 160.4h1M35.8 145.9h1M26.2 148.6h1M20.1 161.7h1M21.7 156.2h1M9.1 160.4h1M6.6 158.8h1M22.3 139.4h1M9 152h1M50.6 139.8h1M39 158.3h1M18 161.7h1M35.9 144.1h1M33.9 143.5h1M16 158.2h1M20 138.9h1M6.8 164.9h1M5.4 155.3h1M2.4 154.8h1M35.4 148.5h1M12.5 151.1h1M5.1 152.4h1M26.3 152.8h1M34.3 161.3h1M15.4 165.6h1M29.8 147.5h1M36.5 146.3h1M28.2 150.4h1M43 146h1M39.3 150.3h1M40.6 146.8h1M37.3 139h1M22.2 164.5h1M62.4 125.1h1M4.2 155.9h1M7.2 150.9h1M20.3 158.1h1M46.4 132h1M10.4 162.5h1M31.2 138.9h1M33.7 146.2h1M18.6 156.9h1M28.9 128.4h1M19.6 140.7h1M46.7 137.6h1M14.3 159.4h1M19.4 165.9h1M23.6 157.3h1M32.6 133.5h1M36.9 128.2h1M31.3 148h1M27.6 138.2h1M45.7 138.6h1M22.7 149.4h1M4.5 138h1M19.1 154.1h1M8.6 146.9h1M34.8 135.1h1M27.6 146.3h1M7.7 150.7h1M47.2 151.3h1M29.1 138.6h1M27.3 154.9h1M11.9 149.6h1M37.5 131.6h1M12 165.3h1M18.2 144.1h1M8.1 145.7h1M27.2 146.2h1M49.2 132.6h1M47.4 139.3h1M28.5 149.3h1M10.8 157.3h1M48.9 121.8h1M37.7 141.3h1M20.4 164.2h1M6.9 154.8h1M17.3 153.7h1M54.3 138.2h1M60.5 128.4h1M1.6 140.8h1M35.8 158.8h1M35.8 159.3h1M43.6 128.5h1M16.2 146.5h1M35.9 139.5h1M2.3 151.5h1M23.9 156.4h1M69.8 119.8h1M16.3 163.1h1M57.2 130.2h1M4.9 161h1M22.6 165.9h1M32.5 150.3h1M40.2 142.2h1M28.8 141h1M34.1 149.7h1M35.5 136.4h1M21.9 147.5h1M34.5 138h1M13.8 149.2h1M39.4 157.7h1M3.2 131h1M23.8 145.8h1M8.2 163.9h1M11.8 156h1M27.2 143h1M26.8 140.5h1M9.1 134.7h1M16.3 151.2h1M36.2 142.2h1M38 139.8h1M20.6 146.6h1M54.2 127.7h1M56.5 129.2h1M46 128.3h1M10.9 167h1M16.5 148.9h1M44.8 138.2h1M43.6 137.4h1M36.2 156.9h1M11.2 156.5h1M5.2 166.2h1M7.4 152.9h1M21.2 161.9h1M15.6 167.5h1M42.4 135.5h1M23.9 147.1h1M4.2 159.8h1M22.4 149.4h1M30.1 144.9h1M40.2 155.8h1M18.8 152.1h1M35.8 140.8h1M56.7 119.4h1M20.8 159.5h1M5.2 155.3h1M29.2 136.1h1M13.7 157.4h1M29.6 143.1h1M45.4 146.9h1M12.2 156.1h1M39.2 157h1M29.9 152.2h1M15.9 151.3h1M53.7 116.3h1M29 159.4h1M33.7 140.7h1M27.8 154.3h1M24.3 142h1M41.8 159.6h1M24.9 155.4h1M28.5 158.4h1M19.8 166.5h1M2.9 157.2h1M4.2 143.7h1M12.7 146.2h1M35.1 155.4h1M26.3 150.8h1M35.2 151.2h1M11.6 164.5h1M19.9 151.9h1M49.2 146.8h1M9.7 154.5h1M32.7 132.4h1M40 144.2h1M43.2 119.5h1M56.9 126.4h1M44.5 133.6h1M40.7 151.5h1M45.3 137.8h1M17.9 167.7h1M5.8 144.7h1M19 159.7h1M32 154.6h1M32.6 126.2h1M39.7 131.7h1M58.5 133.3h1M20.6 155.8h1M37.3 133.7h1M23.6 167.8h1M16.2 154.5h1M26.2 151.2h1M18.4 162.8h1M53.2 128.6h1M13.6 152.4h1M48.4 121.3h1M11 165.3h1M19 140h1M16.1 165.6h1M8.2 153.2h1M19.8 156.1h1M10 153.4h1M19.3 163.5h1M59.5 137.2h1M56.4 129.3h1M17.8 142.9h1M11.5 149h1M4.9 151.3h1M16.3 157.6h1M5.5 161.4h1M23.3 133.9h1M10.5 139.7h1M39.6 126h1M54.3 126.1h1M39.9 141.4h1M25.7 133.5h1M30.6 153.8h1M48.6 144.8h1M35.4 154.4h1M13 157h1M55.3 140.6h1M17.8 160.5h1M26.8 139.6h1M5.2 144.1h1M61.2 122.8h1M18.1 143.1h1M33.1 139.9h1M14.1 157.2h1M24.4 154.5h1M25.9 154.9h1M12.8 152.1h1M10.4 157.3h1M18.3 143.3h1M17.8 137.4h1M22.6 135.9h1M32 135.7h1M44.8 135.8h1M56 125.3h1M20.5 165h1M18.4 155.2h1M29.1 118.2h1M15.2 135.5h1M33.9 113h1M34.4 115.8h1M48.7 145.2h1M9 152.6h1M15.1 146.3h1M27.9 146.2h1M16.5 134.4h1M7.3 133.5h1M53.1 127.3h1M13.7 150.2h1M17.4 140.8h1M24 130.2h1M3.8 154h1M15 153.3h1M22.6 149.8h1M25.6 126.1h1M7 126.7h1M27.9 146.7h1M23.6 152.4h1M25.7 126.6h1M28 161.1h1M18.7 158.7h1M31.9 157.9h1M27.8 135.1h1M10.6 145.5h1M17.3 162.1h1M9.2 162h1M27.8 149.8h1M15.4 139.8h1M5.9 158.2h1M9.5 151.8h1M19.8 153.8h1M7.9 156.8h1M28.3 157.7h1M36.3 141.3h1M21.2 158.4h1M17.7 152.7h1M9.5 151.6h1M2.3 156.9h1M20.9 160.9h1M30.4 148h1M16 139.1h1M18.9 130.7h1M23 152.2h1M7.7 164.1h1M19.2 141.4h1M17 127.7h1M32 157.9h1M12.9 136.1h1M23.4 145.1h1M4 143.2h1M12.5 155.3h1M9.6 156.8h1M10.7 159.5h1M20.2 149.5h1M29.4 131.3h1M22 165.4h1M24.5 144.9h1M1.5 145.2h1M40.4 126.9h1M11.4 166.4h1M40 155h1M11.9 140.2h1M12.5 133.1h1M27.7 140.9h1M13 145h1M1.8 157.9h1M19.9 163.5h1M5.8 165.2h1M26.9 151.9h1M40.6 147.3h1M18.7 148.8h1M38.5 167.2h1M11.3 156.4h1M6.9 145.5h1M11.5 144h1M17.6 168.2h1M19.4 141.5h1M30.7 132.4h1M13.2 126.7h1M39.5 161.5h1M19.4 156h1M12.7 153.9h1M28.9 140.1h1M31.1 134h1M10.2 141.3h1M26 138.7h1M31.9 135.3h1M17.6 154.4h1M9 142.1h1M14.2 136h1M36.4 162.8h1M26.1 137h1M19.7 144.6h1M36.9 125.3h1M26.7 152.9h1M29.7 161.8h1M26.1 164.4h1M16.5 122.7h1M22.6 135h1M22.7 142.6h1M21.1 144.5h1M3.4 161.2h1M1.9 144.3h1M10.8 166.9h1M21.2 116.5h1M26.6 123h1M19.8 140h1M28.3 139.1h1M31.7 139.4h1M14.2 157.4h1M31.1 156.2h1M13.3 129.4h1M26 138.3h1M18.4 135.7h1M23.9 151.1h1M3.3 166.9h1M17.1 159.8h1M33.5 134.2h1M18.3 168.1h1M11.7 141.9h1M17.9 142.2h1M28.3 129.4h1M22.3 145.3h1M51.5 165.8h1M11.2 161.8h1M11.3 148.9h1M9.7 139.2h1M16.3 156.4h1M9.8 167.3h1M31.9 142.1h1M6.7 164.1h1M19.7 166.5h1M10.1 158.7h1M18.8 142.9h1M14.3 144.8h1M10.8 146.5h1M37.8 156.3h1M31.6 124.2h1M44.6 148.9h1M24.9 133.4h1M11.7 147.5h1M15.4 141.6h1M38.4 135.5h1M4 140.4h1M19.3 122.2h1M17.8 159.3h1M29.9 160.3h1M7.2 166h1M21.5 145.2h1M13.9 151.4h1M36.2 131.2h1M36.3 143.6h1M30 144.6h1M20.4 153.5h1M9.1 147.2h1M14.5 160.2h1M14.5 156h1M42.5 161.5h1M1.9 158.6h1M20.8 160.6h1M2.8 139.7h1M21.2 131.2h1M16.5 143.8h1M16.8 143h1M7.5 129.8h1M11.3 146.2h1M19.9 156.5h1M23.5 142.4h1M19.3 153.6h1M10.1 162.5h1M16.4 160.9h1M6.4 145.2h1M24.4 162.2h1M29.8 125.6h1M20.6 126.9h1M29.3 157.4h1M37.2 126h1M24.7 137.7h1M15 140.9h1M33.6 138.4h1M15.9 148.7h1M21 137.3h1M35.1 139.2h1M28.1 136.8h1M14.2 132.1h1M8 160.5h1M23 128.8h1M14.1 124.8h1M13.7 148.2h1M2 137.5h1M1.5 159.8h1M15.7 144.4h1M17.5 131.5h1M27.6 147.1h1M28.6 146.1h1M27.6 141.1h1M16.8 154.3h1M24 138.5h1M25.3 148.2h1M9.3 167.7h1M16.6 144h1M4.8 130.3h1M38 146.6h1M21.3 144.9h1M30.8 143.9h1M29.2 147.2h1M6.9 150h1M15.1 150h1M39.1 151.5h1M14.5 154.8h1M19 139.7h1M24.8 157.6h1M19.3 146.4h1M13.1 148.7h1M16.2 145.6h1M19.4 122.8h1M29.4 138.4h1M14.1 140.4h1M27.6 136.8h1M36 124.8h1M5.6 162.4h1M15.2 150.5h1M33.9 139.9h1M24.3 128.5h1M23.2 157.2h1M18.1 152.3h1M20.1 165.5h1M15.4 133.6h1M14.7 138.5h1M13.1 147.1h1M18.8 140.9h1M21.5 164.1h1M26.5 157.1h1M44.9 148.2h1M8.5 154.8h1M40.1 131.6h1M29.3 134.8h1M16.4 162.7h1M24.5 133.4h1M35.4 119.7h1M13 165.7h1M32.7 135.4h1M5.9 142.5h1M44.7 165.8h1M25 130.5h1M28.2 150.4h1M7 153h1M28.6 133.2h1M10.6 137.4h1M22.1 157h1M29.7 143.5h1M14.5 148.3h1M32.6 162.6h1M7.2 155.9h1M28.5 158.5h1M5.9 126.8h1M32.5 135.9h1M12 149.2h1M15.6 148.5h1M13 131.9h1M27.6 124.8h1M9.6 155.8h1M15.4 155.7h1M7 158.5h1M17.2 147.7h1M1.1 149.9h1M10.8 145.3h1M26.6 149.9h1M6.1 157.4h1M28.2 153.5h1M20.1 133.6h1M27.7 156.6h1M7.9 148h1M9.4 154.8h1M24.5 159.5h1M26.4 145.6h1M19.8 152.1h1M25.6 141.1h1M14.3 152.9h1M16.1 149.6h1M16.6 121.2h1M7.8 137.8h1M17.1 164.8h1M24.8 140.1h1M10.2 132.1h1M18.4 151.1h1M14.1 121.3h1M34.4 134.7h1M18.2 141.2h1M11.5 153.2h1M38 160.6h1M9.3 141.1h1M9.1 153.1h1M20.2 140.2h1M30.5 140.6h1M21.6 133.8h1M7.1 136.9h1M2.5 161.1h1M21.8 141.4h1M6.4 150.4h1M16.9 139.4h1M25.8 136.1h1M6.5 156.2h1M21.6 131.4h1M13.8 150.7h1M18.8 158.6h1M4 153.8h1M22.9 158.2h1M19.3 152h1M1 134.2h1M13.4 144.8h1M9.6 165.3h1M47.8 136.4h1M26.3 146h1M28.8 144.3h1M17.5 146.5h1M2.6 135.4h1M25.6 153.4h1M3.5 150.2h1M2.9 158.3h1M13 137.4h1M5.1 140.8h1M44 163.9h1M34.4 150.4h1M20.8 154.2h1M2.5 161.2h1M19.7 154.7h1M39 123.5h1M21.6 148.9h1M22.1 142.9h1M39.9 162h1M27.9 151.3h1M11.3 127.1h1M22.5 151h1M24 156.9h1M8.8 155.5h1M29.3 135.6h1M36.5 133.8h1M11.2 148.5h1M14.8 148h1M10.4 160.3h1M15.7 125.2h1M29.3 137.9h1M12.7 152.6h1M31.5 167.6h1M10.5 162.5h1M2.4 148.4h1M18.7 145.5h1M18.9 136.7h1M27.1 157.5h1M33.2 110.7h1M30.4 147.7h1M14.2 134.6h1M21.5 162.1h1M4.7 137.2h1M3.5 162.5h1M6.7 135h1M32.5 163h1M11.3 129.6h1M5.1 150h1M15.1 142.7h1M6.5 149h1M9.6 142.3h1M28.8 125.2h1M36.9 150.8h1M17.8 141.9h1M17.6 131.9h1M37.5 140.3h1M38.9 136.4h1M11 150.2h1M26.3 132.2h1M8.8 151h1M16.9 147.8h1M5.2 144.6h1M4.8 153.5h1M8.1 151.5h1M23.9 143.3h1M35.4 123.6h1M12 129.6h1M3.6 167h1M21 148.6h1M19.5 167.6h1M5.1 146.7h1M26.5 128.3h1M39.5 143.9h1M2.9 159.8h1M9.7 146.2h1M14.2 140.2h1M20.1 143.9h1M21.6 146.3h1M37.3 121.5h1M9 131.9h1M7.3 145.4h1M13.4 164.1h1M14 153.9h1M24.1 131.1h1M23.6 160.5h1M15.2 150.4h1M26.6 159.3h1M23.5 127.9h1M27.1 130.4h1M29.9 136.3h1M34.8 117.2h1M12.8 134.1h1M3.9 138.9h1M41.9 140.4h1M2 141.8h1M16.9 144.2h1M35 153.7h1M5.8 166.4h1M6.6 154.1h1M10.5 157.9h1M16.3 128.6h1M23.2 149.7h1M34.6 144.5h1M35.1 137.7h1M14 165.4h1M29.6 162.4h1M45.1 138.3h1M18.8 122.7h1M17.2 139.7h1M15.4 142.8h1M4.7 167.3h1M14.8 134h1M11.5 148.2h1M16.7 126.7h1M20.3 155.2h1M38.9 143.8h1M27 155.4h1M11.4 150.4h1M17.7 147h1M17.1 151.5h1M29.9 137.4h1M12 137.2h1M18.8 154.5h1M34.1 140.8h1M33.4 151.2h1M27.7 134.5h1M35.1 142.1h1M20.1 144.8h1M1.1 146.4h1M23.3 150.8h1M15.8 156.3h1M12.5 165.3h1M6.6 166.1h1M29.5 136.2h1M10.7 138.2h1M19.6 145.2h1M4.3 135.6h1M27 143.1h1M3 168.2h1M19 154.8h1M3.1 153.1h1M27.2 138.4h1M27.8 121.2h1M33.9 111.8h1M21.5 135.2h1M39.2 142.7h1M21.7 150.7h1M19 136h1M31.5 162.9h1M24.3 135.9h1M5.1 132.1h1M12.6 161.2h1M10.6 140.5h1M38 132.7h1M24.5 130.5h1M14.9 122.9h1M28.7 159.2h1M24.4 131.4h1M8.7 162.3h1M25.1 125.6h1M32 129.4h1M22.6 128.7h1M1 154.9h1M27 121.7h1M3.5 160.6h1M13.8 156.9h1M20.9 131.6h1M10.6 140h1M3.8 163.1h1M3.5 151.5h1M18 162.6h1M4.5 148.3h1M22.1 140.1h1M27.7 120.4h1M2 147.5h1M15 146.9h1M21 145.2h1M34.7 143.4h1M13.8 160.9h1M42.7 133.6h1M26.3 143.8h1M10.4 152.5h1M10.7 166h1M20.4 156.3h1M13.1 150.7h1M18.9 141.1h1M8.1 137.2h1M12.1 152.3h1M17.4 143.1h1M10 156h1M26.2 139.2h1M10.3 148.1h1M10 156h1M9.2 157.3h1M25.3 146.4h1M27.2 118h1M17.7 155.3h1M5.1 159.7h1M22.7 158.9h1M26.7 164.6h1M18.9 157.4h1M34.6 120.4h1M40.3 156.1h1M20.7 166.9h1M16.1 126.9h1M20.4 147.6h1M3.3 164.8h1M27.1 130h1M12.5 131.5h1M8.4 131h1M13.2 132.7h1M27.1 133.3h1M23 144.5h1M9.1 154.8h1M16.2 155.5h1M36.4 151.3h1M32.6 148.5h1M15 132.5h1M6 162.9h1M22.2 138.2h1M16.2 142.8h1M4.3 114.1h1M13.7 154.8h1M15.1 126.2h1M26.6 128.8h1M19.9 130.7h1M8.6 145.1h1M23.8 152.6h1M26.3 139.5h1M34.9 155.4h1M14.8 148.6h1M4.2 150h1M7.1 149.8h1M14.8 150.5h1M27.7 145.2h1M10.7 154.7h1M2.4 165.2h1M10.2 160.6h1M27.3 122.3h1M35.3 158.1h1M13.9 144h1M20.2 147.6h1M12 143.1h1M34.5 158.1h1M24.8 147.1h1M31.5 142.5h1M9.3 160.5h1M13.7 143.6h1M23.3 167.9h1M21.8 162.2h1M24.2 146.4h1M5.9 138.1h1M17.5 124.6h1M9.3 134.3h1M12.8 142h1M9.8 148.1h1M3.8 147.2h1M21.3 154.8h1M14.6 156.6h1M3.8 164.1h1M9.8 159h1M40.4 138.6h1M24.9 131.1h1M6.5 154.3h1M10.6 151.9h1M1.1 156.2h1M2.6 159.9h1M30.8 137.4h1M17.6 155.4h1M13.3 167.7h1M4.4 156.9h1M18.4 145.2h1M17.3 122.5h1M25.4 118.9h1M19.2 136.8h1M24.1 138.1h1M26.4 123h1M16.6 117.1h1M3.8 140.7h1M7.3 155.4h1M31.5 151h1M20.5 151.2h1M20.4 135.4h1M36.8 127.2h1M55.7 157.1h1M8.4 162.6h1M12.9 128.6h1M4.6 147.5h1M19.1 122.8h1M7.7 136.6h1M16.3 165.7h1M24.4 140.8h1M29.3 153.6h1M31.4 148.9h1M17.1 141h1M18.5 124.7h1M31.4 157.7h1M33.1 147.1h1M4.3 166.8h1M8.9 150.4h1M28.4 164.1h1M7.3 157.6h1M26.3 148.8h1M32 129.5h1M7.1 151.4h1M30.5 143.3h1M1.7 162.7h1M19.3 147h1M24.5 154.9h1M14.2 158.7h1M15.3 154.4h1M37.4 132.4h1M10.1 156.3h1M31.3 162.2h1M28.1 144.1h1M14.2 159.9h1M29.5 156.1h1M29.4 157.8h1M15.1 146.3h1M19 164.2h1M38 144.4h1M36.2 156.9h1M11.5 152.7h1M13.4 131.6h1M15 149.6h1M27.2 155.7h1M12.8 160.9h1M13.9 126.3h1M34.3 151.6h1M5.2 135.2h1M19.1 134.3h1M26.1 117.5h1M7.9 134.9h1M16.2 124.4h1M15.8 126.3h1M27.5 132.3h1M34.2 155.9h1M12.4 160.8h1M7 167.1h1M6.7 130.4h1M13.4 136.5h1M18.1 153.8h1M8.2 144h1M20.7 139.8h1M5.3 167.6h1M34.6 160.2h1M23.2 145.5h1M14.1 128.7h1M11.1 150.4h1M24.5 151.9h1M8.3 159.6h1M6.8 133.8h1M27.1 122.3h1M17.1 150.3h1M5.2 166.6h1M8.2 134.3h1M17.9 130.1h1M2.2 150.6h1M27.1 123.3h1M4.6 139.6h1M4.6 157.7h1M22.6 140.5h1M45.1 139.7h1M31.9 156.2h1M28.3 128.6h1M26.6 159.9h1M16.7 137h1M18.2 140.5h1M11.5 167h1M10.6 140.8h1M20.7 137.2h1M16.6 158.3h1M28.2 131.4h1M24 163.7h1M15.3 134.9h1M18.8 151.9h1M35.1 119.7h1M12.3 148h1M16.8 127.1h1M21.7 131.7h1M20.2 164.4h1M29.9 140.5h1M16.1 132.2h1M7.5 159h1M13.4 161.4h1M28.8 145.3h1M22.5 150.6h1M42.7 152.9h1M13.8 148.4h1M17.4 155.5h1M19.2 153h1M37.5 145.7h1M36 137.2h1M10.3 145.9h1M8.2 150.7h1M1.1 161.3h1M40.5 157.5h1M19.1 151.3h1M12.9 140.2h1M4.5 151.7h1M29.1 135h1M33.5 160.8h1M15.5 146.7h1M20.9 149.6h1M33.7 124.3h1M35.7 149.4h1M14.6 166h1M7.6 158.2h1M34.7 125.1h1M26.9 125.2h1M24.5 139h1M23 152.5h1M13.9 139h1M19.8 159h1M36.9 137.5h1M7.1 152.7h1M10.5 141.3h1M9.5 150.4h1M13.8 149.8h1M1.4 145.9h1M28.1 152.6h1M30.3 133.3h1M28.5 148.1h1M22.3 130.7h1M28.3 157.6h1M21.6 153h1M32.3 140.2h1M6.8 156.5h1M28.7 133.5h1M4.1 168.1h1M22.9 164.7h1M32.5 157.2h1M15.3 147.9h1M12.2 162.5h1M10.1 162.5h1M24.7 152h1M28.1 125.8h1M20.4 132h1M14.6 161.1h1M15.7 146h1M7.7 164.8h1M9.5 144.2h1M37.1 145h1M1.2 160.5h1M30.9 159.5h1M28.1 136.1h1M36.6 157.3h1M20.9 166.1h1M24 160h1M3.7 166.6h1M8 139.8h1M7.1 145.9h1M26.5 160.9h1M15.2 142.4h1M14.9 165h1M9.7 140h1M11.5 151.4h1M10.8 135h1M11.4 117.1h1M19.9 160.4h1M32.3 138.9h1M2.6 131.9h1M23.8 158.4h1M12.9 145.7h1M38.4 145h1M20.9 164.2h1M7.4 127.8h1M39.9 163.4h1M22.7 146.6h1M17.3 164.3h1M28.7 144.9h1M23.8 143.3h1M18.2 153.6h1M26.2 136.8h1M18.9 131.2h1M19.4 138h1M27 158h1M2.7 153.8h1M10.7 150.8h1M9.8 131.3h1M12.3 137.5h1M9.5 151.2h1M30.3 130.9h1M18.5 129.4h1M26.1 144.9h1M18.2 159.1h1M30.3 134.8h1M2.5 129.3h1M18.7 140.9h1M10.8 155.4h1M28.8 136.2h1M12.8 167.4h1M24.1 124.6h1M19.3 154h1M9.9 142h1M21.1 156.6h1M30.2 159.4h1M13.5 135.3h1M11.5 150.8h1M20.5 126.6h1M31.8 131.1h1M39.7 130.6h1M24.6 139.6h1M40 131.9h1M20.8 147.4h1M4.3 157.4h1M33.6 137.4h1M24.5 122.1h1M13.6 130.9h1M29.6 140.5h1M22.8 140.4h1M13 155h1M11.3 154h1M14.3 163.2h1M20.7 153.1h1M22 162.5h1M25.8 143h1M24.3 149.8h1M3.6 142.6h1M18.6 148.8h1M14.4 151.9h1M6.4 163.3h1M37.2 138.8h1M19.4 141.7h1M16.2 161.1h1M24 126h1M7.3 141.7h1M20.9 123.7h1M33.5 161.4h1M2 163.2h1M24.7 143.6h1M19.5 125.2h1M25.5 140.8h1M38.2 131.5h1M8.5 134h1M20.9 152.5h1M5.2 138.2h1M25.1 167.3h1M32.9 139h1M7.2 134.8h1M21.7 132.1h1M19.2 132.1h1M28.8 143h1M13.7 135.7h1M20.6 137h1M31.5 136.9h1M30.4 146.7h1M16.9 162.3h1M28.1 116h1M11.2 154.7h1M20.7 158h1M1.1 163.1h1M32.7 144.2h1M30.3 141.5h1M14.8 145.5h1M20.8 130.5h1M11 163.9h1M9.9 141.2h1M7.9 150.2h1M26.4 155h1M1 153.8h1M43.1 123.9h1M25.2 152.3h1M7.2 156.9h1M17.1 159.1h1M4 151.6h1M6 115.8h1M11.8 125.3h1M20.6 163h1M3.2 166h1M28 128.2h1M22.7 149.8h1M35.9 125.1h1M17.6 144.6h1M1.4 148.8h1M10.3 159.8h1M11.4 153.5h1M1.7 160.9h1M23.4 152.5h1M5.8 148.2h1M7.3 129.3h1M29.8 149.8h1M7.9 147.8h1M9.1 165.8h1M23.4 136.3h1M10.9 165.4h1M36.8 143.3h1M5 166.9h1M11.1 158.6h1M18.9 141.4h1M16.7 149.7h1M5.7 143.2h1M22.4 128.8h1M10.1 147.8h1M36.5 135.6h1M20.7 136.3h1M31.5 133h1M24.9 150.4h1M13.8 154.6h1M30.6 146.7h1M28.1 151.8h1M15.5 136.9h1M7.1 167.1h1M34.1 130.6h1M15.4 143h1M19.4 147.7h1M13.3 163.9h1M34.9 159.4h1M30.8 123.8h1M3.6 133.8h1M11.7 166.3h1M29.6 144.6h1M6.8 133.1h1M8.5 163.6h1M17.4 131.9h1M5.3 154.6h1M4.1 163.9h1M8.2 153h1M13.9 61.3h1M50.9 42.3h1M18.6 94.8h1M28 77.5h1M52 53.6h1M54.4 44.3h1M67.2 35.7h1M58.8 26.6h1M58.2 30.6h1M27.4 59.2h1M80.4 21.9h1M21.8 73.3h1M46 42.9h1M56.8 45.6h1M36.8 65.8h1M18.3 81.3h1M5.4 102.9h1M53.7 45.1h1M33.6 57.3h1M47.2 54.1h1M33.4 79.2h1M66.1 29.9h1M19.4 91.2h1M69.8 30.1h1M6.7 77.4h1M18 94.7h1M34.5 91.5h1M58.8 62h1M30.8 75.9h1M14.8 110.2h1M26.5 92.3h1M62.4 42h1M20.8 110.1h1M12.2 58.8h1M27.1 63.4h1M18.1 99.6h1M49.3 36.4h1M67 35h1M35 52.5h1M4 99.4h1M9.7 90.2h1M56.6 57h1M66.6 36.3h1M35.9 26.4h1M7 98.6h1M37.4 67.2h1M10.2 88.9h1M44.8 53.2h1M35 82.5h1M20.4 102h1M54.6 20.4h1M9.3 107.8h1M30.6 39.3h1M8.2 81.7h1M1.7 105.5h1M28.6 48.5h1M44.1 54h1M54.8 56.2h1M12.4 95.4h1M52.3 51.2h1M28.9 66.4h1M58 28.9h1M10.4 104.5h1M70.4 17.1h1M42.2 89.1h1M83.3 18.9h1M36.3 69.2h1M44.4 74.9h1M35.3 63.3h1M57.2 63.6h1M34.1 61.4h1M44.6 54.2h1M27.9 78.5h1M43.3 49.6h1M61.8 33h1M65 34.4h1M49.6 59.6h1M5.5 94.2h1M23.4 88.8h1M39.2 68.7h1M42.4 57.1h1M58.5 16.1h1M28.2 96.9h1M22.2 104h1M10.7 103.7h1M21.9 74.1h1M17 115.9h1M34 65.5h1M67.2 42.8h1M49.9 118.7h1M54.7 124.4h1M49.3 120.9h1M68.8 117.3h1M61.4 110.3h1M44 124.8h1M55.5 129.2h1M63.4 117.1h1M62.4 114.4h1M75.2 109.5h1M52.8 117.6h1M67 113.4h1M62.6 117.7h1M56.9 126.4h1M83.3 103.6h1M56.6 116.5h1M73.1 110.6h1M67.4 114.4h1M64.5 112.4h1M48.8 123.4h1M57.7 120.8h1M65 112.3h1M75.8 109.5h1M50.9 118.2h1M64 114.3h1M57.6 114.2h1M64.6 110h1M56.8 121.2h1M63.7 117.7h1M54.4 122.9h1M65.5 119.6h1M52.2 124.7h1M64.1 112.8h1M46.3 126.8h1M73.3 106.6h1M51.9 113.2h1M75.5 107h1M75.3 109.4h1M64.1 113.2h1M47.8 124.4h1M71.1 111.3h1M66 114.2h1M67.1 114.9h1M56 122.7h1M56.3 126.3h1M58.7 116.4h1M66.3 114.6h1M58 117.3h1M64.1 113.5h1M47 122.7h1M50.9 119.4h1M63.6 115.4h1M80.2 102.3h1M69.9 114.9h1M82.9 102.5h1M52 128.7h1M77.8 108.4h1M47.1 126.9h1M55.6 127.3h1M82.4 101.3h1M61.8 115.9h1M40.9 121.7h1M54.5 116.4h1M80.4 106.4h1M74.8 106.5h1M49.2 130.3h1M82.1 103.9h1M54.8 122.6h1M70.8 115.5h1M86.8 102.3h1M70.7 107.9h1M83.5 103.6h1M47.6 121h1M44.8 122.4h1M75 109.7h1M68.8 113.3h1M59.4 115.9h1M65 114.3h1M51.7 125.8h1M71.7 112.6h1M82.4 106.3h1M61 113.1h1M52.6 123.3h1M71.8 107h1M60.3 116.2h1M53.9 121.4h1M63.4 111.6h1M59 114.1h1M61.9 116.8h1M57.9 120.9h1M58.6 122.4h1M68.5 111h1M67.9 116.2h1M79.9 110.2h1M62.4 113h1M73.5 112.9h1M77.8 105.9h1M77.1 106.6h1M55.8 124.1h1M74.4 111.3h1M71.1 110.2h1M60.8 117.1h1M52.3 123.8h1M67.2 111.1h1M72.6 109h1M62.8 118.8h1M56.9 120.2h1M79.4 105.1h1M59.7 113.8h1M73.4 106.7h1M57.8 124.5h1M47.1 126.2h1M80.3 106.8h1M58.3 124.7h1M60.9 117.1h1M49.7 129.2h1M51.8 124.6h1M46.4 121h1M62.6 119.4h1M56.7 120.9h1M50 116.5h1M74.5 109.2h1M85.7 105.7h1M69.9 111.3h1M85.4 105.7h1M85.9 103h1M55.5 115.4h1M61.4 111.8h1M48.9 120.9h1M69.2 107.6h1M71 110.9h1M77 105.9h1M65.5 115.5h1M53.8 116.2h1M49.8 123.5h1M47.6 118.3h1M80 106h1M75.4 109.9h1M58.9 122h1M58.6 118.2h1M78.8 103.6h1M81.7 106.2h1M80.9 106.6h1M77.8 108.1h1M65.4 118.1h1M64.7 114.5h1M66 114.8h1M63.2 117.8h1M61.7 118.3h1M66.3 111.4h1M50 123.1h1M52.9 120.8h1M52.2 121.5h1M70 109.5h1M79.6 103.8h1M67 115.6h1M72 108h1M62.2 112.1h1M69.5 115.3h1M73.8 109.6h1M58.7 118.1h1M76.9 106.1h1M55.9 123.5h1M54.4 123.5h1M52.3 120.3h1M52.3 118h1M51.4 121.4h1M60.7 118.3h1M5.6 47h1M22.8 69.7h1M8.1 34.6h1M18.4 82.1h1M4.9 86.8h1M12.1 32.3h1M10.1 44.2h1M14.6 43.2h1M5.6 68.4h1M7 83h1M12.2 36.6h1M21.7 99h1M4.6 58.8h1M15.5 88.3h1M17.5 82.3h1M3.8 45.2h1M17.3 68.1h1M13.1 32.2h1M10.4 42.4h1M23.7 60.9h1M11.3 33.3h1M8.7 101.3h1M17.6 99h1M13.9 51.5h1M7.8 94.5h1M13.3 60.5h1M20.1 67.9h1M6.4 85.4h1M74.5 12.9h1M73.5 17.9h1M68 24.4h1M8 30.9h1M42 26.4h1M48.5 27.4h1"/>
<path stroke="#f21616" d="M88 99.4h1M88 99.9h1"/>
</g>
<path stroke="#f33" stroke-width="1" fill="none" d="M1328.5 397h1M1330 395.5h1M1331.5 394h1M1334.5 389.5h1M1329.5 394h1"/>
<text x="1412.5" y="304.6" font-size="24.5" text-anchor="middle" fill="#000" font-weight="bold" textLength="174" lengthAdjust="spacingAndGlyphs" >80 nM / no TTR</text>
</g>
<g id="panel-b2">
<text x="1526.2" y="37" font-size="47" text-anchor="start" fill="#000" font-weight="bold" >b</text>
<text x="1554.5" y="48.7" font-size="32.3" text-anchor="start" fill="#000" font-weight="bold" >2</text>
<line x1="1604.8" y1="87" x2="1604.8" y2="467.8" stroke="#000" stroke-width="2.5" />
<line x1="1603.6" y1="466.6" x2="1723.8" y2="466.6" stroke="#000" stroke-width="2.6" />
<line x1="1633.4" y1="466.6" x2="1633.4" y2="474.4" stroke="#000" stroke-width="2.6" />
<line x1="1667.5" y1="466.6" x2="1667.5" y2="474.4" stroke="#000" stroke-width="2.6" />
<line x1="1702.3" y1="466.6" x2="1702.3" y2="474.4" stroke="#000" stroke-width="2.6" />
<line x1="1596.2" y1="466.6" x2="1604.8" y2="466.6" stroke="#000" stroke-width="2.5" />
<text x="1595" y="473.6" font-size="19.8" text-anchor="end" fill="#000" font-weight="bold" >0</text>
<line x1="1596.2" y1="419.3" x2="1604.8" y2="419.3" stroke="#000" stroke-width="2.5" />
<text x="1595" y="426.3" font-size="19.8" text-anchor="end" fill="#000" font-weight="bold" >2</text>
<line x1="1596.2" y1="372" x2="1604.8" y2="372" stroke="#000" stroke-width="2.5" />
<text x="1595" y="379" font-size="19.8" text-anchor="end" fill="#000" font-weight="bold" >4</text>
<line x1="1596.2" y1="324.7" x2="1604.8" y2="324.7" stroke="#000" stroke-width="2.5" />
<text x="1595" y="331.7" font-size="19.8" text-anchor="end" fill="#000" font-weight="bold" >6</text>
<line x1="1596.2" y1="277.4" x2="1604.8" y2="277.4" stroke="#000" stroke-width="2.5" />
<text x="1595" y="284.4" font-size="19.8" text-anchor="end" fill="#000" font-weight="bold" >8</text>
<line x1="1596.2" y1="230.1" x2="1604.8" y2="230.1" stroke="#000" stroke-width="2.5" />
<text x="1595" y="237.1" font-size="19.8" text-anchor="end" fill="#000" font-weight="bold" >10</text>
<line x1="1596.2" y1="182.8" x2="1604.8" y2="182.8" stroke="#000" stroke-width="2.5" />
<text x="1595" y="189.8" font-size="19.8" text-anchor="end" fill="#000" font-weight="bold" >12</text>
<line x1="1596.2" y1="135.5" x2="1604.8" y2="135.5" stroke="#000" stroke-width="2.5" />
<text x="1595" y="142.5" font-size="19.8" text-anchor="end" fill="#000" font-weight="bold" >14</text>
<line x1="1596.2" y1="88.2" x2="1604.8" y2="88.2" stroke="#000" stroke-width="2.5" />
<text x="1595" y="95.2" font-size="19.8" text-anchor="end" fill="#000" font-weight="bold" >16</text>
<rect x="1620.9" y="392.6" width="25" height="74" fill="#000"/>
<rect x="1654.7" y="321.2" width="25" height="145.4" fill="#000"/>
<rect x="1689" y="98.8" width="25.7" height="367.8" fill="#000"/>
<text x="1633.5" y="493.8" font-size="20.2" text-anchor="middle" fill="#000" font-weight="bold" >0</text>
<text x="1666.7" y="493.8" font-size="20.2" text-anchor="middle" fill="#000" font-weight="bold" >10</text>
<text x="1701.7" y="493.8" font-size="20.2" text-anchor="middle" fill="#000" font-weight="bold" >80</text>
<text x="1735.4" y="495" font-size="21.3" text-anchor="middle" fill="#000" font-weight="bold" textLength="31" lengthAdjust="spacingAndGlyphs" >nM</text>
<text x="1670.4" y="533.1" font-size="28" text-anchor="middle" fill="#000" >NI301A</text>
<text x="1559.5" y="275" font-size="21.5" text-anchor="middle" fill="#000" font-weight="bold" transform="rotate(-90 1559.5 275)" textLength="263" lengthAdjust="spacingAndGlyphs" >Double positive cells (%)</text>
</g>
<g id="panel-b3">
<text x="1781.5" y="37.1" font-size="47" text-anchor="start" fill="#000" font-weight="bold" >b</text>
<text x="1811" y="48.8" font-size="32.3" text-anchor="start" fill="#000" font-weight="bold" >3</text>
<defs><filter id="bl1" x="-20%" y="-20%" width="140%" height="140%"><feGaussianBlur stdDeviation="0.9"/></filter><filter id="bl2" x="-30%" y="-30%" width="160%" height="160%"><feGaussianBlur stdDeviation="1.3"/></filter><clipPath id="b3clip"><rect x="1779.6" y="100" width="215.4" height="366"/></clipPath></defs>
<rect x="1779.6" y="100" width="215.4" height="366.4" fill="#000"/>
<g clip-path="url(#b3clip)">
<g filter="url(#bl1)">
<rect x="1845.5" y="204.6" width="3.9" height="3" fill="#14a514"/><rect x="1868.8" y="169.7" width="5.1" height="3.6" fill="#23e223"/><rect x="1905.2" y="161.4" width="2.7" height="3" fill="#14a514"/><rect x="1968.3" y="179.9" width="1.8" height="2.2" fill="#0a5a0a"/><rect x="1874.9" y="183.7" width="3.6" height="2.6" fill="#14a514"/><rect x="1905.6" y="144.3" width="4.7" height="3.6" fill="#14a514"/><rect x="1864.8" y="146.6" width="3.2" height="3" fill="#2fc02f"/><rect x="1969.8" y="186.9" width="4.1" height="2.6" fill="#0f8f0f"/><rect x="1877.9" y="186.3" width="4.3" height="3.6" fill="#0c7a0c"/><rect x="1924.5" y="148.7" width="1.8" height="2.2" fill="#5cf05c"/><rect x="1915.2" y="256.5" width="2.6" height="3" fill="#14a514"/><rect x="1926.3" y="214.6" width="1.9" height="2.2" fill="#0c7a0c"/><rect x="1907.8" y="154.9" width="4.5" height="3.6" fill="#14a514"/><rect x="1880.1" y="164.7" width="2.4" height="3" fill="#14a514"/><rect x="1944.8" y="133" width="1.8" height="1.8" fill="#0c6c0c"/><rect x="1878.9" y="177.7" width="3.2" height="2.6" fill="#14a514"/><rect x="1920.5" y="146.2" width="2.2" height="2.2" fill="#0c7a0c"/><rect x="1886" y="173.8" width="4.3" height="3" fill="#1fd21f"/><rect x="1913.1" y="160.8" width="4.3" height="3" fill="#14a514"/><rect x="1884.1" y="223.5" width="5.5" height="3.6" fill="#14a514"/><rect x="1929.5" y="238" width="4.2" height="3" fill="#14a514"/><rect x="1873.6" y="201.5" width="3.9" height="2.2" fill="#0f8f0f"/><rect x="1905.4" y="243.9" width="1.8" height="1.8" fill="#0f8f0f"/><rect x="1865.3" y="208.9" width="2.4" height="2.2" fill="#14a514"/><rect x="1930.1" y="227.1" width="4.6" height="3" fill="#5cf05c"/><rect x="1828.5" y="178.1" width="3.1" height="1.8" fill="#14a514"/><rect x="1864.3" y="148.2" width="4.7" height="4.2" fill="#1fd21f"/><rect x="1923.1" y="187.9" width="5.5" height="3.6" fill="#1fd21f"/><rect x="1948.5" y="150.4" width="2.3" height="2.6" fill="#0f8f0f"/><rect x="1873" y="192.4" width="5" height="3" fill="#0c7a0c"/><rect x="1846.2" y="161.8" width="1.6" height="1.8" fill="#0a5a0a"/><rect x="1922.2" y="204" width="4.6" height="3" fill="#23e223"/><rect x="1850.4" y="229.3" width="4.9" height="3" fill="#14a514"/><rect x="1860.9" y="192.6" width="5.4" height="4.2" fill="#0c7a0c"/><rect x="1882.5" y="155.2" width="3.8" height="2.6" fill="#1fd21f"/><rect x="1880.3" y="156.8" width="5" height="3" fill="#14a514"/><rect x="1932.1" y="228.4" width="1.6" height="1.8" fill="#2fc02f"/><rect x="1829.7" y="200.8" width="4" height="3" fill="#2fc02f"/><rect x="1869.1" y="132.2" width="2.6" height="3" fill="#0f8f0f"/><rect x="1902.8" y="169.3" width="3.3" height="2.6" fill="#23e223"/><rect x="1900.4" y="219.6" width="2" height="2.2" fill="#5cf05c"/><rect x="1868.9" y="151.9" width="2.2" height="2.2" fill="#5cf05c"/><rect x="1915.4" y="152.2" width="6.5" height="4.2" fill="#0c7a0c"/><rect x="1877.6" y="183.3" width="4.1" height="2.6" fill="#1fd21f"/><rect x="1830" y="170.2" width="3.6" height="2.2" fill="#14a514"/><rect x="1886.5" y="151.9" width="3.6" height="3" fill="#5cf05c"/><rect x="1864.6" y="199" width="3" height="2.2" fill="#23e223"/><rect x="1868" y="144" width="2.9" height="2.6" fill="#14a514"/><rect x="1925.2" y="184.9" width="3.9" height="4.2" fill="#5cf05c"/><rect x="1900.3" y="235.9" width="2.9" height="2.2" fill="#1fd21f"/><rect x="1908.9" y="145.4" width="4.8" height="4.2" fill="#0c7a0c"/><rect x="1837.6" y="167.7" width="2.9" height="1.8" fill="#0c6c0c"/><rect x="1918.3" y="227.7" width="2.5" height="2.6" fill="#23e223"/><rect x="1836.5" y="181.4" width="4.1" height="3" fill="#14a514"/><rect x="1874.4" y="127.8" width="3.5" height="2.6" fill="#2fc02f"/><rect x="1925.1" y="234.6" width="3.8" height="2.6" fill="#0f8f0f"/><rect x="1962.7" y="168.6" width="4.6" height="2.6" fill="#0c6c0c"/><rect x="1847" y="176" width="3.2" height="1.8" fill="#0a5a0a"/><rect x="1851" y="183.1" width="4.6" height="3.6" fill="#0c7a0c"/><rect x="1889.2" y="164.9" width="4.4" height="3.6" fill="#23e223"/><rect x="1868.7" y="193.1" width="4" height="3" fill="#23e223"/><rect x="1908" y="203.2" width="4.6" height="3" fill="#1fd21f"/><rect x="1899.8" y="241.5" width="2.6" height="1.8" fill="#0a5a0a"/><rect x="1885.7" y="126.7" width="2.6" height="1.8" fill="#14a514"/><rect x="1924.1" y="135.5" width="2.2" height="2.2" fill="#0a5a0a"/><rect x="1878.5" y="216.5" width="6.1" height="3.6" fill="#1fd21f"/><rect x="1915.7" y="208" width="3.7" height="3" fill="#0c7a0c"/><rect x="1888.1" y="153.2" width="6.7" height="4.2" fill="#5cf05c"/><rect x="1857" y="240.6" width="4.7" height="2.6" fill="#0a5a0a"/><rect x="1930.3" y="130.1" width="2.8" height="1.8" fill="#0a5a0a"/><rect x="1846" y="141.9" width="2" height="2.2" fill="#0c6c0c"/><rect x="1913.1" y="217.3" width="2.7" height="3" fill="#5cf05c"/><rect x="1963.1" y="215.4" width="2.1" height="1.8" fill="#0f8f0f"/><rect x="1857.9" y="208.5" width="3.1" height="2.6" fill="#0f8f0f"/><rect x="1883.7" y="171.5" width="3.1" height="2.6" fill="#14a514"/><rect x="1869" y="224.2" width="2.5" height="2.6" fill="#0f8f0f"/><rect x="1879.8" y="186.5" width="3.7" height="2.2" fill="#5cf05c"/><rect x="1956.7" y="149" width="3" height="2.2" fill="#0a5a0a"/><rect x="1872" y="236.6" width="3.6" height="3" fill="#0c6c0c"/><rect x="1893.8" y="163.1" width="3.8" height="3" fill="#1fd21f"/><rect x="1867" y="239.8" width="2.4" height="1.8" fill="#14a514"/><rect x="1861.8" y="188.6" width="3.9" height="2.2" fill="#23e223"/><rect x="1895.3" y="148" width="2.6" height="3" fill="#0f8f0f"/><rect x="1913.4" y="232.5" width="2.3" height="2.2" fill="#1fd21f"/><rect x="1827.2" y="184.4" width="2.2" height="1.8" fill="#2fc02f"/><rect x="1864.5" y="143.9" width="3.1" height="1.8" fill="#14a514"/><rect x="1925.2" y="232.1" width="3.5" height="2.6" fill="#23e223"/><rect x="1858" y="159.4" width="3.3" height="3" fill="#23e223"/><rect x="1863.9" y="213.9" width="4.6" height="3.6" fill="#1fd21f"/><rect x="1889.4" y="258.9" width="2.1" height="2.6" fill="#0a5a0a"/><rect x="1898.7" y="210.3" width="4" height="2.6" fill="#23e223"/><rect x="1845.3" y="232.8" width="3.2" height="1.8" fill="#0a5a0a"/><rect x="1921.4" y="179.2" width="3.9" height="2.6" fill="#23e223"/><rect x="1924.2" y="170.8" width="3.9" height="2.6" fill="#0f8f0f"/><rect x="1878.1" y="213.7" width="2.8" height="3" fill="#23e223"/><rect x="1848.8" y="217.1" width="4.7" height="3" fill="#0f8f0f"/><rect x="1827.4" y="173.8" width="2.8" height="2.2" fill="#0c6c0c"/><rect x="1855.8" y="187.2" width="5.9" height="3.6" fill="#0f8f0f"/><rect x="1889.2" y="246" width="2.4" height="2.2" fill="#2fc02f"/><rect x="1902.7" y="260.1" width="1.8" height="2.2" fill="#2fc02f"/><rect x="1874" y="181.4" width="2.1" height="2.2" fill="#5cf05c"/><rect x="1904.8" y="261" width="3" height="2.6" fill="#0c6c0c"/><rect x="1867.8" y="189.1" width="2.7" height="2.2" fill="#0c7a0c"/><rect x="1927" y="126.8" width="4.6" height="3" fill="#14a514"/><rect x="1873.6" y="208.7" width="4.3" height="2.6" fill="#5cf05c"/><rect x="1864.2" y="163.9" width="5.2" height="4.2" fill="#14a514"/><rect x="1879.5" y="208.4" width="4" height="3" fill="#0c7a0c"/><rect x="1847.7" y="211.5" width="4.9" height="3" fill="#0f8f0f"/><rect x="1880.4" y="137.8" width="4.4" height="2.6" fill="#0f8f0f"/><rect x="1845.4" y="209" width="3.5" height="2.6" fill="#14a514"/><rect x="1910.8" y="259.7" width="2.6" height="2.2" fill="#0a5a0a"/><rect x="1867.9" y="222.8" width="3.6" height="3" fill="#0f8f0f"/><rect x="1916.7" y="241.3" width="3" height="2.2" fill="#0a5a0a"/><rect x="1926.1" y="246.2" width="2.7" height="2.6" fill="#0a5a0a"/><rect x="1892.5" y="206.9" width="4.1" height="3" fill="#0c7a0c"/><rect x="1893.9" y="216.4" width="2.5" height="3" fill="#0c7a0c"/><rect x="1882.5" y="165" width="4.4" height="4.2" fill="#23e223"/><rect x="1909.7" y="252.1" width="3.5" height="3" fill="#14a514"/><rect x="1913.3" y="146.1" width="3.3" height="2.6" fill="#23e223"/><rect x="1906.4" y="164" width="4.4" height="3.6" fill="#0c7a0c"/><rect x="1925.4" y="133.7" width="5.1" height="3" fill="#0a5a0a"/><rect x="1837.4" y="178.6" width="5.1" height="3" fill="#14a514"/><rect x="1898.9" y="221.4" width="6.2" height="4.2" fill="#23e223"/><rect x="1877.9" y="231.3" width="3.9" height="3.6" fill="#1fd21f"/><rect x="1936.3" y="153.7" width="4.6" height="4.2" fill="#0c7a0c"/><rect x="1936.7" y="247" width="4.2" height="3" fill="#0a5a0a"/><rect x="1915.6" y="176.4" width="2.2" height="2.2" fill="#14a514"/><rect x="1905.7" y="225.9" width="5.9" height="4.2" fill="#23e223"/><rect x="1903.6" y="222.7" width="2.9" height="3" fill="#23e223"/><rect x="1900" y="144.5" width="4.6" height="3.6" fill="#0f8f0f"/><rect x="1893.5" y="257.8" width="3.5" height="2.6" fill="#2fc02f"/><rect x="1902.1" y="210.7" width="4.6" height="2.6" fill="#23e223"/><rect x="1915.7" y="125" width="3.1" height="1.8" fill="#2fc02f"/><rect x="1950.6" y="144.5" width="4.5" height="3" fill="#0c6c0c"/><rect x="1872.7" y="167.6" width="2.5" height="2.6" fill="#1fd21f"/><rect x="1895" y="128.9" width="2.5" height="1.8" fill="#0c6c0c"/><rect x="1913.5" y="220.9" width="2.3" height="2.6" fill="#14a514"/><rect x="1847.7" y="194.5" width="5.6" height="4.2" fill="#0f8f0f"/><rect x="1879.2" y="187.3" width="2.6" height="2.6" fill="#23e223"/><rect x="1871.5" y="128" width="2.2" height="1.8" fill="#0a5a0a"/><rect x="1827.9" y="190.6" width="3.1" height="2.6" fill="#0f8f0f"/><rect x="1830.6" y="162.4" width="1.6" height="1.8" fill="#0f8f0f"/><rect x="1935.8" y="235.3" width="2.2" height="1.8" fill="#2fc02f"/><rect x="1938.2" y="140.4" width="2.4" height="2.6" fill="#0a5a0a"/><rect x="1907.1" y="119.9" width="2.1" height="2.2" fill="#0a5a0a"/><rect x="1849.5" y="136.4" width="3.5" height="2.6" fill="#14a514"/><rect x="1877.8" y="208.3" width="4.1" height="3" fill="#1fd21f"/><rect x="1890.9" y="143.9" width="2.7" height="3" fill="#0c7a0c"/><rect x="1876.3" y="166.6" width="4.1" height="4.2" fill="#5cf05c"/><rect x="1905.3" y="208.2" width="4.5" height="3" fill="#0f8f0f"/><rect x="1914.5" y="200.4" width="2.7" height="2.2" fill="#23e223"/><rect x="1850.7" y="212" width="2.6" height="2.2" fill="#2fc02f"/><rect x="1874.6" y="230.9" width="2.6" height="2.2" fill="#5cf05c"/><rect x="1875.9" y="118.2" width="2" height="1.8" fill="#0f8f0f"/><rect x="1860.2" y="225.6" width="2.7" height="1.8" fill="#0a5a0a"/><rect x="1903.8" y="246.5" width="4" height="2.2" fill="#0a5a0a"/><rect x="1879.3" y="118.9" width="2.6" height="1.8" fill="#2fc02f"/><rect x="1903.1" y="157.1" width="3.7" height="3" fill="#0f8f0f"/><rect x="1884.6" y="211.7" width="3.8" height="3" fill="#1fd21f"/><rect x="1958.4" y="148.2" width="3.8" height="2.2" fill="#0a5a0a"/><rect x="1856.6" y="237.1" width="3.1" height="2.2" fill="#0c6c0c"/><rect x="1916.8" y="140.4" width="4.7" height="3" fill="#14a514"/><rect x="1900.6" y="119.6" width="1.8" height="1.8" fill="#0c6c0c"/><rect x="1867.6" y="194.4" width="4.1" height="3" fill="#0c7a0c"/><rect x="1858.4" y="169.5" width="6.4" height="4.2" fill="#0c7a0c"/><rect x="1909.1" y="140.7" width="2.7" height="3" fill="#0f8f0f"/><rect x="1859.4" y="246" width="3.9" height="3" fill="#0f8f0f"/><rect x="1964.2" y="185.7" width="2.8" height="3" fill="#14a514"/><rect x="1850.1" y="181.6" width="3.8" height="2.2" fill="#1fd21f"/><rect x="1881.6" y="244.5" width="3.4" height="3" fill="#0a5a0a"/><rect x="1914.7" y="120.4" width="3.6" height="2.2" fill="#0a5a0a"/><rect x="1901.2" y="257.3" width="2.7" height="3" fill="#2fc02f"/><rect x="1859.4" y="128.1" width="3.2" height="2.6" fill="#0a5a0a"/><rect x="1910.5" y="152.5" width="5.7" height="4.2" fill="#23e223"/><rect x="1920.4" y="172" width="4.4" height="2.6" fill="#0c7a0c"/><rect x="1853.7" y="164.5" width="4.6" height="3" fill="#14a514"/><rect x="1851.7" y="206.6" width="3.4" height="3.6" fill="#23e223"/><rect x="1884.7" y="152.1" width="3.8" height="3" fill="#0c7a0c"/><rect x="1881.2" y="228.8" width="4.4" height="2.6" fill="#23e223"/><rect x="1917.6" y="253.8" width="2" height="1.8" fill="#0c6c0c"/><rect x="1857.9" y="141" width="3.8" height="2.2" fill="#0c6c0c"/><rect x="1875.4" y="251.2" width="3.9" height="2.6" fill="#14a514"/><rect x="1938.2" y="234.8" width="2.6" height="3" fill="#14a514"/><rect x="1905" y="230.7" width="4.2" height="4.2" fill="#5cf05c"/><rect x="1913.8" y="223.1" width="6.7" height="4.2" fill="#1fd21f"/><rect x="1856.7" y="231.8" width="3.7" height="2.2" fill="#0f8f0f"/><rect x="1913.7" y="222.5" width="3.8" height="2.6" fill="#5cf05c"/><rect x="1873.5" y="194" width="4.8" height="3.6" fill="#0c7a0c"/><rect x="1889.7" y="226.8" width="3.5" height="3.6" fill="#0c7a0c"/><rect x="1905.9" y="156.5" width="2.8" height="2.2" fill="#0f8f0f"/><rect x="1898.2" y="140.3" width="2.9" height="3" fill="#0c7a0c"/><rect x="1843" y="167.2" width="4" height="3" fill="#0a5a0a"/><rect x="1831.5" y="185.6" width="3.5" height="2.2" fill="#0a5a0a"/><rect x="1838.6" y="212" width="2.8" height="2.2" fill="#0f8f0f"/><rect x="1908" y="244.4" width="2.5" height="1.8" fill="#0c6c0c"/><rect x="1885.8" y="132.4" width="2.1" height="2.2" fill="#0f8f0f"/><rect x="1852.8" y="208.2" width="2.6" height="3" fill="#0c7a0c"/><rect x="1923.7" y="222.6" width="2.5" height="2.2" fill="#5cf05c"/><rect x="1875.6" y="173.7" width="4.2" height="3.6" fill="#14a514"/><rect x="1898.6" y="241.5" width="3.3" height="3" fill="#0a5a0a"/><rect x="1838.5" y="200.9" width="2.3" height="1.8" fill="#0c6c0c"/><rect x="1865.5" y="214.6" width="5.3" height="3" fill="#0c7a0c"/><rect x="1871.7" y="130.8" width="2.3" height="2.2" fill="#0f8f0f"/><rect x="1861.9" y="175.5" width="5.2" height="3" fill="#0c7a0c"/><rect x="1869.2" y="222" width="3" height="3.6" fill="#14a514"/><rect x="1864.5" y="240" width="3.7" height="2.2" fill="#14a514"/><rect x="1881.8" y="203.9" width="3.1" height="3" fill="#1fd21f"/><rect x="1915.4" y="123.7" width="4.2" height="3" fill="#0c6c0c"/><rect x="1901.1" y="135.8" width="4.4" height="3" fill="#5cf05c"/><rect x="1921.2" y="160.2" width="2.6" height="3" fill="#23e223"/><rect x="1881.7" y="144.6" width="2.5" height="3" fill="#0f8f0f"/><rect x="1914.3" y="224.8" width="5.2" height="3" fill="#0f8f0f"/><rect x="1889.4" y="148.1" width="2.9" height="3" fill="#0c7a0c"/><rect x="1904.1" y="124.8" width="2.9" height="1.8" fill="#0f8f0f"/><rect x="1834.4" y="209.3" width="3.8" height="2.6" fill="#0a5a0a"/><rect x="1879.6" y="243.5" width="2.9" height="2.2" fill="#0c6c0c"/><rect x="1922.9" y="214.5" width="3.8" height="3" fill="#23e223"/><rect x="1879.8" y="136.9" width="3.3" height="2.6" fill="#2fc02f"/><rect x="1849.5" y="236.6" width="2.8" height="3" fill="#14a514"/><rect x="1853.4" y="183.1" width="2.6" height="2.2" fill="#1fd21f"/><rect x="1874.4" y="167.6" width="3.1" height="2.2" fill="#5cf05c"/><rect x="1838.4" y="161.1" width="3.8" height="2.6" fill="#2fc02f"/><rect x="1929.8" y="169.8" width="6.2" height="4.2" fill="#1fd21f"/><rect x="1880.2" y="167.9" width="3.6" height="3" fill="#0c7a0c"/><rect x="1923.7" y="228.8" width="3.5" height="3" fill="#14a514"/><rect x="1885.5" y="134.9" width="3.8" height="3" fill="#0c6c0c"/><rect x="1869" y="218.5" width="6.1" height="4.2" fill="#14a514"/><rect x="1865.1" y="218.1" width="4.1" height="3" fill="#0c7a0c"/><rect x="1957.6" y="164.8" width="3.6" height="3" fill="#0a5a0a"/>
<rect x="1861" y="197.8" width="1.8" height="2.2" fill="#14a514"/><rect x="1878.2" y="208.7" width="5" height="3" fill="#5cf05c"/><rect x="1893.2" y="193.8" width="6.4" height="3.6" fill="#14a514"/><rect x="1877.3" y="211.4" width="3.6" height="2.6" fill="#0c7a0c"/><rect x="1901.9" y="222.6" width="3.6" height="3" fill="#5cf05c"/><rect x="1896" y="186.9" width="2.9" height="2.2" fill="#5cf05c"/><rect x="1926.4" y="216.2" width="2.2" height="1.8" fill="#2fc02f"/><rect x="1907.8" y="210.9" width="3.5" height="3.6" fill="#0f8f0f"/><rect x="1890" y="182.4" width="4.2" height="2.6" fill="#0f8f0f"/><rect x="1872" y="209" width="4.6" height="3.6" fill="#23e223"/><rect x="1887.8" y="197.2" width="7.4" height="4.2" fill="#0c7a0c"/><rect x="1925.2" y="186.6" width="3.1" height="2.6" fill="#2fc02f"/><rect x="1885.6" y="213" width="3.5" height="3" fill="#1fd21f"/><rect x="1901.8" y="225.6" width="1.9" height="2.2" fill="#0c6c0c"/><rect x="1889.1" y="221.3" width="4.2" height="3" fill="#1fd21f"/><rect x="1888.7" y="160.1" width="3.4" height="3" fill="#14a514"/><rect x="1860.9" y="202.3" width="2.8" height="2.2" fill="#0c6c0c"/><rect x="1876.7" y="186.2" width="7.2" height="4.2" fill="#14a514"/><rect x="1913.7" y="193" width="3.1" height="3" fill="#14a514"/><rect x="1901" y="192.5" width="6.4" height="3.6" fill="#0c7a0c"/><rect x="1921.4" y="191.7" width="3.7" height="2.2" fill="#1fd21f"/><rect x="1882.6" y="171.3" width="3.5" height="2.2" fill="#14a514"/><rect x="1865" y="191.6" width="4.5" height="3" fill="#1fd21f"/><rect x="1860.7" y="205.1" width="2" height="1.8" fill="#0f8f0f"/><rect x="1913.7" y="164.6" width="2.4" height="2.2" fill="#2fc02f"/><rect x="1892" y="229.2" width="3.7" height="2.2" fill="#0a5a0a"/><rect x="1875.8" y="202.6" width="5.3" height="3" fill="#23e223"/><rect x="1863.6" y="178.9" width="3.2" height="2.6" fill="#0a5a0a"/><rect x="1860.7" y="169.5" width="3.7" height="2.6" fill="#0f8f0f"/><rect x="1881" y="203.9" width="4" height="4.2" fill="#5cf05c"/><rect x="1900.6" y="193.7" width="2.9" height="2.2" fill="#23e223"/><rect x="1899" y="165.1" width="2.5" height="2.2" fill="#5cf05c"/><rect x="1878.3" y="232.2" width="4.2" height="3" fill="#0a5a0a"/><rect x="1900.3" y="225.8" width="2.7" height="2.2" fill="#0a5a0a"/><rect x="1911.8" y="205.6" width="6.6" height="4.2" fill="#14a514"/><rect x="1872.2" y="155.4" width="2.3" height="1.8" fill="#0c6c0c"/><rect x="1877.1" y="198.6" width="4.8" height="4.2" fill="#0f8f0f"/><rect x="1894.7" y="217.7" width="4.6" height="2.6" fill="#0c7a0c"/><rect x="1868.4" y="222.8" width="3.4" height="2.6" fill="#0c6c0c"/><rect x="1868.1" y="191.9" width="3.8" height="3.6" fill="#5cf05c"/><rect x="1857.2" y="202.4" width="2.9" height="2.2" fill="#14a514"/><rect x="1894.8" y="163.8" width="6.1" height="4.2" fill="#23e223"/><rect x="1922.3" y="186.2" width="2.1" height="2.6" fill="#2fc02f"/><rect x="1898.9" y="149.9" width="2.8" height="2.2" fill="#0c6c0c"/><rect x="1897.6" y="176.3" width="3.7" height="3" fill="#0c7a0c"/><rect x="1876.1" y="213.6" width="4.5" height="4.2" fill="#0f8f0f"/><rect x="1906.7" y="155.1" width="2.3" height="2.2" fill="#0c6c0c"/><rect x="1924.8" y="199.4" width="3.7" height="3" fill="#14a514"/><rect x="1880.3" y="170" width="3.6" height="3" fill="#23e223"/><rect x="1898.6" y="213.8" width="5.1" height="3" fill="#0f8f0f"/><rect x="1914.9" y="165.2" width="4.5" height="2.6" fill="#2fc02f"/><rect x="1917.1" y="164.1" width="2.1" height="2.6" fill="#0a5a0a"/><rect x="1900.7" y="208" width="7.3" height="4.2" fill="#1fd21f"/><rect x="1887.4" y="190.1" width="3.3" height="2.2" fill="#1fd21f"/><rect x="1866.9" y="185.2" width="5.2" height="3.6" fill="#0c7a0c"/><rect x="1901.9" y="161.6" width="5.3" height="4.2" fill="#1fd21f"/><rect x="1876.4" y="171.1" width="2.5" height="3" fill="#0f8f0f"/><rect x="1896.2" y="186.7" width="4" height="2.6" fill="#23e223"/><rect x="1884.4" y="202.7" width="5.7" height="4.2" fill="#23e223"/><rect x="1916.8" y="185.6" width="2.5" height="2.2" fill="#14a514"/><rect x="1896" y="221.1" width="3.8" height="2.2" fill="#0c7a0c"/><rect x="1925.5" y="199.2" width="1.9" height="1.8" fill="#0a5a0a"/><rect x="1917.7" y="178.1" width="4" height="2.6" fill="#23e223"/><rect x="1893.6" y="205.3" width="6.3" height="3.6" fill="#1fd21f"/><rect x="1915" y="181" width="5.2" height="3" fill="#0c7a0c"/><rect x="1896.7" y="223" width="6.8" height="4.2" fill="#1fd21f"/><rect x="1894.1" y="165.8" width="3.4" height="3" fill="#23e223"/><rect x="1917.5" y="169" width="2.1" height="1.8" fill="#0c6c0c"/><rect x="1889.9" y="225.6" width="3.2" height="3" fill="#2fc02f"/><rect x="1869" y="175.6" width="2.9" height="3" fill="#0f8f0f"/><rect x="1877.8" y="175.7" width="3.5" height="3" fill="#1fd21f"/><rect x="1924.9" y="168.2" width="2.9" height="3" fill="#0a5a0a"/><rect x="1878.4" y="204" width="3.5" height="3" fill="#0f8f0f"/><rect x="1877" y="223.7" width="3.5" height="2.6" fill="#2fc02f"/><rect x="1907.8" y="163.9" width="3.9" height="2.2" fill="#14a514"/><rect x="1885.4" y="175.5" width="3.2" height="3" fill="#14a514"/><rect x="1903.5" y="173.7" width="3.7" height="2.6" fill="#1fd21f"/><rect x="1873" y="165.8" width="2.4" height="2.6" fill="#14a514"/><rect x="1866.6" y="195.1" width="3.2" height="3" fill="#1fd21f"/><rect x="1907.5" y="180.6" width="5.7" height="3.6" fill="#0f8f0f"/><rect x="1860.7" y="195.5" width="3.1" height="2.6" fill="#0f8f0f"/><rect x="1900.1" y="201.3" width="5" height="4.2" fill="#1fd21f"/><rect x="1914.2" y="225.5" width="2.8" height="2.6" fill="#0c6c0c"/><rect x="1885.2" y="197.3" width="2" height="2.2" fill="#23e223"/><rect x="1887.4" y="208.8" width="2.6" height="2.2" fill="#0f8f0f"/><rect x="1862" y="194.1" width="2.6" height="2.2" fill="#0c6c0c"/><rect x="1873.1" y="187.9" width="5.7" height="3.6" fill="#1fd21f"/><rect x="1905.8" y="206.6" width="5.7" height="3.6" fill="#0c7a0c"/><rect x="1891" y="224.8" width="2.6" height="1.8" fill="#14a514"/><rect x="1907.5" y="229.8" width="2" height="1.8" fill="#14a514"/><rect x="1917.8" y="190.4" width="2.6" height="3" fill="#0c7a0c"/><rect x="1918.4" y="176.4" width="2.4" height="3" fill="#0a5a0a"/><rect x="1867.2" y="191.2" width="3" height="2.6" fill="#0c7a0c"/><rect x="1884.7" y="214.8" width="4.6" height="3" fill="#0f8f0f"/><rect x="1858.1" y="186" width="4.6" height="2.6" fill="#2fc02f"/><rect x="1884.7" y="167.2" width="6.8" height="4.2" fill="#0c7a0c"/><rect x="1913.8" y="224.3" width="3" height="2.2" fill="#0c6c0c"/><rect x="1912" y="175.9" width="2.1" height="2.6" fill="#23e223"/><rect x="1909.7" y="216" width="3.4" height="3" fill="#5cf05c"/><rect x="1902.9" y="211.6" width="2.7" height="2.2" fill="#1fd21f"/><rect x="1894.6" y="171.6" width="2.5" height="2.2" fill="#0f8f0f"/><rect x="1884.7" y="226" width="2.2" height="2.6" fill="#0f8f0f"/><rect x="1880.9" y="231.7" width="2.6" height="1.8" fill="#0f8f0f"/><rect x="1879.1" y="185.9" width="2.3" height="2.2" fill="#1fd21f"/><rect x="1859.1" y="180.8" width="3.2" height="1.8" fill="#0a5a0a"/><rect x="1908.3" y="199.6" width="3.4" height="3" fill="#5cf05c"/><rect x="1892.1" y="201.5" width="2.9" height="2.6" fill="#1fd21f"/><rect x="1916.9" y="167.2" width="3.1" height="2.2" fill="#0c6c0c"/><rect x="1908.1" y="159.3" width="2.2" height="2.2" fill="#0a5a0a"/><rect x="1917.1" y="173.5" width="4.3" height="2.6" fill="#0c6c0c"/><rect x="1866.7" y="197.3" width="2.6" height="2.6" fill="#0c7a0c"/><rect x="1878.8" y="202" width="4.1" height="3.6" fill="#0c7a0c"/><rect x="1926" y="189.2" width="3.6" height="3" fill="#2fc02f"/><rect x="1905" y="234" width="3" height="2.2" fill="#2fc02f"/><rect x="1921.9" y="211" width="2.3" height="2.2" fill="#0a5a0a"/><rect x="1889.6" y="160.9" width="4.5" height="2.6" fill="#14a514"/><rect x="1910" y="168.2" width="5.7" height="4.2" fill="#0f8f0f"/><rect x="1916.5" y="227.8" width="2.9" height="2.2" fill="#0f8f0f"/><rect x="1869" y="173.8" width="3.1" height="2.6" fill="#0a5a0a"/><rect x="1856.5" y="179.1" width="2.5" height="1.8" fill="#14a514"/><rect x="1865.5" y="201.9" width="2.9" height="3" fill="#0a5a0a"/><rect x="1906.9" y="211" width="3.2" height="2.6" fill="#0c7a0c"/><rect x="1925.3" y="172.5" width="1.8" height="1.8" fill="#0a5a0a"/><rect x="1883" y="230.5" width="3.2" height="1.8" fill="#0f8f0f"/><rect x="1906.1" y="193" width="3.4" height="2.2" fill="#1fd21f"/><rect x="1877.8" y="210" width="5.2" height="3" fill="#0c7a0c"/><rect x="1870.2" y="176.9" width="7.1" height="4.2" fill="#0c7a0c"/><rect x="1856.5" y="209.5" width="4.7" height="2.6" fill="#0f8f0f"/><rect x="1909.5" y="206.5" width="7.1" height="4.2" fill="#1fd21f"/><rect x="1891.5" y="231.4" width="1.6" height="1.8" fill="#0a5a0a"/>
</g>
<g filter="url(#bl2)">
<ellipse cx="1856.5" cy="199" rx="4" ry="10" fill="#22e022"/>
<ellipse cx="1895" cy="186" rx="7" ry="15" fill="#20dc20"/>
<ellipse cx="1890" cy="212" rx="9" ry="5" fill="#1fd01f"/>
<ellipse cx="1945" cy="196" rx="20" ry="41" fill="#1212f0" transform="rotate(9 1945 196)"/>
<ellipse cx="1945" cy="196" rx="16" ry="36" fill="#1010ff" transform="rotate(9 1945 196)"/>
<ellipse cx="1918" cy="149" rx="17" ry="5.5" fill="#ffb020" transform="rotate(-8 1918 149)"/>
<ellipse cx="1924" cy="148" rx="8" ry="2.5" fill="#e03010"/>
<ellipse cx="1880" cy="160" rx="7" ry="4.5" fill="#ffc020"/>
<ellipse cx="1882" cy="161.5" rx="3.5" ry="2.5" fill="#f03010"/>
<ellipse cx="1876" cy="174.5" rx="9" ry="4" fill="#ff9020" transform="rotate(-25 1876 174.5)"/>
<ellipse cx="1904" cy="194" rx="6" ry="10" fill="#e8e020"/>
<ellipse cx="1890" cy="203" rx="4" ry="4" fill="#f0c020"/>
<ellipse cx="1897" cy="215.5" rx="5" ry="3.5" fill="#ff3010"/>
<ellipse cx="1898" cy="223" rx="4" ry="4" fill="#c0e020"/>
<ellipse cx="1965.5" cy="167.5" rx="2.5" ry="5.5" fill="#f0e040" transform="rotate(-20 1965.5 167.5)"/>
<ellipse cx="1930" cy="186" rx="3" ry="6" fill="#20e080"/>
<ellipse cx="1944" cy="158" rx="4" ry="2.5" fill="#60e0e0"/>
</g>
<g filter="url(#bl1)">
<rect x="1891.5" y="412.5" width="5.4" height="3" fill="#0c6c0c"/><rect x="1898" y="410.6" width="3.2" height="1.8" fill="#14a514"/><rect x="1862" y="310.1" width="2.4" height="1.8" fill="#0f8f0f"/><rect x="1849.2" y="320.9" width="2.8" height="1.8" fill="#0c6c0c"/><rect x="1891.1" y="371.2" width="5" height="4.2" fill="#1fd21f"/><rect x="1894.6" y="409.3" width="3.5" height="2.2" fill="#0a5a0a"/><rect x="1881.2" y="427" width="2.4" height="1.8" fill="#0a5a0a"/><rect x="1830.6" y="353.8" width="5.1" height="3" fill="#14a514"/><rect x="1834.9" y="388.5" width="3.6" height="3" fill="#0f8f0f"/><rect x="1885.7" y="371.5" width="7.5" height="4.2" fill="#5cf05c"/><rect x="1823.5" y="369.1" width="5.6" height="3.6" fill="#0f8f0f"/><rect x="1874.2" y="415.9" width="2.6" height="1.8" fill="#0c6c0c"/><rect x="1843.3" y="379.3" width="2.9" height="2.2" fill="#5cf05c"/><rect x="1849.4" y="341.7" width="3.6" height="2.6" fill="#5cf05c"/><rect x="1897.5" y="338.6" width="3.1" height="3" fill="#5cf05c"/><rect x="1884.1" y="349.6" width="3.5" height="2.2" fill="#23e223"/><rect x="1872.3" y="324.9" width="5" height="3" fill="#0c7a0c"/><rect x="1858.4" y="355.9" width="3.1" height="2.6" fill="#14a514"/><rect x="1897.1" y="406.6" width="5.3" height="3" fill="#0a5a0a"/><rect x="1895.8" y="345.5" width="3.6" height="2.6" fill="#1fd21f"/><rect x="1824.8" y="389.3" width="3.5" height="2.6" fill="#0c6c0c"/><rect x="1825.7" y="340.2" width="4.4" height="3" fill="#0f8f0f"/><rect x="1890.1" y="398.9" width="3.7" height="2.6" fill="#0c7a0c"/><rect x="1870.1" y="349.8" width="2.4" height="2.2" fill="#5cf05c"/><rect x="1846.6" y="424.8" width="2.1" height="2.2" fill="#0a5a0a"/><rect x="1881.1" y="403.4" width="5.7" height="4.2" fill="#5cf05c"/><rect x="1903.2" y="329" width="2.3" height="1.8" fill="#14a514"/><rect x="1854.7" y="334.5" width="2.6" height="2.2" fill="#14a514"/><rect x="1821.2" y="367.1" width="2.5" height="1.8" fill="#0a5a0a"/><rect x="1814.5" y="365.2" width="3.9" height="2.6" fill="#0f8f0f"/><rect x="1889.5" y="311.7" width="4.7" height="2.6" fill="#2fc02f"/><rect x="1880.4" y="379.9" width="3.6" height="2.2" fill="#5cf05c"/><rect x="1868.5" y="326.1" width="5.3" height="3.6" fill="#0c7a0c"/><rect x="1854.5" y="326.6" width="6" height="3.6" fill="#23e223"/><rect x="1877.4" y="373.6" width="3.5" height="4.2" fill="#23e223"/><rect x="1858.6" y="415.3" width="4.8" height="3" fill="#14a514"/><rect x="1837.8" y="389.5" width="4.5" height="2.6" fill="#5cf05c"/><rect x="1857.9" y="355.8" width="3" height="2.6" fill="#23e223"/><rect x="1843.1" y="349.8" width="4.3" height="3" fill="#5cf05c"/><rect x="1828.4" y="331.7" width="3.3" height="2.6" fill="#0c6c0c"/><rect x="1832.1" y="368.3" width="5.3" height="3" fill="#0f8f0f"/><rect x="1875.7" y="367.3" width="3.3" height="3" fill="#14a514"/><rect x="1847.2" y="383.8" width="3.2" height="3.6" fill="#14a514"/><rect x="1847.1" y="425" width="5.4" height="3" fill="#0a5a0a"/><rect x="1886.1" y="403.8" width="4.9" height="4.2" fill="#1fd21f"/><rect x="1842.3" y="354.2" width="2.5" height="2.2" fill="#0c7a0c"/><rect x="1854.3" y="341.8" width="3.9" height="3.6" fill="#5cf05c"/><rect x="1823.8" y="409.5" width="4.3" height="3" fill="#14a514"/><rect x="1861" y="394.6" width="3.2" height="3" fill="#0f8f0f"/><rect x="1887.5" y="312.3" width="2.3" height="1.8" fill="#0a5a0a"/><rect x="1856.7" y="338.2" width="2.1" height="2.2" fill="#0f8f0f"/><rect x="1892.9" y="363.2" width="3.5" height="3" fill="#0c7a0c"/><rect x="1901.4" y="409.5" width="1.8" height="1.8" fill="#0f8f0f"/><rect x="1883.8" y="314" width="2.5" height="1.8" fill="#2fc02f"/><rect x="1828.7" y="337.5" width="2.8" height="2.6" fill="#0c6c0c"/><rect x="1845.8" y="395.6" width="7.1" height="4.2" fill="#0c7a0c"/><rect x="1881.9" y="375.9" width="5.3" height="3.6" fill="#0c7a0c"/><rect x="1877.8" y="398.7" width="1.8" height="2.2" fill="#14a514"/><rect x="1816.3" y="369.6" width="2" height="2.2" fill="#0a5a0a"/><rect x="1824" y="396.2" width="3.4" height="3" fill="#0a5a0a"/><rect x="1874.3" y="411.6" width="5.9" height="4.2" fill="#1fd21f"/><rect x="1837.6" y="399.9" width="5.1" height="3" fill="#0c7a0c"/><rect x="1853.6" y="341" width="5.6" height="4.2" fill="#0f8f0f"/><rect x="1821.1" y="406.3" width="4.5" height="2.6" fill="#0a5a0a"/><rect x="1880.7" y="397.1" width="3.2" height="2.2" fill="#23e223"/><rect x="1896.6" y="418.8" width="3.1" height="3" fill="#0c6c0c"/><rect x="1833.3" y="364.9" width="4.7" height="3" fill="#5cf05c"/><rect x="1869" y="416.2" width="2.4" height="2.6" fill="#0a5a0a"/><rect x="1854.8" y="361.6" width="4.2" height="4.2" fill="#5cf05c"/><rect x="1911.2" y="405.2" width="2.5" height="2.6" fill="#0a5a0a"/><rect x="1841.2" y="326.4" width="4.4" height="3" fill="#0c6c0c"/><rect x="1865.3" y="409.2" width="3.9" height="3" fill="#14a514"/><rect x="1861.7" y="413.6" width="2.5" height="1.8" fill="#0f8f0f"/><rect x="1882.8" y="317.5" width="2.1" height="2.2" fill="#14a514"/><rect x="1888.4" y="342.3" width="3.9" height="3" fill="#14a514"/><rect x="1896.8" y="334.1" width="2.1" height="1.8" fill="#0a5a0a"/><rect x="1885.8" y="328.7" width="3.6" height="3" fill="#1fd21f"/><rect x="1833.7" y="333.1" width="3.1" height="2.6" fill="#0a5a0a"/><rect x="1865.9" y="423" width="3.6" height="2.2" fill="#0a5a0a"/><rect x="1880.3" y="355.8" width="4.3" height="3" fill="#14a514"/><rect x="1852.2" y="336.6" width="2.6" height="2.6" fill="#0f8f0f"/><rect x="1852.2" y="334.3" width="4.9" height="4.2" fill="#0f8f0f"/><rect x="1874.3" y="391.1" width="3.3" height="2.2" fill="#1fd21f"/><rect x="1846.7" y="380" width="4.7" height="3.6" fill="#5cf05c"/><rect x="1895.9" y="367.3" width="5.4" height="4.2" fill="#23e223"/><rect x="1822.4" y="357.2" width="3.2" height="1.8" fill="#2fc02f"/><rect x="1890.1" y="399.1" width="4.3" height="3" fill="#5cf05c"/><rect x="1857" y="321.1" width="3.6" height="2.2" fill="#0a5a0a"/><rect x="1874.8" y="309.8" width="2.5" height="2.6" fill="#14a514"/><rect x="1898" y="370.8" width="4.6" height="4.2" fill="#1fd21f"/><rect x="1869.1" y="378.3" width="2.7" height="2.6" fill="#14a514"/><rect x="1879.2" y="413.4" width="2" height="1.8" fill="#14a514"/><rect x="1842.2" y="422" width="4.1" height="3" fill="#0a5a0a"/><rect x="1880.6" y="327.2" width="1.9" height="2.2" fill="#5cf05c"/><rect x="1839.4" y="410.7" width="2.6" height="3" fill="#0f8f0f"/><rect x="1861.4" y="387.9" width="4.7" height="3" fill="#14a514"/><rect x="1886.1" y="396.4" width="3.2" height="2.2" fill="#1fd21f"/><rect x="1838.1" y="378.9" width="5" height="3" fill="#5cf05c"/><rect x="1821.3" y="391.5" width="4.1" height="3" fill="#0c6c0c"/><rect x="1847.8" y="389.7" width="3.3" height="3" fill="#5cf05c"/><rect x="1853" y="392.5" width="2.9" height="2.2" fill="#23e223"/><rect x="1881.1" y="393.6" width="2.1" height="2.6" fill="#1fd21f"/><rect x="1874.2" y="311.4" width="2.5" height="2.2" fill="#2fc02f"/><rect x="1881.4" y="344.8" width="7.1" height="4.2" fill="#0f8f0f"/><rect x="1881.4" y="402.8" width="3" height="2.6" fill="#1fd21f"/><rect x="1853.7" y="420.4" width="1.9" height="1.8" fill="#0a5a0a"/><rect x="1860.3" y="423.1" width="3.7" height="2.2" fill="#0a5a0a"/><rect x="1853" y="325.2" width="4.4" height="3" fill="#14a514"/><rect x="1859.6" y="390.8" width="2.8" height="3" fill="#0c7a0c"/><rect x="1886" y="368.5" width="4.7" height="3" fill="#0c7a0c"/><rect x="1818.1" y="385.5" width="4.1" height="3" fill="#2fc02f"/><rect x="1864.3" y="377.7" width="3.8" height="3" fill="#1fd21f"/><rect x="1862.6" y="405.1" width="5.2" height="3.6" fill="#1fd21f"/><rect x="1846.7" y="346.7" width="2.8" height="2.6" fill="#0c7a0c"/><rect x="1867.9" y="358.7" width="2.9" height="3" fill="#0c7a0c"/><rect x="1849.7" y="392.4" width="3.5" height="2.2" fill="#0c7a0c"/><rect x="1887.2" y="409.9" width="3.1" height="2.2" fill="#0f8f0f"/><rect x="1896.7" y="352.7" width="3" height="3" fill="#1fd21f"/><rect x="1823.5" y="401.6" width="2" height="1.8" fill="#0c6c0c"/><rect x="1873.6" y="423.8" width="3.1" height="2.2" fill="#0a5a0a"/><rect x="1899.4" y="342.9" width="7.3" height="4.2" fill="#5cf05c"/><rect x="1886.8" y="416.2" width="3.1" height="1.8" fill="#14a514"/><rect x="1844.7" y="361" width="3.4" height="2.2" fill="#5cf05c"/><rect x="1864.4" y="359" width="2" height="2.2" fill="#23e223"/><rect x="1816.3" y="401.8" width="4.6" height="3" fill="#14a514"/><rect x="1879" y="399.9" width="2.3" height="2.6" fill="#1fd21f"/><rect x="1887.4" y="354.3" width="3.3" height="3" fill="#5cf05c"/><rect x="1863.3" y="405.4" width="3.3" height="3.6" fill="#5cf05c"/><rect x="1850.5" y="364.6" width="2.2" height="2.2" fill="#5cf05c"/><rect x="1868.2" y="404.9" width="4.9" height="3" fill="#0f8f0f"/><rect x="1843.2" y="331.9" width="3.6" height="2.6" fill="#5cf05c"/><rect x="1847.1" y="411.8" width="4.3" height="3" fill="#0c6c0c"/><rect x="1894.5" y="353.7" width="7.5" height="4.2" fill="#14a514"/><rect x="1860.7" y="335.6" width="4.2" height="3" fill="#23e223"/><rect x="1860.5" y="412" width="3.2" height="2.2" fill="#0f8f0f"/><rect x="1850.9" y="351.6" width="5.3" height="3" fill="#0f8f0f"/><rect x="1878.9" y="411.9" width="2.7" height="2.2" fill="#2fc02f"/><rect x="1822.4" y="392.9" width="3.9" height="2.6" fill="#0a5a0a"/><rect x="1855.8" y="372.9" width="3.7" height="3" fill="#23e223"/><rect x="1857.1" y="318" width="4" height="2.6" fill="#0a5a0a"/><rect x="1834.5" y="365.2" width="4.3" height="2.6" fill="#14a514"/><rect x="1904.9" y="398.5" width="2.1" height="2.2" fill="#0a5a0a"/><rect x="1823.7" y="338.3" width="3.2" height="1.8" fill="#0a5a0a"/><rect x="1890.3" y="332.5" width="3.5" height="3.6" fill="#0f8f0f"/><rect x="1848.7" y="420.1" width="3.8" height="2.2" fill="#0c6c0c"/><rect x="1878.2" y="331.1" width="3.2" height="2.2" fill="#5cf05c"/><rect x="1880.4" y="366.2" width="3.4" height="3" fill="#5cf05c"/><rect x="1871.8" y="309" width="2.9" height="2.2" fill="#0f8f0f"/><rect x="1828.4" y="378.9" width="4.7" height="3" fill="#23e223"/><rect x="1906.2" y="331" width="2.7" height="1.8" fill="#2fc02f"/><rect x="1862" y="410.9" width="4.8" height="3" fill="#0f8f0f"/><rect x="1818.4" y="392.4" width="5.1" height="3" fill="#14a514"/><rect x="1909.5" y="331" width="4.3" height="2.6" fill="#0f8f0f"/><rect x="1854.4" y="423.1" width="1.6" height="1.8" fill="#2fc02f"/><rect x="1858.6" y="418.2" width="4.8" height="3" fill="#0f8f0f"/><rect x="1870.4" y="400.2" width="3.5" height="2.6" fill="#14a514"/><rect x="1891.3" y="355.7" width="5.6" height="4.2" fill="#23e223"/><rect x="1809" y="371.4" width="3.5" height="2.2" fill="#0a5a0a"/><rect x="1818.4" y="404.1" width="3.6" height="3" fill="#0c6c0c"/><rect x="1870.7" y="401.1" width="2.5" height="2.6" fill="#0c7a0c"/><rect x="1864" y="351.7" width="5" height="3.6" fill="#23e223"/><rect x="1861.9" y="321.1" width="4.2" height="2.6" fill="#0a5a0a"/>
<rect x="1888.9" y="368.1" width="4" height="2.2" fill="#0f8f0f"/><rect x="1882.2" y="384.7" width="6.7" height="4.2" fill="#1fd21f"/><rect x="1891.7" y="382" width="3.9" height="2.2" fill="#1fd21f"/><rect x="1887.6" y="398.8" width="5.1" height="3" fill="#2fc02f"/><rect x="1874.1" y="369.3" width="3.7" height="3" fill="#1fd21f"/><rect x="1882.2" y="384.1" width="5.7" height="3.6" fill="#5cf05c"/><rect x="1894.2" y="366" width="4" height="4.2" fill="#0f8f0f"/><rect x="1897" y="359.1" width="4.3" height="3.6" fill="#23e223"/><rect x="1889.5" y="364.1" width="4.3" height="3.6" fill="#1fd21f"/><rect x="1857.8" y="361.1" width="2.7" height="3" fill="#0a5a0a"/><rect x="1869.2" y="376.3" width="5.2" height="3" fill="#0c7a0c"/><rect x="1898.5" y="363.5" width="2.7" height="3" fill="#0c7a0c"/><rect x="1887.8" y="361.9" width="4.1" height="3.6" fill="#23e223"/><rect x="1869.5" y="393.1" width="2.2" height="2.6" fill="#23e223"/><rect x="1851.9" y="364.1" width="3.3" height="2.2" fill="#2fc02f"/><rect x="1896.2" y="380.2" width="3.3" height="2.6" fill="#0f8f0f"/><rect x="1890.1" y="348.8" width="5" height="3.6" fill="#14a514"/><rect x="1852.8" y="377.8" width="4.2" height="2.6" fill="#0a5a0a"/><rect x="1889.8" y="401.3" width="2.2" height="2.6" fill="#0c6c0c"/><rect x="1895.4" y="367.1" width="2.9" height="2.2" fill="#14a514"/><rect x="1870.2" y="372.9" width="3.4" height="2.2" fill="#1fd21f"/><rect x="1857.4" y="356.7" width="3.1" height="1.8" fill="#2fc02f"/><rect x="1865.4" y="369.4" width="4.3" height="2.6" fill="#23e223"/><rect x="1868.4" y="359.2" width="3.5" height="3" fill="#5cf05c"/><rect x="1878" y="338.1" width="2" height="2.2" fill="#0c6c0c"/><rect x="1866.4" y="365.2" width="3.6" height="4.2" fill="#1fd21f"/><rect x="1872.8" y="372.6" width="3.2" height="2.2" fill="#14a514"/><rect x="1862.7" y="403.1" width="2.1" height="1.8" fill="#2fc02f"/><rect x="1870" y="359.1" width="5.2" height="3.6" fill="#0f8f0f"/><rect x="1883.8" y="344.9" width="5.3" height="3" fill="#14a514"/><rect x="1885" y="395.7" width="3.2" height="2.2" fill="#23e223"/><rect x="1893.3" y="360.9" width="2.9" height="2.2" fill="#0f8f0f"/><rect x="1885.8" y="357.7" width="2.4" height="3" fill="#0f8f0f"/><rect x="1871.2" y="371.6" width="3.8" height="4.2" fill="#0c7a0c"/><rect x="1889.6" y="378.9" width="6.3" height="3.6" fill="#1fd21f"/><rect x="1894.2" y="358.1" width="5.5" height="3.6" fill="#0f8f0f"/><rect x="1863.4" y="406.2" width="2.9" height="1.8" fill="#0c6c0c"/><rect x="1868.2" y="353.5" width="3.1" height="3" fill="#0c7a0c"/><rect x="1876.6" y="377.9" width="2.7" height="3" fill="#0c7a0c"/><rect x="1861.7" y="379.8" width="3.3" height="2.6" fill="#14a514"/><rect x="1862.6" y="384.1" width="3.1" height="3" fill="#1fd21f"/><rect x="1881.3" y="403.2" width="3.2" height="1.8" fill="#14a514"/><rect x="1864.1" y="370.3" width="4" height="2.6" fill="#14a514"/><rect x="1859.2" y="362.8" width="4.9" height="3" fill="#14a514"/><rect x="1893.7" y="390.1" width="3.1" height="2.6" fill="#0f8f0f"/><rect x="1871.8" y="355.8" width="3.6" height="2.6" fill="#5cf05c"/><rect x="1867.5" y="338.9" width="2.8" height="2.6" fill="#0c6c0c"/><rect x="1886.6" y="372.7" width="4" height="2.6" fill="#23e223"/><rect x="1897.8" y="386.4" width="2.4" height="2.6" fill="#2fc02f"/><rect x="1878.9" y="356" width="3.1" height="3" fill="#0f8f0f"/><rect x="1854.1" y="393.4" width="4.7" height="3" fill="#0f8f0f"/><rect x="1881.9" y="391.1" width="4.5" height="4.2" fill="#0f8f0f"/><rect x="1876.4" y="380.3" width="3.5" height="2.6" fill="#0f8f0f"/><rect x="1861.6" y="400.3" width="2.8" height="1.8" fill="#0a5a0a"/><rect x="1867.4" y="391.9" width="3.6" height="4.2" fill="#14a514"/><rect x="1864.8" y="358.4" width="3.5" height="2.2" fill="#14a514"/><rect x="1849.3" y="369.9" width="2.3" height="1.8" fill="#0f8f0f"/><rect x="1877.8" y="367.5" width="4.7" height="2.6" fill="#23e223"/><rect x="1867.3" y="395.9" width="3.6" height="2.6" fill="#0f8f0f"/><rect x="1873.8" y="352.3" width="2.1" height="2.2" fill="#23e223"/><rect x="1872.5" y="339.5" width="3.8" height="3" fill="#0a5a0a"/><rect x="1883.7" y="379.4" width="6.4" height="3.6" fill="#0f8f0f"/><rect x="1853" y="392.4" width="3" height="1.8" fill="#0c6c0c"/><rect x="1893.1" y="368.1" width="5.1" height="3.6" fill="#1fd21f"/><rect x="1870.5" y="379.4" width="2.5" height="2.2" fill="#5cf05c"/><rect x="1895.9" y="383.8" width="3.2" height="2.2" fill="#23e223"/><rect x="1862" y="383" width="2.6" height="2.2" fill="#23e223"/><rect x="1872.3" y="402.4" width="4" height="2.2" fill="#0f8f0f"/><rect x="1893.8" y="389.3" width="3.1" height="2.6" fill="#1fd21f"/><rect x="1884.1" y="389.7" width="3.9" height="2.2" fill="#0c7a0c"/><rect x="1884.8" y="396.3" width="6" height="4.2" fill="#23e223"/><rect x="1869.4" y="402.5" width="2.3" height="2.6" fill="#0f8f0f"/><rect x="1864.1" y="375.7" width="3.1" height="2.6" fill="#23e223"/><rect x="1899.8" y="350.7" width="2.5" height="3" fill="#0c6c0c"/><rect x="1887.8" y="390" width="2" height="2.2" fill="#23e223"/><rect x="1872.1" y="382.8" width="4.6" height="2.6" fill="#1fd21f"/><rect x="1885.3" y="389.9" width="3.3" height="2.6" fill="#0f8f0f"/><rect x="1877.6" y="386" width="5.1" height="3" fill="#14a514"/><rect x="1870.7" y="350.5" width="2.6" height="3" fill="#0f8f0f"/><rect x="1871.6" y="395.6" width="3.7" height="2.6" fill="#14a514"/><rect x="1889.4" y="388.8" width="4.5" height="2.6" fill="#0c7a0c"/><rect x="1878.9" y="380.8" width="3.3" height="3" fill="#0f8f0f"/><rect x="1884.6" y="380.3" width="3.3" height="2.2" fill="#5cf05c"/><rect x="1867.4" y="339.5" width="4" height="3" fill="#14a514"/>
</g>
<g filter="url(#bl2)">
<ellipse cx="1920" cy="364.5" rx="21" ry="38" fill="#1212f0" transform="rotate(-12 1920 364.5)"/>
<ellipse cx="1920" cy="364.5" rx="17" ry="33" fill="#1010ff" transform="rotate(-12 1920 364.5)"/>
<ellipse cx="1876" cy="332" rx="6.5" ry="8.5" fill="#e8d020"/>
<ellipse cx="1884.5" cy="319.5" rx="5" ry="3" fill="#f0b020"/>
<ellipse cx="1871" cy="356.5" rx="5.5" ry="3.5" fill="#ff9010"/>
<ellipse cx="1891" cy="364.5" rx="6.5" ry="6.5" fill="#e8e020"/>
<ellipse cx="1880" cy="362" rx="6" ry="8" fill="#20d820"/>
<ellipse cx="1890" cy="338" rx="6" ry="6" fill="#20d020"/>
<ellipse cx="1911" cy="335.2" rx="2.5" ry="2.5" fill="#fff"/>
<ellipse cx="1899" cy="358" rx="2" ry="2" fill="#d0e8ff"/>
<ellipse cx="1916" cy="403" rx="6" ry="2" fill="#30e090"/>
</g>
</g>
<rect x="1950" y="453.2" width="41" height="9.2" fill="#fff"/>
<text x="1970.5" y="461" font-size="6.6" text-anchor="middle" fill="#222" >10 µm</text>
<rect x="1780" y="472.7" width="78" height="5.8" fill="#000"/>
<text x="1777.6" y="501.7" font-size="24.8" text-anchor="start" fill="#000" textLength="82" lengthAdjust="spacingAndGlyphs" >200 µm</text>
</g>
<g id="panel-c">
<text x="-1.5" y="592.8" font-size="45" text-anchor="start" fill="#000" font-weight="bold" >c</text>
<text x="253.5" y="611.2" font-size="27" text-anchor="middle" fill="#000" textLength="90" lengthAdjust="spacingAndGlyphs" >Vehicle</text>
<text x="742" y="612.6" font-size="27" text-anchor="middle" fill="#000" textLength="178" lengthAdjust="spacingAndGlyphs" >NI301A 10 nM</text>
<defs>
<filter id="tex1" x="0" y="0" width="100%" height="100%" color-interpolation-filters="sRGB">
<feTurbulence type="turbulence" baseFrequency="0.11" numOctaves="2" seed="4"/>
<feColorMatrix type="matrix" values="-3.6 0 0 0 0.44  -3.6 0 0 0 0.44  -3.6 0 0 0 0.44  0 0 0 0 1" result="A"/>
<feTurbulence type="fractalNoise" baseFrequency="0.4" numOctaves="2" seed="8"/>
<feColorMatrix type="matrix" values="4 0 0 0 -2.15  4 0 0 0 -2.15  4 0 0 0 -2.15  0 0 0 0 1" result="B"/>
<feComposite in="A" in2="B" operator="arithmetic" k1="0" k2="0.7" k3="0.24" k4="0.03" result="AB"/>
<feTurbulence type="fractalNoise" baseFrequency="0.28" numOctaves="2" seed="12"/>
<feColorMatrix type="matrix" values="9 0 0 0 -6.7  9 0 0 0 -6.7  9 0 0 0 -6.7  0 0 0 0 1" result="C"/>
<feComposite in="AB" in2="C" operator="arithmetic" k1="0" k2="1" k3="0.9" k4="0" result="ABC"/>
<feTurbulence type="fractalNoise" baseFrequency="0.009" numOctaves="2" seed="3"/>
<feColorMatrix type="matrix" values="1.6 0 0 0 -0.3  1.6 0 0 0 -0.3  1.6 0 0 0 -0.3  0 0 0 0 1" result="M"/>
<feComposite in="ABC" in2="M" operator="arithmetic" k1="1.3" k2="0.4" k3="0" k4="0"/>
</filter>
<filter id="tex2" x="0" y="0" width="100%" height="100%" color-interpolation-filters="sRGB">
<feTurbulence type="turbulence" baseFrequency="0.11" numOctaves="2" seed="23"/>
<feColorMatrix type="matrix" values="-3.6 0 0 0 0.44  -3.6 0 0 0 0.44  -3.6 0 0 0 0.44  0 0 0 0 1" result="A"/>
<feTurbulence type="fractalNoise" baseFrequency="0.4" numOctaves="2" seed="31"/>
<feColorMatrix type="matrix" values="4 0 0 0 -2.15  4 0 0 0 -2.15  4 0 0 0 -2.15  0 0 0 0 1" result="B"/>
<feComposite in="A" in2="B" operator="arithmetic" k1="0" k2="0.7" k3="0.24" k4="0.03" result="AB"/>
<feTurbulence type="fractalNoise" baseFrequency="0.28" numOctaves="2" seed="37"/>
<feColorMatrix type="matrix" values="9 0 0 0 -6.7  9 0 0 0 -6.7  9 0 0 0 -6.7  0 0 0 0 1" result="C"/>
<feComposite in="AB" in2="C" operator="arithmetic" k1="0" k2="1" k3="0.9" k4="0" result="ABC"/>
<feTurbulence type="fractalNoise" baseFrequency="0.009" numOctaves="2" seed="6"/>
<feColorMatrix type="matrix" values="1.6 0 0 0 -0.3  1.6 0 0 0 -0.3  1.6 0 0 0 -0.3  0 0 0 0 1" result="M"/>
<feComposite in="ABC" in2="M" operator="arithmetic" k1="1.3" k2="0.4" k3="0" k4="0"/>
</filter>
<clipPath id="ci1"><rect x="20.5" y="620.8" width="466.4" height="321.8"/></clipPath>
<clipPath id="ci2"><rect x="506.4" y="620.4" width="472.5" height="321.3"/></clipPath>
<filter id="spk" x="-30%" y="-30%" width="160%" height="160%" color-interpolation-filters="sRGB">
<feTurbulence type="fractalNoise" baseFrequency="0.3" numOctaves="2" seed="5" result="n"/>
<feColorMatrix in="n" type="matrix" values="0 0 0 0 0.85  0 0 0 0 0.85  0 0 0 0 0.85  7 0 0 0 -3.5" result="s"/>
<feGaussianBlur in="SourceAlpha" stdDeviation="2.2" result="b"/>
<feComposite in="s" in2="b" operator="in"/>
</filter>
<filter id="gedge" x="-10%" y="-10%" width="120%" height="120%">
<feTurbulence type="fractalNoise" baseFrequency="0.18" numOctaves="2" seed="2" result="n"/>
<feDisplacementMap in="SourceGraphic" in2="n" scale="5" xChannelSelector="R" yChannelSelector="G"/>
</filter>
</defs>
<rect x="20.5" y="620.8" width="466.4" height="321.8" fill="#000"/>
<rect x="506.4" y="620.4" width="472.5" height="321.3" fill="#000"/>
<g clip-path="url(#ci1)"><rect x="-180" y="570" width="800" height="800" filter="url(#tex1)" transform="rotate(-27 20 620)"/></g>
<g clip-path="url(#ci2)"><rect x="306" y="570" width="800" height="800" filter="url(#tex2)" transform="rotate(-27 506 620)"/></g>
<defs><linearGradient id="fadeR" x1="0" x2="1" y1="0" y2="0"><stop offset="0" stop-color="#000"/><stop offset="0.3" stop-color="#fff"/><stop offset="1" stop-color="#fff"/></linearGradient><mask id="mR" maskUnits="userSpaceOnUse" x="700" y="620" width="280" height="322"><rect x="700" y="620" width="280" height="322" fill="url(#fadeR)"/></mask></defs>
<g clip-path="url(#ci2)" mask="url(#mR)" style="mix-blend-mode:screen" opacity="0.75"><rect x="560" y="500" width="700" height="700" filter="url(#tex1)" transform="rotate(33 700 620)"/></g>
<ellipse cx="378" cy="650" rx="11.5" ry="10.1" fill="#fff" filter="url(#spk)" transform="rotate(0 378 650)"/>
<ellipse cx="452" cy="768" rx="14.4" ry="11.5" fill="#fff" filter="url(#spk)" transform="rotate(0 452 768)"/>
<ellipse cx="415" cy="770" rx="7.2" ry="4.3" fill="#fff" filter="url(#spk)" transform="rotate(0 415 770)"/>
<ellipse cx="312" cy="806" rx="11.5" ry="7.2" fill="#fff" filter="url(#spk)" transform="rotate(0 312 806)"/>
<ellipse cx="108" cy="800" rx="8.6" ry="10.1" fill="#fff" filter="url(#spk)" transform="rotate(0 108 800)"/>
<ellipse cx="140" cy="848" rx="20.2" ry="5.8" fill="#fff" filter="url(#spk)" transform="rotate(25 140 848)"/>
<ellipse cx="232" cy="860" rx="14.4" ry="4.3" fill="#fff" filter="url(#spk)" transform="rotate(-15 232 860)"/>
<ellipse cx="420" cy="880" rx="15.8" ry="13" fill="#fff" filter="url(#spk)" transform="rotate(0 420 880)"/>
<ellipse cx="385" cy="905" rx="10.1" ry="5.8" fill="#fff" filter="url(#spk)" transform="rotate(0 385 905)"/>
<ellipse cx="300" cy="868" rx="10.1" ry="5.8" fill="#fff" filter="url(#spk)" transform="rotate(0 300 868)"/>
<ellipse cx="318" cy="692" rx="15.8" ry="7.2" fill="#fff" filter="url(#spk)" transform="rotate(0 318 692)"/>
<ellipse cx="100" cy="668" rx="11.5" ry="4.3" fill="#fff" filter="url(#spk)" transform="rotate(0 100 668)"/>
<ellipse cx="440" cy="672" rx="10.1" ry="5.8" fill="#fff" filter="url(#spk)" transform="rotate(0 440 672)"/>
<ellipse cx="236" cy="888" rx="7.2" ry="4.3" fill="#fff" filter="url(#spk)" transform="rotate(0 236 888)"/>
<ellipse cx="80" cy="760" rx="18.7" ry="24.5" fill="#fff" filter="url(#spk)" transform="rotate(0 80 760)"/>
<ellipse cx="120" cy="820" rx="10.1" ry="11.5" fill="#fff" filter="url(#spk)" transform="rotate(0 120 820)"/>
<ellipse cx="420" cy="656" rx="8.6" ry="4.3" fill="#fff" filter="url(#spk)" transform="rotate(0 420 656)"/>
<g fill="#3ef21d" filter="url(#gedge)">
<polygon points="88.8,680 93.9,675.3 106.3,675.3 118.6,679 128.9,683.1 133,688.3 126.8,692.4 118.6,695 106.3,691.3 96,689.3 89.8,685.2"/>
<polygon points="54.9,730.4 61.1,722.2 71.3,719.1 81.6,724.2 89.8,734.5 97,746.8 99.1,757.1 93.9,765.3 85.7,769.4 77.5,773.5 69.3,781.7 63.1,784.8 57,779.7 52.9,769.4 58,761.2 61.1,750.9 59,740.6"/>
<polygon points="103.2,831 110.4,816.6 118.6,806.4 128.9,801.2 137.1,804.3 130.9,810.5 122.7,818.7 116.5,826.9 108.3,832"/>
<polygon points="102.2,838.2 112.4,840.2 120.6,845.4 110.4,843.3"/>
<ellipse cx="318.5" cy="700.5" rx="21" ry="6" transform="rotate(8 318.5 700.5)"/>
<ellipse cx="424" cy="659.5" rx="15" ry="3.8" transform="rotate(8 424 659.5)"/>
<ellipse cx="441" cy="686.5" rx="12.5" ry="5" transform="rotate(22 441 686.5)"/>
<ellipse cx="237.5" cy="746.2" rx="7" ry="3.2" transform="rotate(0 237.5 746.2)"/>
<ellipse cx="306" cy="866" rx="12" ry="3.5" transform="rotate(-8 306 866)"/>
<ellipse cx="303.5" cy="895" rx="10" ry="5.8" transform="rotate(-10 303.5 895)"/>
<ellipse cx="242" cy="893.5" rx="9" ry="4.5" transform="rotate(25 242 893.5)"/>
<ellipse cx="422.5" cy="874.5" rx="5.2" ry="5.2" transform="rotate(0 422.5 874.5)"/>
<ellipse cx="439.5" cy="889" rx="8" ry="4.8" transform="rotate(10 439.5 889)"/>
<ellipse cx="146" cy="854" rx="5.5" ry="2.8" transform="rotate(20 146 854)"/>
<ellipse cx="381" cy="639.5" rx="5" ry="2.5" transform="rotate(0 381 639.5)"/>
<ellipse cx="79.6" cy="788.9" rx="3" ry="5" transform="rotate(0 79.6 788.9)"/>
</g>
<polygon points="64.2,760.1 72.4,755 74.4,763.2 69.3,771.4 64.2,776.6 62.1,767.3" fill="#3c3c3c"/>
<ellipse cx="69.3" cy="735.5" rx="4" ry="2.5" fill="#1c1c1c"/>
<polygon points="59,742 66,746 70,752 66,758 60,760 61,751" fill="#151515"/>
<rect x="367" y="933.5" width="117" height="5" fill="#fff"/>
<text x="425.3" y="928.8" font-size="12" text-anchor="middle" fill="#8c8c8c" >500 µm</text>
<ellipse cx="890" cy="650" rx="14.4" ry="10.1" fill="#fff" filter="url(#spk)" transform="rotate(0 890 650)"/>
<ellipse cx="829" cy="710" rx="10.8" ry="7.9" fill="#fff" filter="url(#spk)" transform="rotate(0 829 710)"/>
<ellipse cx="592" cy="673" rx="15.8" ry="7.2" fill="#fff" filter="url(#spk)" transform="rotate(0 592 673)"/>
<ellipse cx="760" cy="762" rx="10.1" ry="7.2" fill="#fff" filter="url(#spk)" transform="rotate(0 760 762)"/>
<ellipse cx="612" cy="784" rx="7.2" ry="5.8" fill="#fff" filter="url(#spk)" transform="rotate(0 612 784)"/>
<ellipse cx="625" cy="815" rx="10.1" ry="8.6" fill="#fff" filter="url(#spk)" transform="rotate(0 625 815)"/>
<ellipse cx="640" cy="850" rx="14.4" ry="10.1" fill="#fff" filter="url(#spk)" transform="rotate(0 640 850)"/>
<ellipse cx="810" cy="868" rx="11.5" ry="7.2" fill="#fff" filter="url(#spk)" transform="rotate(0 810 868)"/>
<ellipse cx="735" cy="888" rx="15.8" ry="7.2" fill="#fff" filter="url(#spk)" transform="rotate(0 735 888)"/>
<ellipse cx="820" cy="900" rx="8.6" ry="7.2" fill="#fff" filter="url(#spk)" transform="rotate(0 820 900)"/>
<ellipse cx="938" cy="895" rx="21.6" ry="11.5" fill="#fff" filter="url(#spk)" transform="rotate(0 938 895)"/>
<ellipse cx="955" cy="690" rx="10.1" ry="10.1" fill="#fff" filter="url(#spk)" transform="rotate(0 955 690)"/>
<ellipse cx="930" cy="668" rx="10.1" ry="5.8" fill="#fff" filter="url(#spk)" transform="rotate(0 930 668)"/>
<ellipse cx="570" cy="655" rx="10.1" ry="5.8" fill="#fff" filter="url(#spk)" transform="rotate(0 570 655)"/>
<ellipse cx="885" cy="760" rx="13" ry="11.5" fill="#fff" filter="url(#spk)" transform="rotate(0 885 760)"/>
<ellipse cx="840" cy="815" rx="8.6" ry="7.2" fill="#fff" filter="url(#spk)" transform="rotate(0 840 815)"/>
<ellipse cx="555" cy="735" rx="21.6" ry="27.4" fill="#fff" filter="url(#spk)" transform="rotate(0 555 735)"/>
<ellipse cx="905" cy="855" rx="7.2" ry="8.6" fill="#fff" filter="url(#spk)" transform="rotate(0 905 855)"/>
<path d="M540 656c20-4 48-5 68 0c2 3 0 5-4 6c-22-2-44 0-62 3c-5-2-5-6-2-9z" fill="#000" opacity="0.8" filter="url(#bl1)"/>
<g fill="#3ef21d" filter="url(#gedge)">
<polygon points="574.8,673.9 584,668.8 596.4,664.6 608.7,665.7 617.9,669.8 612.8,674.9 602.5,679 588.2,682.1 579.9,679"/>
<polygon points="546,710.9 553.2,704.7 563.5,705.7 571.7,713.9 573.8,722.2 581,730.4 582,740.6 575.8,748.9 567.6,755 557.3,759.1 552.2,765.3 545,766.3 539.9,759.1 536.8,748.9 540.9,740.6 548.1,734.5 549.1,724.2 545,718"/>
<ellipse cx="829.5" cy="710" rx="9.5" ry="6" transform="rotate(10 829.5 710)"/>
<ellipse cx="930" cy="668.5" rx="11" ry="4.5" transform="rotate(8 930 668.5)"/>
<ellipse cx="957" cy="698" rx="5" ry="8.5" transform="rotate(-10 957 698)"/>
<ellipse cx="625" cy="814.5" rx="4.8" ry="5.5" transform="rotate(0 625 814.5)"/>
<ellipse cx="979" cy="848" rx="2" ry="4" transform="rotate(0 979 848)"/>
</g>
<polygon fill="#fff" points="845.6,696.8 863.5,677.8 867.1,681.1 870,666.7 855.7,670.4 859.3,673.8 841.4,692.8"/>
<polygon fill="#fff" points="722.3,801.6 742.5,780.5 746,783.9 749,769.5 734.7,773.1 738.3,776.5 718.1,797.6"/>
<polygon fill="#fff" points="575.5,855 594.4,835.3 598,838.7 601,824.3 586.7,827.9 590.2,831.3 571.3,851"/>
<polygon fill="#fff" points="854.9,829.3 835.9,849.9 832.3,846.5 829.5,861 843.7,857.1 840.1,853.8 859.1,833.3"/>
<polygon fill="#fff" points="716.1,932 735,912.1 738.6,915.4 741.5,901 727.2,904.7 730.8,908.1 711.9,928"/>
<polygon fill="#fff" points="784.7,942.2 804.1,921.7 807.7,925 810.6,910.6 796.3,914.3 799.9,917.7 780.5,938.2"/>
<polygon fill="#fff" points="893.4,937.3 911,918.4 914.6,921.8 917.4,907.3 903.2,911.1 906.8,914.5 889.2,933.3"/>
<rect x="886.9" y="933.3" width="92" height="4.8" fill="#fff"/>
<text x="945.5" y="928.9" font-size="12.3" text-anchor="middle" fill="#e4e4e4" >500 µm</text>
<rect x="19.6" y="948.9" width="117.5" height="6" fill="#000"/>
<text x="33.6" y="975.2" font-size="24.8" text-anchor="start" fill="#000" textLength="82.5" lengthAdjust="spacingAndGlyphs" >500 µm</text>
</g>
<g id="panel-d">
<text x="1000" y="592.8" font-size="48.5" text-anchor="start" fill="#000" font-weight="bold" >d</text>
<line x1="1090.7" y1="633.6" x2="1090.7" y2="943.3" stroke="#000" stroke-width="2.6" />
<line x1="1089.4" y1="942" x2="1398.7" y2="942" stroke="#000" stroke-width="2.6" />
<line x1="1081.2" y1="942" x2="1090.7" y2="942" stroke="#000" stroke-width="2.6" />
<text x="1077.1" y="950.1" font-size="23" text-anchor="end" fill="#000" font-weight="bold" >0</text>
<line x1="1081.2" y1="865.2" x2="1090.7" y2="865.2" stroke="#000" stroke-width="2.6" />
<text x="1077.1" y="873.3" font-size="23" text-anchor="end" fill="#000" font-weight="bold" >100</text>
<line x1="1081.2" y1="788.4" x2="1090.7" y2="788.4" stroke="#000" stroke-width="2.6" />
<text x="1077.1" y="796.5" font-size="23" text-anchor="end" fill="#000" font-weight="bold" >200</text>
<line x1="1081.2" y1="711.6" x2="1090.7" y2="711.6" stroke="#000" stroke-width="2.6" />
<text x="1077.1" y="719.7" font-size="23" text-anchor="end" fill="#000" font-weight="bold" >300</text>
<line x1="1081.2" y1="634.8" x2="1090.7" y2="634.8" stroke="#000" stroke-width="2.6" />
<text x="1077.1" y="642.9" font-size="23" text-anchor="end" fill="#000" font-weight="bold" >400</text>
<line x1="1121" y1="942" x2="1121" y2="952" stroke="#000" stroke-width="2.6" />
<text transform="translate(1125.6 975.8) rotate(-28)" font-size="22.8" font-weight="bold" text-anchor="end">Vehicle</text>
<line x1="1183" y1="942" x2="1183" y2="952" stroke="#000" stroke-width="2.6" />
<text transform="translate(1187.6 975.8) rotate(-28)" font-size="22.8" font-weight="bold" text-anchor="end">0.01 nM</text>
<line x1="1244.2" y1="942" x2="1244.2" y2="952" stroke="#000" stroke-width="2.6" />
<text transform="translate(1248.8 975.8) rotate(-28)" font-size="22.8" font-weight="bold" text-anchor="end">0.1 nM</text>
<line x1="1305.8" y1="942" x2="1305.8" y2="952" stroke="#000" stroke-width="2.6" />
<text transform="translate(1310.4 975.8) rotate(-28)" font-size="22.8" font-weight="bold" text-anchor="end">1.0 nM</text>
<line x1="1366.7" y1="942" x2="1366.7" y2="952" stroke="#000" stroke-width="2.6" />
<text transform="translate(1371.3 975.8) rotate(-28)" font-size="22.8" font-weight="bold" text-anchor="end">10 nM</text>
<text x="1244.3" y="1066.2" font-size="24" text-anchor="middle" fill="#000" font-weight="bold" textLength="255.5" lengthAdjust="spacingAndGlyphs" >NI301A concentration</text>
<text transform="translate(1020.4 788) rotate(-90)" font-size="26" text-anchor="middle"  textLength="302" lengthAdjust="spacingAndGlyphs">Number of ATTR deposits</text>
<path d="M1119.8 599.5V584.3H1376.8V742.3" fill="none" stroke="#000" stroke-width="2.8"/>
<path d="M1119 638.5V624H1314.7V682.3" fill="none" stroke="#000" stroke-width="2.8"/>
<text x="1246.4" y="586" font-size="44" text-anchor="middle" fill="#000" textLength="36" lengthAdjust="spacingAndGlyphs" >**</text>
<text x="1215.8" y="632" font-size="44" text-anchor="middle" fill="#000" >*</text>
<line x1="1121" y1="720.7" x2="1121" y2="833.7" stroke="#000" stroke-width="2.6" />
<line x1="1110.8" y1="720.7" x2="1131.2" y2="720.7" stroke="#000" stroke-width="2.6" />
<line x1="1110.8" y1="833.7" x2="1131.2" y2="833.7" stroke="#000" stroke-width="2.6" />
<line x1="1101" y1="776.4" x2="1141" y2="776.4" stroke="#000" stroke-width="2.6" />
<circle cx="1121" cy="648" r="5.3" fill="#000"/>
<circle cx="1121" cy="669" r="5.3" fill="#000"/>
<circle cx="1121" cy="679" r="5.3" fill="#000"/>
<circle cx="1124.5" cy="692" r="5.3" fill="#000"/>
<circle cx="1117.5" cy="699" r="5.3" fill="#000"/>
<circle cx="1121" cy="741" r="5.3" fill="#000"/>
<circle cx="1118" cy="781" r="5.3" fill="#000"/>
<circle cx="1124.8" cy="781" r="5.3" fill="#000"/>
<circle cx="1105.3" cy="792" r="5.3" fill="#000"/>
<circle cx="1137.8" cy="792" r="5.3" fill="#000"/>
<circle cx="1112" cy="795" r="5.3" fill="#000"/>
<circle cx="1131" cy="800" r="5.3" fill="#000"/>
<circle cx="1104.2" cy="802.5" r="5.3" fill="#000"/>
<circle cx="1117.6" cy="802.5" r="5.3" fill="#000"/>
<circle cx="1122" cy="805" r="5.3" fill="#000"/>
<circle cx="1109.8" cy="810" r="5.3" fill="#000"/>
<circle cx="1116.5" cy="812.7" r="5.3" fill="#000"/>
<circle cx="1126.6" cy="810.5" r="5.3" fill="#000"/>
<circle cx="1131" cy="816" r="5.3" fill="#000"/>
<circle cx="1118.7" cy="817" r="5.3" fill="#000"/>
<circle cx="1124.3" cy="823" r="5.3" fill="#000"/>
<circle cx="1114.3" cy="835.8" r="5.3" fill="#000"/>
<circle cx="1127" cy="834" r="5.3" fill="#000"/>
<line x1="1183" y1="743.3" x2="1183" y2="861.3" stroke="#000" stroke-width="2.6" />
<line x1="1172.8" y1="743.3" x2="1193.2" y2="743.3" stroke="#000" stroke-width="2.6" />
<line x1="1172.8" y1="861.3" x2="1193.2" y2="861.3" stroke="#000" stroke-width="2.6" />
<line x1="1163" y1="802.6" x2="1203" y2="802.6" stroke="#000" stroke-width="2.6" />
<rect x="1178.2" y="686.2" width="9.6" height="9.6" fill="#000"/>
<rect x="1178.2" y="795.6" width="9.6" height="9.6" fill="#000"/>
<rect x="1167.7" y="812.4" width="9.6" height="9.6" fill="#000"/>
<rect x="1187.8" y="812.4" width="9.6" height="9.6" fill="#000"/>
<rect x="1178.2" y="824.1" width="9.6" height="9.6" fill="#000"/>
<rect x="1178.2" y="857.9" width="9.6" height="9.6" fill="#000"/>
<line x1="1244.2" y1="759" x2="1244.2" y2="859.3" stroke="#000" stroke-width="2.6" />
<line x1="1234" y1="759" x2="1254.4" y2="759" stroke="#000" stroke-width="2.6" />
<line x1="1234" y1="859.3" x2="1254.4" y2="859.3" stroke="#000" stroke-width="2.6" />
<line x1="1224.2" y1="808.7" x2="1264.2" y2="808.7" stroke="#000" stroke-width="2.6" />
<path d="M1239 709.9H1249.4L1244.2 719.3Z" fill="#000"/>
<path d="M1239 794.1H1249.4L1244.2 803.5Z" fill="#000"/>
<path d="M1239 806.3H1249.4L1244.2 815.7Z" fill="#000"/>
<path d="M1239 819.3H1249.4L1244.2 828.7Z" fill="#000"/>
<path d="M1229.3 845H1239.7L1234.5 854.4Z" fill="#000"/>
<path d="M1248.6 842.7H1259L1253.8 852.1Z" fill="#000"/>
<line x1="1305.7" y1="802.9" x2="1305.7" y2="880.3" stroke="#000" stroke-width="2.6" />
<line x1="1295.5" y1="802.9" x2="1315.9" y2="802.9" stroke="#000" stroke-width="2.6" />
<line x1="1295.5" y1="880.3" x2="1315.9" y2="880.3" stroke="#000" stroke-width="2.6" />
<line x1="1285.7" y1="841.8" x2="1325.7" y2="841.8" stroke="#000" stroke-width="2.6" />
<circle cx="1305.7" cy="782.1" r="4.3" fill="#fff" stroke="#000" stroke-width="4.0"/>
<circle cx="1296.4" cy="828" r="4.3" fill="#fff" stroke="#000" stroke-width="4.0"/>
<circle cx="1296.4" cy="838.8" r="4.3" fill="#fff" stroke="#000" stroke-width="4.0"/>
<circle cx="1315.1" cy="833.2" r="4.3" fill="#fff" stroke="#000" stroke-width="4.0"/>
<circle cx="1296.7" cy="887.8" r="4.3" fill="#fff" stroke="#000" stroke-width="4.0"/>
<circle cx="1315.1" cy="884.1" r="4.3" fill="#fff" stroke="#000" stroke-width="4.0"/>
<line x1="1367" y1="837.7" x2="1367" y2="896.3" stroke="#000" stroke-width="2.6" />
<line x1="1356.8" y1="837.7" x2="1377.2" y2="837.7" stroke="#000" stroke-width="2.6" />
<line x1="1356.8" y1="896.3" x2="1377.2" y2="896.3" stroke="#000" stroke-width="2.6" />
<line x1="1347" y1="866.9" x2="1387" y2="866.9" stroke="#000" stroke-width="2.6" />
<path d="M1358.1 829.5L1365.2 843H1351Z" fill="#000"/><circle cx="1358.1" cy="838.4" r="1.1" fill="#9a9a9a"/>
<path d="M1376 828.2L1383.1 841.8H1368.9Z" fill="#000"/><circle cx="1376" cy="837.2" r="1.1" fill="#9a9a9a"/>
<path d="M1357.8 858.8L1364.9 872.2H1350.7Z" fill="#000"/><circle cx="1357.8" cy="867.7" r="1.1" fill="#9a9a9a"/>
<path d="M1376 852.6L1383.1 866.1H1368.9Z" fill="#000"/><circle cx="1376" cy="861.6" r="1.1" fill="#9a9a9a"/>
<path d="M1358 897.1L1365.1 910.6H1350.9Z" fill="#000"/><circle cx="1358" cy="906.1" r="1.1" fill="#9a9a9a"/>
<path d="M1376 891.5L1383.1 905H1368.9Z" fill="#000"/><circle cx="1376" cy="900.4" r="1.1" fill="#9a9a9a"/>
<line x1="1599.6" y1="638.8" x2="1599.6" y2="945.5" stroke="#000" stroke-width="2.6" />
<line x1="1598.3" y1="944.2" x2="1903" y2="944.2" stroke="#000" stroke-width="2.6" />
<line x1="1590.1" y1="944.2" x2="1599.6" y2="944.2" stroke="#000" stroke-width="2.6" />
<text x="1586" y="952.3" font-size="23" text-anchor="end" fill="#000" font-weight="bold" >0</text>
<line x1="1590.1" y1="868.2" x2="1599.6" y2="868.2" stroke="#000" stroke-width="2.6" />
<text x="1586" y="876.3" font-size="23" text-anchor="end" fill="#000" font-weight="bold" >300000</text>
<line x1="1590.1" y1="792.1" x2="1599.6" y2="792.1" stroke="#000" stroke-width="2.6" />
<text x="1586" y="800.2" font-size="23" text-anchor="end" fill="#000" font-weight="bold" >600000</text>
<line x1="1590.1" y1="716.1" x2="1599.6" y2="716.1" stroke="#000" stroke-width="2.6" />
<text x="1586" y="724.2" font-size="23" text-anchor="end" fill="#000" font-weight="bold" >900000</text>
<line x1="1590.1" y1="640" x2="1599.6" y2="640" stroke="#000" stroke-width="2.6" />
<text x="1586" y="648.1" font-size="23" text-anchor="end" fill="#000" font-weight="bold" >1200000</text>
<line x1="1628.7" y1="944.2" x2="1628.7" y2="954.2" stroke="#000" stroke-width="2.6" />
<text transform="translate(1633.3 977.5) rotate(-28)" font-size="22.8" font-weight="bold" text-anchor="end">Vehicle</text>
<line x1="1689.4" y1="944.2" x2="1689.4" y2="954.2" stroke="#000" stroke-width="2.6" />
<text transform="translate(1694 977.5) rotate(-28)" font-size="22.8" font-weight="bold" text-anchor="end">0.01 nM</text>
<line x1="1750.3" y1="944.2" x2="1750.3" y2="954.2" stroke="#000" stroke-width="2.6" />
<text transform="translate(1754.9 977.5) rotate(-28)" font-size="22.8" font-weight="bold" text-anchor="end">0.1 nM</text>
<line x1="1811" y1="944.2" x2="1811" y2="954.2" stroke="#000" stroke-width="2.6" />
<text transform="translate(1815.6 977.5) rotate(-28)" font-size="22.8" font-weight="bold" text-anchor="end">1.0 nM</text>
<line x1="1871.3" y1="944.2" x2="1871.3" y2="954.2" stroke="#000" stroke-width="2.6" />
<text transform="translate(1875.9 977.5) rotate(-28)" font-size="22.8" font-weight="bold" text-anchor="end">10 nM</text>
<text x="1751" y="1066.2" font-size="24" text-anchor="middle" fill="#000" font-weight="bold" textLength="255.5" lengthAdjust="spacingAndGlyphs" >NI301A concentration</text>
<text transform="translate(1472.8 790) rotate(-90)" font-size="25.5" text-anchor="middle" font-weight="bold" textLength="283" lengthAdjust="spacingAndGlyphs">Total deposit area (µm<tspan dy="-10" font-size="17">2</tspan><tspan dy="10">)</tspan></text>
<path d="M1628.7 621.5V606.4H1877.8V729.3" fill="none" stroke="#000" stroke-width="2.8"/>
<circle cx="1752" cy="583.8" r="3.9" fill="#fff" stroke="#000" stroke-width="2.6"/>
<line x1="1628.7" y1="758.7" x2="1628.7" y2="887.8" stroke="#000" stroke-width="2.6" />
<line x1="1618.5" y1="758.7" x2="1638.9" y2="758.7" stroke="#000" stroke-width="2.6" />
<line x1="1618.5" y1="887.8" x2="1638.9" y2="887.8" stroke="#000" stroke-width="2.6" />
<line x1="1608.7" y1="823.2" x2="1648.7" y2="823.2" stroke="#000" stroke-width="2.6" />
<circle cx="1628.7" cy="642.2" r="5.3" fill="#000"/>
<circle cx="1628.7" cy="681.6" r="5.3" fill="#000"/>
<circle cx="1628.7" cy="714.1" r="5.3" fill="#000"/>
<circle cx="1628.7" cy="754.5" r="5.3" fill="#000"/>
<circle cx="1626" cy="779.2" r="5.3" fill="#000"/>
<circle cx="1631.5" cy="779.2" r="5.3" fill="#000"/>
<circle cx="1628.7" cy="828.5" r="5.3" fill="#000"/>
<circle cx="1628.7" cy="837.5" r="5.3" fill="#000"/>
<circle cx="1613" cy="855" r="5.3" fill="#000"/>
<circle cx="1618" cy="847.5" r="5.3" fill="#000"/>
<circle cx="1623" cy="852" r="5.3" fill="#000"/>
<circle cx="1628" cy="849" r="5.3" fill="#000"/>
<circle cx="1634" cy="850" r="5.3" fill="#000"/>
<circle cx="1640" cy="848" r="5.3" fill="#000"/>
<circle cx="1645" cy="848" r="5.3" fill="#000"/>
<circle cx="1647" cy="855" r="5.3" fill="#000"/>
<circle cx="1616" cy="857" r="5.3" fill="#000"/>
<circle cx="1621" cy="860" r="5.3" fill="#000"/>
<circle cx="1627" cy="858" r="5.3" fill="#000"/>
<circle cx="1633" cy="860" r="5.3" fill="#000"/>
<circle cx="1639" cy="858" r="5.3" fill="#000"/>
<circle cx="1644" cy="859" r="5.3" fill="#000"/>
<circle cx="1628.7" cy="864" r="5.3" fill="#000"/>
<circle cx="1624.5" cy="876.5" r="5.3" fill="#000"/>
<circle cx="1632.5" cy="876.5" r="5.3" fill="#000"/>
<line x1="1689.4" y1="776.3" x2="1689.4" y2="901" stroke="#000" stroke-width="2.6" />
<line x1="1679.2" y1="776.3" x2="1699.6" y2="776.3" stroke="#000" stroke-width="2.6" />
<line x1="1679.2" y1="901" x2="1699.6" y2="901" stroke="#000" stroke-width="2.6" />
<line x1="1669.4" y1="838.4" x2="1709.4" y2="838.4" stroke="#000" stroke-width="2.6" />
<rect x="1684.6" y="718.6" width="9.6" height="9.6" fill="#000"/>
<rect x="1675.8" y="832.9" width="9.6" height="9.6" fill="#000"/>
<rect x="1694.6" y="835.4" width="9.6" height="9.6" fill="#000"/>
<rect x="1684.6" y="846.7" width="9.6" height="9.6" fill="#000"/>
<rect x="1684.6" y="867.2" width="9.6" height="9.6" fill="#000"/>
<rect x="1684.6" y="904.8" width="9.6" height="9.6" fill="#000"/>
<line x1="1750.3" y1="770.8" x2="1750.3" y2="911" stroke="#000" stroke-width="2.6" />
<line x1="1740.1" y1="770.8" x2="1760.5" y2="770.8" stroke="#000" stroke-width="2.6" />
<line x1="1740.1" y1="911" x2="1760.5" y2="911" stroke="#000" stroke-width="2.6" />
<line x1="1730.3" y1="840.7" x2="1770.3" y2="840.7" stroke="#000" stroke-width="2.6" />
<path d="M1745.1 698.7H1755.5L1750.3 708.1Z" fill="#000"/>
<path d="M1745.1 829.7H1755.5L1750.3 839.1Z" fill="#000"/>
<path d="M1735.6 860.1H1746L1740.8 869.5Z" fill="#000"/>
<path d="M1754.3 858.6H1764.7L1759.5 868Z" fill="#000"/>
<path d="M1754.3 879.9H1764.7L1759.5 889.3Z" fill="#000"/>
<path d="M1735.6 887.3H1746L1740.8 896.7Z" fill="#000"/>
<line x1="1811" y1="810.9" x2="1811" y2="920.9" stroke="#000" stroke-width="2.6" />
<line x1="1800.8" y1="810.9" x2="1821.2" y2="810.9" stroke="#000" stroke-width="2.6" />
<line x1="1800.8" y1="920.9" x2="1821.2" y2="920.9" stroke="#000" stroke-width="2.6" />
<line x1="1791" y1="866.5" x2="1831" y2="866.5" stroke="#000" stroke-width="2.6" />
<circle cx="1811" cy="758" r="4.3" fill="#fff" stroke="#000" stroke-width="4.0"/>
<circle cx="1801.4" cy="869" r="4.3" fill="#fff" stroke="#000" stroke-width="4.0"/>
<circle cx="1820.5" cy="876.5" r="4.3" fill="#fff" stroke="#000" stroke-width="4.0"/>
<circle cx="1801.4" cy="884.6" r="4.3" fill="#fff" stroke="#000" stroke-width="4.0"/>
<circle cx="1811.2" cy="897" r="4.3" fill="#fff" stroke="#000" stroke-width="4.0"/>
<circle cx="1811.2" cy="912" r="4.3" fill="#fff" stroke="#000" stroke-width="4.0"/>
<line x1="1871.3" y1="871" x2="1871.3" y2="915.4" stroke="#000" stroke-width="2.6" />
<line x1="1861.1" y1="871" x2="1881.5" y2="871" stroke="#000" stroke-width="2.6" />
<line x1="1861.1" y1="915.4" x2="1881.5" y2="915.4" stroke="#000" stroke-width="2.6" />
<line x1="1851.3" y1="894" x2="1891.3" y2="894" stroke="#000" stroke-width="2.6" />
<path d="M1871 856L1878.1 869.5H1863.9Z" fill="#000"/><circle cx="1871" cy="865" r="1.1" fill="#9a9a9a"/>
<path d="M1871 868.5L1878.1 882H1863.9Z" fill="#000"/><circle cx="1871" cy="877.5" r="1.1" fill="#9a9a9a"/>
<path d="M1880.6 884.9L1887.7 898.4H1873.5Z" fill="#000"/><circle cx="1880.6" cy="893.8" r="1.1" fill="#9a9a9a"/>
<path d="M1862.3 891.5L1869.4 905H1855.2Z" fill="#000"/><circle cx="1862.3" cy="900.5" r="1.1" fill="#9a9a9a"/>
<path d="M1862.3 911.9L1869.4 925.4H1855.2Z" fill="#000"/><circle cx="1862.3" cy="920.8" r="1.1" fill="#9a9a9a"/>
<path d="M1880.6 911.1L1887.7 924.6H1873.5Z" fill="#000"/><circle cx="1880.6" cy="920.1" r="1.1" fill="#9a9a9a"/>
</g>
</svg>
</body></html>
